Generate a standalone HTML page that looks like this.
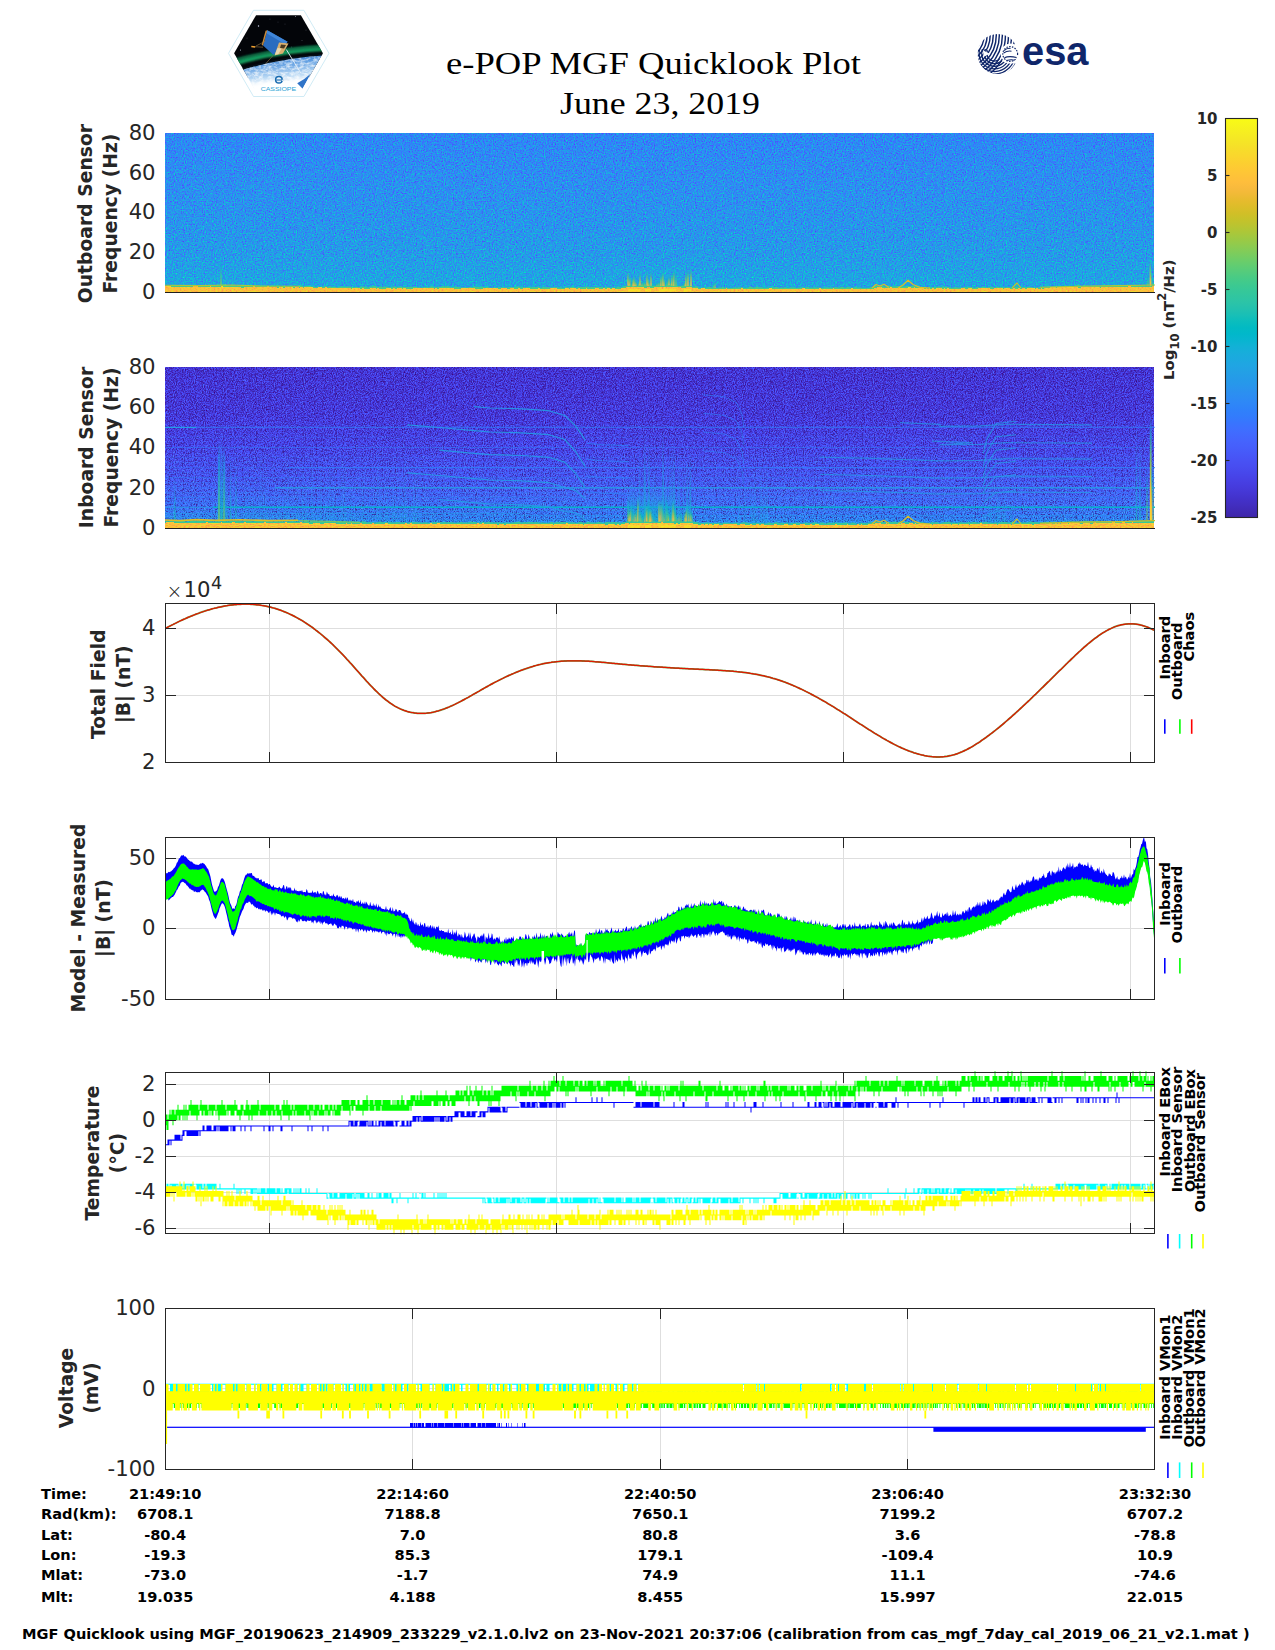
<!DOCTYPE html>
<html lang="en"><head><meta charset="utf-8"><title>e-POP MGF Quicklook Plot</title>
<style>html,body{margin:0;padding:0;background:#fff;overflow:hidden}svg{display:block}</style></head>
<body>
<svg width="1275" height="1650" viewBox="0 0 1275 1650">
<defs>
<linearGradient id="cb" x1="0" y1="1" x2="0" y2="0">
<stop offset="0.0000" stop-color="#3e26a8"/>
<stop offset="0.0159" stop-color="#402ab4"/>
<stop offset="0.0317" stop-color="#422ec0"/>
<stop offset="0.0476" stop-color="#4332cb"/>
<stop offset="0.0635" stop-color="#4537d5"/>
<stop offset="0.0794" stop-color="#463cde"/>
<stop offset="0.0952" stop-color="#4741e5"/>
<stop offset="0.1111" stop-color="#4747eb"/>
<stop offset="0.1270" stop-color="#484df0"/>
<stop offset="0.1429" stop-color="#4852f4"/>
<stop offset="0.1587" stop-color="#4758f8"/>
<stop offset="0.1746" stop-color="#465efb"/>
<stop offset="0.1905" stop-color="#4563fd"/>
<stop offset="0.2063" stop-color="#4269fe"/>
<stop offset="0.2222" stop-color="#3e6fff"/>
<stop offset="0.2381" stop-color="#3875fe"/>
<stop offset="0.2540" stop-color="#327cfc"/>
<stop offset="0.2698" stop-color="#2f81fa"/>
<stop offset="0.2857" stop-color="#2e87f7"/>
<stop offset="0.3016" stop-color="#2d8cf3"/>
<stop offset="0.3175" stop-color="#2b91ef"/>
<stop offset="0.3333" stop-color="#2797eb"/>
<stop offset="0.3492" stop-color="#259be8"/>
<stop offset="0.3651" stop-color="#23a0e5"/>
<stop offset="0.3810" stop-color="#20a5e3"/>
<stop offset="0.3968" stop-color="#1ca9df"/>
<stop offset="0.4127" stop-color="#18addb"/>
<stop offset="0.4286" stop-color="#12b1d6"/>
<stop offset="0.4444" stop-color="#08b5d0"/>
<stop offset="0.4603" stop-color="#01b8ca"/>
<stop offset="0.4762" stop-color="#02bac3"/>
<stop offset="0.4921" stop-color="#0bbdbd"/>
<stop offset="0.5079" stop-color="#19bfb6"/>
<stop offset="0.5238" stop-color="#24c1ae"/>
<stop offset="0.5397" stop-color="#2cc4a7"/>
<stop offset="0.5556" stop-color="#31c69f"/>
<stop offset="0.5714" stop-color="#37c897"/>
<stop offset="0.5873" stop-color="#3fca8e"/>
<stop offset="0.6032" stop-color="#4acb84"/>
<stop offset="0.6190" stop-color="#57cc7a"/>
<stop offset="0.6349" stop-color="#64cd6f"/>
<stop offset="0.6508" stop-color="#72cd64"/>
<stop offset="0.6667" stop-color="#81cc59"/>
<stop offset="0.6825" stop-color="#8fcb4e"/>
<stop offset="0.6984" stop-color="#9dc943"/>
<stop offset="0.7143" stop-color="#abc739"/>
<stop offset="0.7302" stop-color="#b9c431"/>
<stop offset="0.7460" stop-color="#c5c22a"/>
<stop offset="0.7619" stop-color="#d1bf27"/>
<stop offset="0.7778" stop-color="#dcbd29"/>
<stop offset="0.7937" stop-color="#e6bb2d"/>
<stop offset="0.8095" stop-color="#f0ba36"/>
<stop offset="0.8254" stop-color="#f8ba3d"/>
<stop offset="0.8413" stop-color="#febe3c"/>
<stop offset="0.8571" stop-color="#fec338"/>
<stop offset="0.8730" stop-color="#fec934"/>
<stop offset="0.8889" stop-color="#fccf30"/>
<stop offset="0.9048" stop-color="#fad62d"/>
<stop offset="0.9206" stop-color="#f7dc2a"/>
<stop offset="0.9365" stop-color="#f5e327"/>
<stop offset="0.9524" stop-color="#f5e924"/>
<stop offset="0.9683" stop-color="#f6ef20"/>
<stop offset="0.9841" stop-color="#f7f51b"/>
<stop offset="1.0000" stop-color="#f9fb15"/>
</linearGradient>
<filter id="nz1" x="0" y="0" width="100%" height="100%" color-interpolation-filters="sRGB">
<feTurbulence type="fractalNoise" baseFrequency="0.9 0.75" numOctaves="2" seed="3" result="n"/>
<feColorMatrix in="n" type="matrix" values="-0.462 0 0 0 0.731  0.836 0 0 0 0.082  -0.440 0 0 0 0.720  0 0 0 0 1" result="m"/>
<feComposite in="SourceGraphic" in2="m" operator="arithmetic" k1="0" k2="1" k3="1" k4="-0.5" result="a"/>
<feComposite in="a" in2="SourceAlpha" operator="in"/>
</filter>
<filter id="nz3" x="0" y="0" width="100%" height="100%" color-interpolation-filters="sRGB">
<feTurbulence type="fractalNoise" baseFrequency="0.5 0.9" numOctaves="2" seed="5" result="n"/>
<feColorMatrix in="n" type="matrix" values="-0.330 0 0 0 0.665  0.550 0 0 0 0.225  -0.220 0 0 0 0.610  0 0 0 0 1" result="m"/>
<feComposite in="SourceGraphic" in2="m" operator="arithmetic" k1="0" k2="1" k3="1" k4="-0.5" result="a"/>
<feComposite in="a" in2="SourceAlpha" operator="in"/>
</filter>
<filter id="nz2" x="0" y="0" width="100%" height="100%" color-interpolation-filters="sRGB">
<feTurbulence type="fractalNoise" baseFrequency="0.9 0.75" numOctaves="2" seed="9" result="n"/>
<feColorMatrix in="n" type="matrix" values="0.108 0 0 0 0.446  0.612 0 0 0 0.194  0.990 0 0 0 0.005  0 0 0 0 1" result="m"/>
<feComposite in="SourceGraphic" in2="m" operator="arithmetic" k1="0" k2="1" k3="1" k4="-0.5" result="a"/>
<feComposite in="a" in2="SourceAlpha" operator="in"/>
</filter>
<filter id="spkA" x="0" y="0" width="100%" height="100%" color-interpolation-filters="sRGB">
<feTurbulence type="fractalNoise" baseFrequency="0.85 0.7" numOctaves="1" seed="21"/>
<feColorMatrix type="matrix" values="0 0 0 0 0.300  0 0 0 0 0.300  0 0 0 0 0.950  7.00 0 0 0 -4.45"/>
</filter>
<filter id="spkB" x="0" y="0" width="100%" height="100%" color-interpolation-filters="sRGB">
<feTurbulence type="fractalNoise" baseFrequency="0.85 0.7" numOctaves="1" seed="33"/>
<feColorMatrix type="matrix" values="0 0 0 0 0.220  0 0 0 0 0.130  0 0 0 0 0.600  7.00 0 0 0 -4.00"/>
</filter>
<linearGradient id="sp1" x1="0" y1="0" x2="0" y2="1">
<stop offset="0.0000" stop-color="#2d88f6"/>
<stop offset="0.3000" stop-color="#2c8ff1"/>
<stop offset="0.6000" stop-color="#2797eb"/>
<stop offset="0.8500" stop-color="#239fe5"/>
<stop offset="1.0000" stop-color="#1da8e0"/>
</linearGradient>
<linearGradient id="sp2" x1="0" y1="0" x2="0" y2="1">
<stop offset="0.0000" stop-color="#4537d7"/>
<stop offset="0.3000" stop-color="#463cde"/>
<stop offset="0.5000" stop-color="#4747eb"/>
<stop offset="0.6800" stop-color="#4755f6"/>
<stop offset="0.8200" stop-color="#4368fe"/>
<stop offset="0.9000" stop-color="#3a74fe"/>
<stop offset="0.9500" stop-color="#2e83f9"/>
<stop offset="1.0000" stop-color="#2699e9"/>
</linearGradient>
<linearGradient id="fadeUp" x1="0" y1="1" x2="0" y2="0"><stop offset="0" stop-color="#fff" stop-opacity="1"/><stop offset="1" stop-color="#fff" stop-opacity="0"/></linearGradient>
</defs>
<text x="653.5" y="73.6" font-family="'Liberation Serif', serif" font-size="31" text-anchor="middle" fill="#000" textLength="415" lengthAdjust="spacingAndGlyphs">e-POP MGF Quicklook Plot</text>
<text x="660" y="113.5" font-family="'Liberation Serif', serif" font-size="31" text-anchor="middle" fill="#000" textLength="200" lengthAdjust="spacingAndGlyphs">June 23, 2019</text>
<g id="logo">
<defs>
<clipPath id="hexc"><polygon points="234.1,53.3 256.1,15.2 300.9,15.2 322.9,53.3 301.5,90.5 255.3,90.5"/></clipPath>
<filter id="bl1" x="-20%" y="-50%" width="140%" height="200%"><feGaussianBlur stdDeviation="1.3"/></filter>
<filter id="bl2" x="-20%" y="-20%" width="140%" height="140%"><feGaussianBlur stdDeviation="0.7"/></filter>
<filter id="bl3" x="-20%" y="-20%" width="140%" height="140%"><feGaussianBlur stdDeviation="2.2"/></filter>
<linearGradient id="earthg" x1="0" y1="0" x2="0.25" y2="1"><stop offset="0" stop-color="#2a62b8"/><stop offset="0.3" stop-color="#5a9ae0"/><stop offset="0.6" stop-color="#b8d8f4"/><stop offset="0.85" stop-color="#ffffff"/></linearGradient>
<filter id="cloud" x="0" y="0" width="100%" height="100%" color-interpolation-filters="sRGB"><feTurbulence type="fractalNoise" baseFrequency="0.22 0.4" numOctaves="3" seed="4"/><feColorMatrix type="matrix" values="0 0 0 0 1  0 0 0 0 1  0 0 0 0 1  2.6 0 0 0 -0.95"/><feComposite in2="SourceAlpha" operator="in"/></filter>
</defs>
<polygon points="228.5,53.3 253.5,10.3 303.9,10.3 329,53.3 303.9,96.5 253.5,96.5" fill="#fff" stroke="#c4e6f2" stroke-width="0.8"/>
<g clip-path="url(#hexc)">
<rect x="230" y="12" width="96" height="66" fill="#030509"/>
<circle cx="258.5" cy="26" r="0.7" fill="#cfd8f0"/>
<circle cx="240.5" cy="50" r="0.5" fill="#cfd8f0"/>
<circle cx="295.5" cy="16.5" r="0.45" fill="#cfd8f0"/>
<circle cx="270" cy="19" r="0.3" fill="#cfd8f0"/>
<circle cx="302" cy="40.5" r="0.35" fill="#cfd8f0"/>
<circle cx="291.5" cy="47" r="0.35" fill="#cfd8f0"/>
<circle cx="285" cy="24" r="0.25" fill="#cfd8f0"/>
<circle cx="306" cy="30" r="0.3" fill="#cfd8f0"/>
<circle cx="247" cy="38" r="0.25" fill="#cfd8f0"/>
<circle cx="278" cy="22" r="0.25" fill="#cfd8f0"/>
<path d="M232,63.5 Q275,50.5 326,48" fill="none" stroke="#18a060" stroke-width="5.5" filter="url(#bl1)"/>
<path d="M232,61 Q275,48.5 326,46.5" fill="none" stroke="#0e6a44" stroke-width="3" filter="url(#bl1)" opacity="0.8"/>
<path d="M230,73.2 Q276,57.2 326,54.6" fill="none" stroke="#061018" stroke-width="2.2"/>
<path d="M230,74 Q276,58 326,55.3 L326,96 L230,96Z" fill="url(#earthg)"/>
<path d="M230,74 Q276,58 326,55.3 L326,96 L230,96Z" fill="#fff" filter="url(#cloud)" opacity="0.7"/>
<path d="M240,96 L250,84 Q285,78 315,80 L326,96Z" fill="#fff" filter="url(#bl3)"/>
<path d="M310.4,74 L302.7,88.7 L297.2,83.3 Q304,80 310.4,74Z" fill="#2f74c8"/>
<polygon points="267.3,30.2 287.6,41.7 273.5,55 263,45.6" fill="#2a6cc0"/>
<polygon points="267.3,30.2 287.6,41.7 285.5,44.5 266,33" fill="#3f86d8"/>
<polygon points="267.3,30.2 265.6,30.8 261.6,45 263,45.6" fill="#c98a3a"/>
<polygon points="279,42.5 288.5,43.5 283,53.5 274.5,55.5" fill="#d9b070"/>
<polygon points="281,44.5 286,45 284,48.5 280,48" fill="#4a3a20"/>
<polygon points="277.5,48 281.5,48.5 278.5,54 274.8,54.8" fill="#e8d8b0"/>
<path d="M263,47.2 L252.5,46.6 M273,55.5 L265.8,63.6 M265.5,41 L256,46" stroke="#9a7a4a" stroke-width="0.6" fill="none"/>
<path d="M251.3,46.4 L255.2,46.9" stroke="#f0a030" stroke-width="1.5"/>
<path d="M286.3,49.5 L301,73.4" stroke="#e8f0f8" stroke-width="0.9" fill="none"/>
</g>
<circle cx="278.9" cy="79.8" r="3.3" fill="#e8f2fa" stroke="#1b6cb0" stroke-width="1.5"/>
<path d="M276.2,80 H283.5" stroke="#1b6cb0" stroke-width="1.1"/>
<path d="M281.8,80.5 Q286,79 289.5,80.3" stroke="#dfeaf5" stroke-width="1.2" fill="none"/>
<text x="278.4" y="91" font-family="'Liberation Sans', sans-serif" font-size="4.6" text-anchor="middle" fill="#2aa2d4" textLength="35.5" lengthAdjust="spacingAndGlyphs">CASSIOPE</text>
</g>
<g id="esa">
<clipPath id="esac"><circle cx="997.7" cy="54" r="20"/></clipPath>
<clipPath id="esaf1"><path d="M970,30 L1022,30 L1022,46 L1003,60 L996,70 L990,78 L970,78Z"/></clipPath>
<clipPath id="esaf2"><path d="M975,49 L986,49 L994,56 L1004,62 L1020,64 L1020,78 L975,78Z"/></clipPath>
<g clip-path="url(#esac)" fill="none" stroke="#0f266a">
<g clip-path="url(#esaf1)" stroke-width="1.45">
<circle cx="959" cy="35" r="19.00"/>
<circle cx="959" cy="35" r="22.05"/>
<circle cx="959" cy="35" r="25.10"/>
<circle cx="959" cy="35" r="28.15"/>
<circle cx="959" cy="35" r="31.20"/>
<circle cx="959" cy="35" r="34.25"/>
<circle cx="959" cy="35" r="37.30"/>
<circle cx="959" cy="35" r="40.35"/>
<circle cx="959" cy="35" r="43.40"/>
<circle cx="959" cy="35" r="46.45"/>
<circle cx="959" cy="35" r="49.50"/>
<circle cx="959" cy="35" r="52.55"/>
<circle cx="959" cy="35" r="55.60"/>
<circle cx="959" cy="35" r="58.65"/>
<circle cx="959" cy="35" r="61.70"/>
<circle cx="959" cy="35" r="64.75"/>
</g>
<g clip-path="url(#esaf2)" stroke-width="1.25">
<circle cx="994.5" cy="53.5" r="7.60"/>
<circle cx="994.5" cy="53.5" r="10.20"/>
<circle cx="994.5" cy="53.5" r="12.80"/>
<circle cx="994.5" cy="53.5" r="15.40"/>
<circle cx="994.5" cy="53.5" r="18.00"/>
<circle cx="994.5" cy="53.5" r="20.60"/>
<circle cx="994.5" cy="53.5" r="23.20"/>
<circle cx="994.5" cy="53.5" r="25.80"/>
</g>
</g>
<circle cx="1010.6" cy="53.6" r="10.2" fill="#fff"/>
<circle cx="1010.2" cy="54" r="7.4" fill="none" stroke="#0f266a" stroke-width="1.2" stroke-dasharray="1.5 1.3"/>
<rect x="1011.5" y="55.2" width="8" height="3.2" fill="#fff"/>
<path d="M1004.2,50.6 Q1007,47.6 1010.5,48.4 M1003.6,53 Q1007.5,50.4 1011.5,51.2 M1004.4,57.8 Q1009,55.6 1016.6,57.6 M1006.6,60.6 Q1011,59.2 1014.6,60.2" fill="none" stroke="#0f266a" stroke-width="1.05"/>
<path d="M983.4,50.4 L989.8,53.7 L983.4,57Z" fill="#fff"/>
<text x="1022" y="65.3" font-family="'Liberation Sans', sans-serif" font-size="41" font-weight="bold" fill="#0f266a" textLength="66.5" lengthAdjust="spacingAndGlyphs">esa</text>
</g>
<defs>
<linearGradient id="stY" x1="0" y1="1" x2="0" y2="0">
<stop offset="0.000" stop-color="#fdce31" stop-opacity="1.00"/>
<stop offset="0.150" stop-color="#eaba31" stop-opacity="0.95"/>
<stop offset="0.400" stop-color="#5fcd73" stop-opacity="0.80"/>
<stop offset="0.700" stop-color="#07bcbf" stop-opacity="0.50"/>
<stop offset="1.000" stop-color="#1caadf" stop-opacity="0.00"/>
</linearGradient>
<linearGradient id="stG" x1="0" y1="1" x2="0" y2="0">
<stop offset="0.000" stop-color="#c3c22b" stop-opacity="1.00"/>
<stop offset="0.350" stop-color="#48cb86" stop-opacity="0.95"/>
<stop offset="0.700" stop-color="#02b7cb" stop-opacity="0.60"/>
<stop offset="1.000" stop-color="#22a2e4" stop-opacity="0.00"/>
</linearGradient>
<linearGradient id="stC" x1="0" y1="1" x2="0" y2="0">
<stop offset="0.000" stop-color="#1dc0b3" stop-opacity="0.90"/>
<stop offset="0.400" stop-color="#12b1d6" stop-opacity="0.60"/>
<stop offset="1.000" stop-color="#2699e9" stop-opacity="0.00"/>
</linearGradient>
<linearGradient id="stB" x1="0" y1="1" x2="0" y2="0">
<stop offset="0.000" stop-color="#12b1d6" stop-opacity="0.80"/>
<stop offset="0.500" stop-color="#2699e9" stop-opacity="0.50"/>
<stop offset="1.000" stop-color="#2e87f7" stop-opacity="0.00"/>
</linearGradient>
<linearGradient id="hzC" x1="0" y1="1" x2="0" y2="0">
<stop offset="0.000" stop-color="#2dc4a6" stop-opacity="0.85"/>
<stop offset="0.250" stop-color="#02b7cb" stop-opacity="0.70"/>
<stop offset="0.600" stop-color="#22a2e4" stop-opacity="0.40"/>
<stop offset="1.000" stop-color="#2b90ef" stop-opacity="0.00"/>
</linearGradient>
<linearGradient id="hzY" x1="0" y1="1" x2="0" y2="0">
<stop offset="0.000" stop-color="#f8da2b" stop-opacity="1.00"/>
<stop offset="0.300" stop-color="#f9bb3d" stop-opacity="1.00"/>
<stop offset="0.550" stop-color="#92ca4b" stop-opacity="0.90"/>
<stop offset="0.800" stop-color="#1dc0b3" stop-opacity="0.60"/>
<stop offset="1.000" stop-color="#1caadf" stop-opacity="0.00"/>
</linearGradient>
</defs>
<rect x="165" y="133" width="989" height="159" fill="url(#sp1)" filter="url(#nz1)"/>
<rect x="165" y="133" width="989" height="127.2" filter="url(#spkA)" opacity="0.9"/>
<rect x="628" y="275" width="48" height="14" fill="url(#hzC)" opacity="0.7"/>
<rect x="676" y="280" width="16" height="9" fill="url(#hzC)" opacity="0.5"/>
<rect x="627.4" y="268.6" width="1.2" height="20.4" fill="url(#hzY)" opacity="1.00"/>
<rect x="628.4" y="275.5" width="1.2" height="13.5" fill="url(#hzY)" opacity="1.00"/>
<rect x="629.4" y="275" width="1.2" height="14" fill="url(#hzY)" opacity="1.00"/>
<rect x="630.4" y="280.6" width="1.2" height="8.4" fill="url(#stG)" opacity="1.00"/>
<rect x="631.4" y="279.9" width="1.2" height="9.1" fill="url(#stG)" opacity="1.00"/>
<rect x="632.4" y="276.6" width="1.2" height="12.4" fill="url(#hzY)" opacity="1.00"/>
<rect x="633.4" y="274" width="1.2" height="15" fill="url(#hzY)" opacity="1.00"/>
<rect x="634.4" y="278.4" width="1.2" height="10.6" fill="url(#hzY)" opacity="1.00"/>
<rect x="635.4" y="280" width="1.2" height="9" fill="url(#hzY)" opacity="1.00"/>
<rect x="638.4" y="280.9" width="1.2" height="8.1" fill="url(#hzY)" opacity="1.00"/>
<rect x="639.4" y="270.4" width="1.2" height="18.6" fill="url(#hzY)" opacity="1.00"/>
<rect x="641.4" y="280.9" width="1.2" height="8.1" fill="url(#hzY)" opacity="1.00"/>
<rect x="643.4" y="278.6" width="1.2" height="10.4" fill="url(#stG)" opacity="1.00"/>
<rect x="644.4" y="281" width="1.2" height="8" fill="url(#hzY)" opacity="1.00"/>
<rect x="646.4" y="269.8" width="1.2" height="19.2" fill="url(#hzY)" opacity="1.00"/>
<rect x="647.4" y="275.6" width="1.2" height="13.4" fill="url(#hzY)" opacity="1.00"/>
<rect x="648.4" y="280.3" width="1.2" height="8.7" fill="url(#hzY)" opacity="1.00"/>
<rect x="650.4" y="269.7" width="1.2" height="19.3" fill="url(#hzY)" opacity="1.00"/>
<rect x="656.4" y="282.1" width="1.2" height="6.9" fill="url(#hzY)" opacity="1.00"/>
<rect x="658.4" y="280.8" width="1.2" height="8.2" fill="url(#hzY)" opacity="1.00"/>
<rect x="659.4" y="278.9" width="1.2" height="10.1" fill="url(#stG)" opacity="1.00"/>
<rect x="660.4" y="273" width="1.2" height="16" fill="url(#hzY)" opacity="1.00"/>
<rect x="661.4" y="267.3" width="1.2" height="21.7" fill="url(#stG)" opacity="1.00"/>
<rect x="662.4" y="269.2" width="1.2" height="19.8" fill="url(#hzY)" opacity="1.00"/>
<rect x="663.4" y="277.1" width="1.2" height="11.9" fill="url(#hzY)" opacity="1.00"/>
<rect x="665.4" y="281" width="1.2" height="8" fill="url(#stG)" opacity="1.00"/>
<rect x="666.4" y="275.7" width="1.2" height="13.3" fill="url(#stG)" opacity="1.00"/>
<rect x="667.4" y="276.1" width="1.2" height="12.9" fill="url(#stG)" opacity="1.00"/>
<rect x="668.4" y="274.1" width="1.2" height="14.9" fill="url(#hzY)" opacity="1.00"/>
<rect x="670.4" y="280.7" width="1.2" height="8.3" fill="url(#hzY)" opacity="1.00"/>
<rect x="671.4" y="271.8" width="1.2" height="17.2" fill="url(#hzY)" opacity="1.00"/>
<rect x="672.4" y="267.6" width="1.2" height="21.4" fill="url(#stG)" opacity="1.00"/>
<rect x="673.4" y="268.1" width="1.2" height="20.9" fill="url(#hzY)" opacity="1.00"/>
<rect x="674.4" y="274.9" width="1.2" height="14.1" fill="url(#stG)" opacity="1.00"/>
<rect x="675.4" y="266.7" width="1.2" height="22.3" fill="url(#stG)" opacity="1.00"/>
<rect x="681.4" y="284.3" width="1.2" height="4.7" fill="url(#hzY)" opacity="1.00"/>
<rect x="682.4" y="282.1" width="1.2" height="6.9" fill="url(#stG)" opacity="1.00"/>
<rect x="683.4" y="281.4" width="1.2" height="7.6" fill="url(#stG)" opacity="1.00"/>
<rect x="684.4" y="280.7" width="1.2" height="8.3" fill="url(#hzY)" opacity="1.00"/>
<rect x="685.4" y="269.9" width="1.2" height="19.1" fill="url(#hzY)" opacity="1.00"/>
<rect x="686.4" y="269.7" width="1.2" height="19.3" fill="url(#stG)" opacity="1.00"/>
<rect x="687.4" y="267.8" width="1.2" height="21.2" fill="url(#hzY)" opacity="1.00"/>
<rect x="689.4" y="278.2" width="1.2" height="10.8" fill="url(#stG)" opacity="1.00"/>
<rect x="690.4" y="266.3" width="1.2" height="22.7" fill="url(#hzY)" opacity="1.00"/>
<rect x="173.8" y="263" width="1.3" height="26" fill="url(#stC)" opacity="0.85"/>
<rect x="220.3" y="255" width="1.3" height="34" fill="url(#stG)" opacity="0.85"/>
<rect x="222.3" y="267" width="1.3" height="22" fill="url(#stC)" opacity="0.85"/>
<rect x="233.3" y="269" width="1.3" height="20" fill="url(#stC)" opacity="0.85"/>
<rect x="1149.6" y="255" width="1.3" height="34" fill="url(#hzY)" opacity="0.85"/>
<rect x="1150.2" y="267" width="1.3" height="22" fill="url(#hzY)" opacity="0.85"/>
<rect x="1147.3" y="271" width="1.3" height="18" fill="url(#stG)" opacity="0.85"/>
<rect x="1151.8" y="275" width="1.3" height="14" fill="url(#stG)" opacity="0.85"/>
<rect x="1136.3" y="275" width="1.3" height="14" fill="url(#stC)" opacity="0.85"/>
<rect x="1142.3" y="277" width="1.3" height="12" fill="url(#stC)" opacity="0.85"/>
<rect x="714.4" y="279" width="1.3" height="10" fill="url(#stY)" opacity="0.85"/>
<rect x="712.9" y="282" width="1.3" height="7" fill="url(#stG)" opacity="0.85"/>
<path d="M165.0 292.0L165.0 285.8L166.0 285.7L167.0 285.4L168.0 285.3L169.0 285.4L170.0 285.6L171.0 285.6L172.0 285.4L173.0 285.5L174.0 285.5L175.0 285.2L176.0 285.4L177.0 285.6L178.0 285.6L179.0 285.4L180.0 285.0L181.0 284.8L182.0 284.9L183.0 285.2L184.0 285.5L185.0 285.7L186.0 285.8L187.0 285.8L188.0 285.9L189.0 285.9L190.0 285.6L191.0 285.8L192.0 286.0L193.0 285.9L194.0 285.7L195.0 285.6L196.0 285.6L197.0 285.4L198.0 285.3L199.0 285.4L200.0 285.3L201.0 285.1L202.0 285.3L203.0 285.6L204.0 285.1L205.0 284.8L206.0 285.0L207.0 285.1L208.0 285.4L209.0 285.5L210.0 285.5L211.0 285.4L212.0 285.2L213.0 285.0L214.0 285.0L215.0 285.4L216.0 285.9L217.0 285.6L218.0 285.2L219.0 285.6L220.0 286.1L221.0 286.2L222.0 285.8L223.0 285.0L224.0 284.6L225.0 284.9L226.0 285.1L227.0 285.4L228.0 285.8L229.0 285.9L230.0 285.7L231.0 285.9L232.0 285.8L233.0 285.3L234.0 285.4L235.0 285.7L236.0 285.9L237.0 286.0L238.0 285.6L239.0 285.2L240.0 285.2L241.0 285.8L242.0 286.0L243.0 285.7L244.0 285.7L245.0 285.9L246.0 286.0L247.0 285.8L248.0 285.7L249.0 285.7L250.0 285.8L251.0 285.8L252.0 285.4L253.0 285.4L254.0 285.9L255.0 286.3L256.0 286.1L257.0 285.6L258.0 285.5L259.0 285.9L260.0 285.8L261.0 285.5L262.0 285.6L263.0 285.8L264.0 285.4L265.0 285.4L266.0 285.8L267.0 285.4L268.0 285.2L269.0 285.3L270.0 285.7L271.0 285.8L272.0 285.4L273.0 285.5L274.0 286.0L275.0 285.9L276.0 285.5L277.0 285.6L278.0 285.7L279.0 285.5L280.0 285.4L281.0 285.7L282.0 286.0L283.0 285.9L284.0 285.8L285.0 285.7L286.0 285.7L287.0 286.1L288.0 286.5L289.0 286.5L290.0 286.5L291.0 286.4L292.0 286.1L293.0 286.2L294.0 286.5L295.0 286.5L296.0 286.4L297.0 286.4L298.0 286.3L299.0 286.0L300.0 285.7L301.0 285.3L302.0 285.5L303.0 286.3L304.0 286.4L305.0 286.2L306.0 286.1L307.0 286.0L308.0 286.1L309.0 285.9L310.0 285.7L311.0 286.0L312.0 286.7L313.0 286.6L314.0 286.4L315.0 286.8L316.0 287.0L317.0 286.7L318.0 286.6L319.0 287.0L320.0 287.3L321.0 287.2L322.0 286.7L323.0 286.5L324.0 286.5L325.0 286.3L326.0 286.4L327.0 286.6L328.0 286.7L329.0 286.4L330.0 286.2L331.0 286.6L332.0 287.1L333.0 287.0L334.0 286.8L335.0 286.8L336.0 287.0L337.0 287.4L338.0 287.4L339.0 287.0L340.0 286.6L341.0 286.4L342.0 286.5L343.0 286.5L344.0 286.5L345.0 286.9L346.0 286.9L347.0 286.5L348.0 286.5L349.0 286.6L350.0 286.6L351.0 286.7L352.0 287.0L353.0 287.5L354.0 287.4L355.0 286.9L356.0 287.0L357.0 287.1L358.0 287.2L359.0 287.4L360.0 287.0L361.0 286.5L362.0 286.4L363.0 286.4L364.0 286.5L365.0 286.8L366.0 287.1L367.0 287.5L368.0 287.6L369.0 287.2L370.0 286.7L371.0 286.4L372.0 286.4L373.0 286.3L374.0 286.1L375.0 286.1L376.0 286.6L377.0 287.2L378.0 287.4L379.0 287.1L380.0 286.6L381.0 286.6L382.0 286.9L383.0 286.8L384.0 286.5L385.0 286.6L386.0 287.0L387.0 286.7L388.0 286.8L389.0 287.5L390.0 287.6L391.0 287.4L392.0 287.1L393.0 286.6L394.0 286.5L395.0 286.5L396.0 286.7L397.0 287.2L398.0 287.3L399.0 287.0L400.0 286.8L401.0 286.5L402.0 286.7L403.0 286.9L404.0 286.8L405.0 287.1L406.0 287.2L407.0 286.9L408.0 287.0L409.0 287.2L410.0 286.7L411.0 286.6L412.0 286.9L413.0 286.7L414.0 286.8L415.0 287.1L416.0 286.9L417.0 287.1L418.0 287.4L419.0 287.3L420.0 287.4L421.0 287.7L422.0 287.8L423.0 287.6L424.0 287.2L425.0 287.1L426.0 287.3L427.0 287.2L428.0 287.5L429.0 287.4L430.0 286.8L431.0 286.3L432.0 286.3L433.0 286.6L434.0 287.2L435.0 287.4L436.0 287.3L437.0 287.3L438.0 287.1L439.0 286.8L440.0 286.7L441.0 286.8L442.0 286.4L443.0 286.1L444.0 286.4L445.0 286.6L446.0 286.5L447.0 286.3L448.0 286.2L449.0 286.4L450.0 287.0L451.0 287.4L452.0 287.2L453.0 287.3L454.0 287.3L455.0 286.7L456.0 286.5L457.0 286.9L458.0 287.1L459.0 287.2L460.0 287.4L461.0 287.3L462.0 287.4L463.0 287.4L464.0 287.2L465.0 287.4L466.0 287.6L467.0 287.7L468.0 287.4L469.0 286.9L470.0 286.9L471.0 287.1L472.0 287.5L473.0 287.3L474.0 286.6L475.0 286.6L476.0 286.9L477.0 286.7L478.0 286.7L479.0 287.1L480.0 287.3L481.0 287.1L482.0 286.6L483.0 286.7L484.0 287.2L485.0 287.7L486.0 287.4L487.0 286.8L488.0 286.9L489.0 287.5L490.0 287.8L491.0 287.7L492.0 287.7L493.0 287.6L494.0 287.6L495.0 287.7L496.0 287.9L497.0 287.7L498.0 287.5L499.0 287.3L500.0 287.1L501.0 287.2L502.0 287.4L503.0 287.3L504.0 287.5L505.0 287.6L506.0 287.6L507.0 287.7L508.0 287.5L509.0 287.1L510.0 287.0L511.0 287.1L512.0 286.9L513.0 287.0L514.0 287.1L515.0 287.2L516.0 287.1L517.0 286.6L518.0 286.4L519.0 286.4L520.0 286.8L521.0 287.4L522.0 287.2L523.0 286.9L524.0 287.4L525.0 287.6L526.0 287.2L527.0 287.1L528.0 287.3L529.0 287.3L530.0 287.2L531.0 287.4L532.0 287.2L533.0 287.0L534.0 287.0L535.0 287.1L536.0 287.3L537.0 286.8L538.0 286.7L539.0 287.3L540.0 287.8L541.0 287.9L542.0 287.5L543.0 286.9L544.0 286.9L545.0 287.3L546.0 287.6L547.0 287.3L548.0 287.0L549.0 287.5L550.0 287.6L551.0 287.4L552.0 287.6L553.0 287.5L554.0 287.1L555.0 287.2L556.0 287.2L557.0 287.2L558.0 287.5L559.0 287.7L560.0 287.4L561.0 287.2L562.0 287.7L563.0 287.9L564.0 287.7L565.0 287.5L566.0 287.3L567.0 287.2L568.0 287.3L569.0 287.4L570.0 287.2L571.0 286.8L572.0 286.8L573.0 286.9L574.0 287.1L575.0 287.7L576.0 287.7L577.0 287.2L578.0 287.3L579.0 287.4L580.0 287.3L581.0 287.1L582.0 287.0L583.0 287.0L584.0 286.9L585.0 286.8L586.0 286.8L587.0 286.8L588.0 286.8L589.0 287.2L590.0 287.6L591.0 287.1L592.0 287.0L593.0 287.3L594.0 287.0L595.0 286.8L596.0 287.1L597.0 287.2L598.0 286.9L599.0 286.9L600.0 286.9L601.0 286.8L602.0 287.0L603.0 287.4L604.0 287.7L605.0 287.3L606.0 287.1L607.0 287.2L608.0 287.1L609.0 287.3L610.0 287.5L611.0 287.4L612.0 287.4L613.0 287.4L614.0 287.4L615.0 287.7L616.0 287.7L617.0 287.2L618.0 286.8L619.0 286.8L620.0 287.2L621.0 287.4L622.0 287.3L623.0 286.7L624.0 286.2L625.0 286.1L626.0 285.8L627.0 285.6L628.0 285.7L629.0 286.0L630.0 285.5L631.0 285.4L632.0 286.2L633.0 286.6L634.0 286.3L635.0 285.9L636.0 285.9L637.0 285.7L638.0 285.5L639.0 285.4L640.0 285.4L641.0 285.8L642.0 285.9L643.0 285.3L644.0 285.2L645.0 285.6L646.0 285.6L647.0 285.8L648.0 286.1L649.0 285.9L650.0 285.7L651.0 285.7L652.0 285.8L653.0 285.7L654.0 285.5L655.0 285.7L656.0 286.0L657.0 285.7L658.0 285.6L659.0 285.8L660.0 286.1L661.0 286.3L662.0 286.0L663.0 285.9L664.0 286.0L665.0 286.3L666.0 286.4L667.0 286.1L668.0 285.4L669.0 285.1L670.0 285.3L671.0 285.6L672.0 285.8L673.0 286.0L674.0 285.9L675.0 285.7L676.0 285.7L677.0 285.9L678.0 285.9L679.0 286.0L680.0 285.8L681.0 286.0L682.0 286.4L683.0 286.2L684.0 285.8L685.0 286.0L686.0 286.3L687.0 286.2L688.0 285.8L689.0 285.9L690.0 286.1L691.0 286.0L692.0 286.2L693.0 286.8L694.0 286.9L695.0 286.6L696.0 286.1L697.0 286.3L698.0 287.1L699.0 287.7L700.0 287.8L701.0 287.8L702.0 287.9L703.0 287.6L704.0 287.2L705.0 287.6L706.0 288.1L707.0 287.7L708.0 287.1L709.0 287.0L710.0 287.0L711.0 287.3L712.0 287.8L713.0 287.8L714.0 287.8L715.0 287.9L716.0 288.0L717.0 288.1L718.0 287.9L719.0 287.5L720.0 287.7L721.0 287.6L722.0 287.2L723.0 287.1L724.0 287.6L725.0 287.7L726.0 287.4L727.0 287.6L728.0 288.0L729.0 288.0L730.0 287.9L731.0 287.9L732.0 287.9L733.0 287.7L734.0 287.5L735.0 287.4L736.0 287.4L737.0 287.7L738.0 287.5L739.0 287.2L740.0 287.4L741.0 287.3L742.0 287.1L743.0 287.4L744.0 288.1L745.0 288.1L746.0 287.7L747.0 287.9L748.0 287.7L749.0 286.9L750.0 286.6L751.0 286.8L752.0 287.2L753.0 287.5L754.0 287.6L755.0 287.4L756.0 287.0L757.0 286.7L758.0 286.9L759.0 287.4L760.0 287.4L761.0 287.3L762.0 287.5L763.0 287.6L764.0 287.9L765.0 288.0L766.0 287.9L767.0 287.6L768.0 287.6L769.0 287.7L770.0 287.9L771.0 287.8L772.0 287.2L773.0 287.2L774.0 287.4L775.0 287.1L776.0 286.9L777.0 286.9L778.0 287.5L779.0 288.1L780.0 288.0L781.0 287.4L782.0 287.4L783.0 287.7L784.0 287.6L785.0 287.3L786.0 287.4L787.0 288.0L788.0 288.1L789.0 287.9L790.0 287.6L791.0 287.3L792.0 287.5L793.0 287.6L794.0 287.4L795.0 287.5L796.0 287.9L797.0 287.9L798.0 287.8L799.0 287.8L800.0 287.5L801.0 287.2L802.0 287.2L803.0 287.5L804.0 287.8L805.0 287.9L806.0 287.6L807.0 287.0L808.0 287.1L809.0 287.5L810.0 287.8L811.0 287.9L812.0 287.5L813.0 287.4L814.0 287.7L815.0 287.6L816.0 287.4L817.0 287.4L818.0 287.6L819.0 287.6L820.0 287.6L821.0 287.8L822.0 287.8L823.0 287.9L824.0 287.8L825.0 287.5L826.0 287.6L827.0 287.6L828.0 287.5L829.0 287.7L830.0 287.6L831.0 287.5L832.0 287.6L833.0 287.8L834.0 287.6L835.0 287.2L836.0 287.2L837.0 287.3L838.0 287.5L839.0 287.7L840.0 287.5L841.0 287.0L842.0 286.7L843.0 287.0L844.0 287.6L845.0 288.0L846.0 287.7L847.0 287.1L848.0 287.0L849.0 287.3L850.0 287.6L851.0 287.8L852.0 287.8L853.0 287.8L854.0 287.4L855.0 287.0L856.0 287.1L857.0 287.7L858.0 287.8L859.0 287.5L860.0 287.6L861.0 287.8L862.0 287.7L863.0 288.0L864.0 288.3L865.0 288.3L866.0 288.0L867.0 287.8L868.0 288.1L869.0 288.1L870.0 287.5L871.0 287.1L872.0 287.4L873.0 287.1L874.0 286.2L875.0 285.8L876.0 285.7L877.0 285.9L878.0 286.3L879.0 286.3L880.0 286.2L881.0 285.8L882.0 285.8L883.0 286.3L884.0 286.4L885.0 286.5L886.0 286.4L887.0 286.2L888.0 286.1L889.0 285.8L890.0 285.8L891.0 286.3L892.0 286.5L893.0 286.3L894.0 286.4L895.0 286.4L896.0 286.3L897.0 286.0L898.0 286.1L899.0 286.2L900.0 286.2L901.0 286.6L902.0 286.8L903.0 286.7L904.0 286.6L905.0 286.4L906.0 286.1L907.0 285.9L908.0 286.0L909.0 286.3L910.0 286.3L911.0 285.8L912.0 285.7L913.0 286.1L914.0 286.1L915.0 285.9L916.0 286.3L917.0 286.4L918.0 286.2L919.0 286.7L920.0 287.0L921.0 286.6L922.0 286.8L923.0 287.0L924.0 287.1L925.0 287.4L926.0 287.3L927.0 287.7L928.0 287.7L929.0 287.1L930.0 287.3L931.0 287.4L932.0 287.0L933.0 287.0L934.0 286.9L935.0 287.2L936.0 287.4L937.0 287.1L938.0 286.6L939.0 286.5L940.0 286.9L941.0 287.1L942.0 286.8L943.0 286.6L944.0 286.9L945.0 286.8L946.0 286.7L947.0 286.8L948.0 287.1L949.0 287.3L950.0 287.3L951.0 287.7L952.0 287.9L953.0 287.7L954.0 287.5L955.0 287.3L956.0 287.2L957.0 287.3L958.0 287.4L959.0 287.7L960.0 287.6L961.0 287.4L962.0 287.4L963.0 287.4L964.0 287.1L965.0 287.1L966.0 287.3L967.0 287.3L968.0 286.9L969.0 287.0L970.0 287.3L971.0 287.1L972.0 287.1L973.0 287.5L974.0 287.8L975.0 287.9L976.0 287.6L977.0 287.1L978.0 286.9L979.0 287.4L980.0 287.8L981.0 287.5L982.0 286.7L983.0 286.6L984.0 287.3L985.0 287.6L986.0 287.5L987.0 287.5L988.0 287.6L989.0 287.1L990.0 286.9L991.0 286.9L992.0 286.7L993.0 286.9L994.0 287.5L995.0 287.8L996.0 287.3L997.0 286.7L998.0 286.8L999.0 287.2L1000.0 287.0L1001.0 287.1L1002.0 287.2L1003.0 287.2L1004.0 287.3L1005.0 287.6L1006.0 287.5L1007.0 287.3L1008.0 287.1L1009.0 287.3L1010.0 287.6L1011.0 287.7L1012.0 287.8L1013.0 287.8L1014.0 287.6L1015.0 287.1L1016.0 286.5L1017.0 286.6L1018.0 287.0L1019.0 287.5L1020.0 287.6L1021.0 287.3L1022.0 287.3L1023.0 287.3L1024.0 287.2L1025.0 287.3L1026.0 287.2L1027.0 287.2L1028.0 287.1L1029.0 286.7L1030.0 286.9L1031.0 287.1L1032.0 287.1L1033.0 287.5L1034.0 287.8L1035.0 287.7L1036.0 287.6L1037.0 287.6L1038.0 287.5L1039.0 287.3L1040.0 287.3L1041.0 287.5L1042.0 287.5L1043.0 287.1L1044.0 286.7L1045.0 286.9L1046.0 287.4L1047.0 287.3L1048.0 286.9L1049.0 287.2L1050.0 287.3L1051.0 286.9L1052.0 286.6L1053.0 286.6L1054.0 286.9L1055.0 287.0L1056.0 286.7L1057.0 286.8L1058.0 286.8L1059.0 286.6L1060.0 286.7L1061.0 286.3L1062.0 285.9L1063.0 286.1L1064.0 286.1L1065.0 285.8L1066.0 285.7L1067.0 286.1L1068.0 286.1L1069.0 285.6L1070.0 285.8L1071.0 286.3L1072.0 286.3L1073.0 286.0L1074.0 285.9L1075.0 286.1L1076.0 285.8L1077.0 285.3L1078.0 285.1L1079.0 285.3L1080.0 285.7L1081.0 286.3L1082.0 286.6L1083.0 286.3L1084.0 285.6L1085.0 285.7L1086.0 286.0L1087.0 285.7L1088.0 285.8L1089.0 286.3L1090.0 286.1L1091.0 286.2L1092.0 286.2L1093.0 285.9L1094.0 285.9L1095.0 285.9L1096.0 285.7L1097.0 285.8L1098.0 286.2L1099.0 286.3L1100.0 286.2L1101.0 286.0L1102.0 285.6L1103.0 285.4L1104.0 285.5L1105.0 285.8L1106.0 285.9L1107.0 285.6L1108.0 285.6L1109.0 286.0L1110.0 286.3L1111.0 286.0L1112.0 285.4L1113.0 285.3L1114.0 285.6L1115.0 285.6L1116.0 285.6L1117.0 285.4L1118.0 285.1L1119.0 285.3L1120.0 285.9L1121.0 285.7L1122.0 285.3L1123.0 285.7L1124.0 286.2L1125.0 286.1L1126.0 285.9L1127.0 286.0L1128.0 286.0L1129.0 285.8L1130.0 285.4L1131.0 284.9L1132.0 285.0L1133.0 285.7L1134.0 285.9L1135.0 285.4L1136.0 285.4L1137.0 285.5L1138.0 285.1L1139.0 285.2L1140.0 285.7L1141.0 285.9L1142.0 286.0L1143.0 285.7L1144.0 285.6L1145.0 286.1L1146.0 286.3L1147.0 286.1L1148.0 285.9L1149.0 286.2L1150.0 286.2L1151.0 286.0L1152.0 285.7L1153.0 285.6L1154.0 285.9L1154.0 292.0Z" fill="#48cb86"/>
<path d="M165.0 292.0L165.0 286.6L166.0 286.4L167.0 286.6L168.0 286.4L169.0 286.0L170.0 286.2L171.0 286.8L172.0 287.2L173.0 287.1L174.0 287.0L175.0 287.0L176.0 286.8L177.0 286.6L178.0 286.6L179.0 286.5L180.0 286.7L181.0 287.0L182.0 286.9L183.0 286.8L184.0 286.9L185.0 286.8L186.0 286.6L187.0 286.8L188.0 287.0L189.0 286.6L190.0 286.5L191.0 286.8L192.0 287.0L193.0 286.7L194.0 286.1L195.0 286.0L196.0 286.1L197.0 286.1L198.0 286.3L199.0 286.8L200.0 287.1L201.0 286.7L202.0 286.7L203.0 286.9L204.0 287.1L205.0 286.9L206.0 286.9L207.0 287.1L208.0 287.1L209.0 286.7L210.0 286.4L211.0 286.6L212.0 287.0L213.0 287.1L214.0 287.0L215.0 287.2L216.0 287.2L217.0 287.1L218.0 287.2L219.0 287.1L220.0 286.8L221.0 286.6L222.0 286.4L223.0 286.5L224.0 286.6L225.0 286.8L226.0 286.8L227.0 286.9L228.0 286.9L229.0 287.0L230.0 287.2L231.0 287.4L232.0 287.1L233.0 286.7L234.0 286.8L235.0 286.8L236.0 286.6L237.0 286.6L238.0 286.8L239.0 287.0L240.0 287.4L241.0 287.6L242.0 287.5L243.0 287.6L244.0 287.6L245.0 287.4L246.0 287.2L247.0 287.0L248.0 286.6L249.0 286.6L250.0 286.7L251.0 286.9L252.0 286.9L253.0 286.5L254.0 286.4L255.0 286.6L256.0 286.8L257.0 286.6L258.0 286.6L259.0 286.6L260.0 286.5L261.0 286.8L262.0 287.1L263.0 287.2L264.0 287.4L265.0 287.4L266.0 286.9L267.0 286.5L268.0 286.3L269.0 286.5L270.0 287.1L271.0 287.4L272.0 287.1L273.0 286.6L274.0 286.6L275.0 287.0L276.0 287.3L277.0 287.5L278.0 287.7L279.0 287.5L280.0 286.9L281.0 287.0L282.0 287.4L283.0 287.6L284.0 287.7L285.0 287.5L286.0 287.0L287.0 286.9L288.0 287.2L289.0 287.3L290.0 286.9L291.0 286.7L292.0 287.2L293.0 287.8L294.0 288.0L295.0 287.6L296.0 287.0L297.0 286.8L298.0 287.0L299.0 287.5L300.0 287.5L301.0 287.0L302.0 286.9L303.0 287.5L304.0 287.6L305.0 287.3L306.0 287.3L307.0 287.4L308.0 287.5L309.0 287.3L310.0 287.0L311.0 287.2L312.0 287.4L313.0 287.6L314.0 287.9L315.0 288.0L316.0 287.6L317.0 287.5L318.0 287.6L319.0 287.4L320.0 287.1L321.0 287.2L322.0 287.8L323.0 288.2L324.0 288.0L325.0 287.5L326.0 287.2L327.0 287.5L328.0 287.9L329.0 288.0L330.0 287.6L331.0 287.7L332.0 288.3L333.0 288.3L334.0 287.7L335.0 287.7L336.0 288.2L337.0 288.5L338.0 288.3L339.0 288.4L340.0 288.4L341.0 288.1L342.0 287.9L343.0 288.1L344.0 288.1L345.0 287.8L346.0 287.9L347.0 288.1L348.0 287.8L349.0 287.7L350.0 288.0L351.0 288.7L352.0 288.7L353.0 288.3L354.0 288.3L355.0 288.5L356.0 288.3L357.0 288.0L358.0 287.9L359.0 288.1L360.0 288.5L361.0 288.7L362.0 288.5L363.0 288.1L364.0 288.3L365.0 288.9L366.0 288.8L367.0 288.6L368.0 288.8L369.0 288.8L370.0 288.5L371.0 288.3L372.0 288.1L373.0 288.2L374.0 288.3L375.0 288.4L376.0 288.6L377.0 288.5L378.0 288.3L379.0 288.6L380.0 288.8L381.0 288.6L382.0 288.6L383.0 289.0L384.0 288.9L385.0 288.7L386.0 288.5L387.0 288.1L388.0 287.9L389.0 288.0L390.0 288.1L391.0 288.5L392.0 288.8L393.0 288.6L394.0 288.4L395.0 288.4L396.0 288.7L397.0 288.6L398.0 288.2L399.0 288.4L400.0 288.3L401.0 288.1L402.0 288.5L403.0 288.6L404.0 288.3L405.0 288.1L406.0 288.4L407.0 288.7L408.0 288.8L409.0 288.9L410.0 288.7L411.0 288.4L412.0 288.7L413.0 288.5L414.0 287.8L415.0 287.7L416.0 288.0L417.0 288.1L418.0 288.1L419.0 288.1L420.0 288.2L421.0 288.3L422.0 288.4L423.0 288.4L424.0 288.1L425.0 288.0L426.0 288.2L427.0 288.2L428.0 288.2L429.0 288.3L430.0 288.6L431.0 288.3L432.0 287.8L433.0 287.9L434.0 288.5L435.0 288.5L436.0 288.2L437.0 288.5L438.0 288.7L439.0 288.4L440.0 288.2L441.0 288.2L442.0 288.3L443.0 288.4L444.0 288.5L445.0 288.4L446.0 288.0L447.0 287.9L448.0 287.9L449.0 288.0L450.0 288.2L451.0 287.9L452.0 287.9L453.0 288.2L454.0 288.5L455.0 288.6L456.0 288.5L457.0 288.5L458.0 288.7L459.0 288.9L460.0 288.9L461.0 288.5L462.0 288.3L463.0 288.1L464.0 287.8L465.0 288.0L466.0 288.5L467.0 288.4L468.0 288.2L469.0 288.2L470.0 288.3L471.0 288.2L472.0 288.1L473.0 288.3L474.0 288.3L475.0 288.4L476.0 288.7L477.0 288.8L478.0 289.0L479.0 289.1L480.0 289.2L481.0 289.0L482.0 288.8L483.0 288.5L484.0 288.2L485.0 288.1L486.0 288.1L487.0 288.1L488.0 288.2L489.0 288.2L490.0 288.2L491.0 288.4L492.0 288.4L493.0 288.0L494.0 288.2L495.0 288.6L496.0 288.3L497.0 288.2L498.0 288.7L499.0 288.7L500.0 288.5L501.0 288.6L502.0 288.4L503.0 288.2L504.0 288.2L505.0 288.1L506.0 288.1L507.0 288.4L508.0 288.7L509.0 288.8L510.0 288.7L511.0 288.3L512.0 287.9L513.0 288.0L514.0 288.8L515.0 289.2L516.0 289.2L517.0 288.8L518.0 288.4L519.0 288.3L520.0 288.4L521.0 288.7L522.0 289.0L523.0 288.6L524.0 287.9L525.0 287.9L526.0 288.4L527.0 288.5L528.0 288.3L529.0 288.3L530.0 288.6L531.0 288.8L532.0 288.9L533.0 288.8L534.0 288.9L535.0 288.9L536.0 288.7L537.0 288.7L538.0 288.5L539.0 288.3L540.0 288.4L541.0 288.7L542.0 288.7L543.0 288.4L544.0 288.7L545.0 288.7L546.0 288.5L547.0 288.6L548.0 288.5L549.0 288.6L550.0 288.5L551.0 288.2L552.0 288.3L553.0 288.4L554.0 288.3L555.0 288.1L556.0 288.2L557.0 288.6L558.0 289.0L559.0 288.8L560.0 288.7L561.0 288.7L562.0 288.7L563.0 288.8L564.0 288.7L565.0 288.4L566.0 288.3L567.0 288.1L568.0 288.3L569.0 288.5L570.0 288.5L571.0 288.3L572.0 288.4L573.0 288.2L574.0 287.8L575.0 287.9L576.0 288.4L577.0 288.7L578.0 288.5L579.0 288.3L580.0 288.5L581.0 288.7L582.0 288.9L583.0 289.1L584.0 289.1L585.0 288.9L586.0 288.4L587.0 288.2L588.0 288.9L589.0 289.0L590.0 288.6L591.0 288.6L592.0 288.8L593.0 289.1L594.0 289.0L595.0 288.5L596.0 288.2L597.0 288.0L598.0 288.1L599.0 288.5L600.0 288.6L601.0 288.6L602.0 288.7L603.0 288.5L604.0 288.2L605.0 288.4L606.0 288.8L607.0 288.4L608.0 287.9L609.0 288.0L610.0 288.6L611.0 288.9L612.0 288.4L613.0 288.0L614.0 288.2L615.0 288.6L616.0 288.6L617.0 288.6L618.0 288.7L619.0 288.5L620.0 288.7L621.0 288.7L622.0 288.2L623.0 288.2L624.0 288.5L625.0 288.1L626.0 287.5L627.0 287.4L628.0 287.0L629.0 287.0L630.0 287.5L631.0 287.3L632.0 287.0L633.0 286.9L634.0 286.9L635.0 287.1L636.0 287.3L637.0 287.3L638.0 286.9L639.0 286.7L640.0 287.1L641.0 287.4L642.0 287.4L643.0 287.4L644.0 287.5L645.0 287.5L646.0 287.5L647.0 287.5L648.0 287.3L649.0 287.1L650.0 287.5L651.0 287.8L652.0 287.9L653.0 287.8L654.0 287.4L655.0 286.8L656.0 286.7L657.0 287.1L658.0 287.1L659.0 286.9L660.0 287.0L661.0 287.1L662.0 287.3L663.0 287.4L664.0 287.3L665.0 287.4L666.0 287.2L667.0 286.8L668.0 287.1L669.0 287.2L670.0 286.9L671.0 286.7L672.0 287.1L673.0 287.4L674.0 287.3L675.0 287.4L676.0 287.1L677.0 286.9L678.0 287.3L679.0 287.3L680.0 287.2L681.0 287.5L682.0 287.8L683.0 287.9L684.0 287.9L685.0 287.8L686.0 287.5L687.0 287.0L688.0 286.8L689.0 286.8L690.0 286.8L691.0 287.0L692.0 287.4L693.0 287.7L694.0 288.0L695.0 287.9L696.0 287.7L697.0 288.2L698.0 288.7L699.0 289.0L700.0 288.8L701.0 288.3L702.0 288.1L703.0 288.2L704.0 288.2L705.0 288.5L706.0 288.9L707.0 288.9L708.0 288.6L709.0 288.5L710.0 288.6L711.0 288.9L712.0 288.9L713.0 288.7L714.0 288.6L715.0 288.7L716.0 288.7L717.0 288.6L718.0 288.6L719.0 288.8L720.0 289.1L721.0 289.2L722.0 289.0L723.0 288.7L724.0 288.6L725.0 288.7L726.0 288.4L727.0 288.5L728.0 288.9L729.0 288.9L730.0 288.6L731.0 288.7L732.0 288.8L733.0 288.7L734.0 288.7L735.0 288.6L736.0 288.9L737.0 289.0L738.0 288.9L739.0 288.9L740.0 288.7L741.0 288.4L742.0 288.3L743.0 288.4L744.0 288.9L745.0 289.3L746.0 289.4L747.0 289.3L748.0 289.1L749.0 289.3L750.0 289.4L751.0 289.2L752.0 288.9L753.0 288.7L754.0 288.8L755.0 289.0L756.0 289.3L757.0 289.3L758.0 289.0L759.0 289.0L760.0 289.1L761.0 288.8L762.0 288.6L763.0 288.9L764.0 289.3L765.0 289.4L766.0 289.3L767.0 289.3L768.0 288.9L769.0 288.4L770.0 288.2L771.0 288.2L772.0 288.5L773.0 288.7L774.0 288.5L775.0 288.8L776.0 289.0L777.0 288.9L778.0 288.8L779.0 288.5L780.0 288.6L781.0 288.9L782.0 288.9L783.0 288.6L784.0 288.6L785.0 288.8L786.0 289.1L787.0 289.0L788.0 288.7L789.0 288.7L790.0 288.6L791.0 288.6L792.0 289.0L793.0 289.2L794.0 288.9L795.0 288.8L796.0 289.0L797.0 289.3L798.0 289.3L799.0 289.0L800.0 288.9L801.0 289.0L802.0 288.6L803.0 288.3L804.0 288.4L805.0 288.6L806.0 289.1L807.0 289.4L808.0 289.3L809.0 289.3L810.0 288.9L811.0 288.7L812.0 288.7L813.0 288.6L814.0 288.9L815.0 289.1L816.0 288.9L817.0 288.9L818.0 289.0L819.0 288.7L820.0 288.3L821.0 288.5L822.0 288.7L823.0 288.7L824.0 289.0L825.0 289.1L826.0 288.8L827.0 288.7L828.0 289.0L829.0 288.9L830.0 288.9L831.0 289.1L832.0 288.7L833.0 288.4L834.0 288.6L835.0 288.9L836.0 288.8L837.0 288.7L838.0 288.5L839.0 288.8L840.0 289.1L841.0 288.8L842.0 288.7L843.0 288.8L844.0 288.7L845.0 289.0L846.0 289.1L847.0 288.8L848.0 288.9L849.0 289.3L850.0 289.2L851.0 288.6L852.0 288.4L853.0 288.5L854.0 288.6L855.0 288.9L856.0 289.1L857.0 289.2L858.0 289.1L859.0 288.9L860.0 289.1L861.0 289.2L862.0 288.9L863.0 289.0L864.0 289.1L865.0 289.4L866.0 289.3L867.0 288.9L868.0 288.6L869.0 288.7L870.0 288.9L871.0 288.7L872.0 288.8L873.0 288.8L874.0 288.4L875.0 287.9L876.0 287.8L877.0 287.6L878.0 287.2L879.0 287.1L880.0 287.0L881.0 287.2L882.0 287.5L883.0 287.7L884.0 287.9L885.0 287.8L886.0 287.5L887.0 287.7L888.0 288.2L889.0 288.1L890.0 287.5L891.0 287.3L892.0 287.5L893.0 287.7L894.0 287.5L895.0 287.6L896.0 288.1L897.0 288.0L898.0 287.4L899.0 287.1L900.0 287.4L901.0 287.7L902.0 287.7L903.0 287.7L904.0 287.7L905.0 287.8L906.0 288.1L907.0 287.8L908.0 287.4L909.0 287.2L910.0 287.3L911.0 287.6L912.0 287.7L913.0 287.7L914.0 287.5L915.0 287.4L916.0 287.7L917.0 288.0L918.0 287.9L919.0 287.8L920.0 288.1L921.0 288.4L922.0 288.1L923.0 287.9L924.0 288.4L925.0 288.7L926.0 288.4L927.0 288.5L928.0 288.7L929.0 288.4L930.0 288.4L931.0 288.8L932.0 288.7L933.0 288.3L934.0 288.4L935.0 288.8L936.0 288.7L937.0 288.3L938.0 288.2L939.0 288.1L940.0 288.2L941.0 288.4L942.0 288.6L943.0 288.7L944.0 288.4L945.0 288.6L946.0 288.9L947.0 288.4L948.0 288.2L949.0 288.6L950.0 288.8L951.0 288.7L952.0 288.5L953.0 288.5L954.0 288.8L955.0 289.0L956.0 289.2L957.0 289.3L958.0 288.8L959.0 288.5L960.0 288.6L961.0 288.6L962.0 288.2L963.0 287.9L964.0 288.1L965.0 288.7L966.0 288.7L967.0 288.5L968.0 288.6L969.0 288.3L970.0 287.9L971.0 288.1L972.0 288.4L973.0 288.7L974.0 289.0L975.0 289.1L976.0 288.8L977.0 288.7L978.0 288.5L979.0 288.0L980.0 288.0L981.0 288.4L982.0 288.4L983.0 288.1L984.0 288.3L985.0 288.5L986.0 288.3L987.0 288.3L988.0 288.3L989.0 288.3L990.0 288.5L991.0 288.5L992.0 288.6L993.0 288.6L994.0 288.5L995.0 288.4L996.0 288.3L997.0 288.3L998.0 288.5L999.0 288.3L1000.0 287.9L1001.0 288.0L1002.0 288.3L1003.0 288.5L1004.0 288.5L1005.0 288.1L1006.0 288.1L1007.0 288.3L1008.0 288.3L1009.0 288.1L1010.0 288.4L1011.0 289.0L1012.0 288.9L1013.0 288.4L1014.0 288.3L1015.0 288.4L1016.0 288.7L1017.0 288.8L1018.0 288.5L1019.0 288.4L1020.0 288.6L1021.0 288.7L1022.0 288.6L1023.0 288.0L1024.0 288.0L1025.0 288.9L1026.0 289.1L1027.0 288.5L1028.0 288.1L1029.0 288.0L1030.0 288.1L1031.0 288.4L1032.0 288.4L1033.0 288.1L1034.0 288.2L1035.0 288.6L1036.0 288.5L1037.0 288.4L1038.0 288.6L1039.0 288.9L1040.0 288.7L1041.0 288.4L1042.0 288.6L1043.0 288.8L1044.0 288.3L1045.0 287.6L1046.0 287.5L1047.0 288.0L1048.0 288.3L1049.0 288.0L1050.0 287.6L1051.0 287.4L1052.0 287.3L1053.0 287.1L1054.0 287.1L1055.0 287.2L1056.0 287.6L1057.0 287.7L1058.0 287.2L1059.0 286.8L1060.0 287.2L1061.0 287.4L1062.0 286.9L1063.0 286.6L1064.0 286.7L1065.0 286.9L1066.0 287.0L1067.0 287.4L1068.0 287.2L1069.0 286.7L1070.0 286.6L1071.0 286.8L1072.0 287.1L1073.0 287.2L1074.0 287.5L1075.0 287.4L1076.0 287.0L1077.0 287.1L1078.0 287.5L1079.0 287.7L1080.0 287.8L1081.0 287.6L1082.0 287.4L1083.0 287.5L1084.0 287.4L1085.0 287.2L1086.0 287.3L1087.0 287.1L1088.0 287.0L1089.0 286.8L1090.0 286.7L1091.0 287.1L1092.0 287.5L1093.0 287.3L1094.0 287.3L1095.0 287.4L1096.0 287.2L1097.0 287.1L1098.0 287.2L1099.0 287.4L1100.0 287.6L1101.0 287.5L1102.0 287.0L1103.0 286.8L1104.0 287.2L1105.0 287.1L1106.0 286.9L1107.0 286.9L1108.0 287.3L1109.0 287.5L1110.0 287.3L1111.0 286.7L1112.0 286.5L1113.0 286.7L1114.0 287.2L1115.0 287.4L1116.0 287.2L1117.0 287.1L1118.0 287.1L1119.0 286.8L1120.0 286.7L1121.0 287.0L1122.0 287.4L1123.0 287.4L1124.0 287.0L1125.0 286.9L1126.0 287.1L1127.0 286.8L1128.0 286.5L1129.0 286.4L1130.0 286.3L1131.0 286.5L1132.0 287.1L1133.0 287.1L1134.0 286.8L1135.0 287.0L1136.0 287.3L1137.0 287.0L1138.0 287.0L1139.0 287.0L1140.0 286.7L1141.0 286.5L1142.0 286.6L1143.0 287.1L1144.0 287.2L1145.0 286.8L1146.0 286.7L1147.0 286.6L1148.0 286.6L1149.0 286.9L1150.0 287.2L1151.0 287.1L1152.0 286.6L1153.0 286.2L1154.0 286.6L1154.0 292.0Z" fill="#febf3b" shape-rendering="crispEdges" filter="url(#nz3)"/>
<rect x="628" y="289" width="12" height="2.6" fill="#f6f01f" opacity="0.6"/>
<rect x="645" y="289" width="6" height="2.6" fill="#f6f01f" opacity="0.6"/>
<rect x="659" y="289" width="17" height="2.6" fill="#f6f01f" opacity="0.6"/>
<rect x="684" y="289" width="7" height="2.6" fill="#f6f01f" opacity="0.6"/>
<path d="M165.0 285.2 L200.0 285.6 L230.0 285.0 L260.0 286.0 L300.0 286.3" fill="none" stroke="#abc739" stroke-width="1.1" opacity="1.00" stroke-linejoin="round"/>
<path d="M1040.0 287.3 L1080.0 286.2 L1120.0 285.6 L1155.0 285.0" fill="none" stroke="#abc739" stroke-width="1.1" opacity="1.00" stroke-linejoin="round"/>
<path d="M872.0 288.0 L876.0 284.5 L880.0 286.0 L884.0 284.2 L889.0 287.5" fill="none" stroke="#d8be28" stroke-width="1.2" opacity="1.00" stroke-linejoin="round"/>
<path d="M898.0 288.0 L903.0 285.0 L908.0 280.3 L913.0 284.5 L920.0 287.3 L930.0 288.2" fill="none" stroke="#d8be28" stroke-width="1.3" opacity="1.00" stroke-linejoin="round"/>
<path d="M1012.0 288.0 L1017.0 283.0 L1021.0 288.0" fill="none" stroke="#c3c22b" stroke-width="1.2" opacity="1.00" stroke-linejoin="round"/>
<line x1="165" y1="292.5" x2="1155" y2="292.5" stroke="#1f1f1f" stroke-width="1" shape-rendering="crispEdges"/>
<rect x="165" y="367" width="989" height="161" fill="url(#sp2)" filter="url(#nz2)"/>
<rect x="165" y="367" width="989" height="154.6" filter="url(#spkB)" opacity="0.9"/>
<line x1="165" y1="427.4" x2="196" y2="427.4" stroke="#249ee6" stroke-width="1.2" opacity="1.00"/>
<line x1="196" y1="427.4" x2="1155" y2="427.4" stroke="#2f82fa" stroke-width="1.2" opacity="0.61"/>
<line x1="165" y1="447.5" x2="1155" y2="447.5" stroke="#2f82fa" stroke-width="1.2" opacity="0.51"/>
<line x1="288" y1="467.6" x2="1155" y2="467.6" stroke="#2f82fa" stroke-width="1.2" opacity="0.81"/>
<line x1="165" y1="467.6" x2="288" y2="467.6" stroke="#2f82fa" stroke-width="1.2" opacity="0.34"/>
<line x1="165" y1="477.7" x2="1155" y2="477.7" stroke="#2f82fa" stroke-width="1.2" opacity="0.47"/>
<line x1="275" y1="487.8" x2="1155" y2="487.8" stroke="#249ee6" stroke-width="1.5" opacity="0.88"/>
<line x1="165" y1="487.8" x2="275" y2="487.8" stroke="#2f82fa" stroke-width="1.2" opacity="0.41"/>
<line x1="165" y1="497.4" x2="1155" y2="497.4" stroke="#2f82fa" stroke-width="1.2" opacity="0.61"/>
<line x1="213" y1="507.3" x2="1155" y2="507.3" stroke="#02b7cb" stroke-width="1.6" opacity="0.94"/>
<line x1="165" y1="507.3" x2="213" y2="507.3" stroke="#249ee6" stroke-width="1.2" opacity="0.68"/>
<line x1="165" y1="513.3" x2="520" y2="513.3" stroke="#249ee6" stroke-width="1.2" opacity="0.54"/>
<line x1="165" y1="502.6" x2="700" y2="502.6" stroke="#2f82fa" stroke-width="1.2" opacity="0.47"/>
<line x1="165" y1="517.5" x2="420" y2="517.5" stroke="#249ee6" stroke-width="1.2" opacity="0.61"/>
<line x1="165" y1="492.6" x2="1155" y2="492.6" stroke="#2f82fa" stroke-width="1.2" opacity="0.34"/>
<line x1="165" y1="482.7" x2="1155" y2="482.7" stroke="#2f82fa" stroke-width="1.2" opacity="0.27"/>
<line x1="165" y1="522.4" x2="1154" y2="522.4" stroke="#249ee6" stroke-width="1.0" opacity="0.47"/>
<line x1="165" y1="520" x2="1154" y2="520" stroke="#249ee6" stroke-width="1.0" opacity="0.41"/>
<line x1="165" y1="515.5" x2="1154" y2="515.5" stroke="#249ee6" stroke-width="1.0" opacity="0.41"/>
<line x1="165" y1="510.7" x2="1154" y2="510.7" stroke="#249ee6" stroke-width="1.0" opacity="0.41"/>
<line x1="165" y1="500.2" x2="1154" y2="500.2" stroke="#2f82fa" stroke-width="1.0" opacity="0.34"/>
<line x1="165" y1="472.7" x2="1154" y2="472.7" stroke="#2f82fa" stroke-width="1.0" opacity="0.24"/>
<line x1="165" y1="462.6" x2="1154" y2="462.6" stroke="#2f82fa" stroke-width="1.0" opacity="0.20"/>
<line x1="165" y1="457.6" x2="1154" y2="457.6" stroke="#2f82fa" stroke-width="1.0" opacity="0.27"/>
<line x1="165" y1="437.4" x2="1154" y2="437.4" stroke="#2f82fa" stroke-width="1.0" opacity="0.20"/>
<path d="M474.0 406.7 L490.0 408.0 L522.0 408.8 L548.7 410.7 L564.7 415.5 L575.3 425.6 L582.0 435.2 L585.2 440.0" fill="none" stroke="#249ee6" stroke-width="1.2" opacity="0.88" stroke-linejoin="round"/>
<path d="M407.3 424.8 L439.3 427.5 L474.0 430.7 L490.0 432.0 L522.0 432.8 L548.7 434.7 L564.7 439.5 L575.3 451.1 L582.0 461.5 L585.2 466.7" fill="none" stroke="#249ee6" stroke-width="1.2" opacity="0.88" stroke-linejoin="round"/>
<path d="M439.3 450.1 L474.0 453.3 L490.0 454.7 L522.0 455.5 L548.7 457.3 L564.7 462.1 L575.3 473.0 L582.0 483.0 L585.2 488.0" fill="none" stroke="#249ee6" stroke-width="1.2" opacity="0.88" stroke-linejoin="round"/>
<path d="M407.3 472.8 L439.3 475.5 L474.0 478.7 L490.0 480.0 L522.0 480.8 L548.7 482.7 L564.7 487.5 L575.3 490.3 L582.0 495.9 L585.2 498.7" fill="none" stroke="#249ee6" stroke-width="1.2" opacity="0.88" stroke-linejoin="round"/>
<path d="M439.3 499.5 L474.0 502.7 L490.0 504.0 L522.0 504.8 L548.7 506.7 L564.7 511.5 L575.3 512.8 L582.0 517.6 L585.2 520.0" fill="none" stroke="#249ee6" stroke-width="1.2" opacity="0.88" stroke-linejoin="round"/>
<path d="M586.5 443.2 L602.0 444.8 L628.7 445.6" fill="none" stroke="#2f82fa" stroke-width="1.1" opacity="0.75" stroke-linejoin="round"/>
<path d="M586.5 459.2 L602.0 460.8 L628.7 461.6" fill="none" stroke="#2f82fa" stroke-width="1.1" opacity="0.75" stroke-linejoin="round"/>
<path d="M586.5 475.7 L602.0 477.3 L628.7 478.1" fill="none" stroke="#2f82fa" stroke-width="1.1" opacity="0.75" stroke-linejoin="round"/>
<path d="M586.5 491.7 L602.0 493.3 L628.7 494.1" fill="none" stroke="#2f82fa" stroke-width="1.1" opacity="0.75" stroke-linejoin="round"/>
<path d="M703.3 394.7 L724.7 396.8 L736.7 402.7 L742.0 414.7 L743.9 426.7" fill="none" stroke="#2f82fa" stroke-width="1.0" opacity="0.62" stroke-linejoin="round"/>
<path d="M703.3 413.3 L724.7 415.5 L736.7 421.3 L742.0 433.3 L743.9 445.3" fill="none" stroke="#2f82fa" stroke-width="1.0" opacity="0.62" stroke-linejoin="round"/>
<path d="M703.3 432.0 L724.7 434.1 L736.7 440.0 L742.0 452.0 L743.9 464.0" fill="none" stroke="#2f82fa" stroke-width="1.0" opacity="0.62" stroke-linejoin="round"/>
<path d="M703.3 450.7 L724.7 452.8 L736.7 458.7 L742.0 470.7 L743.9 482.7" fill="none" stroke="#2f82fa" stroke-width="1.0" opacity="0.62" stroke-linejoin="round"/>
<path d="M900.0 422.7 L940.0 424.3 L940.0 426.4 L980.0 425.9 L1006.7 424.3 L1092.0 424.8" fill="none" stroke="#249ee6" stroke-width="1.2" opacity="0.69" stroke-linejoin="round"/>
<path d="M932.0 441.1 L972.0 442.7 L940.0 444.8 L980.0 444.3 L1006.7 442.7 L1092.0 443.2" fill="none" stroke="#249ee6" stroke-width="1.2" opacity="0.69" stroke-linejoin="round"/>
<path d="M820.0 457.1 L873.3 458.4 L940.0 460.8 L980.0 460.3 L1006.7 458.7 L1092.0 459.2" fill="none" stroke="#249ee6" stroke-width="1.2" opacity="0.69" stroke-linejoin="round"/>
<path d="M820.0 474.4 L873.3 475.7 L940.0 478.1 L980.0 477.6 L1006.7 476.0 L1092.0 476.5" fill="none" stroke="#249ee6" stroke-width="1.2" opacity="0.69" stroke-linejoin="round"/>
<path d="M820.0 490.4 L873.3 491.7 L940.0 494.1 L980.0 493.6 L1006.7 492.0 L1092.0 492.5" fill="none" stroke="#249ee6" stroke-width="1.2" opacity="0.69" stroke-linejoin="round"/>
<path d="M983.2 517.3 L986.7 515.5 L996.0 511.5 L1016.0 509.3" fill="none" stroke="#249ee6" stroke-width="1.1" opacity="0.75" stroke-linejoin="round"/>
<path d="M983.2 504.0 L986.7 499.5 L996.0 492.8 L1016.0 490.7" fill="none" stroke="#249ee6" stroke-width="1.1" opacity="0.75" stroke-linejoin="round"/>
<path d="M983.2 493.3 L986.7 486.1 L996.0 476.8 L1016.0 474.7" fill="none" stroke="#249ee6" stroke-width="1.1" opacity="0.75" stroke-linejoin="round"/>
<path d="M983.2 485.3 L986.7 475.5 L996.0 463.5 L1016.0 461.3" fill="none" stroke="#249ee6" stroke-width="1.1" opacity="0.75" stroke-linejoin="round"/>
<path d="M983.2 477.3 L986.7 464.8 L996.0 450.1 L1016.0 448.0" fill="none" stroke="#249ee6" stroke-width="1.1" opacity="0.75" stroke-linejoin="round"/>
<path d="M983.2 466.7 L986.7 452.8 L996.0 436.8 L1016.0 434.7" fill="none" stroke="#249ee6" stroke-width="1.1" opacity="0.75" stroke-linejoin="round"/>
<path d="M983.2 453.3 L986.7 439.5 L996.0 423.5 L1016.0 421.3" fill="none" stroke="#249ee6" stroke-width="1.1" opacity="0.75" stroke-linejoin="round"/>
<rect x="173.9" y="475" width="1.6" height="50" fill="url(#stC)" opacity="0.80"/>
<rect x="218" y="440" width="2" height="85" fill="url(#stG)" opacity="0.75"/>
<rect x="220.7" y="430" width="1.6" height="95" fill="url(#stC)" opacity="0.80"/>
<rect x="223.1" y="445" width="1.8" height="80" fill="url(#stG)" opacity="0.70"/>
<rect x="226.4" y="465" width="1.2" height="60" fill="url(#stC)" opacity="0.60"/>
<rect x="230" y="455" width="1.3" height="70" fill="url(#stC)" opacity="0.70"/>
<rect x="235.3" y="460" width="1.3" height="65" fill="url(#stC)" opacity="0.70"/>
<rect x="644" y="435" width="1.4" height="90" fill="url(#stC)" opacity="0.80"/>
<rect x="648.3" y="440" width="1.4" height="85" fill="url(#stC)" opacity="0.80"/>
<rect x="662.3" y="430" width="1.4" height="95" fill="url(#stC)" opacity="0.80"/>
<rect x="673.3" y="440" width="1.4" height="85" fill="url(#stC)" opacity="0.70"/>
<rect x="686.4" y="455" width="1.2" height="70" fill="url(#stC)" opacity="0.70"/>
<rect x="689.9" y="450" width="1.2" height="75" fill="url(#stC)" opacity="0.70"/>
<rect x="1135.8" y="425" width="1.4" height="100" fill="url(#stC)" opacity="0.70"/>
<rect x="1139.3" y="430" width="1.4" height="95" fill="url(#stC)" opacity="0.70"/>
<rect x="1149.8" y="415" width="1.8" height="110" fill="url(#hzY)" opacity="1.00"/>
<rect x="1151" y="465" width="1.2" height="60" fill="url(#hzY)" opacity="0.90"/>
<rect x="1146.4" y="465" width="1.2" height="60" fill="url(#stG)" opacity="0.70"/>
<rect x="1152.4" y="455" width="1.2" height="70" fill="url(#stG)" opacity="0.70"/>
<rect x="628" y="485" width="48" height="40" fill="url(#hzC)" opacity="0.8"/>
<rect x="676" y="501" width="16" height="24" fill="url(#hzC)" opacity="0.55"/>
<rect x="627.4" y="495.7" width="1.2" height="29.3" fill="url(#stG)" opacity="1.00"/>
<rect x="628.4" y="510.3" width="1.2" height="14.7" fill="url(#hzY)" opacity="1.00"/>
<rect x="629.4" y="507.5" width="1.2" height="17.5" fill="url(#hzY)" opacity="1.00"/>
<rect x="630.4" y="504.6" width="1.2" height="20.4" fill="url(#hzY)" opacity="1.00"/>
<rect x="631.4" y="501.4" width="1.2" height="23.6" fill="url(#stG)" opacity="1.00"/>
<rect x="632.4" y="509.4" width="1.2" height="15.6" fill="url(#stG)" opacity="1.00"/>
<rect x="633.4" y="510.5" width="1.2" height="14.5" fill="url(#hzY)" opacity="1.00"/>
<rect x="635.4" y="508.9" width="1.2" height="16.1" fill="url(#hzY)" opacity="1.00"/>
<rect x="636.4" y="507.6" width="1.2" height="17.4" fill="url(#stG)" opacity="1.00"/>
<rect x="637.4" y="495.4" width="1.2" height="29.6" fill="url(#hzY)" opacity="1.00"/>
<rect x="638.4" y="507.9" width="1.2" height="17.1" fill="url(#stG)" opacity="1.00"/>
<rect x="639.4" y="508.9" width="1.2" height="16.1" fill="url(#hzY)" opacity="1.00"/>
<rect x="640.4" y="509.4" width="1.2" height="15.6" fill="url(#stG)" opacity="1.00"/>
<rect x="641.4" y="511.8" width="1.2" height="13.2" fill="url(#stG)" opacity="1.00"/>
<rect x="642.4" y="513.5" width="1.2" height="11.5" fill="url(#stG)" opacity="1.00"/>
<rect x="644.4" y="512.7" width="1.2" height="12.3" fill="url(#hzY)" opacity="1.00"/>
<rect x="645.4" y="503.2" width="1.2" height="21.8" fill="url(#hzY)" opacity="1.00"/>
<rect x="646.4" y="505" width="1.2" height="20" fill="url(#hzY)" opacity="1.00"/>
<rect x="647.4" y="496.4" width="1.2" height="28.6" fill="url(#stG)" opacity="1.00"/>
<rect x="648.4" y="503.8" width="1.2" height="21.2" fill="url(#stG)" opacity="1.00"/>
<rect x="649.4" y="506.2" width="1.2" height="18.8" fill="url(#hzY)" opacity="1.00"/>
<rect x="650.4" y="506.9" width="1.2" height="18.1" fill="url(#hzY)" opacity="1.00"/>
<rect x="651.4" y="512.6" width="1.2" height="12.4" fill="url(#hzY)" opacity="1.00"/>
<rect x="653.4" y="514.1" width="1.2" height="10.9" fill="url(#stG)" opacity="1.00"/>
<rect x="658.4" y="498.1" width="1.2" height="26.9" fill="url(#hzY)" opacity="1.00"/>
<rect x="659.4" y="506.1" width="1.2" height="18.9" fill="url(#hzY)" opacity="1.00"/>
<rect x="660.4" y="499.1" width="1.2" height="25.9" fill="url(#hzY)" opacity="1.00"/>
<rect x="661.4" y="501.2" width="1.2" height="23.8" fill="url(#hzY)" opacity="1.00"/>
<rect x="662.4" y="504.5" width="1.2" height="20.5" fill="url(#stG)" opacity="1.00"/>
<rect x="663.4" y="509.3" width="1.2" height="15.7" fill="url(#hzY)" opacity="1.00"/>
<rect x="664.4" y="513" width="1.2" height="12" fill="url(#stG)" opacity="1.00"/>
<rect x="665.4" y="495.1" width="1.2" height="29.9" fill="url(#stG)" opacity="1.00"/>
<rect x="666.4" y="498.4" width="1.2" height="26.6" fill="url(#stG)" opacity="1.00"/>
<rect x="667.4" y="502.6" width="1.2" height="22.4" fill="url(#stG)" opacity="1.00"/>
<rect x="668.4" y="512.1" width="1.2" height="12.9" fill="url(#hzY)" opacity="1.00"/>
<rect x="669.4" y="513" width="1.2" height="12" fill="url(#stG)" opacity="1.00"/>
<rect x="670.4" y="510.5" width="1.2" height="14.5" fill="url(#stG)" opacity="1.00"/>
<rect x="671.4" y="508.2" width="1.2" height="16.8" fill="url(#hzY)" opacity="1.00"/>
<rect x="672.4" y="498.8" width="1.2" height="26.2" fill="url(#hzY)" opacity="1.00"/>
<rect x="673.4" y="505.6" width="1.2" height="19.4" fill="url(#hzY)" opacity="1.00"/>
<rect x="674.4" y="503" width="1.2" height="22" fill="url(#stG)" opacity="1.00"/>
<rect x="675.4" y="507" width="1.2" height="18" fill="url(#stG)" opacity="1.00"/>
<rect x="677.4" y="516.1" width="1.2" height="8.9" fill="url(#hzY)" opacity="1.00"/>
<rect x="678.4" y="512.3" width="1.2" height="12.7" fill="url(#hzY)" opacity="1.00"/>
<rect x="680.4" y="508.6" width="1.2" height="16.4" fill="url(#stG)" opacity="1.00"/>
<rect x="684.4" y="511.1" width="1.2" height="13.9" fill="url(#hzY)" opacity="1.00"/>
<rect x="685.4" y="507.7" width="1.2" height="17.3" fill="url(#hzY)" opacity="1.00"/>
<rect x="686.4" y="505" width="1.2" height="20" fill="url(#hzY)" opacity="1.00"/>
<rect x="687.4" y="500.8" width="1.2" height="24.2" fill="url(#stG)" opacity="1.00"/>
<rect x="688.4" y="509.7" width="1.2" height="15.3" fill="url(#hzY)" opacity="1.00"/>
<rect x="689.4" y="511" width="1.2" height="14" fill="url(#hzY)" opacity="1.00"/>
<rect x="690.4" y="510.1" width="1.2" height="14.9" fill="url(#hzY)" opacity="1.00"/>
<rect x="691.4" y="509.2" width="1.2" height="15.8" fill="url(#stG)" opacity="1.00"/>
<rect x="630.8" y="472.4" width="1" height="52.6" fill="url(#stB)" opacity="0.75"/>
<rect x="633.2" y="477" width="1" height="48" fill="url(#stB)" opacity="0.75"/>
<rect x="639.2" y="441.1" width="1" height="83.9" fill="url(#stB)" opacity="0.75"/>
<rect x="642.6" y="466" width="1" height="59" fill="url(#stB)" opacity="0.75"/>
<rect x="644.9" y="457.3" width="1" height="67.7" fill="url(#stB)" opacity="0.75"/>
<rect x="651.5" y="471.7" width="1" height="53.3" fill="url(#stB)" opacity="0.75"/>
<rect x="652.7" y="468.3" width="1" height="56.7" fill="url(#stB)" opacity="0.75"/>
<rect x="654.7" y="462.6" width="1" height="62.4" fill="url(#stB)" opacity="0.75"/>
<rect x="656.8" y="479.4" width="1" height="45.6" fill="url(#stB)" opacity="0.75"/>
<rect x="660.7" y="479.8" width="1" height="45.2" fill="url(#stB)" opacity="0.75"/>
<rect x="662.8" y="454.2" width="1" height="70.8" fill="url(#stB)" opacity="0.75"/>
<rect x="665.3" y="445" width="1" height="80" fill="url(#stB)" opacity="0.75"/>
<rect x="669.4" y="443.3" width="1" height="81.7" fill="url(#stB)" opacity="0.75"/>
<rect x="671.2" y="438.8" width="1" height="86.2" fill="url(#stB)" opacity="0.75"/>
<rect x="677.5" y="468.7" width="1" height="56.3" fill="url(#stB)" opacity="0.75"/>
<rect x="678.6" y="450.2" width="1" height="74.8" fill="url(#stB)" opacity="0.75"/>
<rect x="683" y="461.5" width="1" height="63.5" fill="url(#stB)" opacity="0.75"/>
<rect x="686.8" y="477.9" width="1" height="47.1" fill="url(#stB)" opacity="0.75"/>
<rect x="689.3" y="457.3" width="1" height="67.7" fill="url(#stB)" opacity="0.75"/>
<rect x="738.5" y="487.1" width="1.1" height="37.9" fill="url(#stB)" opacity="0.60"/>
<rect x="744.5" y="483.6" width="1.1" height="41.4" fill="url(#stB)" opacity="0.60"/>
<rect x="750.5" y="477.8" width="1.1" height="47.2" fill="url(#stB)" opacity="0.60"/>
<rect x="752.5" y="488" width="1.1" height="37" fill="url(#stB)" opacity="0.60"/>
<rect x="754.5" y="464" width="1.1" height="61" fill="url(#stB)" opacity="0.60"/>
<rect x="756.5" y="503.2" width="1.1" height="21.8" fill="url(#stB)" opacity="0.60"/>
<rect x="760.5" y="458" width="1.1" height="67" fill="url(#stB)" opacity="0.60"/>
<rect x="762.5" y="484.4" width="1.1" height="40.6" fill="url(#stB)" opacity="0.60"/>
<rect x="764.5" y="479.5" width="1.1" height="45.5" fill="url(#stB)" opacity="0.60"/>
<rect x="766.5" y="455.9" width="1.1" height="69.1" fill="url(#stB)" opacity="0.60"/>
<rect x="988.5" y="493.5" width="1.1" height="31.5" fill="url(#stB)" opacity="0.60"/>
<rect x="990.5" y="476.7" width="1.1" height="48.3" fill="url(#stB)" opacity="0.60"/>
<rect x="994.5" y="502.5" width="1.1" height="22.5" fill="url(#stB)" opacity="0.60"/>
<rect x="996.5" y="466.4" width="1.1" height="58.6" fill="url(#stB)" opacity="0.60"/>
<rect x="998.5" y="482.8" width="1.1" height="42.2" fill="url(#stB)" opacity="0.60"/>
<rect x="1002.5" y="491.1" width="1.1" height="33.9" fill="url(#stB)" opacity="0.60"/>
<rect x="1004.5" y="486.3" width="1.1" height="38.7" fill="url(#stB)" opacity="0.60"/>
<rect x="1010.5" y="491.3" width="1.1" height="33.7" fill="url(#stB)" opacity="0.60"/>
<rect x="217.5" y="443" width="8.5" height="82" fill="url(#hzC)" opacity="0.5"/>
<rect x="245.4" y="463.9" width="1.1" height="61.1" fill="url(#stB)" opacity="0.40"/>
<rect x="248.4" y="474.2" width="1.1" height="50.8" fill="url(#stB)" opacity="0.40"/>
<rect x="251.4" y="483.9" width="1.1" height="41.1" fill="url(#stB)" opacity="0.40"/>
<rect x="254.4" y="492.1" width="1.1" height="32.9" fill="url(#stB)" opacity="0.40"/>
<rect x="257.4" y="490" width="1.1" height="35" fill="url(#stB)" opacity="0.40"/>
<rect x="260.4" y="437.1" width="1.1" height="87.9" fill="url(#stB)" opacity="0.40"/>
<rect x="263.4" y="453.7" width="1.1" height="71.3" fill="url(#stB)" opacity="0.40"/>
<rect x="266.4" y="468.6" width="1.1" height="56.4" fill="url(#stB)" opacity="0.40"/>
<rect x="278.4" y="475.5" width="1.1" height="49.5" fill="url(#stB)" opacity="0.40"/>
<rect x="284.4" y="472" width="1.1" height="53" fill="url(#stB)" opacity="0.40"/>
<rect x="287.4" y="456.9" width="1.1" height="68.1" fill="url(#stB)" opacity="0.40"/>
<rect x="296.4" y="476.2" width="1.1" height="48.8" fill="url(#stB)" opacity="0.40"/>
<rect x="302.4" y="451.7" width="1.1" height="73.3" fill="url(#stB)" opacity="0.40"/>
<rect x="305.4" y="478.2" width="1.1" height="46.8" fill="url(#stB)" opacity="0.40"/>
<rect x="311.4" y="437.3" width="1.1" height="87.7" fill="url(#stB)" opacity="0.40"/>
<rect x="317.4" y="492.9" width="1.1" height="32.1" fill="url(#stB)" opacity="0.40"/>
<rect x="320.4" y="453.4" width="1.1" height="71.6" fill="url(#stB)" opacity="0.40"/>
<rect x="326.4" y="472.9" width="1.1" height="52.1" fill="url(#stB)" opacity="0.40"/>
<rect x="329.4" y="449.6" width="1.1" height="75.4" fill="url(#stB)" opacity="0.40"/>
<rect x="332.4" y="466.1" width="1.1" height="58.9" fill="url(#stB)" opacity="0.40"/>
<rect x="335.4" y="491.7" width="1.1" height="33.3" fill="url(#stB)" opacity="0.40"/>
<rect x="341.4" y="445.4" width="1.1" height="79.6" fill="url(#stB)" opacity="0.40"/>
<rect x="344.4" y="445" width="1.1" height="80" fill="url(#stB)" opacity="0.40"/>
<rect x="350.4" y="475.2" width="1.1" height="49.8" fill="url(#stB)" opacity="0.40"/>
<rect x="362.4" y="467.6" width="1.1" height="57.4" fill="url(#stB)" opacity="0.40"/>
<rect x="377.4" y="436.2" width="1.1" height="88.8" fill="url(#stB)" opacity="0.40"/>
<rect x="380.4" y="484.3" width="1.1" height="40.7" fill="url(#stB)" opacity="0.40"/>
<rect x="386.4" y="469.7" width="1.1" height="55.3" fill="url(#stB)" opacity="0.40"/>
<rect x="392.4" y="475.6" width="1.1" height="49.4" fill="url(#stB)" opacity="0.40"/>
<rect x="395.4" y="487.8" width="1.1" height="37.2" fill="url(#stB)" opacity="0.40"/>
<rect x="401.4" y="466.5" width="1.1" height="58.5" fill="url(#stB)" opacity="0.40"/>
<rect x="404.4" y="439" width="1.1" height="86" fill="url(#stB)" opacity="0.40"/>
<rect x="413.4" y="455" width="1.1" height="70" fill="url(#stB)" opacity="0.40"/>
<rect x="416.4" y="463.5" width="1.1" height="61.5" fill="url(#stB)" opacity="0.40"/>
<path d="M165.0 528.0L165.0 521.5L166.0 521.1L167.0 521.1L168.0 521.3L169.0 521.3L170.0 520.6L171.0 520.6L172.0 521.0L173.0 521.0L174.0 521.3L175.0 521.4L176.0 520.8L177.0 520.3L178.0 520.7L179.0 521.3L180.0 521.2L181.0 521.0L182.0 520.9L183.0 520.9L184.0 521.1L185.0 521.2L186.0 521.6L187.0 521.8L188.0 521.7L189.0 521.3L190.0 521.0L191.0 520.8L192.0 520.8L193.0 521.0L194.0 520.8L195.0 520.8L196.0 521.2L197.0 521.1L198.0 520.6L199.0 520.5L200.0 520.4L201.0 520.4L202.0 520.6L203.0 521.0L204.0 521.2L205.0 520.9L206.0 520.8L207.0 520.9L208.0 520.8L209.0 521.0L210.0 521.2L211.0 521.2L212.0 521.2L213.0 521.4L214.0 521.8L215.0 521.6L216.0 521.0L217.0 521.1L218.0 521.6L219.0 521.7L220.0 521.7L221.0 521.7L222.0 521.3L223.0 521.4L224.0 521.5L225.0 521.1L226.0 520.9L227.0 521.4L228.0 521.4L229.0 521.1L230.0 521.0L231.0 521.1L232.0 520.9L233.0 520.7L234.0 520.7L235.0 521.0L236.0 521.1L237.0 521.0L238.0 520.9L239.0 521.0L240.0 521.0L241.0 521.3L242.0 521.5L243.0 521.5L244.0 521.1L245.0 520.7L246.0 520.5L247.0 520.5L248.0 520.9L249.0 520.8L250.0 520.6L251.0 520.9L252.0 521.3L253.0 521.5L254.0 521.2L255.0 520.8L256.0 520.8L257.0 520.6L258.0 520.5L259.0 521.0L260.0 521.3L261.0 520.8L262.0 520.8L263.0 521.4L264.0 521.3L265.0 521.1L266.0 521.1L267.0 520.9L268.0 521.1L269.0 521.5L270.0 521.5L271.0 520.9L272.0 520.7L273.0 521.4L274.0 521.7L275.0 521.5L276.0 521.1L277.0 521.0L278.0 521.3L279.0 521.3L280.0 521.1L281.0 521.2L282.0 521.2L283.0 521.2L284.0 521.6L285.0 521.7L286.0 521.3L287.0 521.1L288.0 521.5L289.0 521.5L290.0 521.1L291.0 521.3L292.0 521.4L293.0 521.3L294.0 521.1L295.0 521.2L296.0 521.6L297.0 521.6L298.0 521.6L299.0 521.8L300.0 522.1L301.0 521.9L302.0 521.6L303.0 521.7L304.0 521.4L305.0 520.7L306.0 520.5L307.0 520.9L308.0 521.6L309.0 521.9L310.0 521.8L311.0 521.5L312.0 521.4L313.0 521.4L314.0 521.2L315.0 521.2L316.0 521.5L317.0 521.7L318.0 521.4L319.0 521.4L320.0 521.8L321.0 521.6L322.0 521.3L323.0 521.6L324.0 521.9L325.0 521.6L326.0 521.8L327.0 522.1L328.0 521.8L329.0 521.2L330.0 521.1L331.0 521.6L332.0 522.2L333.0 522.3L334.0 522.0L335.0 522.0L336.0 522.3L337.0 522.3L338.0 522.0L339.0 521.4L340.0 521.2L341.0 521.5L342.0 522.0L343.0 522.1L344.0 521.5L345.0 521.2L346.0 521.6L347.0 522.1L348.0 522.2L349.0 522.1L350.0 521.8L351.0 521.5L352.0 521.5L353.0 521.8L354.0 521.8L355.0 521.8L356.0 522.1L357.0 521.9L358.0 521.6L359.0 521.9L360.0 522.1L361.0 521.8L362.0 521.3L363.0 521.2L364.0 521.5L365.0 521.4L366.0 521.6L367.0 522.4L368.0 522.6L369.0 522.0L370.0 522.0L371.0 522.4L372.0 522.2L373.0 522.2L374.0 522.4L375.0 522.6L376.0 522.5L377.0 522.3L378.0 522.3L379.0 521.9L380.0 521.5L381.0 521.8L382.0 522.3L383.0 522.3L384.0 522.2L385.0 522.2L386.0 522.0L387.0 522.0L388.0 522.4L389.0 522.3L390.0 521.8L391.0 521.9L392.0 522.4L393.0 522.4L394.0 522.4L395.0 522.4L396.0 522.1L397.0 522.1L398.0 522.2L399.0 522.0L400.0 522.3L401.0 522.6L402.0 522.6L403.0 522.5L404.0 522.2L405.0 522.2L406.0 522.6L407.0 522.8L408.0 522.6L409.0 522.5L410.0 522.5L411.0 522.1L412.0 521.8L413.0 522.2L414.0 522.4L415.0 521.9L416.0 521.8L417.0 522.2L418.0 522.6L419.0 522.5L420.0 522.3L421.0 522.4L422.0 522.7L423.0 522.8L424.0 522.6L425.0 522.3L426.0 522.5L427.0 522.6L428.0 522.6L429.0 522.9L430.0 522.9L431.0 522.6L432.0 522.2L433.0 522.2L434.0 522.2L435.0 522.2L436.0 522.0L437.0 522.1L438.0 522.4L439.0 522.3L440.0 522.0L441.0 522.0L442.0 522.3L443.0 522.4L444.0 521.9L445.0 521.8L446.0 522.4L447.0 522.3L448.0 521.9L449.0 522.1L450.0 522.2L451.0 522.2L452.0 522.3L453.0 522.3L454.0 522.8L455.0 523.0L456.0 522.7L457.0 522.6L458.0 522.5L459.0 522.5L460.0 522.3L461.0 522.0L462.0 522.0L463.0 522.5L464.0 522.7L465.0 522.5L466.0 522.5L467.0 522.6L468.0 522.6L469.0 522.2L470.0 521.7L471.0 521.5L472.0 521.6L473.0 522.0L474.0 522.1L475.0 521.9L476.0 522.1L477.0 522.6L478.0 522.7L479.0 522.6L480.0 522.4L481.0 522.3L482.0 522.1L483.0 521.6L484.0 521.8L485.0 522.4L486.0 522.4L487.0 522.1L488.0 521.8L489.0 521.6L490.0 522.0L491.0 522.4L492.0 522.3L493.0 522.6L494.0 522.7L495.0 522.4L496.0 522.2L497.0 522.6L498.0 522.6L499.0 522.2L500.0 522.6L501.0 522.8L502.0 522.7L503.0 522.8L504.0 522.9L505.0 522.7L506.0 522.4L507.0 522.4L508.0 522.4L509.0 522.7L510.0 523.1L511.0 522.7L512.0 522.2L513.0 522.5L514.0 522.6L515.0 522.0L516.0 521.9L517.0 521.9L518.0 521.7L519.0 521.5L520.0 521.8L521.0 522.4L522.0 522.7L523.0 522.4L524.0 522.1L525.0 522.3L526.0 522.5L527.0 522.3L528.0 522.0L529.0 521.8L530.0 522.1L531.0 522.2L532.0 521.9L533.0 522.0L534.0 522.4L535.0 522.2L536.0 521.7L537.0 522.0L538.0 522.5L539.0 522.4L540.0 522.4L541.0 522.7L542.0 522.6L543.0 522.6L544.0 522.8L545.0 523.0L546.0 522.8L547.0 522.7L548.0 522.9L549.0 522.7L550.0 522.2L551.0 522.1L552.0 521.9L553.0 522.2L554.0 522.8L555.0 522.7L556.0 522.3L557.0 521.8L558.0 522.1L559.0 522.5L560.0 522.2L561.0 522.0L562.0 522.1L563.0 522.1L564.0 522.3L565.0 522.2L566.0 521.9L567.0 522.0L568.0 522.2L569.0 522.2L570.0 522.3L571.0 522.5L572.0 522.3L573.0 522.3L574.0 522.5L575.0 522.5L576.0 522.9L577.0 523.2L578.0 522.5L579.0 521.9L580.0 521.8L581.0 522.0L582.0 522.3L583.0 522.5L584.0 522.7L585.0 522.9L586.0 522.7L587.0 522.0L588.0 521.8L589.0 522.1L590.0 522.3L591.0 522.3L592.0 522.7L593.0 522.6L594.0 522.7L595.0 522.8L596.0 522.6L597.0 522.4L598.0 522.0L599.0 521.8L600.0 521.9L601.0 522.2L602.0 522.8L603.0 523.1L604.0 522.9L605.0 522.5L606.0 522.0L607.0 521.9L608.0 522.0L609.0 522.1L610.0 522.2L611.0 522.3L612.0 522.0L613.0 522.0L614.0 522.2L615.0 522.1L616.0 522.1L617.0 522.3L618.0 522.3L619.0 522.2L620.0 522.7L621.0 523.1L622.0 522.8L623.0 522.0L624.0 521.9L625.0 522.2L626.0 521.9L627.0 521.3L628.0 521.3L629.0 521.6L630.0 521.4L631.0 521.1L632.0 521.2L633.0 521.7L634.0 521.8L635.0 521.4L636.0 521.6L637.0 521.9L638.0 521.5L639.0 521.2L640.0 521.6L641.0 521.6L642.0 521.5L643.0 521.9L644.0 522.3L645.0 521.9L646.0 521.4L647.0 521.5L648.0 522.0L649.0 522.2L650.0 522.1L651.0 521.7L652.0 521.4L653.0 521.5L654.0 521.3L655.0 521.5L656.0 522.0L657.0 522.0L658.0 521.8L659.0 521.7L660.0 521.6L661.0 521.6L662.0 521.9L663.0 522.0L664.0 521.7L665.0 521.5L666.0 521.4L667.0 521.4L668.0 521.1L669.0 521.0L670.0 521.5L671.0 521.6L672.0 521.5L673.0 521.6L674.0 521.3L675.0 521.1L676.0 521.3L677.0 521.3L678.0 521.2L679.0 521.0L680.0 521.2L681.0 521.6L682.0 521.4L683.0 521.3L684.0 521.2L685.0 521.5L686.0 521.7L687.0 521.2L688.0 521.2L689.0 521.4L690.0 521.3L691.0 521.5L692.0 521.7L693.0 521.6L694.0 521.7L695.0 521.8L696.0 521.9L697.0 522.1L698.0 522.6L699.0 522.9L700.0 523.0L701.0 523.1L702.0 523.0L703.0 522.9L704.0 522.9L705.0 522.4L706.0 522.4L707.0 522.6L708.0 522.6L709.0 522.9L710.0 523.0L711.0 523.0L712.0 523.2L713.0 523.1L714.0 523.0L715.0 523.2L716.0 523.4L717.0 523.2L718.0 522.7L719.0 522.8L720.0 523.3L721.0 523.3L722.0 523.4L723.0 523.1L724.0 522.6L725.0 522.7L726.0 523.0L727.0 522.7L728.0 522.6L729.0 522.9L730.0 522.9L731.0 523.0L732.0 523.2L733.0 523.3L734.0 523.0L735.0 522.6L736.0 522.7L737.0 522.8L738.0 523.1L739.0 523.5L740.0 523.4L741.0 523.0L742.0 522.5L743.0 522.3L744.0 522.4L745.0 522.5L746.0 522.3L747.0 522.4L748.0 522.8L749.0 523.0L750.0 523.2L751.0 523.4L752.0 523.4L753.0 523.1L754.0 523.1L755.0 523.2L756.0 523.0L757.0 522.8L758.0 523.0L759.0 523.1L760.0 523.3L761.0 523.2L762.0 522.9L763.0 522.9L764.0 523.2L765.0 523.5L766.0 523.8L767.0 523.5L768.0 522.8L769.0 522.5L770.0 522.6L771.0 523.0L772.0 523.3L773.0 523.2L774.0 523.0L775.0 522.5L776.0 522.1L777.0 522.3L778.0 522.8L779.0 523.1L780.0 523.2L781.0 522.7L782.0 522.7L783.0 523.1L784.0 523.2L785.0 523.2L786.0 522.8L787.0 522.6L788.0 523.2L789.0 523.8L790.0 523.6L791.0 523.0L792.0 522.8L793.0 523.3L794.0 523.3L795.0 523.0L796.0 522.8L797.0 522.7L798.0 522.8L799.0 522.9L800.0 523.2L801.0 523.4L802.0 523.4L803.0 523.3L804.0 523.2L805.0 522.8L806.0 522.6L807.0 522.8L808.0 523.0L809.0 522.7L810.0 522.9L811.0 523.2L812.0 522.8L813.0 522.5L814.0 522.6L815.0 522.4L816.0 522.3L817.0 522.7L818.0 523.3L819.0 523.5L820.0 523.1L821.0 522.6L822.0 522.4L823.0 522.5L824.0 522.9L825.0 523.4L826.0 523.5L827.0 523.2L828.0 522.8L829.0 522.5L830.0 522.6L831.0 523.2L832.0 523.1L833.0 522.6L834.0 522.7L835.0 522.6L836.0 522.6L837.0 522.7L838.0 522.8L839.0 523.0L840.0 523.0L841.0 522.9L842.0 522.9L843.0 522.9L844.0 522.7L845.0 522.4L846.0 522.6L847.0 522.8L848.0 522.9L849.0 523.3L850.0 523.4L851.0 523.0L852.0 522.6L853.0 522.6L854.0 522.8L855.0 523.2L856.0 523.6L857.0 523.8L858.0 523.7L859.0 523.2L860.0 522.9L861.0 522.8L862.0 522.8L863.0 522.9L864.0 523.1L865.0 523.1L866.0 523.2L867.0 523.3L868.0 522.9L869.0 522.5L870.0 522.5L871.0 522.2L872.0 522.2L873.0 522.6L874.0 522.3L875.0 521.8L876.0 521.6L877.0 521.8L878.0 522.3L879.0 522.7L880.0 522.5L881.0 521.8L882.0 521.5L883.0 522.0L884.0 522.5L885.0 522.4L886.0 522.2L887.0 522.2L888.0 522.1L889.0 522.0L890.0 522.0L891.0 521.8L892.0 521.9L893.0 521.9L894.0 521.6L895.0 521.6L896.0 522.1L897.0 522.2L898.0 521.9L899.0 521.8L900.0 521.5L901.0 521.3L902.0 521.7L903.0 522.2L904.0 522.0L905.0 521.8L906.0 521.9L907.0 521.8L908.0 521.9L909.0 522.1L910.0 522.1L911.0 522.4L912.0 522.6L913.0 522.5L914.0 522.5L915.0 522.5L916.0 522.2L917.0 521.8L918.0 522.2L919.0 522.4L920.0 522.2L921.0 522.3L922.0 522.3L923.0 522.3L924.0 522.7L925.0 523.0L926.0 523.2L927.0 523.2L928.0 523.0L929.0 522.9L930.0 522.9L931.0 522.6L932.0 522.1L933.0 522.3L934.0 522.7L935.0 522.4L936.0 522.0L937.0 522.1L938.0 522.6L939.0 523.2L940.0 523.4L941.0 523.1L942.0 522.6L943.0 522.6L944.0 522.3L945.0 521.9L946.0 522.1L947.0 522.0L948.0 521.8L949.0 521.8L950.0 522.1L951.0 522.6L952.0 522.8L953.0 522.7L954.0 522.5L955.0 522.4L956.0 522.9L957.0 523.1L958.0 522.8L959.0 522.5L960.0 522.3L961.0 522.3L962.0 522.4L963.0 522.4L964.0 522.7L965.0 522.7L966.0 522.5L967.0 522.5L968.0 522.2L969.0 522.1L970.0 522.5L971.0 522.6L972.0 522.3L973.0 522.0L974.0 522.0L975.0 522.0L976.0 522.3L977.0 522.6L978.0 522.7L979.0 522.5L980.0 522.2L981.0 521.8L982.0 522.1L983.0 522.6L984.0 522.4L985.0 521.8L986.0 521.6L987.0 522.0L988.0 522.8L989.0 522.8L990.0 522.6L991.0 522.8L992.0 522.7L993.0 523.0L994.0 522.9L995.0 522.2L996.0 522.2L997.0 522.9L998.0 523.1L999.0 522.6L1000.0 522.2L1001.0 521.9L1002.0 521.8L1003.0 522.0L1004.0 522.0L1005.0 521.9L1006.0 521.8L1007.0 522.2L1008.0 522.6L1009.0 522.6L1010.0 522.5L1011.0 522.2L1012.0 521.8L1013.0 521.7L1014.0 521.9L1015.0 522.3L1016.0 522.6L1017.0 523.0L1018.0 523.0L1019.0 522.6L1020.0 522.4L1021.0 522.3L1022.0 522.6L1023.0 522.7L1024.0 522.3L1025.0 522.3L1026.0 522.4L1027.0 522.6L1028.0 522.5L1029.0 521.9L1030.0 521.8L1031.0 521.8L1032.0 521.7L1033.0 521.8L1034.0 522.0L1035.0 522.2L1036.0 522.1L1037.0 522.1L1038.0 522.4L1039.0 522.4L1040.0 522.3L1041.0 522.5L1042.0 522.6L1043.0 522.2L1044.0 521.9L1045.0 521.8L1046.0 521.7L1047.0 521.9L1048.0 522.1L1049.0 521.8L1050.0 521.4L1051.0 521.7L1052.0 522.3L1053.0 522.1L1054.0 521.4L1055.0 521.4L1056.0 522.2L1057.0 522.3L1058.0 522.1L1059.0 522.0L1060.0 521.5L1061.0 521.4L1062.0 521.7L1063.0 521.7L1064.0 521.7L1065.0 521.6L1066.0 521.5L1067.0 521.7L1068.0 521.8L1069.0 521.5L1070.0 521.3L1071.0 521.4L1072.0 521.3L1073.0 521.3L1074.0 521.6L1075.0 521.8L1076.0 521.7L1077.0 521.4L1078.0 521.4L1079.0 521.7L1080.0 521.7L1081.0 521.4L1082.0 521.0L1083.0 520.9L1084.0 520.9L1085.0 520.7L1086.0 520.6L1087.0 521.1L1088.0 521.2L1089.0 521.0L1090.0 521.0L1091.0 521.2L1092.0 521.0L1093.0 520.9L1094.0 521.2L1095.0 521.4L1096.0 521.2L1097.0 521.3L1098.0 521.3L1099.0 521.2L1100.0 521.4L1101.0 521.4L1102.0 521.0L1103.0 520.9L1104.0 521.1L1105.0 521.4L1106.0 521.9L1107.0 522.1L1108.0 521.6L1109.0 521.1L1110.0 521.5L1111.0 521.7L1112.0 521.5L1113.0 521.7L1114.0 521.6L1115.0 521.5L1116.0 521.6L1117.0 521.5L1118.0 521.6L1119.0 521.7L1120.0 521.7L1121.0 521.4L1122.0 521.0L1123.0 521.2L1124.0 521.4L1125.0 521.4L1126.0 521.5L1127.0 521.4L1128.0 521.0L1129.0 521.4L1130.0 521.8L1131.0 521.5L1132.0 521.2L1133.0 521.2L1134.0 521.0L1135.0 521.0L1136.0 521.4L1137.0 521.4L1138.0 521.0L1139.0 520.8L1140.0 520.6L1141.0 520.3L1142.0 520.4L1143.0 520.3L1144.0 520.4L1145.0 520.8L1146.0 521.0L1147.0 521.1L1148.0 521.0L1149.0 521.0L1150.0 521.1L1151.0 521.1L1152.0 520.8L1153.0 520.7L1154.0 521.5L1154.0 528.0Z" fill="#37c897"/>
<path d="M165.0 528.0L165.0 522.7L166.0 522.6L167.0 522.2L168.0 521.8L169.0 522.0L170.0 522.4L171.0 522.4L172.0 522.3L173.0 522.3L174.0 522.6L175.0 523.0L176.0 523.2L177.0 523.0L178.0 522.6L179.0 522.5L180.0 522.6L181.0 522.9L182.0 523.1L183.0 523.2L184.0 522.8L185.0 522.4L186.0 522.8L187.0 522.8L188.0 522.6L189.0 523.1L190.0 523.2L191.0 522.6L192.0 522.5L193.0 522.8L194.0 522.5L195.0 522.5L196.0 522.8L197.0 522.7L198.0 522.6L199.0 522.5L200.0 522.5L201.0 523.0L202.0 523.0L203.0 522.7L204.0 522.8L205.0 522.9L206.0 522.4L207.0 522.3L208.0 522.7L209.0 522.9L210.0 523.0L211.0 522.9L212.0 522.5L213.0 522.6L214.0 522.9L215.0 522.7L216.0 522.7L217.0 523.2L218.0 523.3L219.0 523.3L220.0 522.9L221.0 522.4L222.0 522.5L223.0 522.8L224.0 522.7L225.0 522.8L226.0 522.9L227.0 522.6L228.0 522.8L229.0 523.2L230.0 523.2L231.0 522.8L232.0 522.3L233.0 522.0L234.0 522.2L235.0 522.7L236.0 522.9L237.0 522.6L238.0 522.8L239.0 522.9L240.0 522.7L241.0 523.0L242.0 523.1L243.0 522.7L244.0 522.4L245.0 522.3L246.0 522.7L247.0 523.0L248.0 522.8L249.0 523.0L250.0 523.2L251.0 523.0L252.0 522.7L253.0 522.6L254.0 522.7L255.0 522.5L256.0 522.6L257.0 523.2L258.0 523.1L259.0 522.7L260.0 523.0L261.0 523.4L262.0 523.1L263.0 522.7L264.0 522.6L265.0 522.4L266.0 522.4L267.0 522.9L268.0 523.0L269.0 522.7L270.0 522.8L271.0 522.9L272.0 523.1L273.0 523.4L274.0 523.2L275.0 522.9L276.0 523.1L277.0 523.4L278.0 523.3L279.0 523.3L280.0 523.4L281.0 523.1L282.0 522.6L283.0 522.6L284.0 522.9L285.0 522.6L286.0 522.4L287.0 522.6L288.0 523.1L289.0 523.2L290.0 522.6L291.0 522.6L292.0 523.2L293.0 523.1L294.0 522.6L295.0 522.7L296.0 523.1L297.0 523.4L298.0 523.3L299.0 522.9L300.0 522.4L301.0 522.2L302.0 522.5L303.0 522.8L304.0 522.9L305.0 523.1L306.0 522.9L307.0 522.9L308.0 523.3L309.0 523.5L310.0 523.5L311.0 523.5L312.0 523.5L313.0 523.5L314.0 523.4L315.0 523.3L316.0 523.4L317.0 523.4L318.0 523.4L319.0 523.4L320.0 523.5L321.0 523.5L322.0 523.5L323.0 523.8L324.0 523.6L325.0 523.2L326.0 523.4L327.0 523.6L328.0 523.1L329.0 522.7L330.0 522.8L331.0 523.3L332.0 523.5L333.0 523.3L334.0 523.1L335.0 523.1L336.0 523.5L337.0 523.8L338.0 523.5L339.0 523.6L340.0 523.7L341.0 523.8L342.0 524.1L343.0 524.0L344.0 523.7L345.0 523.7L346.0 523.4L347.0 523.3L348.0 523.9L349.0 524.2L350.0 523.8L351.0 523.3L352.0 523.3L353.0 523.8L354.0 523.9L355.0 524.0L356.0 524.1L357.0 523.8L358.0 523.7L359.0 523.7L360.0 523.4L361.0 523.1L362.0 523.4L363.0 523.9L364.0 523.9L365.0 523.6L366.0 523.9L367.0 524.0L368.0 524.0L369.0 523.8L370.0 523.5L371.0 523.6L372.0 523.5L373.0 523.2L374.0 523.5L375.0 523.8L376.0 523.7L377.0 523.6L378.0 523.6L379.0 523.8L380.0 523.7L381.0 523.6L382.0 523.8L383.0 524.1L384.0 524.0L385.0 523.4L386.0 523.0L387.0 523.0L388.0 523.4L389.0 523.7L390.0 523.7L391.0 523.9L392.0 523.9L393.0 523.5L394.0 523.6L395.0 524.0L396.0 524.3L397.0 524.3L398.0 523.8L399.0 523.5L400.0 523.7L401.0 523.9L402.0 524.1L403.0 524.0L404.0 523.7L405.0 523.5L406.0 523.3L407.0 523.4L408.0 524.0L409.0 524.2L410.0 523.7L411.0 523.2L412.0 523.5L413.0 524.2L414.0 524.5L415.0 524.3L416.0 524.2L417.0 524.2L418.0 524.3L419.0 523.9L420.0 523.7L421.0 523.8L422.0 523.9L423.0 524.3L424.0 524.4L425.0 523.9L426.0 523.5L427.0 523.6L428.0 523.7L429.0 523.8L430.0 523.6L431.0 523.4L432.0 523.5L433.0 523.8L434.0 523.9L435.0 523.7L436.0 523.7L437.0 523.5L438.0 523.1L439.0 523.2L440.0 523.8L441.0 523.9L442.0 523.9L443.0 523.9L444.0 523.7L445.0 523.8L446.0 524.2L447.0 524.1L448.0 524.0L449.0 524.1L450.0 524.1L451.0 524.4L452.0 524.3L453.0 524.1L454.0 524.2L455.0 524.3L456.0 524.2L457.0 524.4L458.0 524.5L459.0 524.3L460.0 523.8L461.0 523.9L462.0 524.0L463.0 523.9L464.0 523.9L465.0 523.7L466.0 523.7L467.0 523.9L468.0 524.2L469.0 524.3L470.0 524.3L471.0 524.1L472.0 524.1L473.0 524.3L474.0 524.3L475.0 524.0L476.0 523.7L477.0 523.4L478.0 523.3L479.0 523.4L480.0 523.9L481.0 524.0L482.0 523.5L483.0 523.3L484.0 523.5L485.0 524.0L486.0 524.2L487.0 524.1L488.0 524.0L489.0 523.7L490.0 523.6L491.0 523.8L492.0 524.2L493.0 524.3L494.0 524.0L495.0 523.9L496.0 524.3L497.0 524.7L498.0 524.7L499.0 524.5L500.0 524.2L501.0 523.9L502.0 523.8L503.0 524.1L504.0 524.4L505.0 524.7L506.0 524.4L507.0 523.8L508.0 523.8L509.0 524.1L510.0 524.0L511.0 524.1L512.0 524.1L513.0 523.9L514.0 524.3L515.0 524.3L516.0 523.7L517.0 523.8L518.0 524.2L519.0 524.1L520.0 523.8L521.0 523.6L522.0 523.7L523.0 523.8L524.0 524.2L525.0 524.5L526.0 524.4L527.0 524.2L528.0 524.1L529.0 523.8L530.0 523.8L531.0 524.4L532.0 524.6L533.0 524.4L534.0 524.3L535.0 524.1L536.0 524.3L537.0 524.4L538.0 523.9L539.0 523.7L540.0 523.7L541.0 524.0L542.0 523.9L543.0 523.6L544.0 523.5L545.0 523.8L546.0 524.1L547.0 523.8L548.0 523.9L549.0 524.1L550.0 523.6L551.0 523.6L552.0 524.2L553.0 524.7L554.0 524.6L555.0 524.2L556.0 523.7L557.0 524.0L558.0 524.1L559.0 523.9L560.0 524.0L561.0 524.2L562.0 524.2L563.0 524.1L564.0 524.0L565.0 523.8L566.0 523.5L567.0 523.4L568.0 523.5L569.0 523.7L570.0 524.2L571.0 524.2L572.0 523.7L573.0 523.6L574.0 524.2L575.0 524.5L576.0 524.4L577.0 524.0L578.0 523.8L579.0 523.8L580.0 524.0L581.0 523.8L582.0 523.9L583.0 524.5L584.0 524.6L585.0 524.2L586.0 524.0L587.0 523.7L588.0 523.7L589.0 524.3L590.0 524.5L591.0 524.2L592.0 524.1L593.0 523.9L594.0 523.6L595.0 523.9L596.0 524.2L597.0 524.3L598.0 523.9L599.0 523.6L600.0 523.7L601.0 523.7L602.0 523.5L603.0 523.7L604.0 524.3L605.0 524.7L606.0 524.7L607.0 524.8L608.0 524.6L609.0 524.2L610.0 523.9L611.0 523.8L612.0 523.7L613.0 523.7L614.0 524.0L615.0 524.7L616.0 524.9L617.0 524.5L618.0 524.1L619.0 524.4L620.0 524.8L621.0 524.6L622.0 524.3L623.0 524.0L624.0 523.8L625.0 523.6L626.0 523.2L627.0 522.8L628.0 523.0L629.0 523.6L630.0 523.6L631.0 523.2L632.0 522.9L633.0 522.9L634.0 522.7L635.0 522.6L636.0 522.8L637.0 522.7L638.0 522.6L639.0 522.8L640.0 523.0L641.0 522.7L642.0 522.6L643.0 522.9L644.0 523.3L645.0 523.5L646.0 523.3L647.0 523.2L648.0 523.2L649.0 523.0L650.0 522.9L651.0 522.7L652.0 522.5L653.0 522.5L654.0 523.1L655.0 523.3L656.0 523.0L657.0 523.2L658.0 523.3L659.0 523.2L660.0 523.0L661.0 522.5L662.0 522.4L663.0 522.6L664.0 522.8L665.0 523.0L666.0 523.3L667.0 523.3L668.0 523.2L669.0 523.3L670.0 523.0L671.0 522.5L672.0 522.8L673.0 523.4L674.0 523.6L675.0 523.5L676.0 523.5L677.0 523.4L678.0 523.6L679.0 523.9L680.0 523.6L681.0 523.2L682.0 523.1L683.0 523.1L684.0 523.2L685.0 523.5L686.0 523.4L687.0 522.9L688.0 523.1L689.0 523.5L690.0 523.2L691.0 522.8L692.0 522.8L693.0 523.3L694.0 523.8L695.0 524.0L696.0 523.7L697.0 523.7L698.0 524.3L699.0 524.9L700.0 524.9L701.0 524.6L702.0 524.3L703.0 524.2L704.0 524.6L705.0 524.7L706.0 524.3L707.0 524.2L708.0 524.5L709.0 524.5L710.0 524.2L711.0 524.3L712.0 524.7L713.0 524.8L714.0 524.6L715.0 524.4L716.0 524.2L717.0 524.0L718.0 524.2L719.0 524.7L720.0 524.8L721.0 524.8L722.0 524.6L723.0 524.5L724.0 524.3L725.0 524.2L726.0 524.5L727.0 524.3L728.0 524.1L729.0 524.4L730.0 524.5L731.0 524.3L732.0 524.1L733.0 524.2L734.0 524.4L735.0 524.3L736.0 524.1L737.0 524.5L738.0 525.0L739.0 525.1L740.0 524.5L741.0 524.1L742.0 524.2L743.0 524.2L744.0 524.2L745.0 524.8L746.0 525.3L747.0 525.1L748.0 524.7L749.0 524.7L750.0 524.6L751.0 524.1L752.0 524.2L753.0 524.9L754.0 525.0L755.0 524.7L756.0 524.7L757.0 524.2L758.0 524.1L759.0 524.6L760.0 524.9L761.0 524.5L762.0 524.1L763.0 524.4L764.0 524.6L765.0 524.5L766.0 524.9L767.0 525.1L768.0 524.6L769.0 524.6L770.0 525.1L771.0 525.3L772.0 525.1L773.0 524.8L774.0 524.6L775.0 524.2L776.0 524.3L777.0 524.7L778.0 524.7L779.0 524.9L780.0 525.2L781.0 525.2L782.0 525.1L783.0 524.8L784.0 524.6L785.0 524.3L786.0 524.2L787.0 524.3L788.0 524.4L789.0 524.8L790.0 525.2L791.0 524.9L792.0 524.6L793.0 524.5L794.0 524.4L795.0 524.4L796.0 524.6L797.0 524.9L798.0 525.2L799.0 525.0L800.0 524.5L801.0 524.2L802.0 524.0L803.0 524.0L804.0 524.3L805.0 524.5L806.0 524.7L807.0 524.8L808.0 524.7L809.0 524.7L810.0 524.4L811.0 524.1L812.0 524.4L813.0 525.0L814.0 524.8L815.0 524.3L816.0 524.0L817.0 524.0L818.0 524.3L819.0 524.7L820.0 524.9L821.0 524.9L822.0 524.8L823.0 524.6L824.0 524.8L825.0 525.1L826.0 525.0L827.0 525.0L828.0 525.1L829.0 525.2L830.0 524.9L831.0 524.6L832.0 524.9L833.0 525.0L834.0 524.7L835.0 524.5L836.0 524.4L837.0 524.6L838.0 525.1L839.0 525.2L840.0 525.1L841.0 525.0L842.0 524.8L843.0 524.8L844.0 524.5L845.0 524.5L846.0 524.7L847.0 524.5L848.0 524.4L849.0 525.0L850.0 525.3L851.0 525.0L852.0 525.0L853.0 525.1L854.0 524.9L855.0 524.8L856.0 524.9L857.0 524.6L858.0 524.2L859.0 524.6L860.0 524.8L861.0 524.4L862.0 524.5L863.0 525.0L864.0 525.1L865.0 525.0L866.0 525.0L867.0 525.0L868.0 524.6L869.0 524.2L870.0 524.1L871.0 524.3L872.0 524.5L873.0 524.4L874.0 524.0L875.0 523.5L876.0 523.3L877.0 523.4L878.0 523.6L879.0 523.3L880.0 523.2L881.0 523.7L882.0 523.8L883.0 523.8L884.0 524.0L885.0 523.8L886.0 523.4L887.0 523.4L888.0 524.0L889.0 524.2L890.0 523.8L891.0 523.8L892.0 523.6L893.0 523.6L894.0 523.8L895.0 523.9L896.0 524.1L897.0 524.0L898.0 523.6L899.0 523.5L900.0 523.7L901.0 523.6L902.0 523.1L903.0 523.0L904.0 523.2L905.0 523.5L906.0 523.6L907.0 523.6L908.0 523.6L909.0 523.7L910.0 523.3L911.0 523.2L912.0 523.4L913.0 523.5L914.0 523.7L915.0 523.4L916.0 523.5L917.0 523.8L918.0 523.8L919.0 524.0L920.0 524.3L921.0 524.2L922.0 523.8L923.0 523.9L924.0 524.3L925.0 524.3L926.0 524.2L927.0 524.4L928.0 524.4L929.0 524.2L930.0 524.0L931.0 524.2L932.0 524.6L933.0 524.5L934.0 524.2L935.0 523.9L936.0 523.6L937.0 523.8L938.0 524.4L939.0 524.6L940.0 524.4L941.0 524.2L942.0 524.0L943.0 524.1L944.0 524.2L945.0 524.1L946.0 523.8L947.0 523.6L948.0 523.8L949.0 524.1L950.0 524.2L951.0 524.5L952.0 524.6L953.0 524.1L954.0 523.6L955.0 523.5L956.0 523.6L957.0 524.0L958.0 524.5L959.0 524.5L960.0 524.2L961.0 523.8L962.0 523.7L963.0 524.0L964.0 524.1L965.0 524.1L966.0 523.9L967.0 523.8L968.0 524.2L969.0 524.6L970.0 524.6L971.0 524.4L972.0 524.5L973.0 524.4L974.0 523.9L975.0 524.0L976.0 523.9L977.0 523.7L978.0 524.0L979.0 524.1L980.0 523.6L981.0 523.4L982.0 523.5L983.0 523.7L984.0 523.8L985.0 523.6L986.0 523.6L987.0 524.1L988.0 524.5L989.0 524.4L990.0 524.0L991.0 523.8L992.0 524.0L993.0 524.0L994.0 524.1L995.0 524.0L996.0 524.2L997.0 524.5L998.0 524.6L999.0 524.3L1000.0 524.0L1001.0 524.0L1002.0 523.9L1003.0 523.9L1004.0 523.9L1005.0 523.9L1006.0 523.9L1007.0 523.9L1008.0 524.1L1009.0 524.0L1010.0 524.1L1011.0 524.6L1012.0 524.6L1013.0 524.2L1014.0 524.3L1015.0 524.1L1016.0 523.8L1017.0 523.7L1018.0 523.8L1019.0 524.1L1020.0 524.3L1021.0 524.3L1022.0 524.2L1023.0 524.1L1024.0 524.1L1025.0 524.2L1026.0 524.3L1027.0 524.1L1028.0 524.0L1029.0 524.3L1030.0 524.5L1031.0 524.4L1032.0 524.6L1033.0 524.7L1034.0 524.6L1035.0 524.1L1036.0 524.0L1037.0 524.3L1038.0 524.0L1039.0 523.5L1040.0 523.6L1041.0 523.9L1042.0 524.0L1043.0 524.0L1044.0 523.8L1045.0 523.4L1046.0 523.5L1047.0 523.9L1048.0 523.8L1049.0 523.3L1050.0 523.1L1051.0 523.3L1052.0 523.7L1053.0 524.0L1054.0 523.8L1055.0 523.5L1056.0 523.4L1057.0 523.6L1058.0 523.6L1059.0 523.4L1060.0 523.5L1061.0 523.5L1062.0 523.2L1063.0 523.5L1064.0 523.3L1065.0 522.7L1066.0 522.5L1067.0 523.0L1068.0 523.7L1069.0 523.5L1070.0 523.1L1071.0 523.0L1072.0 522.7L1073.0 522.4L1074.0 522.8L1075.0 523.2L1076.0 523.0L1077.0 522.7L1078.0 522.8L1079.0 523.0L1080.0 523.4L1081.0 523.7L1082.0 523.7L1083.0 523.5L1084.0 523.0L1085.0 522.8L1086.0 523.2L1087.0 523.3L1088.0 523.2L1089.0 523.4L1090.0 523.5L1091.0 523.6L1092.0 523.7L1093.0 523.4L1094.0 522.7L1095.0 522.3L1096.0 522.6L1097.0 523.3L1098.0 523.4L1099.0 522.9L1100.0 523.1L1101.0 523.3L1102.0 523.2L1103.0 523.1L1104.0 523.3L1105.0 523.6L1106.0 523.3L1107.0 522.8L1108.0 522.6L1109.0 523.0L1110.0 523.1L1111.0 522.8L1112.0 522.4L1113.0 522.3L1114.0 522.2L1115.0 522.4L1116.0 523.0L1117.0 522.9L1118.0 522.5L1119.0 522.7L1120.0 523.0L1121.0 522.9L1122.0 522.5L1123.0 522.3L1124.0 522.2L1125.0 522.5L1126.0 522.8L1127.0 523.1L1128.0 522.9L1129.0 522.7L1130.0 522.8L1131.0 522.8L1132.0 522.5L1133.0 522.4L1134.0 522.8L1135.0 523.3L1136.0 523.2L1137.0 522.5L1138.0 522.5L1139.0 523.0L1140.0 523.1L1141.0 523.1L1142.0 523.0L1143.0 522.8L1144.0 522.9L1145.0 522.7L1146.0 522.6L1147.0 522.8L1148.0 522.5L1149.0 522.6L1150.0 522.9L1151.0 522.7L1152.0 522.5L1153.0 522.5L1154.0 522.8L1154.0 528.0Z" fill="#fec13a" shape-rendering="crispEdges" filter="url(#nz3)"/>
<rect x="628" y="525" width="12" height="2.6" fill="#f6f01f" opacity="0.6"/>
<rect x="645" y="525" width="6" height="2.6" fill="#f6f01f" opacity="0.6"/>
<rect x="659" y="525" width="17" height="2.6" fill="#f6f01f" opacity="0.6"/>
<rect x="684" y="525" width="7" height="2.6" fill="#f6f01f" opacity="0.6"/>
<path d="M165.0 520.0 L180.0 520.6 L197.0 519.6 L215.0 520.4 L240.0 519.8 L270.0 520.6 L298.0 520.2" fill="none" stroke="#d8be28" stroke-width="1.6" opacity="1.00" stroke-linejoin="round"/>
<path d="M298.0 520.6 L330.0 521.4 L360.0 522.4" fill="none" stroke="#78cc5f" stroke-width="1.2" opacity="0.88" stroke-linejoin="round"/>
<path d="M872.0 524.0 L876.0 520.5 L880.0 522.0 L884.0 520.2 L889.0 523.5" fill="none" stroke="#d8be28" stroke-width="1.2" opacity="1.00" stroke-linejoin="round"/>
<path d="M898.0 524.0 L903.0 521.0 L908.0 516.3 L913.0 520.5 L920.0 523.3 L930.0 524.2" fill="none" stroke="#d8be28" stroke-width="1.3" opacity="1.00" stroke-linejoin="round"/>
<path d="M1012.0 524.0 L1017.0 519.0 L1021.0 524.0" fill="none" stroke="#c3c22b" stroke-width="1.2" opacity="1.00" stroke-linejoin="round"/>
<path d="M1040.0 523.3 L1080.0 522.2 L1120.0 521.6 L1155.0 520.6" fill="none" stroke="#c3c22b" stroke-width="1.2" opacity="1.00" stroke-linejoin="round"/>
<line x1="165" y1="528.5" x2="1155" y2="528.5" stroke="#1f1f1f" stroke-width="1" shape-rendering="crispEdges"/>
<text x="155.6" y="298.9" font-family="'DejaVu Sans', 'Liberation Sans', sans-serif" font-size="21.2" font-weight="normal" text-anchor="end" fill="#262626">0</text>
<text x="155.6" y="259.1" font-family="'DejaVu Sans', 'Liberation Sans', sans-serif" font-size="21.2" font-weight="normal" text-anchor="end" fill="#262626">20</text>
<text x="155.6" y="219.4" font-family="'DejaVu Sans', 'Liberation Sans', sans-serif" font-size="21.2" font-weight="normal" text-anchor="end" fill="#262626">40</text>
<text x="155.6" y="179.7" font-family="'DejaVu Sans', 'Liberation Sans', sans-serif" font-size="21.2" font-weight="normal" text-anchor="end" fill="#262626">60</text>
<text x="155.6" y="139.9" font-family="'DejaVu Sans', 'Liberation Sans', sans-serif" font-size="21.2" font-weight="normal" text-anchor="end" fill="#262626">80</text>
<text x="155.6" y="534.9" font-family="'DejaVu Sans', 'Liberation Sans', sans-serif" font-size="21.2" font-weight="normal" text-anchor="end" fill="#262626">0</text>
<text x="155.6" y="494.6" font-family="'DejaVu Sans', 'Liberation Sans', sans-serif" font-size="21.2" font-weight="normal" text-anchor="end" fill="#262626">20</text>
<text x="155.6" y="454.4" font-family="'DejaVu Sans', 'Liberation Sans', sans-serif" font-size="21.2" font-weight="normal" text-anchor="end" fill="#262626">40</text>
<text x="155.6" y="414.1" font-family="'DejaVu Sans', 'Liberation Sans', sans-serif" font-size="21.2" font-weight="normal" text-anchor="end" fill="#262626">60</text>
<text x="155.6" y="373.9" font-family="'DejaVu Sans', 'Liberation Sans', sans-serif" font-size="21.2" font-weight="normal" text-anchor="end" fill="#262626">80</text>
<text x="91.8" y="213.6" font-family="'DejaVu Sans', 'Liberation Sans', sans-serif" font-size="18.75" font-weight="bold" text-anchor="middle" fill="#262626" transform="rotate(-90 91.8 213.6)">Outboard Sensor</text>
<text x="117.5" y="213.6" font-family="'DejaVu Sans', 'Liberation Sans', sans-serif" font-size="18.75" font-weight="bold" text-anchor="middle" fill="#262626" transform="rotate(-90 117.5 213.6)">Frequency (Hz)</text>
<text x="92.5" y="447.5" font-family="'DejaVu Sans', 'Liberation Sans', sans-serif" font-size="18.75" font-weight="bold" text-anchor="middle" fill="#262626" transform="rotate(-90 92.5 447.5)">Inboard Sensor</text>
<text x="117.5" y="447.5" font-family="'DejaVu Sans', 'Liberation Sans', sans-serif" font-size="18.75" font-weight="bold" text-anchor="middle" fill="#262626" transform="rotate(-90 117.5 447.5)">Frequency (Hz)</text>
<rect x="1225.5" y="118.5" width="32" height="399" fill="url(#cb)" stroke="#262626" stroke-width="1.1"/>
<text x="1217.5" y="124" font-family="'DejaVu Sans', 'Liberation Sans', sans-serif" font-size="15" font-weight="bold" text-anchor="end" fill="#262626">10</text>
<line x1="1225.5" y1="175.5" x2="1229.5" y2="175.5" stroke="#262626" stroke-width="1.1"/>
<text x="1217.5" y="181" font-family="'DejaVu Sans', 'Liberation Sans', sans-serif" font-size="15" font-weight="bold" text-anchor="end" fill="#262626">5</text>
<line x1="1225.5" y1="232.5" x2="1229.5" y2="232.5" stroke="#262626" stroke-width="1.1"/>
<text x="1217.5" y="238" font-family="'DejaVu Sans', 'Liberation Sans', sans-serif" font-size="15" font-weight="bold" text-anchor="end" fill="#262626">0</text>
<line x1="1225.5" y1="289.5" x2="1229.5" y2="289.5" stroke="#262626" stroke-width="1.1"/>
<text x="1217.5" y="295" font-family="'DejaVu Sans', 'Liberation Sans', sans-serif" font-size="15" font-weight="bold" text-anchor="end" fill="#262626">-5</text>
<line x1="1225.5" y1="346.5" x2="1229.5" y2="346.5" stroke="#262626" stroke-width="1.1"/>
<text x="1217.5" y="352" font-family="'DejaVu Sans', 'Liberation Sans', sans-serif" font-size="15" font-weight="bold" text-anchor="end" fill="#262626">-10</text>
<line x1="1225.5" y1="403.5" x2="1229.5" y2="403.5" stroke="#262626" stroke-width="1.1"/>
<text x="1217.5" y="409" font-family="'DejaVu Sans', 'Liberation Sans', sans-serif" font-size="15" font-weight="bold" text-anchor="end" fill="#262626">-15</text>
<line x1="1225.5" y1="460.5" x2="1229.5" y2="460.5" stroke="#262626" stroke-width="1.1"/>
<text x="1217.5" y="466" font-family="'DejaVu Sans', 'Liberation Sans', sans-serif" font-size="15" font-weight="bold" text-anchor="end" fill="#262626">-20</text>
<text x="1217.5" y="523" font-family="'DejaVu Sans', 'Liberation Sans', sans-serif" font-size="15" font-weight="bold" text-anchor="end" fill="#262626">-25</text>
<text transform="translate(1173.8,380) rotate(-90)" font-family="'DejaVu Sans', sans-serif" font-size="14.9" font-weight="bold" fill="#262626">Log<tspan font-size="11.5" dy="5">10</tspan><tspan dy="-5"> (nT</tspan><tspan font-size="11.5" dy="-7.5">2</tspan><tspan dy="7.5">/Hz)</tspan></text>
<line x1="269.5" y1="603.5" x2="269.5" y2="762.5" stroke="#dedede" stroke-width="1" shape-rendering="crispEdges"/>
<line x1="556.5" y1="603.5" x2="556.5" y2="762.5" stroke="#dedede" stroke-width="1" shape-rendering="crispEdges"/>
<line x1="843.5" y1="603.5" x2="843.5" y2="762.5" stroke="#dedede" stroke-width="1" shape-rendering="crispEdges"/>
<line x1="1130.5" y1="603.5" x2="1130.5" y2="762.5" stroke="#dedede" stroke-width="1" shape-rendering="crispEdges"/>
<line x1="165.5" y1="628.5" x2="1154.5" y2="628.5" stroke="#dedede" stroke-width="1" shape-rendering="crispEdges"/>
<line x1="165.5" y1="695.5" x2="1154.5" y2="695.5" stroke="#dedede" stroke-width="1" shape-rendering="crispEdges"/>
<polyline points="165.5,628.4 167.0,627.6 168.5,626.8 170.0,626.0 171.5,625.2 173.0,624.5 174.5,623.7 176.0,623.0 177.5,622.2 179.0,621.5 180.5,620.8 182.0,620.1 183.5,619.4 185.0,618.8 186.5,618.1 188.0,617.4 189.5,616.8 191.0,616.2 192.5,615.6 194.0,615.0 195.5,614.4 197.0,613.8 198.5,613.3 200.0,612.7 201.5,612.2 203.0,611.7 204.5,611.2 206.0,610.7 207.5,610.2 209.0,609.8 210.5,609.4 212.0,608.9 213.5,608.5 215.0,608.1 216.5,607.8 218.0,607.4 219.5,607.1 221.0,606.8 222.5,606.5 224.0,606.2 225.5,605.9 227.0,605.7 228.5,605.4 230.0,605.2 231.5,605.0 233.0,604.8 234.5,604.7 236.0,604.6 237.5,604.4 239.0,604.3 240.5,604.3 242.0,604.2 243.5,604.2 245.0,604.1 246.5,604.1 248.0,604.2 249.5,604.2 251.0,604.3 252.5,604.4 254.0,604.5 255.5,604.6 257.0,604.8 258.5,604.9 260.0,605.1 261.5,605.4 263.0,605.6 264.5,605.9 266.0,606.2 267.5,606.5 269.0,606.8 270.5,607.2 272.0,607.6 273.5,608.0 275.0,608.4 276.5,608.9 278.0,609.4 279.5,609.9 281.0,610.4 282.5,611.0 284.0,611.6 285.5,612.2 287.0,612.8 288.5,613.5 290.0,614.2 291.5,614.9 293.0,615.6 294.5,616.4 296.0,617.2 297.5,618.0 299.0,618.9 300.5,619.7 302.0,620.6 303.5,621.6 305.0,622.5 306.5,623.5 308.0,624.5 309.5,625.5 311.0,626.6 312.5,627.6 314.0,628.7 315.5,629.9 317.0,631.0 318.5,632.2 320.0,633.4 321.5,634.6 323.0,635.9 324.5,637.2 326.0,638.5 327.5,639.8 329.0,641.1 330.5,642.5 332.0,643.9 333.5,645.3 335.0,646.8 336.5,648.3 338.0,649.8 339.5,651.3 341.0,652.8 342.5,654.4 344.0,656.0 345.5,657.6 347.0,659.3 348.5,660.9 350.0,662.6 351.5,664.2 353.0,665.9 354.5,667.6 356.0,669.3 357.5,671.0 359.0,672.7 360.5,674.4 362.0,676.1 363.5,677.7 365.0,679.4 366.5,681.1 368.0,682.7 369.5,684.3 371.0,685.9 372.5,687.4 374.0,689.0 375.5,690.5 377.0,691.9 378.5,693.4 380.0,694.8 381.5,696.1 383.0,697.5 384.5,698.7 386.0,700.0 387.5,701.1 389.0,702.2 390.5,703.3 392.0,704.3 393.5,705.3 395.0,706.2 396.5,707.0 398.0,707.8 399.5,708.5 401.0,709.2 402.5,709.8 404.0,710.4 405.5,710.9 407.0,711.4 408.5,711.8 410.0,712.2 411.5,712.5 413.0,712.7 414.5,713.0 416.0,713.1 417.5,713.3 419.0,713.4 420.5,713.4 422.0,713.4 423.5,713.4 425.0,713.3 426.5,713.2 428.0,713.0 429.5,712.8 431.0,712.6 432.5,712.3 434.0,712.0 435.5,711.6 437.0,711.2 438.5,710.8 440.0,710.3 441.5,709.8 443.0,709.3 444.5,708.8 446.0,708.2 447.5,707.6 449.0,707.0 450.5,706.3 452.0,705.7 453.5,705.0 455.0,704.3 456.5,703.5 458.0,702.8 459.5,702.0 461.0,701.2 462.5,700.4 464.0,699.6 465.5,698.8 467.0,698.0 468.5,697.2 470.0,696.3 471.5,695.5 473.0,694.6 474.5,693.7 476.0,692.9 477.5,692.0 479.0,691.2 480.5,690.3 482.0,689.4 483.5,688.6 485.0,687.7 486.5,686.9 488.0,686.1 489.5,685.2 491.0,684.4 492.5,683.6 494.0,682.8 495.5,682.0 497.0,681.3 498.5,680.5 500.0,679.7 501.5,679.0 503.0,678.3 504.5,677.5 506.0,676.8 507.5,676.1 509.0,675.4 510.5,674.8 512.0,674.1 513.5,673.5 515.0,672.8 516.5,672.2 518.0,671.6 519.5,671.0 521.0,670.4 522.5,669.9 524.0,669.3 525.5,668.8 527.0,668.3 528.5,667.8 530.0,667.3 531.5,666.8 533.0,666.4 534.5,665.9 536.0,665.5 537.5,665.1 539.0,664.7 540.5,664.4 542.0,664.0 543.5,663.7 545.0,663.4 546.5,663.1 548.0,662.8 549.5,662.6 551.0,662.4 552.5,662.1 554.0,662.0 555.5,661.8 557.0,661.6 558.5,661.5 560.0,661.3 561.5,661.2 563.0,661.1 564.5,661.0 566.0,661.0 567.5,660.9 569.0,660.9 570.5,660.8 572.0,660.8 573.5,660.8 575.0,660.8 576.5,660.8 578.0,660.8 579.5,660.9 581.0,660.9 582.5,661.0 584.0,661.0 585.5,661.1 587.0,661.2 588.5,661.2 590.0,661.3 591.5,661.4 593.0,661.5 594.5,661.7 596.0,661.8 597.5,661.9 599.0,662.0 600.5,662.1 602.0,662.3 603.5,662.4 605.0,662.5 606.5,662.7 608.0,662.8 609.5,663.0 611.0,663.1 612.5,663.3 614.0,663.4 615.5,663.6 617.0,663.7 618.5,663.8 620.0,664.0 621.5,664.1 623.0,664.3 624.5,664.4 626.0,664.5 627.5,664.7 629.0,664.8 630.5,664.9 632.0,665.1 633.5,665.2 635.0,665.3 636.5,665.4 638.0,665.5 639.5,665.7 641.0,665.8 642.5,665.9 644.0,666.0 645.5,666.1 647.0,666.2 648.5,666.3 650.0,666.4 651.5,666.5 653.0,666.6 654.5,666.8 656.0,666.9 657.5,667.0 659.0,667.0 660.5,667.1 662.0,667.2 663.5,667.3 665.0,667.4 666.5,667.5 668.0,667.6 669.5,667.7 671.0,667.8 672.5,667.9 674.0,668.0 675.5,668.1 677.0,668.1 678.5,668.2 680.0,668.3 681.5,668.4 683.0,668.5 684.5,668.5 686.0,668.6 687.5,668.7 689.0,668.8 690.5,668.9 692.0,668.9 693.5,669.0 695.0,669.1 696.5,669.2 698.0,669.2 699.5,669.3 701.0,669.4 702.5,669.4 704.0,669.5 705.5,669.6 707.0,669.7 708.5,669.7 710.0,669.8 711.5,669.9 713.0,670.0 714.5,670.0 716.0,670.1 717.5,670.2 719.0,670.3 720.5,670.4 722.0,670.5 723.5,670.6 725.0,670.7 726.5,670.8 728.0,670.9 729.5,671.0 731.0,671.1 732.5,671.2 734.0,671.4 735.5,671.5 737.0,671.7 738.5,671.8 740.0,672.0 741.5,672.1 743.0,672.3 744.5,672.5 746.0,672.7 747.5,672.9 749.0,673.1 750.5,673.4 752.0,673.6 753.5,673.9 755.0,674.1 756.5,674.4 758.0,674.7 759.5,675.0 761.0,675.3 762.5,675.6 764.0,675.9 765.5,676.3 767.0,676.7 768.5,677.0 770.0,677.4 771.5,677.8 773.0,678.3 774.5,678.7 776.0,679.2 777.5,679.6 779.0,680.1 780.5,680.6 782.0,681.1 783.5,681.7 785.0,682.2 786.5,682.8 788.0,683.4 789.5,684.0 791.0,684.6 792.5,685.2 794.0,685.9 795.5,686.5 797.0,687.2 798.5,687.9 800.0,688.6 801.5,689.3 803.0,690.0 804.5,690.7 806.0,691.5 807.5,692.2 809.0,693.0 810.5,693.8 812.0,694.6 813.5,695.4 815.0,696.2 816.5,697.0 818.0,697.8 819.5,698.7 821.0,699.5 822.5,700.4 824.0,701.2 825.5,702.1 827.0,703.0 828.5,703.9 830.0,704.8 831.5,705.7 833.0,706.6 834.5,707.5 836.0,708.4 837.5,709.4 839.0,710.3 840.5,711.3 842.0,712.2 843.5,713.2 845.0,714.1 846.5,715.1 848.0,716.1 849.5,717.0 851.0,718.0 852.5,719.0 854.0,720.0 855.5,720.9 857.0,721.9 858.5,722.9 860.0,723.9 861.5,724.8 863.0,725.8 864.5,726.8 866.0,727.7 867.5,728.7 869.0,729.7 870.5,730.6 872.0,731.5 873.5,732.5 875.0,733.4 876.5,734.3 878.0,735.2 879.5,736.1 881.0,737.0 882.5,737.9 884.0,738.8 885.5,739.6 887.0,740.5 888.5,741.3 890.0,742.1 891.5,742.9 893.0,743.7 894.5,744.5 896.0,745.2 897.5,746.0 899.0,746.7 900.5,747.4 902.0,748.1 903.5,748.7 905.0,749.4 906.5,750.0 908.0,750.6 909.5,751.2 911.0,751.7 912.5,752.2 914.0,752.8 915.5,753.2 917.0,753.7 918.5,754.1 920.0,754.5 921.5,754.9 923.0,755.2 924.5,755.6 926.0,755.8 927.5,756.1 929.0,756.3 930.5,756.5 932.0,756.7 933.5,756.8 935.0,756.9 936.5,757.0 938.0,757.0 939.5,757.0 941.0,756.9 942.5,756.8 944.0,756.7 945.5,756.5 947.0,756.3 948.5,756.0 950.0,755.7 951.5,755.4 953.0,755.0 954.5,754.6 956.0,754.1 957.5,753.6 959.0,753.0 960.5,752.4 962.0,751.8 963.5,751.1 965.0,750.4 966.5,749.7 968.0,748.9 969.5,748.1 971.0,747.3 972.5,746.4 974.0,745.5 975.5,744.6 977.0,743.6 978.5,742.7 980.0,741.7 981.5,740.6 983.0,739.6 984.5,738.5 986.0,737.4 987.5,736.3 989.0,735.2 990.5,734.1 992.0,732.9 993.5,731.8 995.0,730.6 996.5,729.4 998.0,728.2 999.5,727.0 1001.0,725.7 1002.5,724.5 1004.0,723.2 1005.5,721.9 1007.0,720.6 1008.5,719.3 1010.0,718.0 1011.5,716.7 1013.0,715.3 1014.5,714.0 1016.0,712.6 1017.5,711.3 1019.0,709.9 1020.5,708.5 1022.0,707.1 1023.5,705.7 1025.0,704.3 1026.5,702.9 1028.0,701.5 1029.5,700.1 1031.0,698.6 1032.5,697.2 1034.0,695.7 1035.5,694.3 1037.0,692.8 1038.5,691.4 1040.0,689.9 1041.5,688.4 1043.0,687.0 1044.5,685.5 1046.0,684.0 1047.5,682.5 1049.0,681.1 1050.5,679.6 1052.0,678.1 1053.5,676.6 1055.0,675.2 1056.5,673.7 1058.0,672.2 1059.5,670.7 1061.0,669.3 1062.5,667.8 1064.0,666.3 1065.5,664.8 1067.0,663.4 1068.5,661.9 1070.0,660.5 1071.5,659.0 1073.0,657.6 1074.5,656.2 1076.0,654.7 1077.5,653.3 1079.0,651.9 1080.5,650.6 1082.0,649.2 1083.5,647.8 1085.0,646.5 1086.5,645.2 1088.0,643.9 1089.5,642.7 1091.0,641.5 1092.5,640.3 1094.0,639.1 1095.5,638.0 1097.0,636.9 1098.5,635.8 1100.0,634.8 1101.5,633.8 1103.0,632.8 1104.5,631.9 1106.0,631.0 1107.5,630.2 1109.0,629.4 1110.5,628.7 1112.0,628.0 1113.5,627.3 1115.0,626.7 1116.5,626.2 1118.0,625.7 1119.5,625.3 1121.0,624.9 1122.5,624.6 1124.0,624.3 1125.5,624.1 1127.0,624.0 1128.5,623.9 1130.0,623.8 1131.5,623.8 1133.0,623.9 1134.5,624.0 1136.0,624.2 1137.5,624.4 1139.0,624.7 1140.5,625.0 1142.0,625.4 1143.5,625.8 1145.0,626.3 1146.5,626.8 1148.0,627.4 1149.5,628.1 1151.0,628.7 1152.5,629.5 1154.0,630.3" fill="none" stroke="#4f7a10" stroke-width="1.8" stroke-linejoin="round" opacity="0.8"/>
<polyline points="165.5,628.4 167.0,627.6 168.5,626.8 170.0,626.0 171.5,625.2 173.0,624.5 174.5,623.7 176.0,623.0 177.5,622.2 179.0,621.5 180.5,620.8 182.0,620.1 183.5,619.4 185.0,618.8 186.5,618.1 188.0,617.4 189.5,616.8 191.0,616.2 192.5,615.6 194.0,615.0 195.5,614.4 197.0,613.8 198.5,613.3 200.0,612.7 201.5,612.2 203.0,611.7 204.5,611.2 206.0,610.7 207.5,610.2 209.0,609.8 210.5,609.4 212.0,608.9 213.5,608.5 215.0,608.1 216.5,607.8 218.0,607.4 219.5,607.1 221.0,606.8 222.5,606.5 224.0,606.2 225.5,605.9 227.0,605.7 228.5,605.4 230.0,605.2 231.5,605.0 233.0,604.8 234.5,604.7 236.0,604.6 237.5,604.4 239.0,604.3 240.5,604.3 242.0,604.2 243.5,604.2 245.0,604.1 246.5,604.1 248.0,604.2 249.5,604.2 251.0,604.3 252.5,604.4 254.0,604.5 255.5,604.6 257.0,604.8 258.5,604.9 260.0,605.1 261.5,605.4 263.0,605.6 264.5,605.9 266.0,606.2 267.5,606.5 269.0,606.8 270.5,607.2 272.0,607.6 273.5,608.0 275.0,608.4 276.5,608.9 278.0,609.4 279.5,609.9 281.0,610.4 282.5,611.0 284.0,611.6 285.5,612.2 287.0,612.8 288.5,613.5 290.0,614.2 291.5,614.9 293.0,615.6 294.5,616.4 296.0,617.2 297.5,618.0 299.0,618.9 300.5,619.7 302.0,620.6 303.5,621.6 305.0,622.5 306.5,623.5 308.0,624.5 309.5,625.5 311.0,626.6 312.5,627.6 314.0,628.7 315.5,629.9 317.0,631.0 318.5,632.2 320.0,633.4 321.5,634.6 323.0,635.9 324.5,637.2 326.0,638.5 327.5,639.8 329.0,641.1 330.5,642.5 332.0,643.9 333.5,645.3 335.0,646.8 336.5,648.3 338.0,649.8 339.5,651.3 341.0,652.8 342.5,654.4 344.0,656.0 345.5,657.6 347.0,659.3 348.5,660.9 350.0,662.6 351.5,664.2 353.0,665.9 354.5,667.6 356.0,669.3 357.5,671.0 359.0,672.7 360.5,674.4 362.0,676.1 363.5,677.7 365.0,679.4 366.5,681.1 368.0,682.7 369.5,684.3 371.0,685.9 372.5,687.4 374.0,689.0 375.5,690.5 377.0,691.9 378.5,693.4 380.0,694.8 381.5,696.1 383.0,697.5 384.5,698.7 386.0,700.0 387.5,701.1 389.0,702.2 390.5,703.3 392.0,704.3 393.5,705.3 395.0,706.2 396.5,707.0 398.0,707.8 399.5,708.5 401.0,709.2 402.5,709.8 404.0,710.4 405.5,710.9 407.0,711.4 408.5,711.8 410.0,712.2 411.5,712.5 413.0,712.7 414.5,713.0 416.0,713.1 417.5,713.3 419.0,713.4 420.5,713.4 422.0,713.4 423.5,713.4 425.0,713.3 426.5,713.2 428.0,713.0 429.5,712.8 431.0,712.6 432.5,712.3 434.0,712.0 435.5,711.6 437.0,711.2 438.5,710.8 440.0,710.3 441.5,709.8 443.0,709.3 444.5,708.8 446.0,708.2 447.5,707.6 449.0,707.0 450.5,706.3 452.0,705.7 453.5,705.0 455.0,704.3 456.5,703.5 458.0,702.8 459.5,702.0 461.0,701.2 462.5,700.4 464.0,699.6 465.5,698.8 467.0,698.0 468.5,697.2 470.0,696.3 471.5,695.5 473.0,694.6 474.5,693.7 476.0,692.9 477.5,692.0 479.0,691.2 480.5,690.3 482.0,689.4 483.5,688.6 485.0,687.7 486.5,686.9 488.0,686.1 489.5,685.2 491.0,684.4 492.5,683.6 494.0,682.8 495.5,682.0 497.0,681.3 498.5,680.5 500.0,679.7 501.5,679.0 503.0,678.3 504.5,677.5 506.0,676.8 507.5,676.1 509.0,675.4 510.5,674.8 512.0,674.1 513.5,673.5 515.0,672.8 516.5,672.2 518.0,671.6 519.5,671.0 521.0,670.4 522.5,669.9 524.0,669.3 525.5,668.8 527.0,668.3 528.5,667.8 530.0,667.3 531.5,666.8 533.0,666.4 534.5,665.9 536.0,665.5 537.5,665.1 539.0,664.7 540.5,664.4 542.0,664.0 543.5,663.7 545.0,663.4 546.5,663.1 548.0,662.8 549.5,662.6 551.0,662.4 552.5,662.1 554.0,662.0 555.5,661.8 557.0,661.6 558.5,661.5 560.0,661.3 561.5,661.2 563.0,661.1 564.5,661.0 566.0,661.0 567.5,660.9 569.0,660.9 570.5,660.8 572.0,660.8 573.5,660.8 575.0,660.8 576.5,660.8 578.0,660.8 579.5,660.9 581.0,660.9 582.5,661.0 584.0,661.0 585.5,661.1 587.0,661.2 588.5,661.2 590.0,661.3 591.5,661.4 593.0,661.5 594.5,661.7 596.0,661.8 597.5,661.9 599.0,662.0 600.5,662.1 602.0,662.3 603.5,662.4 605.0,662.5 606.5,662.7 608.0,662.8 609.5,663.0 611.0,663.1 612.5,663.3 614.0,663.4 615.5,663.6 617.0,663.7 618.5,663.8 620.0,664.0 621.5,664.1 623.0,664.3 624.5,664.4 626.0,664.5 627.5,664.7 629.0,664.8 630.5,664.9 632.0,665.1 633.5,665.2 635.0,665.3 636.5,665.4 638.0,665.5 639.5,665.7 641.0,665.8 642.5,665.9 644.0,666.0 645.5,666.1 647.0,666.2 648.5,666.3 650.0,666.4 651.5,666.5 653.0,666.6 654.5,666.8 656.0,666.9 657.5,667.0 659.0,667.0 660.5,667.1 662.0,667.2 663.5,667.3 665.0,667.4 666.5,667.5 668.0,667.6 669.5,667.7 671.0,667.8 672.5,667.9 674.0,668.0 675.5,668.1 677.0,668.1 678.5,668.2 680.0,668.3 681.5,668.4 683.0,668.5 684.5,668.5 686.0,668.6 687.5,668.7 689.0,668.8 690.5,668.9 692.0,668.9 693.5,669.0 695.0,669.1 696.5,669.2 698.0,669.2 699.5,669.3 701.0,669.4 702.5,669.4 704.0,669.5 705.5,669.6 707.0,669.7 708.5,669.7 710.0,669.8 711.5,669.9 713.0,670.0 714.5,670.0 716.0,670.1 717.5,670.2 719.0,670.3 720.5,670.4 722.0,670.5 723.5,670.6 725.0,670.7 726.5,670.8 728.0,670.9 729.5,671.0 731.0,671.1 732.5,671.2 734.0,671.4 735.5,671.5 737.0,671.7 738.5,671.8 740.0,672.0 741.5,672.1 743.0,672.3 744.5,672.5 746.0,672.7 747.5,672.9 749.0,673.1 750.5,673.4 752.0,673.6 753.5,673.9 755.0,674.1 756.5,674.4 758.0,674.7 759.5,675.0 761.0,675.3 762.5,675.6 764.0,675.9 765.5,676.3 767.0,676.7 768.5,677.0 770.0,677.4 771.5,677.8 773.0,678.3 774.5,678.7 776.0,679.2 777.5,679.6 779.0,680.1 780.5,680.6 782.0,681.1 783.5,681.7 785.0,682.2 786.5,682.8 788.0,683.4 789.5,684.0 791.0,684.6 792.5,685.2 794.0,685.9 795.5,686.5 797.0,687.2 798.5,687.9 800.0,688.6 801.5,689.3 803.0,690.0 804.5,690.7 806.0,691.5 807.5,692.2 809.0,693.0 810.5,693.8 812.0,694.6 813.5,695.4 815.0,696.2 816.5,697.0 818.0,697.8 819.5,698.7 821.0,699.5 822.5,700.4 824.0,701.2 825.5,702.1 827.0,703.0 828.5,703.9 830.0,704.8 831.5,705.7 833.0,706.6 834.5,707.5 836.0,708.4 837.5,709.4 839.0,710.3 840.5,711.3 842.0,712.2 843.5,713.2 845.0,714.1 846.5,715.1 848.0,716.1 849.5,717.0 851.0,718.0 852.5,719.0 854.0,720.0 855.5,720.9 857.0,721.9 858.5,722.9 860.0,723.9 861.5,724.8 863.0,725.8 864.5,726.8 866.0,727.7 867.5,728.7 869.0,729.7 870.5,730.6 872.0,731.5 873.5,732.5 875.0,733.4 876.5,734.3 878.0,735.2 879.5,736.1 881.0,737.0 882.5,737.9 884.0,738.8 885.5,739.6 887.0,740.5 888.5,741.3 890.0,742.1 891.5,742.9 893.0,743.7 894.5,744.5 896.0,745.2 897.5,746.0 899.0,746.7 900.5,747.4 902.0,748.1 903.5,748.7 905.0,749.4 906.5,750.0 908.0,750.6 909.5,751.2 911.0,751.7 912.5,752.2 914.0,752.8 915.5,753.2 917.0,753.7 918.5,754.1 920.0,754.5 921.5,754.9 923.0,755.2 924.5,755.6 926.0,755.8 927.5,756.1 929.0,756.3 930.5,756.5 932.0,756.7 933.5,756.8 935.0,756.9 936.5,757.0 938.0,757.0 939.5,757.0 941.0,756.9 942.5,756.8 944.0,756.7 945.5,756.5 947.0,756.3 948.5,756.0 950.0,755.7 951.5,755.4 953.0,755.0 954.5,754.6 956.0,754.1 957.5,753.6 959.0,753.0 960.5,752.4 962.0,751.8 963.5,751.1 965.0,750.4 966.5,749.7 968.0,748.9 969.5,748.1 971.0,747.3 972.5,746.4 974.0,745.5 975.5,744.6 977.0,743.6 978.5,742.7 980.0,741.7 981.5,740.6 983.0,739.6 984.5,738.5 986.0,737.4 987.5,736.3 989.0,735.2 990.5,734.1 992.0,732.9 993.5,731.8 995.0,730.6 996.5,729.4 998.0,728.2 999.5,727.0 1001.0,725.7 1002.5,724.5 1004.0,723.2 1005.5,721.9 1007.0,720.6 1008.5,719.3 1010.0,718.0 1011.5,716.7 1013.0,715.3 1014.5,714.0 1016.0,712.6 1017.5,711.3 1019.0,709.9 1020.5,708.5 1022.0,707.1 1023.5,705.7 1025.0,704.3 1026.5,702.9 1028.0,701.5 1029.5,700.1 1031.0,698.6 1032.5,697.2 1034.0,695.7 1035.5,694.3 1037.0,692.8 1038.5,691.4 1040.0,689.9 1041.5,688.4 1043.0,687.0 1044.5,685.5 1046.0,684.0 1047.5,682.5 1049.0,681.1 1050.5,679.6 1052.0,678.1 1053.5,676.6 1055.0,675.2 1056.5,673.7 1058.0,672.2 1059.5,670.7 1061.0,669.3 1062.5,667.8 1064.0,666.3 1065.5,664.8 1067.0,663.4 1068.5,661.9 1070.0,660.5 1071.5,659.0 1073.0,657.6 1074.5,656.2 1076.0,654.7 1077.5,653.3 1079.0,651.9 1080.5,650.6 1082.0,649.2 1083.5,647.8 1085.0,646.5 1086.5,645.2 1088.0,643.9 1089.5,642.7 1091.0,641.5 1092.5,640.3 1094.0,639.1 1095.5,638.0 1097.0,636.9 1098.5,635.8 1100.0,634.8 1101.5,633.8 1103.0,632.8 1104.5,631.9 1106.0,631.0 1107.5,630.2 1109.0,629.4 1110.5,628.7 1112.0,628.0 1113.5,627.3 1115.0,626.7 1116.5,626.2 1118.0,625.7 1119.5,625.3 1121.0,624.9 1122.5,624.6 1124.0,624.3 1125.5,624.1 1127.0,624.0 1128.5,623.9 1130.0,623.8 1131.5,623.8 1133.0,623.9 1134.5,624.0 1136.0,624.2 1137.5,624.4 1139.0,624.7 1140.5,625.0 1142.0,625.4 1143.5,625.8 1145.0,626.3 1146.5,626.8 1148.0,627.4 1149.5,628.1 1151.0,628.7 1152.5,629.5 1154.0,630.3" fill="none" stroke="#e21600" stroke-width="1.2" stroke-linejoin="round"/>
<rect x="165.5" y="603.5" width="989" height="159" fill="none" stroke="#262626" stroke-width="1" shape-rendering="crispEdges"/>
<line x1="269.5" y1="762.5" x2="269.5" y2="752" stroke="#262626" stroke-width="1" shape-rendering="crispEdges"/>
<line x1="269.5" y1="603.5" x2="269.5" y2="614" stroke="#262626" stroke-width="1" shape-rendering="crispEdges"/>
<line x1="556.5" y1="762.5" x2="556.5" y2="752" stroke="#262626" stroke-width="1" shape-rendering="crispEdges"/>
<line x1="556.5" y1="603.5" x2="556.5" y2="614" stroke="#262626" stroke-width="1" shape-rendering="crispEdges"/>
<line x1="843.5" y1="762.5" x2="843.5" y2="752" stroke="#262626" stroke-width="1" shape-rendering="crispEdges"/>
<line x1="843.5" y1="603.5" x2="843.5" y2="614" stroke="#262626" stroke-width="1" shape-rendering="crispEdges"/>
<line x1="1130.5" y1="762.5" x2="1130.5" y2="752" stroke="#262626" stroke-width="1" shape-rendering="crispEdges"/>
<line x1="1130.5" y1="603.5" x2="1130.5" y2="614" stroke="#262626" stroke-width="1" shape-rendering="crispEdges"/>
<line x1="165.5" y1="628.5" x2="176" y2="628.5" stroke="#262626" stroke-width="1" shape-rendering="crispEdges"/>
<line x1="1154.5" y1="628.5" x2="1144" y2="628.5" stroke="#262626" stroke-width="1" shape-rendering="crispEdges"/>
<line x1="165.5" y1="695.5" x2="176" y2="695.5" stroke="#262626" stroke-width="1" shape-rendering="crispEdges"/>
<line x1="1154.5" y1="695.5" x2="1144" y2="695.5" stroke="#262626" stroke-width="1" shape-rendering="crispEdges"/>
<text x="155.6" y="635.4" font-family="'DejaVu Sans', 'Liberation Sans', sans-serif" font-size="21.2" font-weight="normal" text-anchor="end" fill="#262626">4</text>
<text x="155.6" y="702.4" font-family="'DejaVu Sans', 'Liberation Sans', sans-serif" font-size="21.2" font-weight="normal" text-anchor="end" fill="#262626">3</text>
<text x="155.6" y="769.4" font-family="'DejaVu Sans', 'Liberation Sans', sans-serif" font-size="21.2" font-weight="normal" text-anchor="end" fill="#262626">2</text>
<text x="166.6" y="597.6" font-family="'DejaVu Sans Light', 'DejaVu Sans', sans-serif" font-weight="200" font-size="19" fill="#262626">×</text>
<text x="183.6" y="597.1" font-family="'DejaVu Sans', sans-serif" font-size="21.2" fill="#262626">10</text>
<text x="210.9" y="589.1" font-family="'DejaVu Sans', sans-serif" font-size="17.6" fill="#262626">4</text>
<text x="105" y="684.2" font-family="'DejaVu Sans', 'Liberation Sans', sans-serif" font-size="18.75" font-weight="bold" text-anchor="middle" fill="#262626" transform="rotate(-90 105 684.2)">Total Field</text>
<text x="130" y="684.2" font-family="'DejaVu Sans', 'Liberation Sans', sans-serif" font-size="18.75" font-weight="bold" text-anchor="middle" fill="#262626" transform="rotate(-90 130 684.2)">|B| (nT)</text>
<text x="1170" y="679.6" font-family="'DejaVu Sans', 'Liberation Sans', sans-serif" font-size="14.58" font-weight="bold" text-anchor="start" fill="#000" transform="rotate(-90 1170 679.6)">Inboard</text>
<text x="1182.3" y="700.2" font-family="'DejaVu Sans', 'Liberation Sans', sans-serif" font-size="14.58" font-weight="bold" text-anchor="start" fill="#000" transform="rotate(-90 1182.3 700.2)">Outboard</text>
<text x="1194.2" y="661.5" font-family="'DejaVu Sans', 'Liberation Sans', sans-serif" font-size="14.58" font-weight="bold" text-anchor="start" fill="#000" transform="rotate(-90 1194.2 661.5)">Chaos</text>
<line x1="1164.8" y1="719.3" x2="1164.8" y2="733.8" stroke="#0000ff" stroke-width="1.6"/>
<line x1="1179.9" y1="719.3" x2="1179.9" y2="733.8" stroke="#00ff00" stroke-width="1.6"/>
<line x1="1191.7" y1="719.3" x2="1191.7" y2="733.8" stroke="#ff0000" stroke-width="1.6"/>
<line x1="269.5" y1="837.5" x2="269.5" y2="999.5" stroke="#dedede" stroke-width="1" shape-rendering="crispEdges"/>
<line x1="556.5" y1="837.5" x2="556.5" y2="999.5" stroke="#dedede" stroke-width="1" shape-rendering="crispEdges"/>
<line x1="843.5" y1="837.5" x2="843.5" y2="999.5" stroke="#dedede" stroke-width="1" shape-rendering="crispEdges"/>
<line x1="1130.5" y1="837.5" x2="1130.5" y2="999.5" stroke="#dedede" stroke-width="1" shape-rendering="crispEdges"/>
<line x1="165.5" y1="858.5" x2="1154.5" y2="858.5" stroke="#dedede" stroke-width="1" shape-rendering="crispEdges"/>
<line x1="165.5" y1="928.5" x2="1154.5" y2="928.5" stroke="#dedede" stroke-width="1" shape-rendering="crispEdges"/>
<polygon points="165.5,874.0 166.2,873.1 167.0,873.4 167.8,872.7 168.5,871.7 169.2,872.2 170.0,871.8 170.8,871.6 171.5,871.0 172.2,870.2 173.0,869.4 173.8,868.3 174.5,867.8 175.2,866.7 176.0,865.2 176.8,862.8 177.5,862.3 178.2,860.6 179.0,858.3 179.8,858.2 180.5,856.7 181.2,855.2 182.0,855.8 182.8,855.3 183.5,854.8 184.2,856.2 185.0,856.4 185.8,856.6 186.5,857.5 187.2,858.6 188.0,859.6 188.8,860.0 189.5,860.8 190.2,861.2 191.0,861.8 191.8,861.6 192.5,862.2 193.2,863.4 194.0,863.5 194.8,864.3 195.5,864.5 196.2,864.8 197.0,864.6 197.8,865.1 198.5,864.9 199.2,864.2 200.0,864.3 200.8,863.0 201.5,863.7 202.2,862.8 203.0,863.3 203.8,863.6 204.5,863.9 205.2,864.9 206.0,866.0 206.8,867.4 207.5,868.5 208.2,869.3 209.0,871.7 209.8,874.2 210.5,876.7 211.2,880.6 212.0,884.4 212.8,887.3 213.5,889.5 214.2,891.7 215.0,891.5 215.8,891.5 216.5,890.8 217.2,889.8 218.0,887.1 218.8,885.7 219.5,883.4 220.2,881.1 221.0,879.0 221.8,878.3 222.5,878.3 223.2,878.8 224.0,880.1 224.8,882.1 225.5,884.6 226.2,887.2 227.0,890.2 227.8,892.9 228.5,896.1 229.2,899.6 230.0,902.8 230.8,904.5 231.5,906.1 232.2,908.4 233.0,908.8 233.8,908.2 234.5,909.3 235.2,906.1 236.0,905.5 236.8,902.7 237.5,899.1 238.2,896.6 239.0,894.9 239.8,891.6 240.5,890.4 241.2,888.2 242.0,884.8 242.8,883.6 243.5,881.0 244.2,878.5 245.0,876.2 245.8,874.8 246.5,874.7 247.2,873.5 248.0,873.2 248.8,873.7 249.5,873.3 250.2,873.4 251.0,873.1 251.8,873.1 252.5,875.5 253.2,876.0 254.0,875.7 254.8,877.2 255.5,877.7 256.2,877.7 257.0,878.8 257.8,878.0 258.5,878.1 259.2,880.1 260.0,880.0 260.8,879.6 261.5,879.3 262.2,881.7 263.0,882.2 263.8,881.0 264.5,881.2 265.2,883.3 266.0,883.4 266.8,883.0 267.5,882.9 268.2,884.7 269.0,884.1 269.8,883.9 270.5,885.2 271.2,886.5 272.0,886.8 272.8,886.7 273.5,884.4 274.2,887.3 275.0,887.5 275.8,887.2 276.5,887.8 277.2,887.9 278.0,888.1 278.8,887.2 279.5,886.4 280.2,887.9 281.0,888.6 281.8,888.4 282.5,887.6 283.2,885.2 284.0,884.9 284.8,889.2 285.5,889.5 286.2,886.7 287.0,886.0 287.8,889.1 288.5,887.5 289.2,886.9 290.0,888.7 290.8,887.1 291.5,890.5 292.2,890.4 293.0,890.5 293.8,890.8 294.5,887.4 295.2,891.1 296.0,889.4 296.8,891.3 297.5,891.0 298.2,890.9 299.0,891.5 299.8,890.7 300.5,890.8 301.2,891.6 302.0,889.8 302.8,892.1 303.5,892.2 304.2,891.9 305.0,892.0 305.8,892.5 306.5,889.1 307.2,889.9 308.0,892.9 308.8,892.5 309.5,893.0 310.2,892.5 311.0,893.1 311.8,892.5 312.5,889.9 313.2,893.2 314.0,892.1 314.8,892.5 315.5,891.7 316.2,894.2 317.0,892.0 317.8,890.5 318.5,893.1 319.2,894.4 320.0,893.0 320.8,892.9 321.5,893.3 322.2,895.1 323.0,891.1 323.8,891.4 324.5,894.8 325.2,894.2 326.0,895.7 326.8,891.5 327.5,893.1 328.2,894.4 329.0,893.7 329.8,896.1 330.5,896.0 331.2,896.2 332.0,895.1 332.8,896.6 333.5,893.3 334.2,896.1 335.0,896.3 335.8,897.2 336.5,895.4 337.2,894.7 338.0,896.1 338.8,897.7 339.5,895.6 340.2,898.3 341.0,895.7 341.8,897.5 342.5,898.8 343.2,898.3 344.0,898.0 344.8,899.6 345.5,897.1 346.2,899.7 347.0,897.2 347.8,897.9 348.5,901.1 349.2,899.6 350.0,901.2 350.8,899.4 351.5,900.8 352.2,901.3 353.0,898.8 353.8,902.4 354.5,901.4 355.2,902.4 356.0,902.9 356.8,900.7 357.5,901.9 358.2,899.9 359.0,902.0 359.8,903.2 360.5,899.5 361.2,903.8 362.0,904.0 362.8,901.9 363.5,903.8 364.2,904.0 365.0,901.3 365.8,904.4 366.5,901.5 367.2,903.4 368.0,904.9 368.8,905.4 369.5,905.4 370.2,901.7 371.0,905.3 371.8,906.1 372.5,906.0 373.2,903.0 374.0,906.6 374.8,904.4 375.5,907.0 376.2,903.2 377.0,906.4 377.8,907.7 378.5,904.1 379.2,907.6 380.0,906.0 380.8,907.4 381.5,908.6 382.2,908.8 383.0,908.9 383.8,909.1 384.5,909.4 385.2,909.6 386.0,905.8 386.8,909.9 387.5,909.1 388.2,910.3 389.0,910.3 389.8,908.2 390.5,907.0 391.2,910.2 392.0,911.2 392.8,907.0 393.5,911.6 394.2,911.2 395.0,910.8 395.8,908.7 396.5,909.5 397.2,911.1 398.0,912.2 398.8,910.0 399.5,909.9 400.2,910.1 401.0,911.4 401.8,913.6 402.5,913.5 403.2,913.1 404.0,913.3 404.8,911.6 405.5,914.7 406.2,913.4 407.0,915.3 407.8,914.3 408.5,917.8 409.2,918.3 410.0,920.8 410.8,921.6 411.5,917.5 412.2,922.6 413.0,919.2 413.8,922.8 414.5,924.7 415.2,921.7 416.0,925.5 416.8,922.0 417.5,926.0 418.2,923.8 419.0,926.3 419.8,926.1 420.5,921.6 421.2,925.7 422.0,924.8 422.8,924.2 423.5,927.2 424.2,923.5 425.0,922.8 425.8,927.5 426.5,926.2 427.2,927.5 428.0,925.0 428.8,928.1 429.5,926.9 430.2,925.0 431.0,925.7 431.8,928.7 432.5,925.1 433.2,928.9 434.0,925.7 434.8,928.3 435.5,929.6 436.2,927.0 437.0,926.5 437.8,927.7 438.5,925.2 439.2,930.4 440.0,930.6 440.8,931.0 441.5,929.8 442.2,931.0 443.0,931.1 443.8,931.0 444.5,932.2 445.2,932.4 446.0,931.7 446.8,932.6 447.5,932.8 448.2,928.5 449.0,933.2 449.8,933.0 450.5,931.4 451.2,934.4 452.0,933.9 452.8,929.1 453.5,935.2 454.2,933.3 455.0,931.5 455.8,934.5 456.5,929.2 457.2,935.3 458.0,936.8 458.8,932.9 459.5,935.1 460.2,934.6 461.0,937.7 461.8,933.7 462.5,936.9 463.2,937.9 464.0,937.1 464.8,931.4 465.5,934.1 466.2,937.8 467.0,936.5 467.8,936.3 468.5,932.3 469.2,938.6 470.0,932.0 470.8,936.1 471.5,939.8 472.2,936.8 473.0,935.9 473.8,933.8 474.5,933.6 475.2,937.1 476.0,938.4 476.8,942.6 477.5,936.5 478.2,936.5 479.0,937.7 479.8,937.7 480.5,935.4 481.2,936.6 482.0,934.3 482.8,936.7 483.5,933.6 484.2,933.6 485.0,943.6 485.8,936.2 486.5,937.6 487.2,939.3 488.0,936.8 488.8,932.6 489.5,939.1 490.2,937.5 491.0,938.0 491.8,933.3 492.5,934.4 493.2,940.2 494.0,938.2 494.8,938.8 495.5,940.1 496.2,937.1 497.0,938.3 497.8,936.9 498.5,939.4 499.2,935.9 500.0,940.6 500.8,942.7 501.5,942.3 502.2,940.3 503.0,943.3 503.8,941.0 504.5,938.5 505.2,941.7 506.0,936.7 506.8,941.0 507.5,938.7 508.2,939.8 509.0,937.2 509.8,938.9 510.5,939.4 511.2,937.6 512.0,937.3 512.8,939.3 513.5,935.5 514.2,941.4 515.0,941.0 515.8,939.8 516.5,939.4 517.2,939.7 518.0,939.3 518.8,939.5 519.5,936.5 520.2,936.3 521.0,937.3 521.8,939.4 522.5,939.5 523.2,938.7 524.0,940.0 524.8,938.3 525.5,933.9 526.2,934.8 527.0,937.8 527.8,939.8 528.5,934.0 529.2,936.3 530.0,939.5 530.8,938.5 531.5,940.0 532.2,937.7 533.0,936.0 533.8,938.4 534.5,934.6 535.2,938.4 536.0,936.2 536.8,932.4 537.5,940.0 538.2,937.2 539.0,936.3 539.8,937.3 540.5,932.3 541.2,936.1 542.0,938.7 542.8,934.3 543.5,937.9 544.2,934.1 545.0,939.1 545.8,936.6 546.5,935.8 547.2,936.5 548.0,937.5 548.8,938.4 549.5,938.5 550.2,933.7 551.0,933.4 551.8,935.7 552.5,931.4 553.2,934.7 554.0,937.8 554.8,937.2 555.5,936.1 556.2,938.0 557.0,936.4 557.8,931.7 558.5,933.2 559.2,934.6 560.0,933.9 560.8,936.0 561.5,933.2 562.2,934.5 563.0,935.2 563.8,936.9 564.5,937.1 565.2,935.6 566.0,936.5 566.8,936.8 567.5,936.2 568.2,932.3 569.0,935.2 569.8,931.6 570.5,935.0 571.2,933.9 572.0,932.0 572.8,937.6 573.5,934.9 574.2,930.5 575.0,930.7 575.8,948.1 576.5,944.1 577.2,945.7 578.0,945.5 578.8,945.6 579.5,947.3 580.2,945.4 581.0,942.7 581.8,946.3 582.5,947.5 583.2,945.8 584.0,945.3 584.8,945.9 585.5,935.1 586.2,934.7 587.0,934.1 587.8,933.8 588.5,935.3 589.2,931.8 590.0,932.9 590.8,933.6 591.5,932.9 592.2,933.3 593.0,934.4 593.8,934.4 594.5,931.9 595.2,934.2 596.0,928.5 596.8,932.2 597.5,933.0 598.2,932.1 599.0,931.1 599.8,928.3 600.5,933.4 601.2,930.8 602.0,930.1 602.8,933.8 603.5,933.4 604.2,931.2 605.0,933.3 605.8,928.0 606.5,930.8 607.2,928.9 608.0,931.3 608.8,931.0 609.5,933.2 610.2,931.7 611.0,929.5 611.8,927.2 612.5,933.2 613.2,932.0 614.0,931.8 614.8,931.0 615.5,929.5 616.2,931.4 617.0,931.3 617.8,931.0 618.5,928.1 619.2,931.8 620.0,932.2 620.8,930.1 621.5,931.1 622.2,931.3 623.0,928.0 623.8,929.3 624.5,931.3 625.2,929.3 626.0,927.3 626.8,926.3 627.5,931.4 628.2,928.0 629.0,930.8 629.8,927.7 630.5,928.9 631.2,926.1 632.0,927.6 632.8,929.9 633.5,927.0 634.2,929.7 635.0,925.3 635.8,930.2 636.5,928.6 637.2,926.8 638.0,928.4 638.8,926.1 639.5,925.1 640.2,925.8 641.0,923.2 641.8,926.4 642.5,927.0 643.2,926.3 644.0,925.8 644.8,926.2 645.5,924.4 646.2,926.6 647.0,925.5 647.8,921.2 648.5,921.2 649.2,924.9 650.0,924.8 650.8,920.4 651.5,921.9 652.2,924.2 653.0,923.0 653.8,920.2 654.5,922.8 655.2,916.9 656.0,920.5 656.8,922.0 657.5,918.1 658.2,921.9 659.0,920.2 659.8,919.3 660.5,920.5 661.2,915.6 662.0,917.7 662.8,920.2 663.5,919.0 664.2,918.8 665.0,916.6 665.8,918.5 666.5,916.6 667.2,914.2 668.0,912.4 668.8,916.2 669.5,915.1 670.2,914.4 671.0,915.1 671.8,914.1 672.5,913.3 673.2,910.5 674.0,913.6 674.8,912.1 675.5,912.1 676.2,912.2 677.0,910.0 677.8,910.9 678.5,906.5 679.2,907.1 680.0,910.2 680.8,910.2 681.5,906.3 682.2,907.9 683.0,909.8 683.8,907.6 684.5,908.5 685.2,905.2 686.0,906.0 686.8,904.1 687.5,905.7 688.2,903.4 689.0,907.5 689.8,907.4 690.5,907.4 691.2,903.1 692.0,907.7 692.8,905.7 693.5,905.8 694.2,903.1 695.0,905.8 695.8,906.3 696.5,905.5 697.2,906.5 698.0,906.0 698.8,904.4 699.5,906.4 700.2,900.1 701.0,904.1 701.8,905.4 702.5,901.6 703.2,905.7 704.0,904.9 704.8,900.3 705.5,905.0 706.2,902.2 707.0,905.1 707.8,903.4 708.5,903.0 709.2,904.9 710.0,904.6 710.8,903.6 711.5,903.0 712.2,904.8 713.0,904.0 713.8,898.8 714.5,903.8 715.2,901.1 716.0,904.3 716.8,903.6 717.5,903.3 718.2,902.7 719.0,901.5 719.8,900.9 720.5,902.4 721.2,901.6 722.0,900.7 722.8,904.7 723.5,901.6 724.2,904.3 725.0,906.1 725.8,906.2 726.5,903.5 727.2,905.0 728.0,907.0 728.8,905.6 729.5,907.6 730.2,907.0 731.0,906.1 731.8,905.9 732.5,908.0 733.2,908.3 734.0,906.8 734.8,904.9 735.5,905.7 736.2,908.5 737.0,907.7 737.8,906.7 738.5,905.1 739.2,908.2 740.0,905.7 740.8,909.4 741.5,909.9 742.2,910.0 743.0,907.4 743.8,906.2 744.5,909.5 745.2,908.2 746.0,910.8 746.8,909.8 747.5,910.4 748.2,910.9 749.0,911.7 749.8,910.1 750.5,909.7 751.2,910.2 752.0,909.7 752.8,911.7 753.5,909.1 754.2,911.4 755.0,908.9 755.8,912.8 756.5,910.9 757.2,913.8 758.0,913.9 758.8,909.1 759.5,913.7 760.2,914.5 761.0,912.4 761.8,909.8 762.5,911.6 763.2,909.5 764.0,910.1 764.8,914.3 765.5,915.5 766.2,915.4 767.0,915.5 767.8,913.7 768.5,911.4 769.2,916.1 770.0,912.7 770.8,913.4 771.5,914.5 772.2,917.1 773.0,917.4 773.8,914.6 774.5,915.4 775.2,917.2 776.0,917.5 776.8,918.0 777.5,912.8 778.2,914.7 779.0,913.2 779.8,915.2 780.5,918.0 781.2,915.3 782.0,919.0 782.8,917.3 783.5,919.4 784.2,919.2 785.0,915.6 785.8,919.3 786.5,915.7 787.2,918.6 788.0,920.2 788.8,920.4 789.5,920.9 790.2,919.3 791.0,917.1 791.8,920.9 792.5,920.2 793.2,916.0 794.0,921.1 794.8,916.8 795.5,918.3 796.2,920.9 797.0,920.1 797.8,922.3 798.5,920.9 799.2,919.5 800.0,922.3 800.8,922.9 801.5,922.6 802.2,922.7 803.0,922.6 803.8,919.7 804.5,922.1 805.2,921.9 806.0,923.1 806.8,923.3 807.5,922.2 808.2,921.1 809.0,923.9 809.8,923.2 810.5,922.3 811.2,919.2 812.0,924.5 812.8,924.0 813.5,923.5 814.2,925.0 815.0,923.3 815.8,920.0 816.5,925.3 817.2,924.6 818.0,925.8 818.8,924.6 819.5,920.8 820.2,924.7 821.0,926.2 821.8,926.1 822.5,924.6 823.2,922.8 824.0,926.1 824.8,926.0 825.5,923.8 826.2,927.3 827.0,922.4 827.8,926.4 828.5,927.2 829.2,924.5 830.0,927.5 830.8,927.9 831.5,927.5 832.2,925.4 833.0,927.7 833.8,927.1 834.5,927.7 835.2,926.4 836.0,927.8 836.8,924.9 837.5,922.9 838.2,927.7 839.0,927.1 839.8,925.9 840.5,924.7 841.2,928.0 842.0,926.1 842.8,924.1 843.5,924.2 844.2,927.0 845.0,923.8 845.8,926.2 846.5,927.7 847.2,927.1 848.0,926.4 848.8,926.1 849.5,924.3 850.2,924.6 851.0,927.9 851.8,926.5 852.5,924.2 853.2,926.1 854.0,926.9 854.8,922.1 855.5,926.2 856.2,926.5 857.0,925.9 857.8,926.8 858.5,926.5 859.2,925.1 860.0,923.2 860.8,926.3 861.5,927.2 862.2,925.9 863.0,925.7 863.8,925.5 864.5,926.2 865.2,923.2 866.0,926.7 866.8,927.4 867.5,924.0 868.2,924.1 869.0,926.2 869.8,927.2 870.5,924.8 871.2,921.6 872.0,926.0 872.8,924.8 873.5,925.9 874.2,924.2 875.0,925.8 875.8,925.5 876.5,924.4 877.2,925.1 878.0,925.9 878.8,926.4 879.5,921.0 880.2,923.1 881.0,925.0 881.8,924.2 882.5,927.0 883.2,926.0 884.0,921.6 884.8,926.5 885.5,920.8 886.2,922.1 887.0,923.9 887.8,925.4 888.5,926.7 889.2,925.6 890.0,922.9 890.8,925.9 891.5,922.3 892.2,926.3 893.0,922.9 893.8,922.3 894.5,924.0 895.2,925.6 896.0,925.7 896.8,926.2 897.5,925.5 898.2,923.7 899.0,924.9 899.8,922.9 900.5,925.6 901.2,925.2 902.0,920.9 902.8,919.5 903.5,925.3 904.2,921.7 905.0,924.1 905.8,925.1 906.5,924.0 907.2,924.5 908.0,924.5 908.8,920.4 909.5,922.3 910.2,924.9 911.0,922.9 911.8,924.7 912.5,919.9 913.2,923.7 914.0,923.1 914.8,924.8 915.5,923.8 916.2,922.6 917.0,922.4 917.8,919.2 918.5,924.2 919.2,922.3 920.0,922.3 920.8,922.3 921.5,917.3 922.2,922.2 923.0,917.4 923.8,921.0 924.5,916.2 925.2,918.6 926.0,919.2 926.8,917.3 927.5,915.6 928.2,919.2 929.0,918.3 929.8,918.7 930.5,916.9 931.2,912.2 932.0,914.3 932.8,917.8 933.5,919.0 934.2,916.6 935.0,914.8 935.8,916.6 936.5,914.3 937.2,910.7 938.0,916.7 938.8,915.7 939.5,911.9 940.2,916.9 941.0,917.6 941.8,917.2 942.5,912.4 943.2,915.9 944.0,915.5 944.8,914.1 945.5,914.3 946.2,912.6 947.0,915.9 947.8,911.5 948.5,916.2 949.2,916.1 950.0,915.1 950.8,914.2 951.5,916.5 952.2,915.2 953.0,909.7 953.8,915.3 954.5,914.3 955.2,910.5 956.0,914.6 956.8,915.7 957.5,913.4 958.2,914.6 959.0,915.6 959.8,913.5 960.5,914.3 961.2,915.5 962.0,912.9 962.8,911.1 963.5,911.3 964.2,913.4 965.0,912.2 965.8,909.6 966.5,911.7 967.2,908.9 968.0,912.5 968.8,907.4 969.5,907.0 970.2,908.9 971.0,910.9 971.8,908.5 972.5,907.5 973.2,906.9 974.0,906.0 974.8,907.7 975.5,906.2 976.2,903.9 977.0,906.6 977.8,901.7 978.5,905.4 979.2,905.6 980.0,901.6 980.8,906.4 981.5,905.7 982.2,904.8 983.0,900.5 983.8,905.4 984.5,901.6 985.2,902.5 986.0,903.8 986.8,905.0 987.5,899.3 988.2,899.6 989.0,901.0 989.8,901.7 990.5,898.4 991.2,903.1 992.0,901.7 992.8,900.0 993.5,899.6 994.2,902.2 995.0,901.0 995.8,901.6 996.5,899.8 997.2,900.9 998.0,899.3 998.8,901.0 999.5,898.3 1000.2,898.2 1001.0,896.3 1001.8,897.1 1002.5,897.5 1003.2,894.2 1004.0,892.6 1004.8,895.2 1005.5,894.9 1006.2,892.7 1007.0,890.5 1007.8,889.0 1008.5,889.2 1009.2,890.6 1010.0,891.7 1010.8,892.5 1011.5,891.6 1012.2,885.5 1013.0,887.9 1013.8,890.1 1014.5,889.9 1015.2,887.2 1016.0,884.1 1016.8,887.8 1017.5,887.5 1018.2,885.6 1019.0,885.8 1019.8,883.6 1020.5,885.8 1021.2,884.2 1022.0,881.4 1022.8,882.7 1023.5,884.3 1024.2,885.8 1025.0,882.6 1025.8,883.9 1026.5,879.8 1027.2,880.0 1028.0,882.4 1028.8,879.4 1029.5,882.5 1030.2,881.9 1031.0,879.9 1031.8,881.4 1032.5,878.2 1033.2,876.2 1034.0,877.0 1034.8,880.9 1035.5,879.0 1036.2,880.1 1037.0,878.5 1037.8,880.9 1038.5,880.6 1039.2,877.1 1040.0,879.1 1040.8,877.8 1041.5,878.0 1042.2,875.8 1043.0,876.6 1043.8,873.2 1044.5,877.2 1045.2,878.0 1046.0,877.5 1046.8,877.1 1047.5,873.1 1048.2,872.9 1049.0,871.5 1049.8,870.7 1050.5,874.8 1051.2,875.9 1052.0,870.2 1052.8,872.1 1053.5,872.8 1054.2,871.8 1055.0,874.6 1055.8,872.3 1056.5,872.5 1057.2,869.9 1058.0,872.6 1058.8,866.3 1059.5,872.5 1060.2,869.2 1061.0,870.9 1061.8,871.2 1062.5,869.1 1063.2,867.2 1064.0,867.8 1064.8,869.2 1065.5,869.2 1066.2,865.1 1067.0,867.9 1067.8,863.1 1068.5,867.1 1069.2,867.7 1070.0,862.0 1070.8,867.8 1071.5,866.2 1072.2,866.3 1073.0,862.8 1073.8,869.3 1074.5,866.5 1075.2,867.5 1076.0,866.4 1076.8,866.3 1077.5,866.9 1078.2,863.0 1079.0,864.5 1079.8,862.1 1080.5,863.9 1081.2,865.0 1082.0,864.4 1082.8,864.4 1083.5,866.8 1084.2,865.0 1085.0,864.5 1085.8,865.7 1086.5,866.0 1087.2,866.0 1088.0,861.5 1088.8,866.7 1089.5,867.9 1090.2,868.3 1091.0,864.2 1091.8,866.9 1092.5,867.1 1093.2,870.5 1094.0,868.6 1094.8,871.9 1095.5,870.3 1096.2,871.5 1097.0,869.1 1097.8,868.1 1098.5,870.8 1099.2,866.6 1100.0,873.5 1100.8,872.5 1101.5,870.5 1102.2,871.7 1103.0,873.4 1103.8,868.5 1104.5,871.9 1105.2,873.3 1106.0,874.4 1106.8,874.9 1107.5,876.2 1108.2,876.3 1109.0,872.9 1109.8,874.4 1110.5,874.3 1111.2,876.0 1112.0,876.0 1112.8,871.9 1113.5,872.2 1114.2,873.7 1115.0,877.5 1115.8,879.6 1116.5,877.9 1117.2,876.0 1118.0,879.9 1118.8,878.8 1119.5,879.9 1120.2,877.5 1121.0,878.4 1121.8,875.5 1122.5,878.3 1123.2,878.3 1124.0,874.2 1124.8,878.4 1125.5,876.5 1126.2,877.2 1127.0,879.7 1127.8,878.5 1128.5,876.5 1129.2,878.6 1130.0,872.7 1130.8,878.4 1131.5,876.5 1132.2,874.0 1133.0,874.7 1133.8,868.4 1134.5,870.4 1135.2,868.6 1136.0,866.6 1136.8,862.3 1137.5,857.0 1138.2,857.1 1139.0,854.3 1139.8,849.4 1140.5,847.4 1141.2,844.2 1142.0,843.7 1142.8,840.3 1143.5,838.0 1144.2,838.0 1145.0,842.6 1145.8,840.5 1146.5,848.3 1147.2,849.0 1148.0,854.0 1148.8,862.4 1149.5,867.8 1150.2,877.3 1151.0,881.2 1151.8,891.2 1152.5,900.6 1153.2,910.8 1154.0,922.9 1154.0,935.1 1153.2,925.6 1152.5,915.4 1151.8,904.9 1151.0,896.4 1150.2,889.5 1149.5,883.7 1148.8,878.6 1148.0,874.1 1147.2,870.1 1146.5,866.8 1145.8,864.2 1145.0,861.7 1144.2,859.9 1143.5,859.4 1142.8,860.5 1142.0,862.8 1141.2,865.5 1140.5,868.2 1139.8,871.2 1139.0,874.5 1138.2,878.1 1137.5,881.5 1136.8,884.5 1136.0,887.2 1135.2,889.8 1134.5,892.2 1133.8,894.3 1133.0,895.8 1132.2,896.9 1131.5,897.9 1130.8,898.8 1130.0,899.5 1129.2,900.2 1128.5,900.6 1127.8,900.8 1127.0,901.0 1126.2,901.2 1125.5,901.4 1124.8,901.5 1124.0,901.6 1123.2,901.7 1122.5,901.8 1121.8,901.9 1121.0,902.0 1120.2,902.0 1119.5,902.0 1118.8,902.0 1118.0,902.0 1117.2,901.9 1116.5,901.8 1115.8,901.7 1115.0,901.6 1114.2,901.4 1113.5,901.3 1112.8,901.1 1112.0,900.9 1111.2,900.7 1110.5,900.5 1109.8,900.3 1109.0,900.1 1108.2,899.9 1107.5,899.7 1106.8,899.5 1106.0,899.4 1105.2,899.2 1104.5,899.0 1103.8,898.8 1103.0,898.7 1102.2,898.5 1101.5,898.3 1100.8,898.1 1100.0,897.9 1099.2,897.7 1098.5,897.5 1097.8,897.3 1097.0,897.2 1096.2,897.0 1095.5,896.8 1094.8,896.6 1094.0,896.4 1093.2,896.1 1092.5,895.9 1091.8,895.6 1091.0,895.3 1090.2,895.0 1089.5,894.8 1088.8,894.5 1088.0,894.3 1087.2,894.1 1086.5,894.0 1085.8,893.9 1085.0,893.9 1084.2,893.9 1083.5,893.9 1082.8,893.9 1082.0,893.9 1081.2,893.9 1080.5,893.9 1079.8,893.9 1079.0,893.9 1078.2,893.9 1077.5,893.9 1076.8,893.9 1076.0,893.9 1075.2,893.9 1074.5,893.9 1073.8,893.9 1073.0,894.0 1072.2,894.1 1071.5,894.2 1070.8,894.4 1070.0,894.5 1069.2,894.7 1068.5,894.9 1067.8,895.0 1067.0,895.2 1066.2,895.4 1065.5,895.6 1064.8,895.8 1064.0,896.0 1063.2,896.2 1062.5,896.4 1061.8,896.6 1061.0,896.9 1060.2,897.1 1059.5,897.4 1058.8,897.6 1058.0,897.9 1057.2,898.2 1056.5,898.5 1055.8,898.7 1055.0,899.0 1054.2,899.3 1053.5,899.6 1052.8,899.9 1052.0,900.2 1051.2,900.4 1050.5,900.7 1049.8,900.9 1049.0,901.2 1048.2,901.4 1047.5,901.6 1046.8,901.8 1046.0,902.1 1045.2,902.3 1044.5,902.5 1043.8,902.7 1043.0,903.0 1042.2,903.2 1041.5,903.4 1040.8,903.6 1040.0,903.8 1039.2,904.1 1038.5,904.3 1037.8,904.5 1037.0,904.7 1036.2,904.9 1035.5,905.2 1034.8,905.4 1034.0,905.6 1033.2,905.8 1032.5,906.0 1031.8,906.2 1031.0,906.5 1030.2,906.7 1029.5,906.9 1028.8,907.1 1028.0,907.4 1027.2,907.6 1026.5,907.8 1025.8,908.1 1025.0,908.3 1024.2,908.6 1023.5,908.9 1022.8,909.1 1022.0,909.4 1021.2,909.7 1020.5,909.9 1019.8,910.2 1019.0,910.5 1018.2,910.8 1017.5,911.1 1016.8,911.4 1016.0,911.8 1015.2,912.1 1014.5,912.4 1013.8,912.8 1013.0,913.1 1012.2,913.5 1011.5,913.9 1010.8,914.3 1010.0,914.7 1009.2,915.2 1008.5,915.7 1007.8,916.2 1007.0,916.7 1006.2,917.2 1005.5,917.7 1004.8,918.2 1004.0,918.7 1003.2,919.2 1002.5,919.6 1001.8,920.0 1001.0,920.4 1000.2,920.7 999.5,921.0 998.8,921.3 998.0,921.6 997.2,921.8 996.5,922.0 995.8,922.3 995.0,922.5 994.2,922.7 993.5,922.9 992.8,923.1 992.0,923.3 991.2,923.6 990.5,923.8 989.8,924.1 989.0,924.4 988.2,924.7 987.5,924.9 986.8,925.2 986.0,925.6 985.2,925.9 984.5,926.2 983.8,926.5 983.0,926.8 982.2,927.1 981.5,927.4 980.8,927.7 980.0,928.0 979.2,928.3 978.5,928.6 977.8,928.9 977.0,929.2 976.2,929.5 975.5,929.8 974.8,930.1 974.0,930.3 973.2,930.6 972.5,930.9 971.8,931.2 971.0,931.5 970.2,931.7 969.5,932.0 968.8,932.2 968.0,932.5 967.2,932.7 966.5,932.9 965.8,933.1 965.0,933.3 964.2,933.5 963.5,933.7 962.8,933.9 962.0,934.1 961.2,934.3 960.5,934.4 959.8,934.6 959.0,934.8 958.2,934.9 957.5,935.1 956.8,935.2 956.0,935.3 955.2,935.5 954.5,935.6 953.8,935.6 953.0,935.7 952.2,935.8 951.5,935.8 950.8,935.9 950.0,935.9 949.2,935.9 948.5,936.0 947.8,936.0 947.0,936.0 946.2,936.1 945.5,936.1 944.8,936.1 944.0,936.1 943.2,936.2 942.5,936.2 941.8,936.3 941.0,936.3 940.2,936.4 939.5,936.4 938.8,936.5 938.0,936.6 937.2,936.6 936.5,936.7 935.8,936.8 935.0,936.9 934.2,937.0 933.5,937.2 932.8,942.4 932.0,944.0 931.2,944.1 930.5,939.6 929.8,944.9 929.0,942.3 928.2,940.3 927.5,942.8 926.8,945.0 926.0,941.3 925.2,943.9 924.5,943.3 923.8,945.0 923.0,942.8 922.2,943.7 921.5,947.0 920.8,944.7 920.0,945.8 919.2,950.7 918.5,949.2 917.8,945.5 917.0,947.8 916.2,947.1 915.5,947.9 914.8,946.8 914.0,949.3 913.2,947.9 912.5,951.8 911.8,948.4 911.0,947.8 910.2,948.9 909.5,949.5 908.8,952.7 908.0,947.9 907.2,948.5 906.5,954.1 905.8,952.5 905.0,948.5 904.2,949.6 903.5,953.0 902.8,952.7 902.0,950.4 901.2,952.7 900.5,949.9 899.8,949.3 899.0,950.6 898.2,950.3 897.5,955.7 896.8,949.4 896.0,952.2 895.2,950.4 894.5,949.6 893.8,951.2 893.0,951.1 892.2,955.5 891.5,953.5 890.8,950.8 890.0,953.4 889.2,952.2 888.5,950.9 887.8,954.6 887.0,951.4 886.2,955.8 885.5,952.5 884.8,955.2 884.0,952.9 883.2,952.0 882.5,956.9 881.8,952.2 881.0,951.9 880.2,952.5 879.5,956.4 878.8,956.2 878.0,952.4 877.2,952.1 876.5,955.6 875.8,952.5 875.0,955.3 874.2,956.0 873.5,952.5 872.8,956.5 872.0,955.4 871.2,954.9 870.5,957.1 869.8,953.1 869.0,952.9 868.2,956.1 867.5,958.0 866.8,958.3 866.0,953.9 865.2,956.1 864.5,953.1 863.8,954.0 863.0,953.0 862.2,958.8 861.5,953.7 860.8,952.8 860.0,954.4 859.2,958.0 858.5,954.9 857.8,954.0 857.0,956.3 856.2,953.9 855.5,954.7 854.8,953.0 854.0,954.0 853.2,954.0 852.5,955.9 851.8,952.9 851.0,954.2 850.2,959.7 849.5,953.4 848.8,956.5 848.0,958.2 847.2,954.2 846.5,954.5 845.8,955.6 845.0,955.2 844.2,953.4 843.5,956.6 842.8,954.8 842.0,955.8 841.2,959.3 840.5,953.5 839.8,957.4 839.0,958.2 838.2,957.5 837.5,955.3 836.8,957.2 836.0,954.2 835.2,952.8 834.5,956.8 833.8,955.0 833.0,957.1 832.2,955.6 831.5,958.8 830.8,953.2 830.0,954.7 829.2,955.9 828.5,957.6 827.8,955.5 827.0,954.5 826.2,956.2 825.5,954.4 824.8,957.0 824.0,953.9 823.2,956.0 822.5,954.4 821.8,954.6 821.0,955.5 820.2,953.3 819.5,955.2 818.8,953.7 818.0,952.5 817.2,952.6 816.5,953.4 815.8,953.9 815.0,956.0 814.2,952.6 813.5,953.9 812.8,956.3 812.0,954.4 811.2,952.8 810.5,955.4 809.8,952.9 809.0,952.8 808.2,955.5 807.5,953.7 806.8,954.1 806.0,955.4 805.2,952.5 804.5,952.1 803.8,954.2 803.0,954.7 802.2,952.0 801.5,952.4 800.8,949.9 800.0,953.2 799.2,949.2 798.5,950.4 797.8,949.9 797.0,951.9 796.2,954.0 795.5,955.6 794.8,949.3 794.0,948.2 793.2,950.1 792.5,949.5 791.8,951.6 791.0,949.6 790.2,952.3 789.5,949.5 788.8,951.1 788.0,948.1 787.2,949.6 786.5,949.4 785.8,951.4 785.0,950.9 784.2,952.6 783.5,946.2 782.8,948.4 782.0,947.6 781.2,952.7 780.5,947.2 779.8,948.5 779.0,948.3 778.2,948.4 777.5,946.1 776.8,951.8 776.0,948.3 775.2,948.3 774.5,945.4 773.8,948.7 773.0,944.4 772.2,950.5 771.5,946.6 770.8,944.4 770.0,945.1 769.2,945.5 768.5,946.3 767.8,944.4 767.0,943.7 766.2,945.1 765.5,942.8 764.8,946.2 764.0,945.9 763.2,944.5 762.5,948.3 761.8,946.8 761.0,942.0 760.2,944.8 759.5,942.9 758.8,945.0 758.0,940.8 757.2,942.1 756.5,944.3 755.8,941.8 755.0,943.3 754.2,940.4 753.5,941.3 752.8,941.3 752.0,941.4 751.2,941.7 750.5,941.3 749.8,940.7 749.0,938.5 748.2,943.1 747.5,943.7 746.8,939.5 746.0,939.5 745.2,939.5 744.5,937.0 743.8,938.8 743.0,940.1 742.2,938.1 741.5,939.6 740.8,937.9 740.0,937.5 739.2,942.1 738.5,936.2 737.8,937.2 737.0,940.4 736.2,937.7 735.5,936.7 734.8,935.0 734.0,937.7 733.2,935.1 732.5,936.8 731.8,938.8 731.0,939.7 730.2,935.3 729.5,936.6 728.8,937.4 728.0,933.6 727.2,937.2 726.5,934.5 725.8,935.4 725.0,935.1 724.2,932.4 723.5,933.0 722.8,931.1 722.0,932.0 721.2,931.7 720.5,931.9 719.8,933.4 719.0,932.5 718.2,934.3 717.5,935.8 716.8,932.8 716.0,933.2 715.2,936.3 714.5,933.5 713.8,932.0 713.0,931.1 712.2,932.8 711.5,935.5 710.8,931.2 710.0,937.6 709.2,931.8 708.5,934.1 707.8,934.4 707.0,936.1 706.2,933.8 705.5,935.0 704.8,933.4 704.0,938.2 703.2,934.4 702.5,934.1 701.8,933.7 701.0,938.3 700.2,935.1 699.5,936.2 698.8,934.2 698.0,933.7 697.2,937.6 696.5,938.0 695.8,934.6 695.0,935.2 694.2,935.7 693.5,937.2 692.8,935.3 692.0,936.1 691.2,933.6 690.5,936.3 689.8,936.5 689.0,938.6 688.2,935.7 687.5,937.0 686.8,936.9 686.0,936.0 685.2,936.2 684.5,939.1 683.8,935.4 683.0,936.3 682.2,936.4 681.5,935.9 680.8,941.6 680.0,941.0 679.2,937.0 678.5,937.9 677.8,939.1 677.0,941.8 676.2,943.9 675.5,937.1 674.8,940.9 674.0,942.9 673.2,940.3 672.5,942.0 671.8,940.2 671.0,941.5 670.2,944.5 669.5,940.0 668.8,944.0 668.0,946.0 667.2,944.2 666.5,944.8 665.8,944.6 665.0,944.3 664.2,948.7 663.5,945.9 662.8,945.4 662.0,947.6 661.2,950.3 660.5,945.5 659.8,946.5 659.0,946.9 658.2,947.6 657.5,948.0 656.8,944.8 656.0,948.8 655.2,951.4 654.5,948.8 653.8,949.0 653.0,950.6 652.2,950.9 651.5,951.0 650.8,953.1 650.0,954.6 649.2,948.2 648.5,954.0 647.8,955.5 647.0,954.4 646.2,953.3 645.5,952.3 644.8,953.1 644.0,953.1 643.2,950.8 642.5,953.9 641.8,957.3 641.0,953.1 640.2,950.5 639.5,952.0 638.8,952.6 638.0,953.4 637.2,955.0 636.5,960.0 635.8,957.0 635.0,951.2 634.2,951.9 633.5,956.6 632.8,954.9 632.0,952.9 631.2,959.2 630.5,957.9 629.8,958.9 629.0,956.2 628.2,953.7 627.5,961.7 626.8,958.6 626.0,958.0 625.2,955.9 624.5,964.0 623.8,959.1 623.0,960.2 622.2,956.3 621.5,952.7 620.8,960.3 620.0,960.4 619.2,958.7 618.5,957.9 617.8,962.1 617.0,960.6 616.2,959.3 615.5,963.6 614.8,954.1 614.0,964.2 613.2,963.1 612.5,962.2 611.8,959.9 611.0,957.4 610.2,962.3 609.5,959.9 608.8,959.6 608.0,960.1 607.2,958.7 606.5,959.1 605.8,958.6 605.0,963.9 604.2,957.1 603.5,963.7 602.8,958.0 602.0,956.7 601.2,955.9 600.5,960.4 599.8,961.2 599.0,958.5 598.2,957.0 597.5,958.2 596.8,959.1 596.0,958.4 595.2,960.1 594.5,957.7 593.8,963.4 593.0,960.5 592.2,957.4 591.5,956.9 590.8,954.2 590.0,955.7 589.2,962.1 588.5,962.2 587.8,958.2 587.0,953.9 586.2,960.8 585.5,959.4 584.8,958.2 584.0,962.3 583.2,965.0 582.5,962.5 581.8,959.5 581.0,961.8 580.2,959.0 579.5,963.1 578.8,959.2 578.0,960.5 577.2,955.5 576.5,960.0 575.8,957.8 575.0,966.8 574.2,960.0 573.5,963.4 572.8,963.2 572.0,954.8 571.2,958.4 570.5,960.0 569.8,963.3 569.0,963.5 568.2,957.7 567.5,958.9 566.8,966.5 566.0,956.7 565.2,962.8 564.5,956.8 563.8,960.1 563.0,966.5 562.2,955.1 561.5,967.0 560.8,966.2 560.0,962.6 559.2,955.4 558.5,954.8 557.8,954.7 557.0,962.5 556.2,960.0 555.5,958.6 554.8,961.5 554.0,958.9 553.2,955.9 552.5,958.4 551.8,959.8 551.0,962.8 550.2,963.4 549.5,964.3 548.8,960.4 548.0,959.2 547.2,957.6 546.5,956.8 545.8,962.0 545.0,965.0 544.2,960.2 543.5,957.5 542.8,961.7 542.0,959.5 541.2,961.8 540.5,962.2 539.8,960.0 539.0,962.3 538.2,967.9 537.5,963.1 536.8,958.4 536.0,962.9 535.2,965.1 534.5,964.6 533.8,963.5 533.0,961.2 532.2,964.0 531.5,959.9 530.8,964.4 530.0,960.1 529.2,962.8 528.5,963.5 527.8,962.5 527.0,966.5 526.2,962.8 525.5,963.2 524.8,963.4 524.0,968.0 523.2,961.2 522.5,965.4 521.8,967.6 521.0,961.3 520.2,958.5 519.5,966.4 518.8,963.6 518.0,966.2 517.2,960.3 516.5,960.0 515.8,963.6 515.0,959.0 514.2,967.0 513.5,966.5 512.8,965.0 512.0,964.9 511.2,962.6 510.5,966.8 509.8,963.8 509.0,962.7 508.2,961.8 507.5,964.6 506.8,963.5 506.0,960.3 505.2,962.6 504.5,964.3 503.8,962.5 503.0,962.6 502.2,961.5 501.5,966.4 500.8,965.2 500.0,963.3 499.2,963.9 498.5,965.8 497.8,964.4 497.0,963.6 496.2,960.9 495.5,962.5 494.8,964.4 494.0,960.1 493.2,961.7 492.5,960.0 491.8,959.3 491.0,965.3 490.2,964.4 489.5,959.6 488.8,960.1 488.0,959.2 487.2,963.5 486.5,959.6 485.8,963.4 485.0,959.8 484.2,959.0 483.5,960.0 482.8,959.1 482.0,961.3 481.2,962.7 480.5,961.8 479.8,960.5 479.0,960.8 478.2,963.3 477.5,960.1 476.8,958.1 476.0,960.9 475.2,962.6 474.5,957.3 473.8,958.6 473.0,958.5 472.2,957.8 471.5,958.4 470.8,961.4 470.0,956.0 469.2,955.9 468.5,955.9 467.8,955.8 467.0,955.7 466.2,955.6 465.5,955.6 464.8,955.5 464.0,955.4 463.2,955.3 462.5,955.2 461.8,955.1 461.0,955.0 460.2,954.9 459.5,954.8 458.8,954.7 458.0,954.6 457.2,954.4 456.5,954.3 455.8,954.2 455.0,954.0 454.2,953.9 453.5,953.7 452.8,953.5 452.0,953.4 451.2,953.2 450.5,953.0 449.8,952.9 449.0,952.7 448.2,952.5 447.5,952.4 446.8,952.2 446.0,952.0 445.2,951.9 444.5,951.7 443.8,951.5 443.0,951.3 442.2,951.2 441.5,951.0 440.8,950.8 440.0,950.6 439.2,950.4 438.5,950.2 437.8,950.0 437.0,949.8 436.2,949.7 435.5,949.5 434.8,949.3 434.0,949.1 433.2,948.9 432.5,948.7 431.8,948.5 431.0,948.3 430.2,948.1 429.5,947.9 428.8,947.7 428.0,947.6 427.2,947.4 426.5,947.3 425.8,947.1 425.0,947.0 424.2,946.8 423.5,946.7 422.8,946.5 422.0,946.3 421.2,946.1 420.5,945.9 419.8,945.7 419.0,945.5 418.2,945.2 417.5,945.0 416.8,944.6 416.0,944.2 415.2,943.8 414.5,943.3 413.8,942.7 413.0,942.0 412.2,941.4 411.5,940.7 410.8,939.9 410.0,939.0 409.2,937.8 408.5,936.6 407.8,935.5 407.0,934.5 406.2,933.9 405.5,936.1 404.8,935.5 404.0,937.6 403.2,934.9 402.5,937.8 401.8,934.9 401.0,938.4 400.2,935.9 399.5,937.2 398.8,934.1 398.0,937.4 397.2,933.9 396.5,933.9 395.8,937.9 395.0,934.0 394.2,933.7 393.5,933.9 392.8,936.5 392.0,934.2 391.2,933.2 390.5,933.0 389.8,933.8 389.0,934.5 388.2,933.8 387.5,932.3 386.8,936.6 386.0,932.3 385.2,935.0 384.5,932.6 383.8,931.8 383.0,931.8 382.2,932.2 381.5,934.0 380.8,931.4 380.0,931.3 379.2,932.5 378.5,932.4 377.8,931.3 377.0,931.9 376.2,931.0 375.5,930.6 374.8,932.7 374.0,930.7 373.2,930.7 372.5,933.0 371.8,930.4 371.0,930.0 370.2,929.8 369.5,931.4 368.8,930.5 368.0,931.1 367.2,929.4 366.5,933.0 365.8,931.0 365.0,929.3 364.2,930.8 363.5,931.8 362.8,930.1 362.0,929.0 361.2,929.5 360.5,930.9 359.8,928.9 359.0,928.9 358.2,932.8 357.5,929.6 356.8,928.4 356.0,932.4 355.2,928.2 354.5,929.3 353.8,928.2 353.0,929.8 352.2,929.1 351.5,928.0 350.8,927.8 350.0,928.0 349.2,927.5 348.5,927.7 347.8,929.6 347.0,927.0 346.2,926.7 345.5,926.5 344.8,929.9 344.0,927.6 343.2,925.8 342.5,926.0 341.8,925.5 341.0,928.3 340.2,927.1 339.5,926.2 338.8,928.0 338.0,928.6 337.2,927.8 336.5,925.3 335.8,925.3 335.0,923.9 334.2,923.5 333.5,925.5 332.8,926.0 332.0,925.0 331.2,923.5 330.5,923.6 329.8,924.0 329.0,924.1 328.2,925.3 327.5,923.7 326.8,923.1 326.0,923.8 325.2,922.9 324.5,921.3 323.8,922.5 323.0,922.6 322.2,924.9 321.5,921.8 320.8,924.3 320.0,920.7 319.2,923.0 318.5,920.6 317.8,922.9 317.0,921.6 316.2,923.8 315.5,920.6 314.8,920.5 314.0,920.5 313.2,923.7 312.5,921.4 311.8,923.0 311.0,920.3 310.2,920.8 309.5,921.0 308.8,920.5 308.0,920.9 307.2,920.0 306.5,921.9 305.8,921.5 305.0,921.0 304.2,920.4 303.5,921.2 302.8,921.2 302.0,920.7 301.2,919.1 300.5,919.0 299.8,920.4 299.0,921.9 298.2,919.6 297.5,922.5 296.8,922.1 296.0,921.0 295.2,918.9 294.5,918.8 293.8,918.0 293.0,918.7 292.2,918.5 291.5,917.6 290.8,917.3 290.0,917.3 289.2,917.2 288.5,917.6 287.8,919.6 287.0,920.6 286.2,917.2 285.5,916.1 284.8,917.9 284.0,917.0 283.2,915.4 282.5,916.1 281.8,916.8 281.0,915.7 280.2,914.4 279.5,914.4 278.8,913.9 278.0,913.9 277.2,913.7 276.5,913.2 275.8,912.8 275.0,915.7 274.2,912.4 273.5,912.4 272.8,914.8 272.0,912.6 271.2,915.5 270.5,911.0 269.8,911.5 269.0,913.3 268.2,912.3 267.5,911.2 266.8,910.7 266.0,910.4 265.2,911.9 264.5,909.9 263.8,909.8 263.0,911.2 262.2,909.7 261.5,909.2 260.8,909.3 260.0,909.8 259.2,908.4 258.5,909.4 257.8,907.8 257.0,907.7 256.2,908.4 255.5,906.7 254.8,907.5 254.0,905.4 253.2,905.7 252.5,903.8 251.8,904.8 251.0,904.1 250.2,902.2 249.5,901.8 248.8,901.6 248.0,902.9 247.2,902.8 246.5,902.8 245.8,903.6 245.0,904.7 244.2,906.4 243.5,909.0 242.8,909.9 242.0,911.4 241.2,913.7 240.5,915.6 239.8,916.9 239.0,920.5 238.2,923.5 237.5,925.9 236.8,928.8 236.0,931.3 235.2,933.2 234.5,934.3 233.8,936.7 233.0,935.2 232.2,934.9 231.5,934.4 230.8,930.7 230.0,928.6 229.2,926.2 228.5,922.2 227.8,919.9 227.0,915.7 226.2,912.7 225.5,909.6 224.8,907.1 224.0,905.0 223.2,903.7 222.5,903.3 221.8,903.4 221.0,905.0 220.2,906.9 219.5,908.4 218.8,911.7 218.0,913.4 217.2,915.8 216.5,917.6 215.8,919.1 215.0,918.3 214.2,917.1 213.5,915.7 212.8,913.2 212.0,910.4 211.2,907.2 210.5,904.1 209.8,901.4 209.0,899.8 208.2,896.7 207.5,895.4 206.8,894.4 206.0,892.9 205.2,891.9 204.5,891.4 203.8,890.2 203.0,890.0 202.2,889.3 201.5,890.3 200.8,890.6 200.0,891.7 199.2,892.4 198.5,892.1 197.8,892.6 197.0,891.9 196.2,892.3 195.5,891.3 194.8,891.5 194.0,891.9 193.2,890.3 192.5,890.4 191.8,889.8 191.0,889.8 190.2,888.5 189.5,888.8 188.8,887.4 188.0,886.4 187.2,885.5 186.5,885.2 185.8,883.7 185.0,883.3 184.2,882.7 183.5,882.1 182.8,881.8 182.0,882.1 181.2,882.5 180.5,883.3 179.8,885.4 179.0,886.2 178.2,887.7 177.5,889.4 176.8,890.0 176.0,891.9 175.2,893.4 174.5,894.9 173.8,895.8 173.0,897.0 172.2,897.1 171.5,897.6 170.8,898.2 170.0,898.7 169.2,900.1 168.5,900.4 167.8,897.2 167.0,897.6 166.2,898.0 165.5,898.3" fill="#0000ff"/>
<polygon points="165.5,881.9 166.2,881.3 167.0,881.2 167.8,880.0 168.5,880.2 169.2,879.6 170.0,879.0 170.8,878.5 171.5,877.4 172.2,876.5 173.0,876.6 173.8,875.7 174.5,874.6 175.2,873.4 176.0,872.2 176.8,870.7 177.5,869.2 178.2,868.1 179.0,866.9 179.8,865.7 180.5,864.8 181.2,864.0 182.0,863.8 182.8,863.5 183.5,863.5 184.2,863.5 185.0,864.8 185.8,865.0 186.5,866.4 187.2,866.7 188.0,867.7 188.8,868.7 189.5,869.2 190.2,869.4 191.0,869.5 191.8,869.5 192.5,869.3 193.2,869.6 194.0,869.6 194.8,869.4 195.5,869.4 196.2,869.5 197.0,869.5 197.8,869.9 198.5,869.8 199.2,869.5 200.0,869.4 200.8,869.1 201.5,868.9 202.2,868.4 203.0,868.1 203.8,868.7 204.5,869.3 205.2,870.6 206.0,871.6 206.8,872.5 207.5,873.9 208.2,875.3 209.0,876.7 209.8,879.8 210.5,882.3 211.2,885.4 212.0,887.7 212.8,891.0 213.5,892.9 214.2,894.3 215.0,895.3 215.8,895.6 216.5,894.7 217.2,893.0 218.0,891.1 218.8,889.1 219.5,886.9 220.2,884.7 221.0,882.6 221.8,882.1 222.5,882.0 223.2,882.6 224.0,883.2 224.8,885.1 225.5,888.0 226.2,890.2 227.0,893.2 227.8,896.6 228.5,899.5 229.2,902.6 230.0,905.3 230.8,907.5 231.5,909.0 232.2,911.1 233.0,912.0 233.8,911.0 234.5,911.1 235.2,909.6 236.0,906.8 236.8,905.0 237.5,901.8 238.2,898.7 239.0,897.4 239.8,894.4 240.5,892.9 241.2,890.9 242.0,888.9 242.8,886.5 243.5,884.0 244.2,882.6 245.0,880.6 245.8,879.2 246.5,878.0 247.2,877.2 248.0,875.9 248.8,876.9 249.5,877.0 250.2,877.5 251.0,877.7 251.8,878.5 252.5,878.7 253.2,879.5 254.0,880.1 254.8,880.8 255.5,880.8 256.2,882.1 257.0,882.6 257.8,882.1 258.5,883.0 259.2,883.8 260.0,883.9 260.8,884.7 261.5,885.3 262.2,885.9 263.0,886.2 263.8,886.0 264.5,887.2 265.2,887.6 266.0,887.1 266.8,888.0 267.5,888.7 268.2,889.0 269.0,888.4 269.8,889.5 270.5,888.1 271.2,889.2 272.0,890.2 272.8,890.3 273.5,890.3 274.2,890.7 275.0,888.9 275.8,889.3 276.5,889.7 277.2,889.1 278.0,891.3 278.8,891.7 279.5,889.9 280.2,890.3 281.0,892.0 281.8,892.2 282.5,890.5 283.2,892.3 284.0,892.6 284.8,892.7 285.5,891.6 286.2,892.0 287.0,893.1 287.8,893.3 288.5,893.0 289.2,893.2 290.0,893.7 290.8,893.8 291.5,892.2 292.2,893.6 293.0,894.2 293.8,892.9 294.5,893.7 295.2,893.5 296.0,893.4 296.8,894.9 297.5,894.6 298.2,895.2 299.0,894.9 299.8,895.5 300.5,893.7 301.2,894.1 302.0,895.2 302.8,895.4 303.5,893.9 304.2,895.3 305.0,896.2 305.8,896.5 306.5,895.8 307.2,895.8 308.0,895.3 308.8,894.7 309.5,896.1 310.2,895.3 311.0,897.0 311.8,896.1 312.5,897.6 313.2,896.0 314.0,897.7 314.8,897.7 315.5,897.0 316.2,897.3 317.0,896.9 317.8,897.8 318.5,896.4 319.2,897.6 320.0,896.4 320.8,895.6 321.5,898.0 322.2,898.1 323.0,896.3 323.8,898.2 324.5,898.2 325.2,898.3 326.0,898.7 326.8,898.7 327.5,899.0 328.2,897.5 329.0,898.5 329.8,899.6 330.5,897.8 331.2,899.0 332.0,900.0 332.8,899.8 333.5,898.3 334.2,900.7 335.0,900.8 335.8,901.1 336.5,899.0 337.2,901.3 338.0,899.9 338.8,901.6 339.5,900.5 340.2,902.0 341.0,902.2 341.8,902.4 342.5,902.4 343.2,902.8 344.0,903.5 344.8,903.8 345.5,904.1 346.2,903.3 347.0,902.5 347.8,902.8 348.5,904.2 349.2,902.7 350.0,904.7 350.8,904.7 351.5,903.6 352.2,905.0 353.0,906.1 353.8,905.4 354.5,906.3 355.2,905.1 356.0,906.1 356.8,904.7 357.5,905.8 358.2,906.3 359.0,907.4 359.8,905.0 360.5,907.6 361.2,906.2 362.0,906.1 362.8,908.0 363.5,908.2 364.2,908.4 365.0,908.5 365.8,908.6 366.5,908.8 367.2,906.7 368.0,909.1 368.8,909.1 369.5,909.4 370.2,908.0 371.0,909.7 371.8,909.2 372.5,909.2 373.2,909.9 374.0,910.1 374.8,908.7 375.5,909.6 376.2,908.5 377.0,910.8 377.8,911.0 378.5,911.1 379.2,909.3 380.0,910.4 380.8,911.4 381.5,911.2 382.2,911.7 383.0,912.0 383.8,911.3 384.5,912.2 385.2,911.4 386.0,912.5 386.8,911.4 387.5,911.0 388.2,911.7 389.0,913.4 389.8,911.7 390.5,913.7 391.2,913.6 392.0,914.7 392.8,912.9 393.5,914.0 394.2,913.9 395.0,915.7 395.8,915.9 396.5,916.2 397.2,915.1 398.0,914.8 398.8,915.9 399.5,915.9 400.2,915.5 401.0,915.1 401.8,917.2 402.5,917.2 403.2,917.9 404.0,917.7 404.8,918.1 405.5,918.7 406.2,919.1 407.0,920.2 407.8,922.1 408.5,924.3 409.2,928.4 410.0,929.0 410.8,931.7 411.5,932.3 412.2,932.3 413.0,934.4 413.8,931.9 414.5,935.5 415.2,935.8 416.0,934.7 416.8,933.6 417.5,936.1 418.2,935.4 419.0,934.2 419.8,936.3 420.5,936.1 421.2,934.2 422.0,934.5 422.8,936.8 423.5,937.2 424.2,936.8 425.0,937.0 425.8,935.2 426.5,937.4 427.2,936.8 428.0,935.8 428.8,934.4 429.5,937.1 430.2,937.5 431.0,937.5 431.8,937.3 432.5,936.1 433.2,938.3 434.0,935.3 434.8,936.3 435.5,938.7 436.2,938.9 437.0,939.1 437.8,936.5 438.5,939.3 439.2,939.3 440.0,938.1 440.8,936.5 441.5,939.7 442.2,939.1 443.0,938.5 443.8,938.4 444.5,939.8 445.2,939.5 446.0,937.8 446.8,937.0 447.5,939.8 448.2,938.8 449.0,939.3 449.8,939.9 450.5,940.2 451.2,938.7 452.0,939.6 452.8,939.0 453.5,939.9 454.2,941.2 455.0,940.8 455.8,940.9 456.5,941.4 457.2,940.0 458.0,939.5 458.8,940.7 459.5,940.1 460.2,941.5 461.0,940.2 461.8,941.1 462.5,942.0 463.2,940.4 464.0,941.2 464.8,941.5 465.5,942.1 466.2,939.5 467.0,942.3 467.8,941.7 468.5,942.6 469.2,942.7 470.0,942.7 470.8,940.4 471.5,942.8 472.2,940.3 473.0,942.4 473.8,942.5 474.5,943.1 475.2,943.0 476.0,943.2 476.8,941.9 477.5,943.1 478.2,940.5 479.0,943.6 479.8,943.6 480.5,942.9 481.2,941.8 482.0,943.8 482.8,942.8 483.5,941.3 484.2,942.3 485.0,941.0 485.8,943.5 486.5,943.5 487.2,944.1 488.0,944.0 488.8,941.6 489.5,942.9 490.2,942.3 491.0,944.1 491.8,944.0 492.5,944.2 493.2,943.5 494.0,944.2 494.8,943.8 495.5,943.1 496.2,941.4 497.0,941.6 497.8,942.9 498.5,944.2 499.2,942.3 500.0,943.5 500.8,943.8 501.5,941.4 502.2,943.9 503.0,942.0 503.8,942.1 504.5,943.8 505.2,943.2 506.0,942.7 506.8,943.9 507.5,943.8 508.2,942.6 509.0,942.7 509.8,942.3 510.5,943.4 511.2,943.5 512.0,942.8 512.8,939.7 513.5,941.6 514.2,940.7 515.0,941.6 515.8,939.4 516.5,938.3 517.2,938.2 518.0,940.1 518.8,940.2 519.5,939.0 520.2,939.0 521.0,939.9 521.8,939.9 522.5,937.1 523.2,937.6 524.0,939.3 524.8,939.7 525.5,938.9 526.2,939.1 527.0,938.3 527.8,939.4 528.5,939.3 529.2,938.3 530.0,937.8 530.8,939.4 531.5,939.0 532.2,937.5 533.0,938.2 533.8,939.3 534.5,939.0 535.2,937.8 536.0,939.3 536.8,936.3 537.5,937.4 538.2,938.9 539.0,939.1 539.8,936.8 540.5,939.0 541.2,937.9 542.0,936.9 542.8,938.9 543.5,936.5 544.2,938.9 545.0,935.6 545.8,938.0 546.5,937.6 547.2,936.2 548.0,935.2 548.8,938.4 549.5,938.4 550.2,935.7 551.0,938.1 551.8,937.4 552.5,935.9 553.2,935.8 554.0,937.0 554.8,934.4 555.5,934.7 556.2,937.5 557.0,934.9 557.8,936.6 558.5,937.4 559.2,937.0 560.0,937.1 560.8,934.9 561.5,934.7 562.2,937.2 563.0,936.9 563.8,937.2 564.5,937.2 565.2,936.9 566.0,937.1 566.8,934.6 567.5,933.7 568.2,936.8 569.0,937.0 569.8,936.8 570.5,935.4 571.2,936.5 572.0,935.5 572.8,936.4 573.5,936.3 574.2,936.5 575.0,934.1 575.8,946.2 576.5,946.4 577.2,944.9 578.0,944.9 578.8,945.9 579.5,943.5 580.2,946.0 581.0,942.7 581.8,945.0 582.5,945.8 583.2,945.4 584.0,944.2 584.8,942.8 585.5,934.5 586.2,933.0 587.0,934.1 587.8,935.1 588.5,935.2 589.2,934.0 590.0,934.3 590.8,934.4 591.5,934.9 592.2,933.7 593.0,932.0 593.8,933.3 594.5,934.7 595.2,934.0 596.0,932.5 596.8,932.1 597.5,934.3 598.2,933.8 599.0,933.1 599.8,934.2 600.5,934.3 601.2,931.9 602.0,934.0 602.8,933.5 603.5,933.1 604.2,934.1 605.0,930.7 605.8,933.9 606.5,932.1 607.2,931.4 608.0,933.7 608.8,932.3 609.5,933.1 610.2,933.3 611.0,933.1 611.8,932.3 612.5,931.6 613.2,930.3 614.0,933.0 614.8,932.0 615.5,932.3 616.2,932.9 617.0,932.5 617.8,932.8 618.5,931.9 619.2,932.6 620.0,932.4 620.8,931.3 621.5,932.4 622.2,932.3 623.0,930.4 623.8,929.5 624.5,931.6 625.2,931.0 626.0,931.6 626.8,930.3 627.5,931.6 628.2,931.3 629.0,931.1 629.8,931.0 630.5,928.3 631.2,928.2 632.0,929.8 632.8,930.7 633.5,930.3 634.2,927.7 635.0,929.2 635.8,927.1 636.5,929.5 637.2,928.3 638.0,929.3 638.8,926.5 639.5,925.7 640.2,927.3 641.0,927.4 641.8,925.2 642.5,927.7 643.2,925.0 644.0,927.4 644.8,926.7 645.5,925.3 646.2,924.7 647.0,926.0 647.8,924.1 648.5,924.7 649.2,924.9 650.0,925.1 650.8,923.9 651.5,921.5 652.2,922.8 653.0,924.4 653.8,924.1 654.5,920.7 655.2,923.4 656.0,920.1 656.8,922.9 657.5,922.6 658.2,919.2 659.0,920.6 659.8,919.0 660.5,918.4 661.2,921.0 662.0,920.6 662.8,920.3 663.5,919.7 664.2,919.5 665.0,919.0 665.8,918.4 666.5,918.3 667.2,917.6 668.0,915.5 668.8,915.6 669.5,916.8 670.2,916.2 671.0,915.6 671.8,912.6 672.5,914.5 673.2,913.9 674.0,914.2 674.8,913.8 675.5,912.8 676.2,912.5 677.0,910.1 677.8,910.6 678.5,911.2 679.2,911.5 680.0,908.7 680.8,910.9 681.5,910.1 682.2,909.7 683.0,909.4 683.8,908.9 684.5,907.4 685.2,909.6 686.0,906.3 686.8,908.8 687.5,906.7 688.2,907.3 689.0,907.4 689.8,908.6 690.5,906.0 691.2,908.3 692.0,907.9 692.8,908.0 693.5,907.7 694.2,905.4 695.0,905.2 695.8,905.3 696.5,907.3 697.2,906.5 698.0,905.8 698.8,904.0 699.5,906.3 700.2,905.7 701.0,906.3 701.8,904.3 702.5,903.9 703.2,903.4 704.0,903.4 704.8,906.2 705.5,904.4 706.2,905.5 707.0,903.2 707.8,905.5 708.5,905.9 709.2,904.9 710.0,905.7 710.8,905.5 711.5,902.3 712.2,902.2 713.0,903.9 713.8,904.8 714.5,905.4 715.2,905.1 716.0,905.1 716.8,904.4 717.5,904.5 718.2,903.8 719.0,903.9 719.8,904.3 720.5,904.3 721.2,905.8 722.0,906.0 722.8,905.9 723.5,905.1 724.2,906.6 725.0,905.4 725.8,905.3 726.5,905.1 727.2,906.5 728.0,907.1 728.8,907.6 729.5,906.0 730.2,905.9 731.0,907.6 731.8,906.6 732.5,908.2 733.2,906.8 734.0,906.9 734.8,906.5 735.5,908.3 736.2,906.5 737.0,906.7 737.8,909.4 738.5,909.7 739.2,908.3 740.0,909.6 740.8,907.6 741.5,910.4 742.2,910.4 743.0,910.6 743.8,910.8 744.5,911.0 745.2,911.2 746.0,911.4 746.8,911.6 747.5,911.3 748.2,911.2 749.0,911.9 749.8,911.6 750.5,912.5 751.2,909.5 752.0,912.8 752.8,911.2 753.5,913.1 754.2,910.2 755.0,913.6 755.8,913.9 756.5,913.7 757.2,914.2 758.0,910.9 758.8,911.2 759.5,914.5 760.2,914.8 761.0,912.7 761.8,912.1 762.5,912.2 763.2,912.8 764.0,914.7 764.8,915.6 765.5,915.2 766.2,915.9 767.0,914.4 767.8,914.9 768.5,915.8 769.2,914.5 770.0,915.2 770.8,916.8 771.5,916.6 772.2,915.6 773.0,916.6 773.8,915.3 774.5,914.4 775.2,914.5 776.0,917.1 776.8,917.6 777.5,917.2 778.2,916.9 779.0,915.2 779.8,917.3 780.5,916.7 781.2,915.7 782.0,917.9 782.8,916.9 783.5,918.8 784.2,918.9 785.0,919.3 785.8,919.8 786.5,919.8 787.2,917.0 788.0,920.1 788.8,920.3 789.5,918.9 790.2,919.6 791.0,920.4 791.8,920.7 792.5,921.1 793.2,921.3 794.0,921.5 794.8,921.4 795.5,921.0 796.2,921.2 797.0,920.6 797.8,919.7 798.5,921.6 799.2,922.3 800.0,919.6 800.8,922.8 801.5,921.8 802.2,923.1 803.0,922.3 803.8,920.2 804.5,923.6 805.2,921.2 806.0,923.8 806.8,922.1 807.5,923.7 808.2,923.5 809.0,923.9 809.8,921.6 810.5,923.8 811.2,923.6 812.0,923.9 812.8,924.3 813.5,924.9 814.2,924.8 815.0,923.0 815.8,924.6 816.5,924.8 817.2,924.1 818.0,922.7 818.8,925.6 819.5,923.5 820.2,923.7 821.0,925.9 821.8,926.1 822.5,923.2 823.2,926.2 824.0,926.5 824.8,926.6 825.5,926.4 826.2,926.8 827.0,926.5 827.8,926.1 828.5,925.2 829.2,924.9 830.0,924.9 830.8,924.6 831.5,927.3 832.2,926.0 833.0,927.0 833.8,928.5 834.5,928.7 835.2,928.9 836.0,929.2 836.8,929.4 837.5,929.4 838.2,929.8 839.0,929.8 839.8,929.9 840.5,928.8 841.2,929.8 842.0,930.0 842.8,927.3 843.5,929.6 844.2,926.7 845.0,928.6 845.8,929.9 846.5,929.9 847.2,927.5 848.0,929.7 848.8,929.9 849.5,928.5 850.2,929.8 851.0,929.8 851.8,927.9 852.5,929.5 853.2,927.9 854.0,928.6 854.8,929.7 855.5,926.7 856.2,929.3 857.0,928.0 857.8,928.3 858.5,929.1 859.2,927.0 860.0,929.5 860.8,929.2 861.5,926.6 862.2,929.4 863.0,928.9 863.8,927.1 864.5,929.3 865.2,929.2 866.0,929.3 866.8,927.7 867.5,928.6 868.2,928.9 869.0,926.8 869.8,928.0 870.5,929.4 871.2,926.2 872.0,928.0 872.8,927.2 873.5,928.5 874.2,926.2 875.0,929.1 875.8,928.8 876.5,928.6 877.2,929.2 878.0,928.6 878.8,926.5 879.5,927.6 880.2,929.3 881.0,927.5 881.8,929.4 882.5,929.4 883.2,929.0 884.0,928.2 884.8,929.4 885.5,928.4 886.2,928.4 887.0,926.4 887.8,929.1 888.5,926.4 889.2,929.2 890.0,927.0 890.8,928.0 891.5,928.1 892.2,928.9 893.0,929.4 893.8,928.8 894.5,928.7 895.2,928.2 896.0,929.3 896.8,928.6 897.5,926.6 898.2,926.7 899.0,928.6 899.8,928.3 900.5,926.5 901.2,925.7 902.0,928.9 902.8,928.1 903.5,928.0 904.2,928.0 905.0,928.7 905.8,927.0 906.5,927.8 907.2,927.9 908.0,928.8 908.8,926.8 909.5,928.4 910.2,927.5 911.0,928.3 911.8,928.9 912.5,926.5 913.2,928.2 914.0,929.2 914.8,928.7 915.5,929.4 916.2,926.9 917.0,929.1 917.8,929.8 918.5,927.7 919.2,928.6 920.0,929.9 920.8,928.8 921.5,929.8 922.2,927.7 923.0,928.8 923.8,926.8 924.5,928.5 925.2,927.9 926.0,927.1 926.8,924.7 927.5,927.0 928.2,923.4 929.0,926.6 929.8,926.2 930.5,925.3 931.2,925.0 932.0,924.9 932.8,925.4 933.5,923.7 934.2,923.2 935.0,923.4 935.8,921.9 936.5,924.1 937.2,923.9 938.0,924.0 938.8,921.9 939.5,923.9 940.2,920.9 941.0,920.7 941.8,922.8 942.5,923.0 943.2,922.9 944.0,921.1 944.8,920.1 945.5,923.1 946.2,921.1 947.0,920.8 947.8,922.6 948.5,922.5 949.2,922.9 950.0,922.6 950.8,921.9 951.5,921.8 952.2,921.0 953.0,920.4 953.8,922.1 954.5,922.1 955.2,922.1 956.0,921.6 956.8,922.0 957.5,920.6 958.2,921.8 959.0,920.3 959.8,921.6 960.5,919.4 961.2,919.1 962.0,920.1 962.8,918.0 963.5,920.7 964.2,920.3 965.0,920.6 965.8,919.6 966.5,919.9 967.2,917.0 968.0,919.0 968.8,919.8 969.5,919.5 970.2,917.9 971.0,916.8 971.8,917.8 972.5,915.5 973.2,916.0 974.0,916.3 974.8,916.4 975.5,917.3 976.2,917.4 977.0,916.3 977.8,915.5 978.5,914.2 979.2,915.4 980.0,915.8 980.8,916.1 981.5,915.4 982.2,912.5 983.0,914.5 983.8,913.5 984.5,912.1 985.2,914.8 986.0,914.5 986.8,912.6 987.5,914.2 988.2,913.7 989.0,911.6 989.8,911.2 990.5,913.1 991.2,912.8 992.0,909.3 992.8,911.2 993.5,910.7 994.2,909.6 995.0,908.5 995.8,909.6 996.5,908.5 997.2,906.8 998.0,907.9 998.8,906.8 999.5,907.0 1000.2,903.9 1001.0,906.5 1001.8,904.3 1002.5,904.9 1003.2,904.0 1004.0,904.8 1004.8,901.4 1005.5,903.5 1006.2,902.2 1007.0,903.4 1007.8,902.9 1008.5,900.0 1009.2,902.4 1010.0,901.7 1010.8,901.5 1011.5,901.0 1012.2,899.7 1013.0,898.1 1013.8,899.3 1014.5,897.0 1015.2,897.8 1016.0,896.0 1016.8,898.5 1017.5,895.6 1018.2,895.9 1019.0,894.3 1019.8,896.9 1020.5,896.5 1021.2,896.2 1022.0,895.8 1022.8,895.3 1023.5,894.1 1024.2,894.3 1025.0,894.5 1025.8,892.4 1026.5,893.9 1027.2,890.4 1028.0,893.2 1028.8,893.3 1029.5,893.0 1030.2,892.8 1031.0,892.5 1031.8,891.0 1032.5,891.8 1033.2,892.0 1034.0,891.5 1034.8,891.3 1035.5,891.2 1036.2,889.4 1037.0,890.9 1037.8,889.8 1038.5,890.4 1039.2,889.6 1040.0,888.0 1040.8,889.4 1041.5,889.4 1042.2,888.2 1043.0,885.6 1043.8,886.9 1044.5,887.7 1045.2,887.0 1046.0,887.4 1046.8,887.1 1047.5,885.0 1048.2,884.4 1049.0,885.9 1049.8,884.7 1050.5,883.9 1051.2,884.8 1052.0,882.9 1052.8,884.4 1053.5,884.4 1054.2,883.3 1055.0,883.5 1055.8,881.8 1056.5,882.2 1057.2,883.1 1058.0,882.2 1058.8,880.9 1059.5,882.8 1060.2,882.8 1061.0,880.6 1061.8,882.8 1062.5,881.8 1063.2,882.5 1064.0,880.7 1064.8,879.3 1065.5,878.9 1066.2,881.5 1067.0,879.4 1067.8,880.3 1068.5,881.4 1069.2,881.4 1070.0,880.2 1070.8,880.9 1071.5,878.5 1072.2,878.1 1073.0,879.9 1073.8,879.7 1074.5,880.7 1075.2,880.4 1076.0,878.5 1076.8,879.8 1077.5,880.2 1078.2,879.6 1079.0,879.6 1079.8,879.7 1080.5,879.6 1081.2,879.3 1082.0,877.1 1082.8,877.6 1083.5,879.2 1084.2,880.1 1085.0,877.5 1085.8,878.8 1086.5,880.1 1087.2,877.6 1088.0,879.5 1088.8,880.4 1089.5,878.6 1090.2,880.7 1091.0,878.8 1091.8,880.1 1092.5,881.2 1093.2,881.5 1094.0,881.7 1094.8,882.0 1095.5,882.1 1096.2,882.1 1097.0,882.4 1097.8,882.3 1098.5,882.7 1099.2,881.0 1100.0,882.5 1100.8,883.5 1101.5,882.9 1102.2,883.8 1103.0,882.5 1103.8,883.8 1104.5,881.6 1105.2,884.7 1106.0,884.9 1106.8,883.5 1107.5,885.1 1108.2,885.5 1109.0,884.7 1109.8,883.1 1110.5,885.4 1111.2,885.5 1112.0,886.5 1112.8,884.6 1113.5,883.4 1114.2,887.0 1115.0,887.1 1115.8,887.2 1116.5,885.1 1117.2,884.2 1118.0,884.5 1118.8,887.5 1119.5,887.3 1120.2,886.1 1121.0,887.4 1121.8,884.7 1122.5,887.1 1123.2,887.3 1124.0,887.3 1124.8,884.2 1125.5,887.2 1126.2,883.9 1127.0,887.1 1127.8,884.8 1128.5,886.5 1129.2,883.4 1130.0,882.6 1130.8,881.6 1131.5,883.2 1132.2,882.1 1133.0,877.4 1133.8,877.8 1134.5,876.5 1135.2,873.2 1136.0,868.2 1136.8,868.2 1137.5,864.1 1138.2,861.9 1139.0,858.2 1139.8,854.2 1140.5,852.7 1141.2,849.3 1142.0,848.6 1142.8,846.7 1143.5,846.4 1144.2,846.6 1145.0,848.6 1145.8,851.5 1146.5,854.2 1147.2,856.0 1148.0,861.4 1148.8,866.1 1149.5,868.6 1150.2,878.6 1151.0,886.2 1151.8,893.3 1152.5,903.0 1153.2,911.4 1154.0,922.6 1154.0,938.1 1153.2,929.7 1152.5,917.0 1151.8,906.5 1151.0,899.5 1150.2,893.8 1149.5,885.4 1148.8,883.3 1148.0,875.7 1147.2,871.7 1146.5,871.6 1145.8,867.3 1145.0,863.3 1144.2,861.4 1143.5,861.3 1142.8,865.0 1142.0,867.5 1141.2,867.3 1140.5,870.3 1139.8,872.7 1139.0,876.1 1138.2,882.0 1137.5,883.1 1136.8,886.5 1136.0,889.2 1135.2,891.3 1134.5,895.1 1133.8,898.4 1133.0,897.3 1132.2,898.6 1131.5,901.9 1130.8,901.1 1130.0,901.5 1129.2,901.7 1128.5,904.3 1127.8,904.0 1127.0,902.9 1126.2,904.3 1125.5,904.6 1124.8,906.3 1124.0,905.8 1123.2,903.6 1122.5,903.4 1121.8,904.1 1121.0,903.7 1120.2,903.5 1119.5,904.0 1118.8,906.1 1118.0,904.5 1117.2,904.0 1116.5,905.4 1115.8,903.6 1115.0,903.1 1114.2,903.1 1113.5,905.3 1112.8,905.5 1112.0,903.1 1111.2,903.3 1110.5,902.2 1109.8,901.8 1109.0,901.7 1108.2,902.6 1107.5,902.5 1106.8,901.2 1106.0,902.0 1105.2,901.2 1104.5,903.5 1103.8,900.6 1103.0,902.9 1102.2,900.0 1101.5,900.8 1100.8,902.9 1100.0,900.1 1099.2,899.3 1098.5,901.8 1097.8,899.8 1097.0,901.1 1096.2,898.5 1095.5,901.7 1094.8,899.6 1094.0,897.9 1093.2,898.0 1092.5,898.3 1091.8,897.3 1091.0,900.0 1090.2,897.5 1089.5,898.1 1088.8,898.2 1088.0,896.3 1087.2,896.1 1086.5,895.5 1085.8,898.7 1085.0,895.4 1084.2,896.7 1083.5,897.7 1082.8,896.0 1082.0,895.4 1081.2,896.0 1080.5,896.4 1079.8,895.6 1079.0,895.7 1078.2,896.0 1077.5,895.4 1076.8,898.7 1076.0,895.6 1075.2,896.2 1074.5,896.4 1073.8,895.4 1073.0,895.7 1072.2,895.8 1071.5,896.1 1070.8,896.1 1070.0,898.5 1069.2,896.2 1068.5,898.1 1067.8,896.6 1067.0,898.4 1066.2,898.3 1065.5,897.8 1064.8,898.9 1064.0,898.7 1063.2,898.9 1062.5,898.0 1061.8,901.2 1061.0,899.9 1060.2,899.8 1059.5,899.1 1058.8,899.4 1058.0,900.6 1057.2,901.2 1056.5,902.2 1055.8,900.6 1055.0,900.6 1054.2,900.9 1053.5,904.0 1052.8,904.0 1052.0,903.2 1051.2,904.6 1050.5,903.9 1049.8,904.3 1049.0,902.9 1048.2,906.1 1047.5,906.0 1046.8,906.3 1046.0,904.0 1045.2,904.0 1044.5,905.4 1043.8,904.3 1043.0,906.4 1042.2,905.8 1041.5,904.9 1040.8,906.0 1040.0,907.6 1039.2,905.6 1038.5,905.8 1037.8,906.1 1037.0,906.3 1036.2,909.5 1035.5,906.7 1034.8,907.2 1034.0,907.2 1033.2,908.2 1032.5,907.8 1031.8,910.4 1031.0,908.4 1030.2,908.5 1029.5,909.1 1028.8,911.2 1028.0,909.8 1027.2,909.3 1026.5,912.2 1025.8,909.6 1025.0,911.8 1024.2,912.0 1023.5,911.5 1022.8,910.6 1022.0,913.7 1021.2,911.2 1020.5,914.3 1019.8,912.0 1019.0,913.6 1018.2,912.5 1017.5,912.7 1016.8,913.3 1016.0,913.3 1015.2,915.2 1014.5,916.5 1013.8,914.5 1013.0,914.8 1012.2,916.5 1011.5,917.6 1010.8,915.8 1010.0,916.6 1009.2,917.1 1008.5,917.2 1007.8,919.3 1007.0,918.6 1006.2,920.2 1005.5,920.5 1004.8,919.7 1004.0,920.5 1003.2,920.8 1002.5,921.2 1001.8,921.8 1001.0,925.3 1000.2,924.5 999.5,924.0 998.8,922.9 998.0,926.2 997.2,923.4 996.5,923.9 995.8,925.3 995.0,927.2 994.2,925.4 993.5,926.6 992.8,924.7 992.0,927.7 991.2,925.1 990.5,925.4 989.8,925.7 989.0,926.9 988.2,929.2 987.5,926.7 986.8,926.8 986.0,929.3 985.2,929.0 984.5,928.1 983.8,931.0 983.0,929.0 982.2,928.9 981.5,931.4 980.8,929.7 980.0,930.1 979.2,930.0 978.5,930.2 977.8,930.8 977.0,931.5 976.2,931.5 975.5,931.3 974.8,934.1 974.0,932.0 973.2,932.3 972.5,932.6 971.8,935.0 971.0,933.4 970.2,934.4 969.5,935.5 968.8,934.6 968.0,934.1 967.2,935.1 966.5,935.9 965.8,934.8 965.0,936.6 964.2,936.0 963.5,937.6 962.8,935.6 962.0,937.7 961.2,936.2 960.5,937.3 959.8,936.5 959.0,938.2 958.2,936.4 957.5,939.4 956.8,937.3 956.0,940.2 955.2,937.6 954.5,937.4 953.8,938.7 953.0,937.2 952.2,940.3 951.5,938.9 950.8,939.8 950.0,937.6 949.2,937.5 948.5,937.6 947.8,937.7 947.0,937.8 946.2,937.8 945.5,938.1 944.8,938.7 944.0,938.2 943.2,939.3 942.5,940.3 941.8,940.6 941.0,938.0 940.2,940.4 939.5,938.3 938.8,938.0 938.0,938.2 937.2,938.5 936.5,939.0 935.8,938.7 935.0,938.9 934.2,938.6 933.5,938.7 932.8,939.3 932.0,940.6 931.2,941.6 930.5,939.3 929.8,941.8 929.0,939.6 928.2,939.6 927.5,940.9 926.8,940.0 926.0,943.1 925.2,940.6 924.5,941.0 923.8,944.1 923.0,941.8 922.2,941.6 921.5,941.9 920.8,943.3 920.0,943.2 919.2,944.5 918.5,944.4 917.8,944.5 917.0,945.0 916.2,943.7 915.5,946.5 914.8,944.0 914.0,944.3 913.2,947.5 912.5,944.6 911.8,947.5 911.0,947.1 910.2,944.8 909.5,945.4 908.8,945.2 908.0,945.1 907.2,945.4 906.5,945.2 905.8,946.8 905.0,947.3 904.2,946.4 903.5,945.7 902.8,945.8 902.0,947.4 901.2,945.8 900.5,947.5 899.8,946.0 899.0,946.0 898.2,946.1 897.5,946.6 896.8,948.9 896.0,946.2 895.2,946.3 894.5,947.5 893.8,948.3 893.0,946.5 892.2,949.8 891.5,946.6 890.8,946.8 890.0,947.0 889.2,947.1 888.5,947.1 887.8,947.3 887.0,949.4 886.2,947.1 885.5,947.0 884.8,947.0 884.0,948.5 883.2,948.0 882.5,947.6 881.8,948.3 881.0,950.3 880.2,948.2 879.5,948.0 878.8,948.8 878.0,948.4 877.2,949.0 876.5,947.6 875.8,947.6 875.0,948.0 874.2,947.9 873.5,948.9 872.8,949.8 872.0,947.7 871.2,948.3 870.5,949.4 869.8,949.7 869.0,948.7 868.2,949.1 867.5,948.7 866.8,949.1 866.0,948.7 865.2,948.0 864.5,947.9 863.8,949.7 863.0,950.2 862.2,949.2 861.5,948.5 860.8,950.4 860.0,948.6 859.2,949.0 858.5,947.9 857.8,949.8 857.0,948.4 856.2,949.3 855.5,948.2 854.8,948.1 854.0,947.9 853.2,949.0 852.5,948.8 851.8,948.0 851.0,950.3 850.2,950.7 849.5,949.7 848.8,947.9 848.0,950.5 847.2,949.8 846.5,948.2 845.8,948.2 845.0,947.9 844.2,949.4 843.5,947.9 842.8,949.1 842.0,948.2 841.2,948.2 840.5,948.1 839.8,950.7 839.0,949.6 838.2,949.2 837.5,948.2 836.8,948.0 836.0,948.2 835.2,947.2 834.5,947.3 833.8,946.4 833.0,946.3 832.2,948.9 831.5,946.1 830.8,945.5 830.0,946.9 829.2,945.6 828.5,947.2 827.8,945.9 827.0,946.6 826.2,946.6 825.5,945.5 824.8,944.5 824.0,944.7 823.2,947.1 822.5,945.7 821.8,944.1 821.0,944.6 820.2,943.9 819.5,943.9 818.8,945.7 818.0,943.8 817.2,946.7 816.5,945.1 815.8,944.5 815.0,943.7 814.2,943.5 813.5,942.6 812.8,945.1 812.0,942.6 811.2,942.2 810.5,944.0 809.8,942.8 809.0,943.3 808.2,942.4 807.5,942.8 806.8,941.6 806.0,943.2 805.2,942.7 804.5,941.2 803.8,940.9 803.0,941.6 802.2,941.4 801.5,940.4 800.8,940.3 800.0,941.2 799.2,940.3 798.5,939.9 797.8,939.8 797.0,941.6 796.2,941.8 795.5,941.6 794.8,940.6 794.0,939.5 793.2,939.3 792.5,939.0 791.8,938.9 791.0,939.4 790.2,941.6 789.5,938.9 788.8,939.4 788.0,939.2 787.2,940.1 786.5,938.2 785.8,939.2 785.0,937.9 784.2,939.7 783.5,939.4 782.8,937.3 782.0,937.0 781.2,939.3 780.5,938.7 779.8,936.5 779.0,937.3 778.2,937.4 777.5,936.4 776.8,936.1 776.0,938.3 775.2,936.4 774.5,935.8 773.8,935.2 773.0,934.8 772.2,935.9 771.5,935.1 770.8,936.5 770.0,934.0 769.2,934.3 768.5,935.6 767.8,933.5 767.0,934.2 766.2,935.4 765.5,933.0 764.8,932.8 764.0,934.5 763.2,933.2 762.5,932.6 761.8,933.4 761.0,934.1 760.2,932.4 759.5,932.0 758.8,932.4 758.0,932.6 757.2,934.4 756.5,931.9 755.8,931.1 755.0,931.7 754.2,931.5 753.5,932.5 752.8,932.9 752.0,930.3 751.2,930.0 750.5,931.9 749.8,930.2 749.0,931.1 748.2,929.7 747.5,929.9 746.8,929.2 746.0,930.4 745.2,928.3 744.5,931.2 743.8,928.3 743.0,927.9 742.2,929.6 741.5,929.0 740.8,928.4 740.0,928.1 739.2,928.2 738.5,927.9 737.8,927.1 737.0,927.6 736.2,927.5 735.5,928.1 734.8,928.6 734.0,928.4 733.2,927.1 732.5,926.7 731.8,927.0 731.0,926.4 730.2,926.8 729.5,926.0 728.8,926.7 728.0,925.7 727.2,927.5 726.5,926.6 725.8,926.6 725.0,927.9 724.2,925.9 723.5,924.8 722.8,924.8 722.0,926.7 721.2,924.1 720.5,926.1 719.8,924.8 719.0,923.5 718.2,923.4 717.5,923.9 716.8,923.5 716.0,925.1 715.2,923.7 714.5,926.6 713.8,924.4 713.0,925.4 712.2,925.8 711.5,924.0 710.8,924.3 710.0,925.7 709.2,925.4 708.5,924.3 707.8,924.3 707.0,924.5 706.2,927.8 705.5,927.3 704.8,927.7 704.0,926.6 703.2,925.8 702.5,928.3 701.8,926.3 701.0,928.4 700.2,925.5 699.5,926.1 698.8,925.6 698.0,925.9 697.2,928.7 696.5,927.1 695.8,928.0 695.0,926.2 694.2,927.2 693.5,929.5 692.8,926.7 692.0,926.7 691.2,927.6 690.5,928.4 689.8,928.4 689.0,927.5 688.2,928.9 687.5,927.2 686.8,927.7 686.0,927.4 685.2,927.9 684.5,927.6 683.8,930.3 683.0,927.8 682.2,930.3 681.5,928.5 680.8,930.4 680.0,929.9 679.2,930.6 678.5,929.8 677.8,929.8 677.0,929.8 676.2,930.4 675.5,931.1 674.8,931.6 674.0,934.2 673.2,933.1 672.5,933.9 671.8,933.3 671.0,936.3 670.2,936.5 669.5,934.6 668.8,937.1 668.0,935.7 667.2,938.2 666.5,936.8 665.8,936.7 665.0,937.2 664.2,938.8 663.5,939.1 662.8,941.1 662.0,938.6 661.2,940.1 660.5,941.2 659.8,939.8 659.0,941.6 658.2,942.7 657.5,942.2 656.8,940.9 656.0,943.1 655.2,941.7 654.5,943.7 653.8,942.2 653.0,942.8 652.2,943.1 651.5,944.4 650.8,946.0 650.0,944.0 649.2,944.8 648.5,943.9 647.8,947.1 647.0,944.4 646.2,946.2 645.5,944.9 644.8,945.7 644.0,945.2 643.2,947.1 642.5,947.2 641.8,948.3 641.0,946.0 640.2,946.9 639.5,949.6 638.8,947.0 638.0,946.9 637.2,948.8 636.5,949.2 635.8,947.5 635.0,950.1 634.2,947.6 633.5,948.8 632.8,947.9 632.0,950.1 631.2,948.5 630.5,950.7 629.8,948.9 629.0,950.1 628.2,948.7 627.5,950.3 626.8,951.5 626.0,949.1 625.2,951.1 624.5,949.6 623.8,950.2 623.0,950.6 622.2,950.2 621.5,952.3 620.8,949.7 620.0,950.1 619.2,950.9 618.5,950.3 617.8,950.1 617.0,951.6 616.2,953.5 615.5,950.8 614.8,952.8 614.0,950.4 613.2,951.9 612.5,950.7 611.8,950.6 611.0,953.3 610.2,952.1 609.5,953.9 608.8,951.3 608.0,951.9 607.2,953.9 606.5,951.5 605.8,952.5 605.0,951.8 604.2,951.6 603.5,953.7 602.8,952.2 602.0,952.7 601.2,952.0 600.5,953.6 599.8,954.4 599.0,951.9 598.2,952.6 597.5,952.7 596.8,952.2 596.0,952.8 595.2,953.6 594.5,952.3 593.8,952.6 593.0,953.1 592.2,955.3 591.5,952.2 590.8,954.9 590.0,952.3 589.2,952.9 588.5,952.4 587.8,954.7 587.0,952.7 586.2,952.5 585.5,953.5 584.8,957.4 584.0,954.6 583.2,954.9 582.5,957.5 581.8,958.1 581.0,955.8 580.2,955.0 579.5,955.3 578.8,956.1 578.0,956.8 577.2,955.7 576.5,955.8 575.8,958.5 575.0,956.0 574.2,953.2 573.5,955.3 572.8,956.7 572.0,953.4 571.2,953.9 570.5,954.2 569.8,955.1 569.0,953.7 568.2,954.6 567.5,954.7 566.8,954.0 566.0,954.2 565.2,955.7 564.5,954.2 563.8,956.0 563.0,954.3 562.2,956.8 561.5,955.0 560.8,956.4 560.0,954.5 559.2,957.2 558.5,954.9 557.8,956.4 557.0,954.8 556.2,955.9 555.5,958.1 554.8,956.1 554.0,956.2 553.2,956.4 552.5,957.0 551.8,956.5 551.0,955.9 550.2,955.5 549.5,957.0 548.8,956.9 548.0,956.3 547.2,956.5 546.5,956.7 545.8,956.0 545.0,958.8 544.2,958.2 543.5,956.2 542.8,957.6 542.0,959.1 541.2,956.5 540.5,956.6 539.8,957.8 539.0,956.8 538.2,956.9 537.5,958.7 536.8,957.1 536.0,957.3 535.2,958.1 534.5,960.1 533.8,957.8 533.0,957.3 532.2,958.3 531.5,957.3 530.8,957.3 530.0,958.1 529.2,959.6 528.5,960.0 527.8,958.6 527.0,957.3 526.2,958.5 525.5,960.6 524.8,959.5 524.0,957.4 523.2,958.9 522.5,958.5 521.8,959.6 521.0,957.3 520.2,960.2 519.5,960.2 518.8,958.1 518.0,958.7 517.2,959.0 516.5,958.0 515.8,958.8 515.0,961.0 514.2,959.3 513.5,959.1 512.8,959.6 512.0,961.5 511.2,960.9 510.5,960.9 509.8,960.3 509.0,960.4 508.2,962.6 507.5,962.3 506.8,963.8 506.0,962.4 505.2,960.4 504.5,962.6 503.8,960.6 503.0,960.4 502.2,961.9 501.5,960.6 500.8,963.2 500.0,962.7 499.2,960.3 498.5,962.5 497.8,961.2 497.0,960.2 496.2,960.0 495.5,960.3 494.8,959.9 494.0,959.8 493.2,962.9 492.5,959.7 491.8,962.7 491.0,961.7 490.2,959.7 489.5,960.5 488.8,961.7 488.0,959.3 487.2,962.4 486.5,959.6 485.8,959.8 485.0,959.1 484.2,959.0 483.5,958.9 482.8,958.9 482.0,958.7 481.2,961.8 480.5,960.1 479.8,958.7 479.0,958.4 478.2,958.6 477.5,959.6 476.8,960.4 476.0,959.9 475.2,959.6 474.5,959.1 473.8,958.1 473.0,959.3 472.2,957.8 471.5,958.1 470.8,957.6 470.0,957.5 469.2,959.0 468.5,958.5 467.8,957.8 467.0,958.9 466.2,957.4 465.5,957.1 464.8,957.0 464.0,959.0 463.2,957.3 462.5,956.7 461.8,959.1 461.0,956.9 460.2,959.3 459.5,956.4 458.8,956.8 458.0,957.4 457.2,959.3 456.5,958.1 455.8,955.8 455.0,957.1 454.2,956.0 453.5,958.4 452.8,956.5 452.0,954.9 451.2,954.9 450.5,955.6 449.8,955.0 449.0,954.2 448.2,955.4 447.5,956.9 446.8,953.7 446.0,955.4 445.2,954.4 444.5,955.1 443.8,956.3 443.0,954.9 442.2,953.2 441.5,955.1 440.8,953.5 440.0,952.8 439.2,955.2 438.5,951.9 437.8,952.4 437.0,951.7 436.2,951.2 435.5,954.1 434.8,950.8 434.0,950.6 433.2,953.2 432.5,953.0 431.8,951.0 431.0,951.6 430.2,952.7 429.5,949.8 428.8,949.7 428.0,950.3 427.2,949.2 426.5,950.7 425.8,951.3 425.0,948.9 424.2,950.7 423.5,949.6 422.8,950.4 422.0,950.9 421.2,948.6 420.5,947.9 419.8,947.2 419.0,947.0 418.2,948.4 417.5,947.6 416.8,946.4 416.0,946.9 415.2,947.9 414.5,947.2 413.8,944.2 413.0,945.8 412.2,942.9 411.5,942.2 410.8,943.5 410.0,940.7 409.2,939.3 408.5,938.2 407.8,938.7 407.0,936.1 406.2,937.5 405.5,936.2 404.8,934.5 404.0,934.2 403.2,933.8 402.5,933.9 401.8,933.7 401.0,933.6 400.2,933.9 399.5,932.6 398.8,933.7 398.0,934.2 397.2,934.0 396.5,931.7 395.8,932.1 395.0,931.5 394.2,933.8 393.5,932.5 392.8,931.9 392.0,932.6 391.2,931.0 390.5,930.6 389.8,932.2 389.0,930.3 388.2,930.2 387.5,931.9 386.8,930.3 386.0,930.3 385.2,932.2 384.5,929.5 383.8,931.3 383.0,929.2 382.2,931.0 381.5,929.6 380.8,928.8 380.0,928.7 379.2,928.8 378.5,929.2 377.8,928.2 377.0,929.1 376.2,928.1 375.5,928.3 374.8,928.3 374.0,927.1 373.2,928.9 372.5,927.5 371.8,927.5 371.0,926.7 370.2,926.0 369.5,927.2 368.8,927.1 368.0,925.6 367.2,927.0 366.5,926.3 365.8,926.2 365.0,925.2 364.2,926.2 363.5,924.4 362.8,924.4 362.0,923.9 361.2,925.3 360.5,924.1 359.8,923.4 359.0,924.0 358.2,924.0 357.5,923.0 356.8,922.9 356.0,922.4 355.2,922.2 354.5,922.3 353.8,923.1 353.0,923.9 352.2,921.7 351.5,921.4 350.8,921.5 350.0,921.2 349.2,922.4 348.5,920.5 347.8,920.4 347.0,920.1 346.2,922.3 345.5,919.8 344.8,921.1 344.0,919.4 343.2,921.2 342.5,919.1 341.8,920.0 341.0,918.8 340.2,918.5 339.5,918.7 338.8,919.1 338.0,917.8 337.2,918.1 336.5,920.0 335.8,917.5 335.0,917.3 334.2,919.1 333.5,918.8 332.8,918.1 332.0,917.7 331.2,918.1 330.5,918.8 329.8,916.2 329.0,916.1 328.2,916.8 327.5,916.0 326.8,915.7 326.0,915.5 325.2,916.2 324.5,916.8 323.8,917.3 323.0,915.9 322.2,915.3 321.5,917.2 320.8,916.2 320.0,915.0 319.2,915.7 318.5,915.8 317.8,915.6 317.0,916.1 316.2,918.2 315.5,916.6 314.8,916.7 314.0,916.2 313.2,916.1 312.5,916.2 311.8,916.1 311.0,918.6 310.2,916.2 309.5,918.1 308.8,916.6 308.0,915.7 307.2,917.9 306.5,916.1 305.8,915.6 305.0,916.2 304.2,916.6 303.5,915.2 302.8,915.1 302.0,916.2 301.2,916.6 300.5,916.7 299.8,915.8 299.0,914.4 298.2,914.4 297.5,914.9 296.8,915.0 296.0,914.0 295.2,913.8 294.5,913.6 293.8,914.0 293.0,914.6 292.2,914.9 291.5,913.7 290.8,914.3 290.0,912.8 289.2,913.5 288.5,912.6 287.8,912.3 287.0,912.6 286.2,912.0 285.5,911.7 284.8,912.4 284.0,912.9 283.2,911.3 282.5,910.8 281.8,911.6 281.0,912.0 280.2,910.1 279.5,912.1 278.8,909.6 278.0,909.6 277.2,910.3 276.5,908.7 275.8,908.6 275.0,909.0 274.2,910.0 273.5,907.8 272.8,907.3 272.0,907.4 271.2,907.0 270.5,906.5 269.8,906.9 269.0,905.9 268.2,906.0 267.5,906.4 266.8,905.1 266.0,905.1 265.2,905.2 264.5,904.4 263.8,903.9 263.0,903.7 262.2,904.3 261.5,902.8 260.8,903.3 260.0,902.1 259.2,901.8 258.5,901.5 257.8,901.1 257.0,901.7 256.2,901.2 255.5,899.4 254.8,898.9 254.0,898.2 253.2,897.6 252.5,897.0 251.8,896.4 251.0,896.0 250.2,896.1 249.5,896.2 248.8,895.0 248.0,894.8 247.2,895.3 246.5,896.2 245.8,897.7 245.0,899.0 244.2,901.1 243.5,902.9 242.8,903.8 242.0,905.8 241.2,908.9 240.5,909.6 239.8,911.8 239.0,915.2 238.2,917.2 237.5,921.0 236.8,922.5 236.0,925.8 235.2,928.5 234.5,929.3 233.8,930.6 233.0,929.8 232.2,930.1 231.5,928.0 230.8,925.7 230.0,923.3 229.2,920.7 228.5,917.9 227.8,914.5 227.0,911.7 226.2,908.6 225.5,905.9 224.8,903.6 224.0,902.5 223.2,900.9 222.5,900.5 221.8,900.8 221.0,901.2 220.2,903.2 219.5,904.8 218.8,907.1 218.0,909.2 217.2,911.1 216.5,912.6 215.8,913.5 215.0,914.0 214.2,912.8 213.5,911.5 212.8,909.8 212.0,906.7 211.2,903.8 210.5,901.6 209.8,898.3 209.0,895.5 208.2,893.4 207.5,891.8 206.8,890.8 206.0,888.7 205.2,887.3 204.5,886.6 203.8,885.3 203.0,884.8 202.2,884.9 201.5,885.1 200.8,885.7 200.0,886.2 199.2,886.4 198.5,886.9 197.8,886.8 197.0,887.0 196.2,887.0 195.5,886.5 194.8,886.7 194.0,885.7 193.2,885.4 192.5,884.9 191.8,885.2 191.0,883.9 190.2,883.5 189.5,883.7 188.8,882.5 188.0,882.5 187.2,881.3 186.5,880.8 185.8,880.0 185.0,879.7 184.2,878.9 183.5,879.1 182.8,878.5 182.0,878.7 181.2,879.8 180.5,880.1 179.8,881.3 179.0,882.7 178.2,884.2 177.5,886.1 176.8,888.1 176.0,889.9 175.2,890.9 174.5,892.1 173.8,893.6 173.0,894.4 172.2,895.3 171.5,895.9 170.8,896.5 170.0,897.3 169.2,898.1 168.5,898.4 167.8,899.2 167.0,899.2 166.2,899.8 165.5,900.0" fill="#00ff00"/>
<rect x="541.6" y="951" width="2.4" height="17" fill="#fff"/>
<rect x="586.5" y="940" width="1.2" height="22" fill="#fff" opacity="0.9"/>
<rect x="165.5" y="837.5" width="989" height="162" fill="none" stroke="#262626" stroke-width="1" shape-rendering="crispEdges"/>
<line x1="269.5" y1="999.5" x2="269.5" y2="989" stroke="#262626" stroke-width="1" shape-rendering="crispEdges"/>
<line x1="269.5" y1="837.5" x2="269.5" y2="848" stroke="#262626" stroke-width="1" shape-rendering="crispEdges"/>
<line x1="556.5" y1="999.5" x2="556.5" y2="989" stroke="#262626" stroke-width="1" shape-rendering="crispEdges"/>
<line x1="556.5" y1="837.5" x2="556.5" y2="848" stroke="#262626" stroke-width="1" shape-rendering="crispEdges"/>
<line x1="843.5" y1="999.5" x2="843.5" y2="989" stroke="#262626" stroke-width="1" shape-rendering="crispEdges"/>
<line x1="843.5" y1="837.5" x2="843.5" y2="848" stroke="#262626" stroke-width="1" shape-rendering="crispEdges"/>
<line x1="1130.5" y1="999.5" x2="1130.5" y2="989" stroke="#262626" stroke-width="1" shape-rendering="crispEdges"/>
<line x1="1130.5" y1="837.5" x2="1130.5" y2="848" stroke="#262626" stroke-width="1" shape-rendering="crispEdges"/>
<line x1="165.5" y1="858.5" x2="176" y2="858.5" stroke="#262626" stroke-width="1" shape-rendering="crispEdges"/>
<line x1="1154.5" y1="858.5" x2="1144" y2="858.5" stroke="#262626" stroke-width="1" shape-rendering="crispEdges"/>
<line x1="165.5" y1="928.5" x2="176" y2="928.5" stroke="#262626" stroke-width="1" shape-rendering="crispEdges"/>
<line x1="1154.5" y1="928.5" x2="1144" y2="928.5" stroke="#262626" stroke-width="1" shape-rendering="crispEdges"/>
<text x="155.6" y="865.4" font-family="'DejaVu Sans', 'Liberation Sans', sans-serif" font-size="21.2" font-weight="normal" text-anchor="end" fill="#262626">50</text>
<text x="155.6" y="935.4" font-family="'DejaVu Sans', 'Liberation Sans', sans-serif" font-size="21.2" font-weight="normal" text-anchor="end" fill="#262626">0</text>
<text x="155.6" y="1005.8" font-family="'DejaVu Sans', 'Liberation Sans', sans-serif" font-size="21.2" font-weight="normal" text-anchor="end" fill="#262626">-50</text>
<text x="85" y="918" font-family="'DejaVu Sans', 'Liberation Sans', sans-serif" font-size="18.75" font-weight="bold" text-anchor="middle" fill="#262626" transform="rotate(-90 85 918)">Model - Measured</text>
<text x="110" y="918" font-family="'DejaVu Sans', 'Liberation Sans', sans-serif" font-size="18.75" font-weight="bold" text-anchor="middle" fill="#262626" transform="rotate(-90 110 918)">|B| (nT)</text>
<text x="1170" y="925.8" font-family="'DejaVu Sans', 'Liberation Sans', sans-serif" font-size="14.58" font-weight="bold" text-anchor="start" fill="#000" transform="rotate(-90 1170 925.8)">Inboard</text>
<text x="1182.3" y="943.4" font-family="'DejaVu Sans', 'Liberation Sans', sans-serif" font-size="14.58" font-weight="bold" text-anchor="start" fill="#000" transform="rotate(-90 1182.3 943.4)">Outboard</text>
<line x1="1164.8" y1="958" x2="1164.8" y2="973.6" stroke="#0000ff" stroke-width="1.6"/>
<line x1="1179.9" y1="958" x2="1179.9" y2="973.6" stroke="#00ff00" stroke-width="1.6"/>
<line x1="269.5" y1="1072.5" x2="269.5" y2="1233.5" stroke="#dedede" stroke-width="1" shape-rendering="crispEdges"/>
<line x1="556.5" y1="1072.5" x2="556.5" y2="1233.5" stroke="#dedede" stroke-width="1" shape-rendering="crispEdges"/>
<line x1="843.5" y1="1072.5" x2="843.5" y2="1233.5" stroke="#dedede" stroke-width="1" shape-rendering="crispEdges"/>
<line x1="1130.5" y1="1072.5" x2="1130.5" y2="1233.5" stroke="#dedede" stroke-width="1" shape-rendering="crispEdges"/>
<line x1="165.5" y1="1084.5" x2="1154.5" y2="1084.5" stroke="#dedede" stroke-width="1" shape-rendering="crispEdges"/>
<line x1="165.5" y1="1120.5" x2="1154.5" y2="1120.5" stroke="#dedede" stroke-width="1" shape-rendering="crispEdges"/>
<line x1="165.5" y1="1156.5" x2="1154.5" y2="1156.5" stroke="#dedede" stroke-width="1" shape-rendering="crispEdges"/>
<line x1="165.5" y1="1192.5" x2="1154.5" y2="1192.5" stroke="#dedede" stroke-width="1" shape-rendering="crispEdges"/>
<line x1="165.5" y1="1228.5" x2="1154.5" y2="1228.5" stroke="#dedede" stroke-width="1" shape-rendering="crispEdges"/>
<path d="M165.5 1144.25h2v1.10h-2zM167.5 1139.55h2v5.80h-2zM169.5 1139.55h1v1.10h-1zM170.5 1139.55h1v5.80h-1zM171.5 1139.55h3v1.10h-3zM174.5 1134.85h6v5.80h-6zM180.5 1139.55h1v1.10h-1zM181.5 1134.85h1v5.80h-1zM182.5 1130.15h2v5.80h-2zM184.5 1130.15h2v1.10h-2zM186.5 1130.15h12v5.80h-12zM198.5 1130.15h1v1.10h-1zM199.5 1130.15h1v5.80h-1zM200.5 1130.15h2v1.10h-2zM202.5 1125.45h2v5.80h-2zM204.5 1130.15h2v1.10h-2zM206.5 1125.45h5v5.80h-5zM211.5 1130.15h2v1.10h-2zM213.5 1125.45h3v5.80h-3zM216.5 1125.45h1v1.10h-1zM217.5 1125.45h1v5.80h-1zM218.5 1125.45h1v1.10h-1zM219.5 1125.45h9v5.80h-9zM228.5 1125.45h2v1.10h-2zM230.5 1125.45h1v5.80h-1zM231.5 1125.45h1v1.10h-1zM232.5 1125.45h3v5.80h-3zM235.5 1125.45h5v1.10h-5zM240.5 1125.45h1v5.80h-1zM241.5 1125.45h3v1.10h-3zM244.5 1125.45h1v5.80h-1zM245.5 1125.45h5v1.10h-5zM250.5 1125.45h1v5.80h-1zM251.5 1125.45h12v1.10h-12zM263.5 1125.45h1v5.80h-1zM264.5 1125.45h4v1.10h-4zM268.5 1125.45h2v5.80h-2zM270.5 1125.45h2v1.10h-2zM272.5 1125.45h1v5.80h-1zM273.5 1125.45h7v1.10h-7zM280.5 1125.45h2v5.80h-2zM282.5 1125.45h9v1.10h-9zM291.5 1125.45h1v5.80h-1zM292.5 1125.45h15v1.10h-15zM307.5 1125.45h1v5.80h-1zM308.5 1125.45h3v1.10h-3zM311.5 1125.45h1v5.80h-1zM312.5 1125.45h10v1.10h-10zM322.5 1125.45h1v5.80h-1zM323.5 1125.45h4v1.10h-4zM327.5 1125.45h1v5.80h-1zM328.5 1125.45h20v1.10h-20zM348.5 1120.75h1v5.80h-1zM349.5 1120.75h1v1.10h-1zM350.5 1120.75h3v5.80h-3zM353.5 1125.45h1v1.10h-1zM354.5 1120.75h3v5.80h-3zM357.5 1120.75h1v1.10h-1zM358.5 1125.45h1v1.10h-1zM359.5 1120.75h7v5.80h-7zM366.5 1120.75h1v1.10h-1zM367.5 1120.75h1v5.80h-1zM368.5 1125.45h1v1.10h-1zM369.5 1120.75h1v5.80h-1zM370.5 1125.45h1v1.10h-1zM371.5 1120.75h2v5.80h-2zM373.5 1125.45h2v1.10h-2zM375.5 1120.75h1v5.80h-1zM376.5 1125.45h2v1.10h-2zM378.5 1120.75h2v5.80h-2zM380.5 1120.75h1v1.10h-1zM381.5 1120.75h3v5.80h-3zM384.5 1125.45h1v1.10h-1zM385.5 1120.75h8v5.80h-8zM393.5 1125.45h1v1.10h-1zM394.5 1120.75h1v1.10h-1zM395.5 1120.75h2v5.80h-2zM397.5 1120.75h2v1.10h-2zM399.5 1125.45h2v1.10h-2zM401.5 1120.75h3v5.80h-3zM404.5 1125.45h2v1.10h-2zM406.5 1120.75h2v5.80h-2zM408.5 1125.45h1v1.10h-1zM409.5 1120.75h2v5.80h-2zM411.5 1120.75h1v1.10h-1zM412.5 1116.05h4v5.80h-4zM416.5 1116.05h1v1.10h-1zM417.5 1116.05h2v5.80h-2zM419.5 1116.05h1v1.10h-1zM420.5 1116.05h1v5.80h-1zM421.5 1120.75h1v1.10h-1zM422.5 1116.05h12v5.80h-12zM434.5 1116.05h1v1.10h-1zM435.5 1116.05h1v5.80h-1zM436.5 1116.05h1v1.10h-1zM437.5 1116.05h1v5.80h-1zM438.5 1116.05h1v1.10h-1zM439.5 1116.05h5v5.80h-5zM444.5 1116.05h1v1.10h-1zM445.5 1116.05h1v5.80h-1zM446.5 1120.75h1v1.10h-1zM447.5 1116.05h2v5.80h-2zM449.5 1116.05h1v1.10h-1zM450.5 1116.05h2v5.80h-2zM452.5 1116.05h2v1.10h-2zM454.5 1111.35h4v5.80h-4zM458.5 1111.35h2v1.10h-2zM460.5 1111.35h4v5.80h-4zM464.5 1116.05h2v1.10h-2zM466.5 1111.35h4v5.80h-4zM470.5 1116.05h1v1.10h-1zM471.5 1111.35h4v5.80h-4zM475.5 1111.35h2v1.10h-2zM477.5 1116.05h2v1.10h-2zM479.5 1111.35h2v5.80h-2zM481.5 1111.35h1v1.10h-1zM482.5 1111.35h3v5.80h-3zM485.5 1111.35h2v1.10h-2zM487.5 1106.65h1v5.80h-1zM488.5 1106.65h1v1.10h-1zM489.5 1106.65h11v5.80h-11zM500.5 1111.35h1v1.10h-1zM501.5 1106.65h1v1.10h-1zM502.5 1106.65h3v5.80h-3zM505.5 1111.35h1v1.10h-1zM506.5 1106.65h1v5.80h-1zM507.5 1106.65h12v1.10h-12zM519.5 1101.95h1v1.10h-1zM520.5 1101.95h5v5.80h-5zM525.5 1106.65h1v1.10h-1zM526.5 1101.95h4v5.80h-4zM530.5 1106.65h1v1.10h-1zM531.5 1101.95h4v5.80h-4zM535.5 1101.95h1v1.10h-1zM536.5 1101.95h1v5.80h-1zM537.5 1106.65h1v1.10h-1zM538.5 1101.95h1v1.10h-1zM539.5 1101.95h8v5.80h-8zM547.5 1101.95h1v1.10h-1zM548.5 1101.95h4v5.80h-4zM552.5 1101.95h1v1.10h-1zM553.5 1101.95h1v5.80h-1zM554.5 1101.95h1v1.10h-1zM555.5 1101.95h5v5.80h-5zM560.5 1101.95h1v1.10h-1zM561.5 1101.95h2v5.80h-2zM563.5 1101.95h1v1.10h-1zM564.5 1101.95h1v5.80h-1zM565.5 1101.95h10v1.10h-10zM575.5 1097.25h1v5.80h-1zM576.5 1101.95h15v1.10h-15zM591.5 1097.25h1v5.80h-1zM592.5 1101.95h4v1.10h-4zM596.5 1097.25h1v5.80h-1zM597.5 1101.95h4v1.10h-4zM601.5 1097.25h1v5.80h-1zM602.5 1101.95h11v1.10h-11zM613.5 1101.95h1v5.80h-1zM614.5 1101.95h19v1.10h-19zM633.5 1106.65h2v1.10h-2zM635.5 1101.95h5v5.80h-5zM640.5 1106.65h1v1.10h-1zM641.5 1101.95h12v5.80h-12zM653.5 1106.65h1v1.10h-1zM654.5 1101.95h5v5.80h-5zM659.5 1106.65h14v1.10h-14zM673.5 1101.95h1v5.80h-1zM674.5 1106.65h8v1.10h-8zM682.5 1101.95h2v5.80h-2zM684.5 1106.65h21v1.10h-21zM705.5 1101.95h1v5.80h-1zM706.5 1106.65h1v1.10h-1zM707.5 1101.95h1v5.80h-1zM708.5 1106.65h17v1.10h-17zM725.5 1101.95h1v5.80h-1zM726.5 1106.65h1v1.10h-1zM727.5 1101.95h1v5.80h-1zM728.5 1106.65h5v1.10h-5zM733.5 1101.95h1v5.80h-1zM734.5 1106.65h10v1.10h-10zM744.5 1101.95h1v5.80h-1zM745.5 1106.65h5v1.10h-5zM750.5 1106.65h1v5.80h-1zM751.5 1106.65h2v1.10h-2zM753.5 1101.95h3v5.80h-3zM756.5 1106.65h6v1.10h-6zM762.5 1101.95h1v5.80h-1zM763.5 1106.65h17v1.10h-17zM780.5 1101.95h1v5.80h-1zM781.5 1106.65h11v1.10h-11zM792.5 1101.95h1v5.80h-1zM793.5 1106.65h14v1.10h-14zM807.5 1101.95h2v5.80h-2zM809.5 1106.65h5v1.10h-5zM814.5 1101.95h2v5.80h-2zM816.5 1106.65h2v1.10h-2zM818.5 1101.95h3v5.80h-3zM821.5 1106.65h1v1.10h-1zM822.5 1101.95h1v1.10h-1zM823.5 1101.95h1v5.80h-1zM824.5 1106.65h1v1.10h-1zM825.5 1101.95h1v5.80h-1zM826.5 1106.65h1v1.10h-1zM827.5 1101.95h2v5.80h-2zM829.5 1101.95h1v1.10h-1zM830.5 1101.95h2v5.80h-2zM832.5 1106.65h2v1.10h-2zM834.5 1101.95h6v5.80h-6zM840.5 1106.65h2v1.10h-2zM842.5 1101.95h9v5.80h-9zM851.5 1101.95h1v1.10h-1zM852.5 1101.95h1v5.80h-1zM853.5 1106.65h1v1.10h-1zM854.5 1101.95h2v5.80h-2zM856.5 1101.95h1v1.10h-1zM857.5 1101.95h7v5.80h-7zM864.5 1101.95h1v1.10h-1zM865.5 1101.95h5v5.80h-5zM870.5 1101.95h1v1.10h-1zM871.5 1101.95h2v5.80h-2zM873.5 1101.95h2v1.10h-2zM875.5 1106.65h1v1.10h-1zM876.5 1101.95h2v1.10h-2zM878.5 1101.95h5v5.80h-5zM883.5 1106.65h1v1.10h-1zM884.5 1101.95h3v5.80h-3zM887.5 1101.95h4v1.10h-4zM891.5 1101.95h4v5.80h-4zM895.5 1097.25h1v5.80h-1zM896.5 1101.95h1v1.10h-1zM897.5 1101.95h1v5.80h-1zM898.5 1101.95h9v1.10h-9zM907.5 1101.95h1v5.80h-1zM908.5 1101.95h21v1.10h-21zM929.5 1101.95h1v5.80h-1zM930.5 1101.95h9v1.10h-9zM939.5 1101.95h1v5.80h-1zM940.5 1101.95h2v1.10h-2zM942.5 1097.25h1v5.80h-1zM943.5 1101.95h20v1.10h-20zM963.5 1101.95h1v5.80h-1zM964.5 1101.95h8v1.10h-8zM972.5 1097.25h2v5.80h-2zM974.5 1101.95h1v1.10h-1zM975.5 1097.25h2v5.80h-2zM977.5 1101.95h1v1.10h-1zM978.5 1097.25h2v5.80h-2zM980.5 1101.95h3v1.10h-3zM983.5 1097.25h2v5.80h-2zM985.5 1101.95h1v1.10h-1zM986.5 1097.25h1v5.80h-1zM987.5 1097.25h1v1.10h-1zM988.5 1097.25h1v5.80h-1zM989.5 1101.95h4v1.10h-4zM993.5 1097.25h2v5.80h-2zM995.5 1097.25h1v1.10h-1zM996.5 1097.25h2v5.80h-2zM998.5 1101.95h2v1.10h-2zM1000.5 1097.25h9v5.80h-9zM1009.5 1097.25h1v1.10h-1zM1010.5 1097.25h3v5.80h-3zM1013.5 1097.25h1v1.10h-1zM1014.5 1097.25h1v5.80h-1zM1015.5 1101.95h1v1.10h-1zM1016.5 1097.25h2v5.80h-2zM1018.5 1097.25h1v1.10h-1zM1019.5 1097.25h6v5.80h-6zM1025.5 1101.95h1v1.10h-1zM1026.5 1097.25h2v5.80h-2zM1028.5 1097.25h1v1.10h-1zM1029.5 1097.25h1v5.80h-1zM1030.5 1101.95h1v1.10h-1zM1031.5 1097.25h4v5.80h-4zM1035.5 1101.95h2v1.10h-2zM1037.5 1097.25h1v1.10h-1zM1038.5 1097.25h1v5.80h-1zM1039.5 1097.25h2v1.10h-2zM1041.5 1097.25h1v5.80h-1zM1042.5 1097.25h5v1.10h-5zM1047.5 1097.25h4v5.80h-4zM1051.5 1101.95h1v1.10h-1zM1052.5 1097.25h2v1.10h-2zM1054.5 1097.25h2v5.80h-2zM1056.5 1097.25h2v1.10h-2zM1058.5 1097.25h1v5.80h-1zM1059.5 1097.25h2v1.10h-2zM1061.5 1097.25h1v5.80h-1zM1062.5 1097.25h14v1.10h-14zM1076.5 1097.25h2v5.80h-2zM1078.5 1097.25h2v1.10h-2zM1080.5 1097.25h1v5.80h-1zM1081.5 1097.25h1v1.10h-1zM1082.5 1097.25h1v5.80h-1zM1083.5 1097.25h2v1.10h-2zM1085.5 1097.25h1v5.80h-1zM1086.5 1097.25h1v1.10h-1zM1087.5 1097.25h2v5.80h-2zM1089.5 1097.25h3v1.10h-3zM1092.5 1097.25h1v5.80h-1zM1093.5 1097.25h2v1.10h-2zM1095.5 1097.25h1v5.80h-1zM1096.5 1097.25h3v1.10h-3zM1099.5 1097.25h1v5.80h-1zM1100.5 1097.25h3v1.10h-3zM1103.5 1097.25h2v5.80h-2zM1105.5 1097.25h2v1.10h-2zM1107.5 1097.25h1v5.80h-1zM1108.5 1097.25h7v1.10h-7zM1115.5 1097.25h1v5.80h-1zM1116.5 1092.55h1v5.80h-1zM1117.5 1097.25h1v1.10h-1zM1118.5 1097.25h1v5.80h-1zM1119.5 1097.25h35v1.10h-35z" fill="#0000ff"/>
<path d="M165.5 1188.35h1v1.10h-1zM166.5 1183.75h2v5.70h-2zM168.5 1188.35h1v1.10h-1zM169.5 1183.75h1v5.70h-1zM170.5 1183.75h1v1.10h-1zM171.5 1183.75h5v5.70h-5zM176.5 1183.75h1v1.10h-1zM177.5 1183.75h1v5.70h-1zM178.5 1188.35h1v1.10h-1zM179.5 1183.75h3v5.70h-3zM182.5 1188.35h1v1.10h-1zM183.5 1183.75h3v5.70h-3zM186.5 1183.75h1v1.10h-1zM187.5 1183.75h1v5.70h-1zM188.5 1183.75h1v1.10h-1zM189.5 1183.75h4v5.70h-4zM193.5 1183.75h1v1.10h-1zM194.5 1188.35h1v1.10h-1zM195.5 1183.75h1v1.10h-1zM196.5 1183.75h6v5.70h-6zM202.5 1188.35h1v1.10h-1zM203.5 1183.75h2v5.70h-2zM205.5 1188.35h1v1.10h-1zM206.5 1183.75h10v5.70h-10zM216.5 1188.35h3v1.10h-3zM219.5 1183.75h1v5.70h-1zM220.5 1188.35h13v1.10h-13zM233.5 1183.75h1v5.70h-1zM234.5 1188.35h2v1.10h-2zM236.5 1188.35h1v5.70h-1zM237.5 1188.35h1v1.10h-1zM238.5 1188.35h1v5.70h-1zM239.5 1188.35h1v1.10h-1zM240.5 1188.35h1v5.70h-1zM241.5 1188.35h3v1.10h-3zM244.5 1188.35h1v5.70h-1zM245.5 1188.35h5v1.10h-5zM250.5 1188.35h3v5.70h-3zM253.5 1188.35h1v1.10h-1zM254.5 1188.35h1v5.70h-1zM255.5 1188.35h1v1.10h-1zM256.5 1188.35h1v5.70h-1zM257.5 1192.95h1v1.10h-1zM258.5 1188.35h1v5.70h-1zM259.5 1192.95h1v1.10h-1zM260.5 1188.35h5v5.70h-5zM265.5 1192.95h1v1.10h-1zM266.5 1188.35h9v5.70h-9zM275.5 1192.95h1v1.10h-1zM276.5 1188.35h4v5.70h-4zM280.5 1192.95h1v1.10h-1zM281.5 1188.35h1v5.70h-1zM282.5 1192.95h2v1.10h-2zM284.5 1188.35h3v5.70h-3zM287.5 1188.35h1v1.10h-1zM288.5 1188.35h3v5.70h-3zM291.5 1192.95h2v1.10h-2zM293.5 1188.35h1v5.70h-1zM294.5 1192.95h1v1.10h-1zM295.5 1188.35h1v5.70h-1zM296.5 1192.95h1v1.10h-1zM297.5 1188.35h1v5.70h-1zM298.5 1192.95h1v1.10h-1zM299.5 1188.35h2v5.70h-2zM301.5 1192.95h4v1.10h-4zM305.5 1188.35h1v5.70h-1zM306.5 1192.95h2v1.10h-2zM308.5 1188.35h1v5.70h-1zM309.5 1192.95h7v1.10h-7zM316.5 1188.35h1v5.70h-1zM317.5 1192.95h9v1.10h-9zM326.5 1192.95h1v5.70h-1zM327.5 1197.55h1v1.10h-1zM328.5 1192.95h1v1.10h-1zM329.5 1192.95h3v5.70h-3zM332.5 1197.55h1v1.10h-1zM333.5 1192.95h4v5.70h-4zM337.5 1197.55h2v1.10h-2zM339.5 1192.95h6v5.70h-6zM345.5 1192.95h1v1.10h-1zM346.5 1192.95h6v5.70h-6zM352.5 1192.95h1v1.10h-1zM353.5 1192.95h1v5.70h-1zM354.5 1197.55h1v1.10h-1zM355.5 1192.95h1v5.70h-1zM356.5 1192.95h1v1.10h-1zM357.5 1192.95h1v5.70h-1zM358.5 1192.95h1v1.10h-1zM359.5 1192.95h5v5.70h-5zM364.5 1197.55h3v1.10h-3zM367.5 1192.95h2v5.70h-2zM369.5 1197.55h2v1.10h-2zM371.5 1192.95h1v5.70h-1zM372.5 1197.55h4v1.10h-4zM376.5 1192.95h1v5.70h-1zM377.5 1197.55h1v1.10h-1zM378.5 1192.95h3v5.70h-3zM381.5 1197.55h2v1.10h-2zM383.5 1192.95h5v5.70h-5zM388.5 1197.55h1v1.10h-1zM389.5 1192.95h2v5.70h-2zM391.5 1197.55h2v5.70h-2zM393.5 1197.55h3v1.10h-3zM396.5 1197.55h1v5.70h-1zM397.5 1197.55h2v1.10h-2zM399.5 1192.95h1v5.70h-1zM400.5 1197.55h7v1.10h-7zM407.5 1197.55h1v5.70h-1zM408.5 1197.55h4v1.10h-4zM412.5 1192.95h1v5.70h-1zM413.5 1197.55h2v1.10h-2zM415.5 1192.95h1v5.70h-1zM416.5 1197.55h3v1.10h-3zM419.5 1192.95h1v1.10h-1zM420.5 1197.55h1v1.10h-1zM421.5 1192.95h2v5.70h-2zM423.5 1197.55h1v1.10h-1zM424.5 1192.95h1v5.70h-1zM425.5 1197.55h8v1.10h-8zM433.5 1192.95h1v5.70h-1zM434.5 1197.55h3v1.10h-3zM437.5 1192.95h1v5.70h-1zM438.5 1197.55h1v1.10h-1zM439.5 1192.95h1v5.70h-1zM440.5 1197.55h1v1.10h-1zM441.5 1192.95h1v5.70h-1zM442.5 1197.55h1v1.10h-1zM443.5 1192.95h1v5.70h-1zM444.5 1197.55h1v1.10h-1zM445.5 1192.95h1v5.70h-1zM446.5 1197.55h36v1.10h-36zM482.5 1197.55h1v5.70h-1zM483.5 1197.55h1v1.10h-1zM484.5 1197.55h1v5.70h-1zM485.5 1202.15h1v1.10h-1zM486.5 1197.55h1v1.10h-1zM487.5 1197.55h4v5.70h-4zM491.5 1202.15h1v1.10h-1zM492.5 1197.55h1v1.10h-1zM493.5 1197.55h1v5.70h-1zM494.5 1202.15h1v1.10h-1zM495.5 1197.55h3v5.70h-3zM498.5 1202.15h1v1.10h-1zM499.5 1197.55h7v5.70h-7zM506.5 1197.55h1v1.10h-1zM507.5 1197.55h1v5.70h-1zM508.5 1197.55h1v1.10h-1zM509.5 1197.55h1v5.70h-1zM510.5 1202.15h1v1.10h-1zM511.5 1197.55h4v5.70h-4zM515.5 1197.55h1v1.10h-1zM516.5 1197.55h4v5.70h-4zM520.5 1202.15h1v1.10h-1zM521.5 1197.55h1v5.70h-1zM522.5 1197.55h1v1.10h-1zM523.5 1197.55h1v5.70h-1zM524.5 1202.15h1v1.10h-1zM525.5 1197.55h1v5.70h-1zM526.5 1197.55h1v1.10h-1zM527.5 1197.55h2v5.70h-2zM529.5 1197.55h1v1.10h-1zM530.5 1197.55h15v5.70h-15zM545.5 1197.55h1v1.10h-1zM546.5 1202.15h1v1.10h-1zM547.5 1197.55h1v5.70h-1zM548.5 1202.15h1v1.10h-1zM549.5 1197.55h8v5.70h-8zM557.5 1202.15h2v1.10h-2zM559.5 1197.55h1v1.10h-1zM560.5 1197.55h3v5.70h-3zM563.5 1202.15h1v1.10h-1zM564.5 1197.55h4v5.70h-4zM568.5 1202.15h1v1.10h-1zM569.5 1197.55h2v5.70h-2zM571.5 1202.15h1v1.10h-1zM572.5 1197.55h16v5.70h-16zM588.5 1197.55h1v1.10h-1zM589.5 1197.55h3v5.70h-3zM592.5 1197.55h1v1.10h-1zM593.5 1197.55h3v5.70h-3zM596.5 1197.55h1v1.10h-1zM597.5 1197.55h1v5.70h-1zM598.5 1202.15h1v1.10h-1zM599.5 1197.55h1v5.70h-1zM600.5 1202.15h2v1.10h-2zM602.5 1197.55h1v1.10h-1zM603.5 1197.55h11v5.70h-11zM614.5 1202.15h1v1.10h-1zM615.5 1197.55h6v5.70h-6zM621.5 1202.15h1v1.10h-1zM622.5 1197.55h1v5.70h-1zM623.5 1202.15h2v1.10h-2zM625.5 1197.55h7v5.70h-7zM632.5 1202.15h1v1.10h-1zM633.5 1197.55h1v5.70h-1zM634.5 1202.15h1v1.10h-1zM635.5 1197.55h4v5.70h-4zM639.5 1202.15h1v1.10h-1zM640.5 1197.55h10v5.70h-10zM650.5 1197.55h1v1.10h-1zM651.5 1202.15h1v1.10h-1zM652.5 1197.55h1v1.10h-1zM653.5 1197.55h2v5.70h-2zM655.5 1202.15h1v1.10h-1zM656.5 1197.55h9v5.70h-9zM665.5 1202.15h1v1.10h-1zM666.5 1197.55h1v5.70h-1zM667.5 1197.55h1v1.10h-1zM668.5 1197.55h2v5.70h-2zM670.5 1197.55h1v1.10h-1zM671.5 1197.55h1v5.70h-1zM672.5 1202.15h1v1.10h-1zM673.5 1197.55h1v1.10h-1zM674.5 1197.55h3v5.70h-3zM677.5 1197.55h1v1.10h-1zM678.5 1197.55h2v5.70h-2zM680.5 1197.55h1v1.10h-1zM681.5 1202.15h1v1.10h-1zM682.5 1197.55h2v5.70h-2zM684.5 1202.15h1v1.10h-1zM685.5 1197.55h1v5.70h-1zM686.5 1197.55h1v1.10h-1zM687.5 1197.55h1v5.70h-1zM688.5 1202.15h1v1.10h-1zM689.5 1197.55h2v5.70h-2zM691.5 1197.55h1v1.10h-1zM692.5 1202.15h1v1.10h-1zM693.5 1197.55h2v5.70h-2zM695.5 1202.15h1v1.10h-1zM696.5 1197.55h2v5.70h-2zM698.5 1197.55h1v1.10h-1zM699.5 1197.55h1v5.70h-1zM700.5 1197.55h2v1.10h-2zM702.5 1197.55h8v5.70h-8zM710.5 1197.55h1v1.10h-1zM711.5 1202.15h1v1.10h-1zM712.5 1197.55h3v5.70h-3zM715.5 1202.15h1v1.10h-1zM716.5 1197.55h2v5.70h-2zM718.5 1197.55h2v1.10h-2zM720.5 1197.55h8v5.70h-8zM728.5 1197.55h1v1.10h-1zM729.5 1197.55h2v5.70h-2zM731.5 1202.15h1v1.10h-1zM732.5 1197.55h6v5.70h-6zM738.5 1202.15h1v1.10h-1zM739.5 1197.55h1v5.70h-1zM740.5 1197.55h2v1.10h-2zM742.5 1197.55h1v5.70h-1zM743.5 1197.55h6v1.10h-6zM749.5 1197.55h1v5.70h-1zM750.5 1197.55h3v1.10h-3zM753.5 1197.55h1v5.70h-1zM754.5 1197.55h1v1.10h-1zM755.5 1197.55h1v5.70h-1zM756.5 1197.55h1v1.10h-1zM757.5 1197.55h1v5.70h-1zM758.5 1197.55h5v1.10h-5zM763.5 1197.55h1v5.70h-1zM764.5 1197.55h9v1.10h-9zM773.5 1197.55h3v5.70h-3zM776.5 1197.55h3v1.10h-3zM779.5 1192.95h1v5.70h-1zM780.5 1192.95h2v1.10h-2zM782.5 1192.95h6v5.70h-6zM788.5 1197.55h2v1.10h-2zM790.5 1192.95h6v5.70h-6zM796.5 1192.95h1v1.10h-1zM797.5 1197.55h1v1.10h-1zM798.5 1192.95h2v1.10h-2zM800.5 1192.95h2v5.70h-2zM802.5 1197.55h2v1.10h-2zM804.5 1192.95h3v5.70h-3zM807.5 1192.95h1v1.10h-1zM808.5 1192.95h9v5.70h-9zM817.5 1192.95h1v1.10h-1zM818.5 1197.55h1v1.10h-1zM819.5 1192.95h3v5.70h-3zM822.5 1192.95h1v1.10h-1zM823.5 1192.95h4v5.70h-4zM827.5 1192.95h1v1.10h-1zM828.5 1192.95h3v5.70h-3zM831.5 1197.55h1v1.10h-1zM832.5 1192.95h2v5.70h-2zM834.5 1197.55h1v1.10h-1zM835.5 1192.95h2v5.70h-2zM837.5 1192.95h1v1.10h-1zM838.5 1192.95h3v5.70h-3zM841.5 1192.95h2v1.10h-2zM843.5 1192.95h1v5.70h-1zM844.5 1192.95h1v1.10h-1zM845.5 1192.95h2v5.70h-2zM847.5 1192.95h3v1.10h-3zM850.5 1192.95h1v5.70h-1zM851.5 1192.95h1v1.10h-1zM852.5 1192.95h1v5.70h-1zM853.5 1192.95h1v1.10h-1zM854.5 1192.95h2v5.70h-2zM856.5 1192.95h1v1.10h-1zM857.5 1192.95h2v5.70h-2zM859.5 1192.95h3v1.10h-3zM862.5 1192.95h1v5.70h-1zM863.5 1192.95h1v1.10h-1zM864.5 1192.95h1v5.70h-1zM865.5 1192.95h3v1.10h-3zM868.5 1192.95h1v5.70h-1zM869.5 1192.95h1v1.10h-1zM870.5 1192.95h1v5.70h-1zM871.5 1192.95h16v1.10h-16zM887.5 1188.35h1v5.70h-1zM888.5 1192.95h16v1.10h-16zM904.5 1192.95h1v5.70h-1zM905.5 1188.35h1v5.70h-1zM906.5 1192.95h7v1.10h-7zM913.5 1188.35h1v5.70h-1zM914.5 1192.95h3v1.10h-3zM917.5 1188.35h2v5.70h-2zM919.5 1188.35h1v1.10h-1zM920.5 1192.95h1v1.10h-1zM921.5 1188.35h1v5.70h-1zM922.5 1188.35h1v1.10h-1zM923.5 1188.35h4v5.70h-4zM927.5 1188.35h1v1.10h-1zM928.5 1188.35h3v5.70h-3zM931.5 1192.95h1v1.10h-1zM932.5 1188.35h1v5.70h-1zM933.5 1192.95h1v1.10h-1zM934.5 1188.35h3v5.70h-3zM937.5 1188.35h1v1.10h-1zM938.5 1188.35h2v5.70h-2zM940.5 1192.95h1v1.10h-1zM941.5 1188.35h3v5.70h-3zM944.5 1192.95h1v1.10h-1zM945.5 1188.35h3v5.70h-3zM948.5 1188.35h1v1.10h-1zM949.5 1192.95h1v1.10h-1zM950.5 1188.35h1v5.70h-1zM951.5 1192.95h2v1.10h-2zM953.5 1188.35h2v5.70h-2zM955.5 1188.35h1v1.10h-1zM956.5 1188.35h9v5.70h-9zM965.5 1188.35h1v1.10h-1zM966.5 1188.35h1v5.70h-1zM967.5 1188.35h1v1.10h-1zM968.5 1188.35h1v5.70h-1zM969.5 1188.35h1v1.10h-1zM970.5 1188.35h3v5.70h-3zM973.5 1188.35h1v1.10h-1zM974.5 1188.35h5v5.70h-5zM979.5 1188.35h1v1.10h-1zM980.5 1188.35h2v5.70h-2zM982.5 1188.35h1v1.10h-1zM983.5 1188.35h12v5.70h-12zM995.5 1192.95h1v1.10h-1zM996.5 1188.35h8v5.70h-8zM1004.5 1188.35h3v1.10h-3zM1007.5 1188.35h1v5.70h-1zM1008.5 1188.35h7v1.10h-7zM1015.5 1188.35h2v5.70h-2zM1017.5 1188.35h6v1.10h-6zM1023.5 1183.75h1v5.70h-1zM1024.5 1188.35h7v1.10h-7zM1031.5 1183.75h1v5.70h-1zM1032.5 1188.35h7v1.10h-7zM1039.5 1188.35h1v5.70h-1zM1040.5 1188.35h15v1.10h-15zM1055.5 1183.75h5v5.70h-5zM1060.5 1188.35h1v1.10h-1zM1061.5 1183.75h2v5.70h-2zM1063.5 1183.75h1v1.10h-1zM1064.5 1183.75h2v5.70h-2zM1066.5 1188.35h1v1.10h-1zM1067.5 1183.75h1v1.10h-1zM1068.5 1183.75h5v5.70h-5zM1073.5 1183.75h1v1.10h-1zM1074.5 1183.75h10v5.70h-10zM1084.5 1183.75h2v1.10h-2zM1086.5 1183.75h10v5.70h-10zM1096.5 1183.75h1v1.10h-1zM1097.5 1183.75h1v5.70h-1zM1098.5 1188.35h1v1.10h-1zM1099.5 1183.75h6v5.70h-6zM1105.5 1183.75h1v1.10h-1zM1106.5 1183.75h1v5.70h-1zM1107.5 1188.35h2v1.10h-2zM1109.5 1183.75h1v5.70h-1zM1110.5 1188.35h1v1.10h-1zM1111.5 1183.75h10v5.70h-10zM1121.5 1183.75h1v1.10h-1zM1122.5 1183.75h2v5.70h-2zM1124.5 1183.75h1v1.10h-1zM1125.5 1183.75h4v5.70h-4zM1129.5 1188.35h1v1.10h-1zM1130.5 1183.75h10v5.70h-10zM1140.5 1188.35h1v1.10h-1zM1141.5 1183.75h2v5.70h-2zM1143.5 1183.75h1v1.10h-1zM1144.5 1183.75h1v5.70h-1zM1145.5 1188.35h1v1.10h-1zM1146.5 1183.75h1v1.10h-1zM1147.5 1183.75h1v5.70h-1zM1148.5 1188.35h1v1.10h-1zM1149.5 1183.75h4v5.70h-4zM1153.5 1183.75h1v1.10h-1z" fill="#00ffff"/>
<path d="M165.5 1114.45h1v10.70h-1zM166.5 1114.45h1v15.50h-1zM167.5 1119.25h1v10.70h-1zM168.5 1114.45h1v5.90h-1zM169.5 1109.65h1v10.70h-1zM170.5 1114.45h1v5.90h-1zM171.5 1109.65h1v10.70h-1zM172.5 1109.65h1v15.50h-1zM173.5 1109.65h1v10.70h-1zM174.5 1114.45h1v5.90h-1zM175.5 1109.65h2v10.70h-2zM177.5 1104.85h1v10.70h-1zM178.5 1109.65h2v10.70h-2zM180.5 1109.65h2v5.90h-2zM182.5 1109.65h1v10.70h-1zM183.5 1104.85h1v10.70h-1zM184.5 1109.65h1v10.70h-1zM185.5 1104.85h1v10.70h-1zM186.5 1109.65h1v10.70h-1zM187.5 1109.65h1v5.90h-1zM188.5 1104.85h1v10.70h-1zM189.5 1104.85h1v5.90h-1zM190.5 1100.05h1v15.50h-1zM191.5 1104.85h5v10.70h-5zM196.5 1104.85h1v15.50h-1zM197.5 1104.85h1v10.70h-1zM198.5 1109.65h1v5.90h-1zM199.5 1104.85h1v5.90h-1zM200.5 1100.05h1v10.70h-1zM201.5 1104.85h2v10.70h-2zM203.5 1104.85h1v5.90h-1zM204.5 1104.85h3v10.70h-3zM207.5 1109.65h1v5.90h-1zM208.5 1104.85h1v5.90h-1zM209.5 1104.85h1v10.70h-1zM210.5 1104.85h1v5.90h-1zM211.5 1104.85h2v10.70h-2zM213.5 1104.85h2v5.90h-2zM215.5 1109.65h1v5.90h-1zM216.5 1104.85h1v5.90h-1zM217.5 1104.85h1v10.70h-1zM218.5 1104.85h1v15.50h-1zM219.5 1104.85h2v10.70h-2zM221.5 1100.05h1v15.50h-1zM222.5 1104.85h3v10.70h-3zM225.5 1109.65h1v5.90h-1zM226.5 1104.85h1v5.90h-1zM227.5 1104.85h1v10.70h-1zM228.5 1104.85h2v5.90h-2zM230.5 1104.85h4v10.70h-4zM234.5 1100.05h1v10.70h-1zM235.5 1104.85h1v5.90h-1zM236.5 1104.85h1v10.70h-1zM237.5 1109.65h2v5.90h-2zM239.5 1109.65h1v10.70h-1zM240.5 1104.85h2v10.70h-2zM242.5 1104.85h1v5.90h-1zM243.5 1109.65h2v5.90h-2zM245.5 1104.85h1v10.70h-1zM246.5 1100.05h1v15.50h-1zM247.5 1104.85h1v10.70h-1zM248.5 1104.85h1v15.50h-1zM249.5 1109.65h1v5.90h-1zM250.5 1104.85h1v10.70h-1zM251.5 1104.85h1v15.50h-1zM252.5 1104.85h5v10.70h-5zM257.5 1100.05h1v15.50h-1zM258.5 1104.85h1v5.90h-1zM259.5 1109.65h1v5.90h-1zM260.5 1104.85h6v10.70h-6zM266.5 1104.85h1v5.90h-1zM267.5 1104.85h4v10.70h-4zM271.5 1104.85h1v5.90h-1zM272.5 1104.85h2v10.70h-2zM274.5 1109.65h1v5.90h-1zM275.5 1104.85h1v5.90h-1zM276.5 1104.85h3v10.70h-3zM279.5 1109.65h1v5.90h-1zM280.5 1109.65h1v10.70h-1zM281.5 1104.85h1v5.90h-1zM282.5 1104.85h1v10.70h-1zM283.5 1100.05h1v15.50h-1zM284.5 1104.85h2v10.70h-2zM286.5 1100.05h1v15.50h-1zM287.5 1104.85h1v10.70h-1zM288.5 1104.85h1v15.50h-1zM289.5 1104.85h1v10.70h-1zM290.5 1109.65h1v5.90h-1zM291.5 1104.85h1v10.70h-1zM292.5 1104.85h1v5.90h-1zM293.5 1109.65h1v5.90h-1zM294.5 1104.85h1v10.70h-1zM295.5 1104.85h1v5.90h-1zM296.5 1104.85h8v10.70h-8zM304.5 1104.85h1v5.90h-1zM305.5 1104.85h2v10.70h-2zM307.5 1109.65h1v5.90h-1zM308.5 1104.85h1v10.70h-1zM309.5 1104.85h1v15.50h-1zM310.5 1104.85h1v5.90h-1zM311.5 1104.85h1v10.70h-1zM312.5 1104.85h1v5.90h-1zM313.5 1109.65h1v5.90h-1zM314.5 1104.85h3v10.70h-3zM317.5 1104.85h1v5.90h-1zM318.5 1104.85h1v10.70h-1zM319.5 1109.65h1v5.90h-1zM320.5 1104.85h2v10.70h-2zM322.5 1109.65h2v5.90h-2zM324.5 1104.85h1v5.90h-1zM325.5 1104.85h1v10.70h-1zM326.5 1104.85h1v5.90h-1zM327.5 1104.85h1v10.70h-1zM328.5 1109.65h1v5.90h-1zM329.5 1104.85h1v10.70h-1zM330.5 1104.85h2v5.90h-2zM332.5 1109.65h1v5.90h-1zM333.5 1104.85h1v5.90h-1zM334.5 1104.85h1v10.70h-1zM335.5 1109.65h1v5.90h-1zM336.5 1104.85h4v10.70h-4zM340.5 1104.85h1v5.90h-1zM341.5 1100.05h1v5.90h-1zM342.5 1100.05h7v10.70h-7zM349.5 1104.85h1v10.70h-1zM350.5 1100.05h1v5.90h-1zM351.5 1100.05h2v10.70h-2zM353.5 1100.05h2v5.90h-2zM355.5 1104.85h2v5.90h-2zM357.5 1100.05h2v10.70h-2zM359.5 1104.85h3v5.90h-3zM362.5 1100.05h1v15.50h-1zM363.5 1100.05h3v10.70h-3zM366.5 1095.25h1v15.50h-1zM367.5 1100.05h1v10.70h-1zM368.5 1104.85h1v1.10h-1zM369.5 1100.05h4v10.70h-4zM373.5 1104.85h1v5.90h-1zM374.5 1100.05h1v5.90h-1zM375.5 1100.05h5v10.70h-5zM380.5 1100.05h1v5.90h-1zM381.5 1104.85h1v5.90h-1zM382.5 1100.05h8v10.70h-8zM390.5 1104.85h2v5.90h-2zM392.5 1100.05h1v10.70h-1zM393.5 1104.85h1v5.90h-1zM394.5 1100.05h1v10.70h-1zM395.5 1104.85h1v5.90h-1zM396.5 1100.05h3v10.70h-3zM399.5 1104.85h1v5.90h-1zM400.5 1100.05h1v10.70h-1zM401.5 1095.25h1v15.50h-1zM402.5 1100.05h2v10.70h-2zM404.5 1104.85h2v5.90h-2zM406.5 1100.05h3v10.70h-3zM409.5 1100.05h1v5.90h-1zM410.5 1095.25h1v15.50h-1zM411.5 1095.25h2v10.70h-2zM413.5 1095.25h1v5.90h-1zM414.5 1095.25h1v10.70h-1zM415.5 1100.05h1v5.90h-1zM416.5 1095.25h2v10.70h-2zM418.5 1100.05h1v5.90h-1zM419.5 1095.25h1v10.70h-1zM420.5 1090.45h1v15.50h-1zM421.5 1095.25h1v10.70h-1zM422.5 1100.05h1v5.90h-1zM423.5 1095.25h8v10.70h-8zM431.5 1095.25h2v5.90h-2zM433.5 1095.25h3v10.70h-3zM436.5 1090.45h1v15.50h-1zM437.5 1095.25h1v10.70h-1zM438.5 1095.25h1v5.90h-1zM439.5 1095.25h1v10.70h-1zM440.5 1095.25h2v5.90h-2zM442.5 1095.25h3v10.70h-3zM445.5 1090.45h1v10.70h-1zM446.5 1095.25h1v5.90h-1zM447.5 1095.25h1v10.70h-1zM448.5 1100.05h1v5.90h-1zM449.5 1095.25h2v5.90h-2zM451.5 1095.25h4v10.70h-4zM455.5 1090.45h4v10.70h-4zM459.5 1095.25h1v5.90h-1zM460.5 1090.45h2v10.70h-2zM462.5 1095.25h1v5.90h-1zM463.5 1090.45h1v10.70h-1zM464.5 1090.45h1v5.90h-1zM465.5 1090.45h1v10.70h-1zM466.5 1085.65h1v15.50h-1zM467.5 1095.25h1v5.90h-1zM468.5 1095.25h1v10.70h-1zM469.5 1085.65h1v15.50h-1zM470.5 1090.45h1v5.90h-1zM471.5 1090.45h1v10.70h-1zM472.5 1095.25h1v5.90h-1zM473.5 1090.45h1v10.70h-1zM474.5 1090.45h1v5.90h-1zM475.5 1085.65h1v15.50h-1zM476.5 1090.45h1v10.70h-1zM477.5 1090.45h2v15.50h-2zM479.5 1090.45h2v10.70h-2zM481.5 1085.65h1v15.50h-1zM482.5 1095.25h1v5.90h-1zM483.5 1090.45h3v10.70h-3zM486.5 1095.25h1v5.90h-1zM487.5 1090.45h1v10.70h-1zM488.5 1090.45h1v15.50h-1zM489.5 1090.45h1v10.70h-1zM490.5 1095.25h1v10.70h-1zM491.5 1085.65h1v15.50h-1zM492.5 1095.25h1v5.90h-1zM493.5 1090.45h5v10.70h-5zM498.5 1090.45h1v15.50h-1zM499.5 1090.45h1v10.70h-1zM500.5 1090.45h1v5.90h-1zM501.5 1085.65h9v10.70h-9zM510.5 1085.65h1v5.90h-1zM511.5 1085.65h4v10.70h-4zM515.5 1085.65h1v15.50h-1zM516.5 1085.65h1v5.90h-1zM517.5 1090.45h1v5.90h-1zM518.5 1085.65h1v5.90h-1zM519.5 1085.65h8v10.70h-8zM527.5 1085.65h1v5.90h-1zM528.5 1085.65h1v10.70h-1zM529.5 1080.85h1v15.50h-1zM530.5 1085.65h1v10.70h-1zM531.5 1090.45h1v5.90h-1zM532.5 1085.65h2v10.70h-2zM534.5 1085.65h1v5.90h-1zM535.5 1085.65h1v10.70h-1zM536.5 1090.45h1v5.90h-1zM537.5 1085.65h4v10.70h-4zM541.5 1090.45h1v5.90h-1zM542.5 1085.65h1v10.70h-1zM543.5 1080.85h1v15.50h-1zM544.5 1085.65h1v15.50h-1zM545.5 1085.65h1v10.70h-1zM546.5 1090.45h1v5.90h-1zM547.5 1085.65h1v10.70h-1zM548.5 1080.85h1v15.50h-1zM549.5 1085.65h1v10.70h-1zM550.5 1080.85h3v10.70h-3zM553.5 1076.05h1v15.50h-1zM554.5 1080.85h2v5.90h-2zM556.5 1080.85h2v10.70h-2zM558.5 1080.85h1v5.90h-1zM559.5 1085.65h1v5.90h-1zM560.5 1080.85h2v10.70h-2zM562.5 1076.05h1v15.50h-1zM563.5 1080.85h2v10.70h-2zM565.5 1085.65h1v10.70h-1zM566.5 1080.85h1v10.70h-1zM567.5 1080.85h1v15.50h-1zM568.5 1080.85h5v10.70h-5zM573.5 1085.65h1v5.90h-1zM574.5 1080.85h1v10.70h-1zM575.5 1080.85h1v5.90h-1zM576.5 1080.85h1v10.70h-1zM577.5 1080.85h1v5.90h-1zM578.5 1085.65h1v5.90h-1zM579.5 1080.85h3v10.70h-3zM582.5 1085.65h2v5.90h-2zM584.5 1080.85h2v10.70h-2zM586.5 1085.65h1v5.90h-1zM587.5 1080.85h3v10.70h-3zM590.5 1080.85h1v15.50h-1zM591.5 1080.85h2v10.70h-2zM593.5 1085.65h1v5.90h-1zM594.5 1080.85h1v10.70h-1zM595.5 1085.65h1v5.90h-1zM596.5 1080.85h1v5.90h-1zM597.5 1080.85h3v10.70h-3zM600.5 1085.65h3v5.90h-3zM603.5 1080.85h1v10.70h-1zM604.5 1085.65h1v5.90h-1zM605.5 1080.85h3v10.70h-3zM608.5 1080.85h1v15.50h-1zM609.5 1080.85h1v10.70h-1zM610.5 1080.85h1v5.90h-1zM611.5 1080.85h5v10.70h-5zM616.5 1080.85h1v5.90h-1zM617.5 1080.85h4v10.70h-4zM621.5 1085.65h1v5.90h-1zM622.5 1080.85h1v10.70h-1zM623.5 1080.85h1v15.50h-1zM624.5 1080.85h1v10.70h-1zM625.5 1080.85h1v5.90h-1zM626.5 1080.85h2v10.70h-2zM628.5 1076.05h1v15.50h-1zM629.5 1080.85h3v10.70h-3zM632.5 1085.65h2v5.90h-2zM634.5 1080.85h1v10.70h-1zM635.5 1085.65h1v10.70h-1zM636.5 1090.45h2v5.90h-2zM638.5 1085.65h2v10.70h-2zM640.5 1090.45h1v5.90h-1zM641.5 1080.85h1v15.50h-1zM642.5 1085.65h3v10.70h-3zM645.5 1080.85h1v15.50h-1zM646.5 1085.65h1v5.90h-1zM647.5 1085.65h1v10.70h-1zM648.5 1090.45h1v1.10h-1zM649.5 1085.65h4v10.70h-4zM653.5 1090.45h1v5.90h-1zM654.5 1085.65h4v10.70h-4zM658.5 1085.65h1v15.50h-1zM659.5 1085.65h1v10.70h-1zM660.5 1090.45h1v5.90h-1zM661.5 1085.65h1v5.90h-1zM662.5 1090.45h1v5.90h-1zM663.5 1090.45h1v10.70h-1zM664.5 1085.65h1v5.90h-1zM665.5 1085.65h1v10.70h-1zM666.5 1090.45h1v5.90h-1zM667.5 1085.65h1v10.70h-1zM668.5 1090.45h1v5.90h-1zM669.5 1085.65h5v10.70h-5zM674.5 1085.65h1v5.90h-1zM675.5 1085.65h3v10.70h-3zM678.5 1090.45h1v5.90h-1zM679.5 1085.65h1v15.50h-1zM680.5 1080.85h1v15.50h-1zM681.5 1085.65h1v10.70h-1zM682.5 1080.85h1v15.50h-1zM683.5 1085.65h2v10.70h-2zM685.5 1085.65h1v15.50h-1zM686.5 1085.65h7v10.70h-7zM693.5 1085.65h1v5.90h-1zM694.5 1085.65h4v10.70h-4zM698.5 1080.85h2v15.50h-2zM700.5 1085.65h2v10.70h-2zM702.5 1090.45h1v5.90h-1zM703.5 1085.65h1v10.70h-1zM704.5 1085.65h1v5.90h-1zM705.5 1085.65h2v15.50h-2zM707.5 1085.65h5v10.70h-5zM712.5 1085.65h1v5.90h-1zM713.5 1085.65h3v10.70h-3zM716.5 1090.45h1v5.90h-1zM717.5 1085.65h2v10.70h-2zM719.5 1080.85h1v15.50h-1zM720.5 1085.65h2v10.70h-2zM722.5 1090.45h2v5.90h-2zM724.5 1085.65h3v10.70h-3zM727.5 1085.65h1v15.50h-1zM728.5 1090.45h2v5.90h-2zM730.5 1085.65h1v10.70h-1zM731.5 1090.45h1v5.90h-1zM732.5 1085.65h1v10.70h-1zM733.5 1085.65h1v5.90h-1zM734.5 1085.65h2v10.70h-2zM736.5 1085.65h1v15.50h-1zM737.5 1085.65h1v10.70h-1zM738.5 1090.45h1v5.90h-1zM739.5 1085.65h2v10.70h-2zM741.5 1090.45h1v5.90h-1zM742.5 1085.65h1v10.70h-1zM743.5 1090.45h1v10.70h-1zM744.5 1085.65h1v10.70h-1zM745.5 1090.45h2v5.90h-2zM747.5 1085.65h1v5.90h-1zM748.5 1085.65h1v10.70h-1zM749.5 1090.45h1v5.90h-1zM750.5 1085.65h5v10.70h-5zM755.5 1085.65h1v5.90h-1zM756.5 1090.45h1v5.90h-1zM757.5 1085.65h1v10.70h-1zM758.5 1090.45h1v5.90h-1zM759.5 1085.65h4v10.70h-4zM763.5 1080.85h1v15.50h-1zM764.5 1080.85h1v20.30h-1zM765.5 1085.65h2v10.70h-2zM767.5 1090.45h1v5.90h-1zM768.5 1085.65h1v5.90h-1zM769.5 1085.65h1v10.70h-1zM770.5 1090.45h1v5.90h-1zM771.5 1085.65h1v5.90h-1zM772.5 1085.65h3v10.70h-3zM775.5 1085.65h1v15.50h-1zM776.5 1085.65h2v10.70h-2zM778.5 1090.45h1v5.90h-1zM779.5 1085.65h1v15.50h-1zM780.5 1085.65h2v10.70h-2zM782.5 1085.65h1v5.90h-1zM783.5 1085.65h4v10.70h-4zM787.5 1090.45h1v5.90h-1zM788.5 1085.65h1v10.70h-1zM789.5 1090.45h1v5.90h-1zM790.5 1085.65h4v10.70h-4zM794.5 1090.45h2v5.90h-2zM796.5 1085.65h2v10.70h-2zM798.5 1090.45h1v1.10h-1zM799.5 1085.65h4v10.70h-4zM803.5 1090.45h1v5.90h-1zM804.5 1090.45h1v10.70h-1zM805.5 1090.45h1v1.10h-1zM806.5 1085.65h5v10.70h-5zM811.5 1090.45h1v5.90h-1zM812.5 1085.65h3v10.70h-3zM815.5 1085.65h1v15.50h-1zM816.5 1085.65h4v10.70h-4zM820.5 1080.85h1v15.50h-1zM821.5 1085.65h1v5.90h-1zM822.5 1090.45h1v5.90h-1zM823.5 1085.65h1v10.70h-1zM824.5 1090.45h1v5.90h-1zM825.5 1085.65h2v5.90h-2zM827.5 1085.65h1v10.70h-1zM828.5 1090.45h1v5.90h-1zM829.5 1085.65h1v10.70h-1zM830.5 1085.65h1v15.50h-1zM831.5 1085.65h1v10.70h-1zM832.5 1085.65h1v5.90h-1zM833.5 1085.65h2v10.70h-2zM835.5 1080.85h1v20.30h-1zM836.5 1090.45h1v5.90h-1zM837.5 1085.65h1v5.90h-1zM838.5 1085.65h1v10.70h-1zM839.5 1085.65h1v15.50h-1zM840.5 1085.65h6v10.70h-6zM846.5 1085.65h1v5.90h-1zM847.5 1085.65h1v10.70h-1zM848.5 1090.45h1v5.90h-1zM849.5 1085.65h2v10.70h-2zM851.5 1090.45h1v5.90h-1zM852.5 1085.65h2v10.70h-2zM854.5 1080.85h1v20.30h-1zM855.5 1085.65h1v5.90h-1zM856.5 1080.85h1v5.90h-1zM857.5 1080.85h1v10.70h-1zM858.5 1080.85h1v15.50h-1zM859.5 1080.85h1v10.70h-1zM860.5 1080.85h1v5.90h-1zM861.5 1080.85h1v10.70h-1zM862.5 1080.85h1v5.90h-1zM863.5 1080.85h2v10.70h-2zM865.5 1076.05h1v10.70h-1zM866.5 1080.85h3v10.70h-3zM869.5 1085.65h1v5.90h-1zM870.5 1080.85h3v10.70h-3zM873.5 1080.85h1v15.50h-1zM874.5 1080.85h4v10.70h-4zM878.5 1080.85h1v15.50h-1zM879.5 1085.65h1v5.90h-1zM880.5 1080.85h1v10.70h-1zM881.5 1080.85h1v5.90h-1zM882.5 1080.85h1v10.70h-1zM883.5 1085.65h1v5.90h-1zM884.5 1080.85h3v10.70h-3zM887.5 1085.65h1v5.90h-1zM888.5 1080.85h8v10.70h-8zM896.5 1076.05h1v15.50h-1zM897.5 1080.85h2v5.90h-2zM899.5 1080.85h1v10.70h-1zM900.5 1080.85h1v5.90h-1zM901.5 1085.65h1v5.90h-1zM902.5 1080.85h1v10.70h-1zM903.5 1085.65h1v5.90h-1zM904.5 1080.85h1v15.50h-1zM905.5 1080.85h2v10.70h-2zM907.5 1080.85h1v15.50h-1zM908.5 1080.85h6v10.70h-6zM914.5 1085.65h1v5.90h-1zM915.5 1080.85h1v10.70h-1zM916.5 1080.85h1v5.90h-1zM917.5 1080.85h3v10.70h-3zM920.5 1080.85h1v15.50h-1zM921.5 1080.85h1v5.90h-1zM922.5 1085.65h1v5.90h-1zM923.5 1085.65h1v10.70h-1zM924.5 1080.85h3v10.70h-3zM927.5 1080.85h1v5.90h-1zM928.5 1080.85h4v10.70h-4zM932.5 1085.65h1v10.70h-1zM933.5 1080.85h3v10.70h-3zM936.5 1076.05h1v15.50h-1zM937.5 1080.85h1v15.50h-1zM938.5 1080.85h1v10.70h-1zM939.5 1085.65h1v10.70h-1zM940.5 1085.65h1v5.90h-1zM941.5 1085.65h1v10.70h-1zM942.5 1080.85h1v10.70h-1zM943.5 1085.65h1v5.90h-1zM944.5 1080.85h2v10.70h-2zM946.5 1085.65h1v5.90h-1zM947.5 1080.85h1v5.90h-1zM948.5 1080.85h7v10.70h-7zM955.5 1085.65h1v10.70h-1zM956.5 1080.85h2v10.70h-2zM958.5 1085.65h1v5.90h-1zM959.5 1080.85h2v10.70h-2zM961.5 1076.05h4v10.70h-4zM965.5 1080.85h2v5.90h-2zM967.5 1076.05h1v10.70h-1zM968.5 1076.05h1v15.50h-1zM969.5 1080.85h1v5.90h-1zM970.5 1076.05h1v5.90h-1zM971.5 1076.05h2v10.70h-2zM973.5 1076.05h1v15.50h-1zM974.5 1071.25h1v15.50h-1zM975.5 1076.05h2v10.70h-2zM977.5 1080.85h1v5.90h-1zM978.5 1076.05h2v10.70h-2zM980.5 1080.85h1v5.90h-1zM981.5 1076.05h1v10.70h-1zM982.5 1080.85h2v5.90h-2zM984.5 1076.05h2v10.70h-2zM986.5 1076.05h1v5.90h-1zM987.5 1076.05h2v10.70h-2zM989.5 1080.85h1v5.90h-1zM990.5 1080.85h1v10.70h-1zM991.5 1080.85h1v5.90h-1zM992.5 1076.05h2v10.70h-2zM994.5 1071.25h1v15.50h-1zM995.5 1076.05h2v10.70h-2zM997.5 1080.85h1v10.70h-1zM998.5 1076.05h4v10.70h-4zM1002.5 1080.85h2v5.90h-2zM1004.5 1076.05h3v10.70h-3zM1007.5 1071.25h1v15.50h-1zM1008.5 1076.05h1v5.90h-1zM1009.5 1076.05h2v10.70h-2zM1011.5 1071.25h1v15.50h-1zM1012.5 1080.85h1v5.90h-1zM1013.5 1076.05h1v10.70h-1zM1014.5 1076.05h1v15.50h-1zM1015.5 1080.85h2v5.90h-2zM1017.5 1076.05h1v10.70h-1zM1018.5 1076.05h1v15.50h-1zM1019.5 1080.85h1v5.90h-1zM1020.5 1071.25h1v15.50h-1zM1021.5 1076.05h1v5.90h-1zM1022.5 1080.85h1v5.90h-1zM1023.5 1076.05h1v5.90h-1zM1024.5 1080.85h1v5.90h-1zM1025.5 1076.05h1v10.70h-1zM1026.5 1080.85h1v1.10h-1zM1027.5 1076.05h2v10.70h-2zM1029.5 1076.05h1v15.50h-1zM1030.5 1076.05h4v10.70h-4zM1034.5 1076.05h1v5.90h-1zM1035.5 1076.05h3v10.70h-3zM1038.5 1076.05h1v5.90h-1zM1039.5 1076.05h1v10.70h-1zM1040.5 1076.05h1v15.50h-1zM1041.5 1076.05h2v10.70h-2zM1043.5 1076.05h1v5.90h-1zM1044.5 1076.05h1v15.50h-1zM1045.5 1076.05h1v10.70h-1zM1046.5 1076.05h1v5.90h-1zM1047.5 1080.85h1v5.90h-1zM1048.5 1076.05h3v10.70h-3zM1051.5 1071.25h1v15.50h-1zM1052.5 1076.05h5v10.70h-5zM1057.5 1080.85h1v5.90h-1zM1058.5 1080.85h1v1.10h-1zM1059.5 1076.05h2v10.70h-2zM1061.5 1071.25h1v15.50h-1zM1062.5 1076.05h1v5.90h-1zM1063.5 1080.85h1v5.90h-1zM1064.5 1076.05h1v10.70h-1zM1065.5 1076.05h1v15.50h-1zM1066.5 1076.05h5v10.70h-5zM1071.5 1076.05h1v15.50h-1zM1072.5 1076.05h8v10.70h-8zM1080.5 1076.05h1v15.50h-1zM1081.5 1080.85h1v5.90h-1zM1082.5 1076.05h1v10.70h-1zM1083.5 1080.85h1v5.90h-1zM1084.5 1071.25h1v20.30h-1zM1085.5 1080.85h1v10.70h-1zM1086.5 1080.85h2v5.90h-2zM1088.5 1076.05h2v10.70h-2zM1090.5 1080.85h1v5.90h-1zM1091.5 1080.85h1v10.70h-1zM1092.5 1080.85h1v5.90h-1zM1093.5 1076.05h1v5.90h-1zM1094.5 1076.05h3v10.70h-3zM1097.5 1076.05h2v15.50h-2zM1099.5 1076.05h1v10.70h-1zM1100.5 1071.25h1v15.50h-1zM1101.5 1076.05h5v10.70h-5zM1106.5 1080.85h2v5.90h-2zM1108.5 1076.05h1v15.50h-1zM1109.5 1076.05h1v5.90h-1zM1110.5 1076.05h1v15.50h-1zM1111.5 1076.05h1v10.70h-1zM1112.5 1080.85h2v5.90h-2zM1114.5 1076.05h1v15.50h-1zM1115.5 1080.85h2v5.90h-2zM1117.5 1076.05h2v10.70h-2zM1119.5 1076.05h1v5.90h-1zM1120.5 1076.05h2v10.70h-2zM1122.5 1076.05h1v15.50h-1zM1123.5 1076.05h4v10.70h-4zM1127.5 1080.85h1v5.90h-1zM1128.5 1080.85h1v1.10h-1zM1129.5 1076.05h1v5.90h-1zM1130.5 1076.05h2v10.70h-2zM1132.5 1071.25h1v10.70h-1zM1133.5 1076.05h1v5.90h-1zM1134.5 1076.05h4v10.70h-4zM1138.5 1080.85h1v5.90h-1zM1139.5 1071.25h1v15.50h-1zM1140.5 1076.05h2v10.70h-2zM1142.5 1080.85h1v10.70h-1zM1143.5 1076.05h1v10.70h-1zM1144.5 1076.05h1v5.90h-1zM1145.5 1071.25h1v15.50h-1zM1146.5 1080.85h1v5.90h-1zM1147.5 1076.05h1v10.70h-1zM1148.5 1080.85h2v5.90h-2zM1150.5 1076.05h1v15.50h-1zM1151.5 1080.85h1v5.90h-1zM1152.5 1076.05h2v10.70h-2z" fill="#00ff00"/>
<path d="M165.5 1186.25h5v10.50h-5zM170.5 1186.25h1v5.80h-1zM171.5 1186.25h1v10.50h-1zM172.5 1186.25h1v5.80h-1zM173.5 1186.25h1v15.20h-1zM174.5 1186.25h2v5.80h-2zM176.5 1186.25h3v10.50h-3zM179.5 1181.55h1v15.20h-1zM180.5 1186.25h2v10.50h-2zM182.5 1190.95h1v5.80h-1zM183.5 1181.55h1v15.20h-1zM184.5 1190.95h1v5.80h-1zM185.5 1190.95h1v1.10h-1zM186.5 1186.25h2v10.50h-2zM188.5 1190.95h1v5.80h-1zM189.5 1186.25h2v10.50h-2zM191.5 1186.25h1v5.80h-1zM192.5 1181.55h1v15.20h-1zM193.5 1186.25h1v5.80h-1zM194.5 1186.25h1v10.50h-1zM195.5 1190.95h2v10.50h-2zM197.5 1190.95h1v5.80h-1zM198.5 1190.95h1v10.50h-1zM199.5 1186.25h1v10.50h-1zM200.5 1190.95h1v15.20h-1zM201.5 1190.95h1v5.80h-1zM202.5 1190.95h2v10.50h-2zM204.5 1186.25h1v10.50h-1zM205.5 1190.95h1v10.50h-1zM206.5 1186.25h1v10.50h-1zM207.5 1190.95h1v10.50h-1zM208.5 1190.95h2v5.80h-2zM210.5 1190.95h2v10.50h-2zM212.5 1186.25h1v15.20h-1zM213.5 1190.95h2v5.80h-2zM215.5 1186.25h1v10.50h-1zM216.5 1190.95h2v5.80h-2zM218.5 1190.95h2v10.50h-2zM220.5 1190.95h2v5.80h-2zM222.5 1190.95h1v15.20h-1zM223.5 1195.65h1v5.80h-1zM224.5 1195.65h2v10.50h-2zM226.5 1190.95h1v15.20h-1zM227.5 1195.65h1v5.80h-1zM228.5 1190.95h1v15.20h-1zM229.5 1195.65h2v10.50h-2zM231.5 1190.95h1v15.20h-1zM232.5 1195.65h1v10.50h-1zM233.5 1195.65h1v5.80h-1zM234.5 1200.35h1v5.80h-1zM235.5 1195.65h3v10.50h-3zM238.5 1195.65h1v5.80h-1zM239.5 1190.95h1v15.20h-1zM240.5 1195.65h3v10.50h-3zM243.5 1195.65h1v5.80h-1zM244.5 1195.65h2v10.50h-2zM246.5 1190.95h1v10.50h-1zM247.5 1195.65h1v10.50h-1zM248.5 1195.65h2v5.80h-2zM250.5 1195.65h1v10.50h-1zM251.5 1195.65h1v5.80h-1zM252.5 1200.35h2v5.80h-2zM254.5 1200.35h1v10.50h-1zM255.5 1200.35h2v5.80h-2zM257.5 1195.65h2v15.20h-2zM259.5 1200.35h1v10.50h-1zM260.5 1205.05h1v5.80h-1zM261.5 1200.35h1v10.50h-1zM262.5 1195.65h1v15.20h-1zM263.5 1200.35h2v10.50h-2zM265.5 1200.35h1v5.80h-1zM266.5 1200.35h2v10.50h-2zM268.5 1200.35h2v5.80h-2zM270.5 1200.35h1v15.20h-1zM271.5 1200.35h6v10.50h-6zM277.5 1195.65h1v15.20h-1zM278.5 1200.35h3v10.50h-3zM281.5 1205.05h1v10.50h-1zM282.5 1200.35h1v10.50h-1zM283.5 1195.65h2v15.20h-2zM285.5 1200.35h1v10.50h-1zM286.5 1200.35h1v5.80h-1zM287.5 1200.35h1v10.50h-1zM288.5 1200.35h1v5.80h-1zM289.5 1200.35h1v10.50h-1zM290.5 1200.35h1v15.20h-1zM291.5 1205.05h1v10.50h-1zM292.5 1200.35h1v15.20h-1zM293.5 1205.05h1v5.80h-1zM294.5 1205.05h2v10.50h-2zM296.5 1205.05h1v5.80h-1zM297.5 1205.05h4v10.50h-4zM301.5 1200.35h1v15.20h-1zM302.5 1205.05h1v15.20h-1zM303.5 1205.05h2v10.50h-2zM305.5 1209.75h1v5.80h-1zM306.5 1205.05h2v10.50h-2zM308.5 1205.05h2v5.80h-2zM310.5 1205.05h1v10.50h-1zM311.5 1209.75h1v5.80h-1zM312.5 1205.05h4v10.50h-4zM316.5 1209.75h1v10.50h-1zM317.5 1205.05h3v15.20h-3zM320.5 1209.75h3v10.50h-3zM323.5 1205.05h1v15.20h-1zM324.5 1209.75h2v10.50h-2zM326.5 1214.45h1v5.80h-1zM327.5 1209.75h1v15.20h-1zM328.5 1209.75h1v5.80h-1zM329.5 1205.05h1v15.20h-1zM330.5 1209.75h1v5.80h-1zM331.5 1205.05h1v10.50h-1zM332.5 1209.75h2v10.50h-2zM334.5 1205.05h1v19.90h-1zM335.5 1209.75h2v10.50h-2zM337.5 1205.05h1v15.20h-1zM338.5 1209.75h1v5.80h-1zM339.5 1205.05h1v15.20h-1zM340.5 1209.75h1v10.50h-1zM341.5 1205.05h1v10.50h-1zM342.5 1209.75h1v10.50h-1zM343.5 1209.75h1v5.80h-1zM344.5 1209.75h1v10.50h-1zM345.5 1214.45h2v5.80h-2zM347.5 1214.45h1v15.20h-1zM348.5 1214.45h1v10.50h-1zM349.5 1209.75h1v10.50h-1zM350.5 1214.45h5v10.50h-5zM355.5 1214.45h1v5.80h-1zM356.5 1214.45h2v10.50h-2zM358.5 1214.45h2v5.80h-2zM360.5 1209.75h2v10.50h-2zM362.5 1214.45h1v10.50h-1zM363.5 1209.75h2v10.50h-2zM365.5 1214.45h2v10.50h-2zM367.5 1209.75h1v10.50h-1zM368.5 1214.45h1v15.20h-1zM369.5 1214.45h1v5.80h-1zM370.5 1214.45h1v10.50h-1zM371.5 1209.75h1v10.50h-1zM372.5 1209.75h1v15.20h-1zM373.5 1214.45h1v10.50h-1zM374.5 1214.45h1v5.80h-1zM375.5 1214.45h1v10.50h-1zM376.5 1219.15h2v10.50h-2zM378.5 1223.85h1v5.80h-1zM379.5 1219.15h6v10.50h-6zM385.5 1219.15h1v5.80h-1zM386.5 1219.15h2v10.50h-2zM388.5 1219.15h1v5.80h-1zM389.5 1219.15h2v10.50h-2zM391.5 1219.15h1v5.80h-1zM392.5 1219.15h1v10.50h-1zM393.5 1219.15h1v15.20h-1zM394.5 1219.15h3v10.50h-3zM397.5 1214.45h1v15.20h-1zM398.5 1219.15h2v10.50h-2zM400.5 1219.15h1v15.20h-1zM401.5 1219.15h2v10.50h-2zM403.5 1219.15h1v15.20h-1zM404.5 1219.15h7v10.50h-7zM411.5 1219.15h1v15.20h-1zM412.5 1219.15h1v5.80h-1zM413.5 1219.15h3v10.50h-3zM416.5 1214.45h1v15.20h-1zM417.5 1219.15h1v15.20h-1zM418.5 1223.85h1v5.80h-1zM419.5 1219.15h1v5.80h-1zM420.5 1219.15h3v10.50h-3zM423.5 1223.85h1v5.80h-1zM424.5 1219.15h1v10.50h-1zM425.5 1223.85h1v5.80h-1zM426.5 1219.15h1v10.50h-1zM427.5 1214.45h1v15.20h-1zM428.5 1219.15h3v10.50h-3zM431.5 1219.15h2v5.80h-2zM433.5 1219.15h1v10.50h-1zM434.5 1219.15h1v15.20h-1zM435.5 1219.15h1v10.50h-1zM436.5 1219.15h1v5.80h-1zM437.5 1219.15h2v10.50h-2zM439.5 1219.15h2v5.80h-2zM441.5 1219.15h2v10.50h-2zM443.5 1219.15h1v5.80h-1zM444.5 1219.15h6v10.50h-6zM450.5 1223.85h1v5.80h-1zM451.5 1219.15h1v10.50h-1zM452.5 1223.85h1v5.80h-1zM453.5 1219.15h2v5.80h-2zM455.5 1219.15h1v10.50h-1zM456.5 1223.85h1v5.80h-1zM457.5 1219.15h3v10.50h-3zM460.5 1219.15h1v5.80h-1zM461.5 1219.15h1v10.50h-1zM462.5 1223.85h2v5.80h-2zM464.5 1219.15h2v5.80h-2zM466.5 1223.85h1v5.80h-1zM467.5 1219.15h1v10.50h-1zM468.5 1214.45h1v15.20h-1zM469.5 1219.15h1v10.50h-1zM470.5 1219.15h1v15.20h-1zM471.5 1219.15h3v10.50h-3zM474.5 1219.15h1v15.20h-1zM475.5 1223.85h1v5.80h-1zM476.5 1219.15h2v10.50h-2zM478.5 1214.45h1v10.50h-1zM479.5 1219.15h2v10.50h-2zM481.5 1214.45h1v15.20h-1zM482.5 1219.15h2v10.50h-2zM484.5 1219.15h1v5.80h-1zM485.5 1219.15h1v15.20h-1zM486.5 1219.15h2v10.50h-2zM488.5 1223.85h2v5.80h-2zM490.5 1219.15h1v5.80h-1zM491.5 1219.15h1v10.50h-1zM492.5 1219.15h1v15.20h-1zM493.5 1219.15h3v10.50h-3zM496.5 1219.15h1v15.20h-1zM497.5 1219.15h3v10.50h-3zM500.5 1223.85h1v10.50h-1zM501.5 1219.15h1v5.80h-1zM502.5 1214.45h1v15.20h-1zM503.5 1219.15h1v5.80h-1zM504.5 1219.15h4v10.50h-4zM508.5 1214.45h1v10.50h-1zM509.5 1214.45h1v15.20h-1zM510.5 1219.15h1v5.80h-1zM511.5 1219.15h1v10.50h-1zM512.5 1219.15h1v15.20h-1zM513.5 1214.45h1v10.50h-1zM514.5 1219.15h2v5.80h-2zM516.5 1219.15h1v10.50h-1zM517.5 1214.45h1v10.50h-1zM518.5 1214.45h1v15.20h-1zM519.5 1214.45h1v10.50h-1zM520.5 1219.15h1v5.80h-1zM521.5 1219.15h1v10.50h-1zM522.5 1214.45h1v10.50h-1zM523.5 1219.15h1v5.80h-1zM524.5 1219.15h1v10.50h-1zM525.5 1219.15h1v5.80h-1zM526.5 1214.45h1v19.90h-1zM527.5 1219.15h1v5.80h-1zM528.5 1214.45h1v10.50h-1zM529.5 1219.15h1v10.50h-1zM530.5 1219.15h1v5.80h-1zM531.5 1214.45h1v15.20h-1zM532.5 1219.15h1v5.80h-1zM533.5 1219.15h3v10.50h-3zM536.5 1219.15h1v5.80h-1zM537.5 1214.45h2v15.20h-2zM539.5 1219.15h2v5.80h-2zM541.5 1214.45h1v10.50h-1zM542.5 1219.15h1v10.50h-1zM543.5 1214.45h1v10.50h-1zM544.5 1219.15h2v5.80h-2zM546.5 1219.15h1v10.50h-1zM547.5 1219.15h1v5.80h-1zM548.5 1214.45h2v15.20h-2zM550.5 1214.45h1v10.50h-1zM551.5 1214.45h1v5.80h-1zM552.5 1214.45h5v10.50h-5zM557.5 1214.45h1v5.80h-1zM558.5 1214.45h3v10.50h-3zM561.5 1219.15h1v5.80h-1zM562.5 1214.45h1v10.50h-1zM563.5 1219.15h1v1.10h-1zM564.5 1214.45h4v5.80h-4zM568.5 1214.45h3v10.50h-3zM571.5 1209.75h1v15.20h-1zM572.5 1214.45h3v10.50h-3zM575.5 1219.15h1v5.80h-1zM576.5 1214.45h1v10.50h-1zM577.5 1205.05h1v19.90h-1zM578.5 1209.75h1v10.50h-1zM579.5 1214.45h8v10.50h-8zM587.5 1219.15h1v5.80h-1zM588.5 1214.45h2v10.50h-2zM590.5 1214.45h1v5.80h-1zM591.5 1214.45h3v10.50h-3zM594.5 1219.15h1v1.10h-1zM595.5 1214.45h2v10.50h-2zM597.5 1214.45h1v5.80h-1zM598.5 1214.45h1v10.50h-1zM599.5 1209.75h1v19.90h-1zM600.5 1219.15h1v5.80h-1zM601.5 1214.45h6v10.50h-6zM607.5 1209.75h1v15.20h-1zM608.5 1214.45h1v5.80h-1zM609.5 1209.75h2v15.20h-2zM611.5 1209.75h2v10.50h-2zM613.5 1214.45h1v5.80h-1zM614.5 1214.45h1v10.50h-1zM615.5 1214.45h1v5.80h-1zM616.5 1209.75h1v10.50h-1zM617.5 1214.45h1v5.80h-1zM618.5 1209.75h1v15.20h-1zM619.5 1214.45h1v10.50h-1zM620.5 1209.75h1v15.20h-1zM621.5 1214.45h1v10.50h-1zM622.5 1214.45h1v5.80h-1zM623.5 1214.45h2v10.50h-2zM625.5 1214.45h1v5.80h-1zM626.5 1209.75h1v10.50h-1zM627.5 1214.45h1v5.80h-1zM628.5 1209.75h1v15.20h-1zM629.5 1214.45h1v5.80h-1zM630.5 1209.75h1v10.50h-1zM631.5 1214.45h4v5.80h-4zM635.5 1209.75h1v15.20h-1zM636.5 1209.75h2v10.50h-2zM638.5 1214.45h1v10.50h-1zM639.5 1214.45h1v5.80h-1zM640.5 1209.75h2v10.50h-2zM642.5 1214.45h2v10.50h-2zM644.5 1214.45h1v5.80h-1zM645.5 1214.45h1v10.50h-1zM646.5 1214.45h1v5.80h-1zM647.5 1209.75h1v10.50h-1zM648.5 1214.45h1v5.80h-1zM649.5 1209.75h2v10.50h-2zM651.5 1214.45h1v5.80h-1zM652.5 1209.75h1v15.20h-1zM653.5 1214.45h1v10.50h-1zM654.5 1214.45h1v5.80h-1zM655.5 1209.75h1v15.20h-1zM656.5 1214.45h3v10.50h-3zM659.5 1214.45h1v15.20h-1zM660.5 1214.45h6v5.80h-6zM666.5 1214.45h4v10.50h-4zM670.5 1219.15h1v1.10h-1zM671.5 1209.75h2v15.20h-2zM673.5 1214.45h2v5.80h-2zM675.5 1209.75h1v15.20h-1zM676.5 1209.75h2v10.50h-2zM678.5 1209.75h1v15.20h-1zM679.5 1209.75h3v10.50h-3zM682.5 1214.45h1v5.80h-1zM683.5 1214.45h2v10.50h-2zM685.5 1209.75h1v10.50h-1zM686.5 1205.05h1v10.50h-1zM687.5 1209.75h2v10.50h-2zM689.5 1214.45h1v10.50h-1zM690.5 1209.75h8v10.50h-8zM698.5 1214.45h1v5.80h-1zM699.5 1209.75h1v5.80h-1zM700.5 1209.75h1v10.50h-1zM701.5 1214.45h1v1.10h-1zM702.5 1209.75h2v5.80h-2zM704.5 1209.75h1v10.50h-1zM705.5 1209.75h1v15.20h-1zM706.5 1209.75h2v10.50h-2zM708.5 1205.05h1v15.20h-1zM709.5 1209.75h1v15.20h-1zM710.5 1209.75h1v5.80h-1zM711.5 1214.45h1v5.80h-1zM712.5 1209.75h1v10.50h-1zM713.5 1209.75h1v5.80h-1zM714.5 1214.45h1v5.80h-1zM715.5 1209.75h2v10.50h-2zM717.5 1214.45h2v1.10h-2zM719.5 1209.75h2v10.50h-2zM721.5 1209.75h1v5.80h-1zM722.5 1209.75h1v10.50h-1zM723.5 1209.75h1v5.80h-1zM724.5 1209.75h5v10.50h-5zM729.5 1214.45h1v5.80h-1zM730.5 1209.75h1v10.50h-1zM731.5 1214.45h1v1.10h-1zM732.5 1209.75h7v10.50h-7zM739.5 1205.05h1v15.20h-1zM740.5 1209.75h1v10.50h-1zM741.5 1205.05h1v10.50h-1zM742.5 1209.75h2v15.20h-2zM744.5 1209.75h1v10.50h-1zM745.5 1214.45h1v10.50h-1zM746.5 1209.75h1v5.80h-1zM747.5 1214.45h1v5.80h-1zM748.5 1209.75h1v5.80h-1zM749.5 1209.75h2v10.50h-2zM751.5 1209.75h1v5.80h-1zM752.5 1209.75h1v10.50h-1zM753.5 1214.45h1v5.80h-1zM754.5 1209.75h1v10.50h-1zM755.5 1214.45h1v5.80h-1zM756.5 1209.75h2v10.50h-2zM758.5 1209.75h1v5.80h-1zM759.5 1209.75h3v10.50h-3zM762.5 1205.05h1v10.50h-1zM763.5 1209.75h1v10.50h-1zM764.5 1209.75h1v5.80h-1zM765.5 1205.05h1v10.50h-1zM766.5 1209.75h2v5.80h-2zM768.5 1205.05h2v10.50h-2zM770.5 1205.05h1v5.80h-1zM771.5 1205.05h1v10.50h-1zM772.5 1209.75h1v5.80h-1zM773.5 1205.05h4v10.50h-4zM777.5 1209.75h1v5.80h-1zM778.5 1205.05h2v10.50h-2zM780.5 1209.75h1v5.80h-1zM781.5 1205.05h1v10.50h-1zM782.5 1209.75h2v5.80h-2zM784.5 1205.05h1v15.20h-1zM785.5 1205.05h1v10.50h-1zM786.5 1209.75h1v5.80h-1zM787.5 1205.05h1v10.50h-1zM788.5 1209.75h1v5.80h-1zM789.5 1205.05h1v15.20h-1zM790.5 1205.05h3v10.50h-3zM793.5 1205.05h1v19.90h-1zM794.5 1205.05h1v10.50h-1zM795.5 1209.75h1v10.50h-1zM796.5 1205.05h2v15.20h-2zM798.5 1209.75h2v5.80h-2zM800.5 1205.05h1v15.20h-1zM801.5 1209.75h1v5.80h-1zM802.5 1205.05h1v10.50h-1zM803.5 1200.35h1v15.20h-1zM804.5 1205.05h1v15.20h-1zM805.5 1205.05h4v10.50h-4zM809.5 1200.35h1v15.20h-1zM810.5 1205.05h1v10.50h-1zM811.5 1205.05h1v5.80h-1zM812.5 1205.05h1v15.20h-1zM813.5 1205.05h2v10.50h-2zM815.5 1209.75h2v5.80h-2zM817.5 1205.05h2v10.50h-2zM819.5 1205.05h1v5.80h-1zM820.5 1200.35h3v10.50h-3zM823.5 1205.05h1v5.80h-1zM824.5 1200.35h1v10.50h-1zM825.5 1200.35h1v5.80h-1zM826.5 1200.35h1v15.20h-1zM827.5 1200.35h2v10.50h-2zM829.5 1205.05h1v5.80h-1zM830.5 1200.35h2v10.50h-2zM832.5 1200.35h1v15.20h-1zM833.5 1200.35h4v10.50h-4zM837.5 1200.35h1v15.20h-1zM838.5 1200.35h2v10.50h-2zM840.5 1195.65h1v15.20h-1zM841.5 1205.05h1v5.80h-1zM842.5 1200.35h2v10.50h-2zM844.5 1190.95h1v19.90h-1zM845.5 1205.05h1v5.80h-1zM846.5 1200.35h1v15.20h-1zM847.5 1200.35h3v10.50h-3zM850.5 1205.05h1v5.80h-1zM851.5 1195.65h1v10.50h-1zM852.5 1200.35h2v10.50h-2zM854.5 1205.05h1v5.80h-1zM855.5 1200.35h4v10.50h-4zM859.5 1200.35h1v5.80h-1zM860.5 1200.35h9v10.50h-9zM869.5 1205.05h1v5.80h-1zM870.5 1205.05h1v10.50h-1zM871.5 1200.35h2v10.50h-2zM873.5 1205.05h1v10.50h-1zM874.5 1200.35h2v10.50h-2zM876.5 1205.05h1v10.50h-1zM877.5 1200.35h1v10.50h-1zM878.5 1205.05h1v5.80h-1zM879.5 1200.35h1v5.80h-1zM880.5 1205.05h2v5.80h-2zM882.5 1200.35h1v15.20h-1zM883.5 1200.35h1v5.80h-1zM884.5 1200.35h1v10.50h-1zM885.5 1205.05h5v5.80h-5zM890.5 1200.35h1v5.80h-1zM891.5 1205.05h1v5.80h-1zM892.5 1200.35h7v10.50h-7zM899.5 1195.65h1v19.90h-1zM900.5 1200.35h3v10.50h-3zM903.5 1205.05h1v10.50h-1zM904.5 1200.35h3v10.50h-3zM907.5 1195.65h1v15.20h-1zM908.5 1205.05h1v5.80h-1zM909.5 1200.35h1v10.50h-1zM910.5 1205.05h2v5.80h-2zM912.5 1200.35h1v10.50h-1zM913.5 1200.35h1v5.80h-1zM914.5 1205.05h2v5.80h-2zM916.5 1200.35h3v10.50h-3zM919.5 1195.65h1v10.50h-1zM920.5 1205.05h1v5.80h-1zM921.5 1200.35h2v10.50h-2zM923.5 1200.35h1v15.20h-1zM924.5 1200.35h1v10.50h-1zM925.5 1195.65h2v10.50h-2zM927.5 1200.35h1v5.80h-1zM928.5 1195.65h3v10.50h-3zM931.5 1200.35h1v5.80h-1zM932.5 1195.65h2v15.20h-2zM934.5 1195.65h3v10.50h-3zM937.5 1195.65h1v5.80h-1zM938.5 1195.65h5v10.50h-5zM943.5 1200.35h2v5.80h-2zM945.5 1195.65h1v10.50h-1zM946.5 1195.65h1v5.80h-1zM947.5 1200.35h1v5.80h-1zM948.5 1200.35h1v1.10h-1zM949.5 1200.35h1v5.80h-1zM950.5 1195.65h2v10.50h-2zM952.5 1200.35h1v5.80h-1zM953.5 1195.65h1v10.50h-1zM954.5 1195.65h1v15.20h-1zM955.5 1200.35h1v5.80h-1zM956.5 1195.65h1v10.50h-1zM957.5 1200.35h2v5.80h-2zM959.5 1200.35h1v1.10h-1zM960.5 1195.65h1v10.50h-1zM961.5 1190.95h9v10.50h-9zM970.5 1195.65h1v5.80h-1zM971.5 1190.95h1v10.50h-1zM972.5 1195.65h1v5.80h-1zM973.5 1190.95h1v10.50h-1zM974.5 1190.95h1v15.20h-1zM975.5 1190.95h4v10.50h-4zM979.5 1190.95h1v5.80h-1zM980.5 1190.95h1v10.50h-1zM981.5 1195.65h2v5.80h-2zM983.5 1190.95h1v15.20h-1zM984.5 1190.95h2v10.50h-2zM986.5 1195.65h1v5.80h-1zM987.5 1190.95h1v5.80h-1zM988.5 1190.95h1v10.50h-1zM989.5 1195.65h2v5.80h-2zM991.5 1195.65h1v10.50h-1zM992.5 1190.95h2v10.50h-2zM994.5 1195.65h2v5.80h-2zM996.5 1190.95h8v10.50h-8zM1004.5 1190.95h1v5.80h-1zM1005.5 1195.65h1v5.80h-1zM1006.5 1190.95h1v10.50h-1zM1007.5 1195.65h1v5.80h-1zM1008.5 1190.95h2v5.80h-2zM1010.5 1190.95h1v15.20h-1zM1011.5 1190.95h2v10.50h-2zM1013.5 1195.65h1v5.80h-1zM1014.5 1190.95h2v5.80h-2zM1016.5 1186.25h1v15.20h-1zM1017.5 1190.95h1v5.80h-1zM1018.5 1186.25h1v10.50h-1zM1019.5 1190.95h1v10.50h-1zM1020.5 1186.25h1v10.50h-1zM1021.5 1190.95h1v5.80h-1zM1022.5 1190.95h1v10.50h-1zM1023.5 1186.25h2v10.50h-2zM1025.5 1190.95h1v10.50h-1zM1026.5 1186.25h2v10.50h-2zM1028.5 1190.95h2v5.80h-2zM1030.5 1186.25h1v10.50h-1zM1031.5 1190.95h1v10.50h-1zM1032.5 1186.25h2v10.50h-2zM1034.5 1190.95h1v5.80h-1zM1035.5 1186.25h2v10.50h-2zM1037.5 1190.95h1v5.80h-1zM1038.5 1186.25h1v10.50h-1zM1039.5 1186.25h1v15.20h-1zM1040.5 1190.95h2v5.80h-2zM1042.5 1186.25h1v5.80h-1zM1043.5 1190.95h1v10.50h-1zM1044.5 1186.25h2v10.50h-2zM1046.5 1190.95h2v5.80h-2zM1048.5 1186.25h4v10.50h-4zM1052.5 1186.25h1v15.20h-1zM1053.5 1190.95h1v10.50h-1zM1054.5 1186.25h1v10.50h-1zM1055.5 1190.95h1v5.80h-1zM1056.5 1186.25h1v10.50h-1zM1057.5 1190.95h3v5.80h-3zM1060.5 1186.25h2v10.50h-2zM1062.5 1190.95h2v5.80h-2zM1064.5 1181.55h1v19.90h-1zM1065.5 1186.25h3v10.50h-3zM1068.5 1190.95h1v5.80h-1zM1069.5 1186.25h2v10.50h-2zM1071.5 1186.25h1v15.20h-1zM1072.5 1190.95h2v5.80h-2zM1074.5 1186.25h4v10.50h-4zM1078.5 1190.95h1v10.50h-1zM1079.5 1190.95h1v5.80h-1zM1080.5 1190.95h1v15.20h-1zM1081.5 1186.25h1v10.50h-1zM1082.5 1190.95h1v5.80h-1zM1083.5 1186.25h1v15.20h-1zM1084.5 1190.95h2v5.80h-2zM1086.5 1186.25h1v10.50h-1zM1087.5 1190.95h1v10.50h-1zM1088.5 1186.25h1v15.20h-1zM1089.5 1190.95h1v10.50h-1zM1090.5 1190.95h2v5.80h-2zM1092.5 1190.95h1v10.50h-1zM1093.5 1190.95h4v5.80h-4zM1097.5 1186.25h1v10.50h-1zM1098.5 1186.25h2v15.20h-2zM1100.5 1190.95h2v10.50h-2zM1102.5 1186.25h1v10.50h-1zM1103.5 1186.25h1v15.20h-1zM1104.5 1186.25h1v10.50h-1zM1105.5 1186.25h1v15.20h-1zM1106.5 1190.95h1v5.80h-1zM1107.5 1186.25h1v10.50h-1zM1108.5 1190.95h1v5.80h-1zM1109.5 1186.25h1v10.50h-1zM1110.5 1190.95h4v5.80h-4zM1114.5 1186.25h1v10.50h-1zM1115.5 1190.95h1v5.80h-1zM1116.5 1190.95h1v10.50h-1zM1117.5 1186.25h1v10.50h-1zM1118.5 1181.55h1v19.90h-1zM1119.5 1190.95h1v5.80h-1zM1120.5 1186.25h1v15.20h-1zM1121.5 1190.95h1v5.80h-1zM1122.5 1186.25h1v10.50h-1zM1123.5 1190.95h1v5.80h-1zM1124.5 1186.25h2v10.50h-2zM1126.5 1190.95h3v5.80h-3zM1129.5 1186.25h1v15.20h-1zM1130.5 1190.95h1v5.80h-1zM1131.5 1186.25h1v5.80h-1zM1132.5 1186.25h1v15.20h-1zM1133.5 1186.25h1v10.50h-1zM1134.5 1190.95h1v5.80h-1zM1135.5 1186.25h1v15.20h-1zM1136.5 1190.95h1v5.80h-1zM1137.5 1186.25h1v15.20h-1zM1138.5 1190.95h1v5.80h-1zM1139.5 1186.25h1v15.20h-1zM1140.5 1190.95h1v5.80h-1zM1141.5 1190.95h2v10.50h-2zM1143.5 1186.25h1v10.50h-1zM1144.5 1190.95h3v5.80h-3zM1147.5 1186.25h2v10.50h-2zM1149.5 1190.95h1v5.80h-1zM1150.5 1181.55h1v19.90h-1zM1151.5 1186.25h1v10.50h-1zM1152.5 1190.95h1v10.50h-1zM1153.5 1190.95h1v5.80h-1z" fill="#ffff00"/>
<rect x="165.5" y="1072.5" width="989" height="161" fill="none" stroke="#262626" stroke-width="1" shape-rendering="crispEdges"/>
<line x1="269.5" y1="1233.5" x2="269.5" y2="1223" stroke="#262626" stroke-width="1" shape-rendering="crispEdges"/>
<line x1="269.5" y1="1072.5" x2="269.5" y2="1083" stroke="#262626" stroke-width="1" shape-rendering="crispEdges"/>
<line x1="556.5" y1="1233.5" x2="556.5" y2="1223" stroke="#262626" stroke-width="1" shape-rendering="crispEdges"/>
<line x1="556.5" y1="1072.5" x2="556.5" y2="1083" stroke="#262626" stroke-width="1" shape-rendering="crispEdges"/>
<line x1="843.5" y1="1233.5" x2="843.5" y2="1223" stroke="#262626" stroke-width="1" shape-rendering="crispEdges"/>
<line x1="843.5" y1="1072.5" x2="843.5" y2="1083" stroke="#262626" stroke-width="1" shape-rendering="crispEdges"/>
<line x1="1130.5" y1="1233.5" x2="1130.5" y2="1223" stroke="#262626" stroke-width="1" shape-rendering="crispEdges"/>
<line x1="1130.5" y1="1072.5" x2="1130.5" y2="1083" stroke="#262626" stroke-width="1" shape-rendering="crispEdges"/>
<line x1="165.5" y1="1084.5" x2="176" y2="1084.5" stroke="#262626" stroke-width="1" shape-rendering="crispEdges"/>
<line x1="1154.5" y1="1084.5" x2="1144" y2="1084.5" stroke="#262626" stroke-width="1" shape-rendering="crispEdges"/>
<line x1="165.5" y1="1120.5" x2="176" y2="1120.5" stroke="#262626" stroke-width="1" shape-rendering="crispEdges"/>
<line x1="1154.5" y1="1120.5" x2="1144" y2="1120.5" stroke="#262626" stroke-width="1" shape-rendering="crispEdges"/>
<line x1="165.5" y1="1156.5" x2="176" y2="1156.5" stroke="#262626" stroke-width="1" shape-rendering="crispEdges"/>
<line x1="1154.5" y1="1156.5" x2="1144" y2="1156.5" stroke="#262626" stroke-width="1" shape-rendering="crispEdges"/>
<line x1="165.5" y1="1192.5" x2="176" y2="1192.5" stroke="#262626" stroke-width="1" shape-rendering="crispEdges"/>
<line x1="1154.5" y1="1192.5" x2="1144" y2="1192.5" stroke="#262626" stroke-width="1" shape-rendering="crispEdges"/>
<line x1="165.5" y1="1228.5" x2="176" y2="1228.5" stroke="#262626" stroke-width="1" shape-rendering="crispEdges"/>
<line x1="1154.5" y1="1228.5" x2="1144" y2="1228.5" stroke="#262626" stroke-width="1" shape-rendering="crispEdges"/>
<text x="155.6" y="1091.4" font-family="'DejaVu Sans', 'Liberation Sans', sans-serif" font-size="21.2" font-weight="normal" text-anchor="end" fill="#262626">2</text>
<text x="155.6" y="1127.4" font-family="'DejaVu Sans', 'Liberation Sans', sans-serif" font-size="21.2" font-weight="normal" text-anchor="end" fill="#262626">0</text>
<text x="155.6" y="1163.4" font-family="'DejaVu Sans', 'Liberation Sans', sans-serif" font-size="21.2" font-weight="normal" text-anchor="end" fill="#262626">-2</text>
<text x="155.6" y="1199.4" font-family="'DejaVu Sans', 'Liberation Sans', sans-serif" font-size="21.2" font-weight="normal" text-anchor="end" fill="#262626">-4</text>
<text x="155.6" y="1235.4" font-family="'DejaVu Sans', 'Liberation Sans', sans-serif" font-size="21.2" font-weight="normal" text-anchor="end" fill="#262626">-6</text>
<text x="99" y="1153" font-family="'DejaVu Sans', 'Liberation Sans', sans-serif" font-size="18.75" font-weight="bold" text-anchor="middle" fill="#262626" transform="rotate(-90 99 1153)">Temperature</text>
<text x="124" y="1153" font-family="'DejaVu Sans', 'Liberation Sans', sans-serif" font-size="18.75" font-weight="bold" text-anchor="middle" fill="#262626" transform="rotate(-90 124 1153)">(°C)</text>
<text x="1170" y="1176.5" font-family="'DejaVu Sans', 'Liberation Sans', sans-serif" font-size="14.58" font-weight="bold" text-anchor="start" fill="#000" transform="rotate(-90 1170 1176.5)">Inboard EBox</text>
<text x="1182.3" y="1192.3" font-family="'DejaVu Sans', 'Liberation Sans', sans-serif" font-size="14.58" font-weight="bold" text-anchor="start" fill="#000" transform="rotate(-90 1182.3 1192.3)">Inboard Sensor</text>
<text x="1194.6" y="1192.3" font-family="'DejaVu Sans', 'Liberation Sans', sans-serif" font-size="14.58" font-weight="bold" text-anchor="start" fill="#000" transform="rotate(-90 1194.6 1192.3)">Outboard EBox</text>
<text x="1205.3" y="1212.4" font-family="'DejaVu Sans', 'Liberation Sans', sans-serif" font-size="14.58" font-weight="bold" text-anchor="start" fill="#000" transform="rotate(-90 1205.3 1212.4)">Outboard Sensor</text>
<line x1="1167.9" y1="1234" x2="1167.9" y2="1248.5" stroke="#0000ff" stroke-width="1.6"/>
<line x1="1179.6" y1="1234" x2="1179.6" y2="1248.5" stroke="#00ffff" stroke-width="1.6"/>
<line x1="1191.7" y1="1234" x2="1191.7" y2="1248.5" stroke="#00ff00" stroke-width="1.6"/>
<line x1="1203" y1="1234" x2="1203" y2="1248.5" stroke="#ffff00" stroke-width="1.6"/>
<line x1="412.5" y1="1308.5" x2="412.5" y2="1469.5" stroke="#dedede" stroke-width="1" shape-rendering="crispEdges"/>
<line x1="660.5" y1="1308.5" x2="660.5" y2="1469.5" stroke="#dedede" stroke-width="1" shape-rendering="crispEdges"/>
<line x1="907.5" y1="1308.5" x2="907.5" y2="1469.5" stroke="#dedede" stroke-width="1" shape-rendering="crispEdges"/>
<line x1="165.5" y1="1388.5" x2="1154.5" y2="1388.5" stroke="#dedede" stroke-width="1" shape-rendering="crispEdges"/>
<rect x="165.5" y="1426.7" width="989" height="1.2" fill="#0000ff"/>
<path d="M410.0 1423.0h3.0v4.5h-3.0zM413.5 1423.0h2.0v4.5h-2.0zM416.0 1423.0h1.5v4.5h-1.5zM418.0 1423.0h3.5v4.5h-3.5zM422.0 1423.0h2.0v4.5h-2.0zM425.5 1423.0h5.5v4.5h-5.5zM431.5 1423.0h1.5v4.5h-1.5zM433.5 1423.0h4.0v4.5h-4.0zM438.0 1423.0h6.0v4.5h-6.0zM444.5 1423.0h8.5v4.5h-8.5zM453.5 1423.0h8.0v4.5h-8.0zM462.0 1423.0h1.5v4.5h-1.5zM464.0 1423.0h5.5v4.5h-5.5zM470.0 1423.0h0.5v4.5h-0.5zM471.0 1423.0h5.0v4.5h-5.0zM477.5 1423.0h4.0v4.5h-4.0zM482.0 1423.0h3.0v4.5h-3.0zM485.5 1423.0h10.5v4.5h-10.5zM497.5 1423.0h1.0v4.5h-1.0zM499.0 1423.0h1.0v4.5h-1.0z" fill="#0000ff"/>
<path d="M501.0 1423.0h0.5v4.5h-0.5zM506.0 1423.0h1.0v4.5h-1.0zM508.5 1423.0h0.5v4.5h-0.5zM511.5 1423.0h0.5v4.5h-0.5zM517.0 1423.0h0.5v4.5h-0.5zM522.5 1423.0h0.5v4.5h-0.5zM524.0 1423.0h1.0v4.5h-1.0zM525.5 1423.0h0.5v4.5h-0.5z" fill="#0000ff"/>
<rect x="933.4" y="1427.3" width="212.4" height="4.5" fill="#0000ff"/>
<rect x="165.5" y="1383.7" width="989" height="1.1" fill="#00ffff"/>
<path d="M165.5 1384.0h1.5v8.2h-1.5zM170.0 1384.0h3.0v8.2h-3.0zM174.5 1384.0h9.0v8.2h-9.0zM185.0 1384.0h6.0v8.2h-6.0zM195.5 1384.0h3.0v8.2h-3.0zM200.0 1384.0h9.0v8.2h-9.0zM212.0 1384.0h1.5v8.2h-1.5zM215.0 1384.0h6.0v8.2h-6.0zM225.5 1384.0h6.0v8.2h-6.0zM233.0 1384.0h6.0v8.2h-6.0zM240.5 1384.0h3.0v8.2h-3.0zM246.5 1384.0h1.5v8.2h-1.5zM254.0 1384.0h1.5v8.2h-1.5zM258.5 1384.0h3.0v8.2h-3.0zM264.5 1384.0h1.5v8.2h-1.5zM267.5 1384.0h1.5v8.2h-1.5zM270.5 1384.0h3.0v8.2h-3.0zM276.5 1384.0h1.5v8.2h-1.5zM279.5 1384.0h3.0v8.2h-3.0zM287.0 1384.0h1.5v8.2h-1.5zM296.0 1384.0h1.5v8.2h-1.5zM299.0 1384.0h4.5v8.2h-4.5zM306.5 1384.0h1.5v8.2h-1.5zM311.0 1384.0h1.5v8.2h-1.5zM314.0 1384.0h1.5v8.2h-1.5zM320.0 1384.0h7.5v8.2h-7.5zM329.0 1384.0h1.5v8.2h-1.5zM332.0 1384.0h1.5v8.2h-1.5zM336.5 1384.0h4.5v8.2h-4.5zM342.5 1384.0h1.5v8.2h-1.5zM345.5 1384.0h4.5v8.2h-4.5zM353.0 1384.0h7.5v8.2h-7.5zM362.0 1384.0h1.5v8.2h-1.5zM365.0 1384.0h3.0v8.2h-3.0zM369.5 1384.0h6.0v8.2h-6.0zM377.0 1384.0h3.0v8.2h-3.0zM381.5 1384.0h9.0v8.2h-9.0zM393.5 1384.0h4.5v8.2h-4.5zM399.5 1384.0h3.0v8.2h-3.0zM404.0 1384.0h1.5v8.2h-1.5zM407.0 1384.0h1.5v8.2h-1.5zM411.5 1384.0h4.5v8.2h-4.5zM417.5 1384.0h1.5v8.2h-1.5zM420.5 1384.0h1.5v8.2h-1.5zM425.0 1384.0h1.5v8.2h-1.5zM428.0 1384.0h1.5v8.2h-1.5zM432.5 1384.0h1.5v8.2h-1.5zM435.5 1384.0h1.5v8.2h-1.5zM438.5 1384.0h1.5v8.2h-1.5zM441.5 1384.0h7.5v8.2h-7.5zM450.5 1384.0h7.5v8.2h-7.5zM461.0 1384.0h1.5v8.2h-1.5zM470.0 1384.0h4.5v8.2h-4.5zM476.0 1384.0h3.0v8.2h-3.0zM482.0 1384.0h4.5v8.2h-4.5zM489.5 1384.0h1.5v8.2h-1.5zM492.5 1384.0h1.5v8.2h-1.5zM497.0 1384.0h1.5v8.2h-1.5zM500.0 1384.0h1.5v8.2h-1.5zM503.0 1384.0h1.5v8.2h-1.5zM509.0 1384.0h3.0v8.2h-3.0zM516.5 1384.0h1.5v8.2h-1.5zM519.5 1384.0h3.0v8.2h-3.0zM527.0 1384.0h4.5v8.2h-4.5zM533.0 1384.0h12.0v8.2h-12.0zM546.5 1384.0h3.0v8.2h-3.0zM558.5 1384.0h3.0v8.2h-3.0zM563.0 1384.0h3.0v8.2h-3.0zM567.5 1384.0h6.0v8.2h-6.0zM576.5 1384.0h12.0v8.2h-12.0zM590.0 1384.0h12.0v8.2h-12.0zM609.5 1384.0h1.5v8.2h-1.5zM615.5 1384.0h1.5v8.2h-1.5zM620.0 1384.0h1.5v8.2h-1.5zM623.0 1384.0h1.5v8.2h-1.5zM627.5 1384.0h6.0v8.2h-6.0zM635.0 1384.0h1.5v8.2h-1.5zM639.5 1384.0h4.5v8.2h-4.5zM647.0 1384.0h4.5v8.2h-4.5zM653.0 1384.0h1.5v8.2h-1.5zM656.0 1384.0h6.0v8.2h-6.0zM668.0 1384.0h1.5v8.2h-1.5zM672.5 1384.0h1.5v8.2h-1.5zM677.0 1384.0h6.0v8.2h-6.0zM684.5 1384.0h1.5v8.2h-1.5zM687.5 1384.0h3.0v8.2h-3.0zM692.0 1384.0h3.0v8.2h-3.0zM696.5 1384.0h1.5v8.2h-1.5zM699.5 1384.0h1.5v8.2h-1.5zM705.5 1384.0h3.0v8.2h-3.0zM711.5 1384.0h1.5v8.2h-1.5zM716.0 1384.0h6.0v8.2h-6.0zM723.5 1384.0h3.0v8.2h-3.0zM728.0 1384.0h1.5v8.2h-1.5zM731.0 1384.0h3.0v8.2h-3.0zM735.5 1384.0h4.5v8.2h-4.5zM741.5 1384.0h1.5v8.2h-1.5zM747.5 1384.0h7.5v8.2h-7.5zM756.5 1384.0h3.0v8.2h-3.0zM761.0 1384.0h4.5v8.2h-4.5zM767.0 1384.0h1.5v8.2h-1.5zM770.0 1384.0h12.0v8.2h-12.0zM785.0 1384.0h1.5v8.2h-1.5zM788.0 1384.0h1.5v8.2h-1.5zM791.0 1384.0h3.0v8.2h-3.0zM797.0 1384.0h4.5v8.2h-4.5zM803.0 1384.0h1.5v8.2h-1.5zM809.0 1384.0h4.5v8.2h-4.5zM815.0 1384.0h1.5v8.2h-1.5zM818.0 1384.0h6.0v8.2h-6.0zM825.5 1384.0h3.0v8.2h-3.0zM830.0 1384.0h1.5v8.2h-1.5zM833.0 1384.0h1.5v8.2h-1.5zM836.0 1384.0h3.0v8.2h-3.0zM840.5 1384.0h3.0v8.2h-3.0zM846.5 1384.0h3.0v8.2h-3.0zM851.0 1384.0h1.5v8.2h-1.5zM854.0 1384.0h1.5v8.2h-1.5zM857.0 1384.0h3.0v8.2h-3.0zM861.5 1384.0h6.0v8.2h-6.0zM869.0 1384.0h1.5v8.2h-1.5zM873.5 1384.0h1.5v8.2h-1.5zM878.0 1384.0h4.5v8.2h-4.5zM884.0 1384.0h9.0v8.2h-9.0zM894.5 1384.0h1.5v8.2h-1.5zM897.5 1384.0h3.0v8.2h-3.0zM902.0 1384.0h1.5v8.2h-1.5zM906.5 1384.0h1.5v8.2h-1.5zM909.5 1384.0h6.0v8.2h-6.0zM917.0 1384.0h1.5v8.2h-1.5zM923.0 1384.0h7.5v8.2h-7.5zM932.0 1384.0h3.0v8.2h-3.0zM936.5 1384.0h1.5v8.2h-1.5zM939.5 1384.0h4.5v8.2h-4.5zM947.0 1384.0h1.5v8.2h-1.5zM954.5 1384.0h3.0v8.2h-3.0zM960.5 1384.0h1.5v8.2h-1.5zM963.5 1384.0h4.5v8.2h-4.5zM971.0 1384.0h4.5v8.2h-4.5zM978.5 1384.0h3.0v8.2h-3.0zM983.0 1384.0h4.5v8.2h-4.5zM989.0 1384.0h3.0v8.2h-3.0zM998.0 1384.0h3.0v8.2h-3.0zM1002.5 1384.0h1.5v8.2h-1.5zM1007.0 1384.0h3.0v8.2h-3.0zM1011.5 1384.0h1.5v8.2h-1.5zM1016.0 1384.0h1.5v8.2h-1.5zM1020.5 1384.0h3.0v8.2h-3.0zM1025.0 1384.0h1.5v8.2h-1.5zM1032.5 1384.0h1.5v8.2h-1.5zM1035.5 1384.0h1.5v8.2h-1.5zM1038.5 1384.0h1.5v8.2h-1.5zM1043.0 1384.0h7.5v8.2h-7.5zM1052.0 1384.0h4.5v8.2h-4.5zM1068.5 1384.0h3.0v8.2h-3.0zM1073.0 1384.0h4.5v8.2h-4.5zM1080.5 1384.0h1.5v8.2h-1.5zM1083.5 1384.0h1.5v8.2h-1.5zM1088.0 1384.0h4.5v8.2h-4.5zM1097.0 1384.0h1.5v8.2h-1.5zM1100.0 1384.0h3.0v8.2h-3.0zM1104.5 1384.0h1.5v8.2h-1.5zM1107.5 1384.0h3.0v8.2h-3.0zM1112.0 1384.0h1.5v8.2h-1.5zM1115.0 1384.0h3.0v8.2h-3.0zM1119.5 1384.0h1.5v8.2h-1.5zM1125.5 1384.0h1.5v8.2h-1.5zM1128.5 1384.0h9.0v8.2h-9.0zM1140.5 1384.0h1.5v8.2h-1.5zM1143.5 1384.0h1.5v8.2h-1.5zM1149.5 1384.0h4.5v8.2h-4.5z" fill="#00ffff"/>
<rect x="165.5" y="1391.7" width="989" height="12.3" fill="#00ff00"/>
<path d="M167.8 1403.0h0.8v5.0h-0.8zM169.2 1403.0h1.5v5.0h-1.5zM171.5 1403.0h0.8v5.0h-0.8zM173.8 1403.0h1.5v5.0h-1.5zM176.8 1403.0h0.8v5.0h-0.8zM179.0 1403.0h0.8v5.0h-0.8zM180.5 1403.0h1.5v5.0h-1.5zM182.8 1403.0h3.0v5.0h-3.0zM186.5 1403.0h1.5v5.0h-1.5zM188.8 1403.0h2.2v5.0h-2.2zM191.8 1403.0h2.2v5.0h-2.2zM194.8 1403.0h2.2v5.0h-2.2zM198.5 1403.0h1.5v5.0h-1.5zM201.5 1403.0h1.5v5.0h-1.5zM203.8 1403.0h0.8v5.0h-0.8zM206.8 1403.0h5.2v5.0h-5.2zM212.8 1403.0h0.8v5.0h-0.8zM214.2 1403.0h0.8v5.0h-0.8zM215.8 1403.0h2.2v5.0h-2.2zM218.8 1403.0h4.5v5.0h-4.5zM224.0 1403.0h6.0v5.0h-6.0zM231.5 1403.0h0.8v5.0h-0.8zM233.0 1403.0h0.8v5.0h-0.8zM234.5 1403.0h12.0v5.0h-12.0zM247.2 1403.0h2.2v5.0h-2.2zM250.2 1403.0h0.8v5.0h-0.8zM253.2 1403.0h1.5v5.0h-1.5zM256.2 1403.0h0.8v5.0h-0.8zM257.8 1403.0h2.2v5.0h-2.2zM260.8 1403.0h2.2v5.0h-2.2zM264.5 1403.0h0.8v5.0h-0.8zM266.0 1403.0h1.5v5.0h-1.5zM268.2 1403.0h1.5v5.0h-1.5zM270.5 1403.0h1.5v5.0h-1.5zM274.2 1403.0h2.2v5.0h-2.2zM277.2 1403.0h0.8v5.0h-0.8zM279.5 1403.0h3.8v5.0h-3.8zM284.0 1403.0h0.8v5.0h-0.8zM287.0 1403.0h4.5v5.0h-4.5zM293.0 1403.0h0.8v5.0h-0.8zM294.5 1403.0h0.8v5.0h-0.8zM296.0 1403.0h2.2v5.0h-2.2zM299.0 1403.0h0.8v5.0h-0.8zM300.5 1403.0h1.5v5.0h-1.5zM305.8 1403.0h0.8v5.0h-0.8zM307.2 1403.0h4.5v5.0h-4.5zM313.2 1403.0h1.5v5.0h-1.5zM316.2 1403.0h1.5v5.0h-1.5zM318.5 1403.0h3.0v5.0h-3.0zM322.2 1403.0h3.8v5.0h-3.8zM326.8 1403.0h0.8v5.0h-0.8zM329.0 1403.0h1.5v5.0h-1.5zM331.2 1403.0h0.8v5.0h-0.8zM334.2 1403.0h0.8v5.0h-0.8zM335.8 1403.0h1.5v5.0h-1.5zM338.0 1403.0h1.5v5.0h-1.5zM341.0 1403.0h0.8v5.0h-0.8zM344.0 1403.0h3.8v5.0h-3.8zM349.2 1403.0h1.5v5.0h-1.5zM352.2 1403.0h1.5v5.0h-1.5zM354.5 1403.0h1.5v5.0h-1.5zM357.5 1403.0h2.2v5.0h-2.2zM362.0 1403.0h0.8v5.0h-0.8zM363.5 1403.0h0.8v5.0h-0.8zM365.0 1403.0h1.5v5.0h-1.5zM367.2 1403.0h0.8v5.0h-0.8zM369.5 1403.0h3.0v5.0h-3.0zM373.2 1403.0h2.2v5.0h-2.2zM376.2 1403.0h0.8v5.0h-0.8zM378.5 1403.0h0.8v5.0h-0.8zM380.0 1403.0h2.2v5.0h-2.2zM383.8 1403.0h0.8v5.0h-0.8zM385.2 1403.0h1.5v5.0h-1.5zM387.5 1403.0h0.8v5.0h-0.8zM389.0 1403.0h5.2v5.0h-5.2zM395.0 1403.0h3.8v5.0h-3.8zM399.5 1403.0h0.8v5.0h-0.8zM401.8 1403.0h0.8v5.0h-0.8zM404.0 1403.0h0.8v5.0h-0.8zM405.5 1403.0h0.8v5.0h-0.8zM407.8 1403.0h0.8v5.0h-0.8zM413.0 1403.0h5.2v5.0h-5.2zM419.0 1403.0h0.8v5.0h-0.8zM421.2 1403.0h0.8v5.0h-0.8zM422.8 1403.0h0.8v5.0h-0.8zM424.2 1403.0h2.2v5.0h-2.2zM428.8 1403.0h4.5v5.0h-4.5zM434.0 1403.0h3.0v5.0h-3.0zM437.8 1403.0h2.2v5.0h-2.2zM442.2 1403.0h0.8v5.0h-0.8zM443.8 1403.0h6.0v5.0h-6.0zM451.2 1403.0h2.2v5.0h-2.2zM456.5 1403.0h0.8v5.0h-0.8zM458.0 1403.0h1.5v5.0h-1.5zM460.2 1403.0h0.8v5.0h-0.8zM462.5 1403.0h1.5v5.0h-1.5zM465.5 1403.0h2.2v5.0h-2.2zM468.5 1403.0h3.0v5.0h-3.0zM472.2 1403.0h0.8v5.0h-0.8zM476.8 1403.0h0.8v5.0h-0.8zM479.0 1403.0h1.5v5.0h-1.5zM481.2 1403.0h3.8v5.0h-3.8zM486.5 1403.0h0.8v5.0h-0.8zM488.0 1403.0h1.5v5.0h-1.5zM490.2 1403.0h0.8v5.0h-0.8zM492.5 1403.0h3.8v5.0h-3.8zM497.8 1403.0h0.8v5.0h-0.8zM500.0 1403.0h3.8v5.0h-3.8zM505.2 1403.0h0.8v5.0h-0.8zM506.8 1403.0h0.8v5.0h-0.8zM508.2 1403.0h0.8v5.0h-0.8zM509.8 1403.0h1.5v5.0h-1.5zM512.0 1403.0h2.2v5.0h-2.2zM515.0 1403.0h2.2v5.0h-2.2zM519.5 1403.0h3.0v5.0h-3.0zM525.5 1403.0h0.8v5.0h-0.8zM527.0 1403.0h2.2v5.0h-2.2zM530.8 1403.0h0.8v5.0h-0.8zM533.0 1403.0h0.8v5.0h-0.8zM534.5 1403.0h8.2v5.0h-8.2zM543.5 1403.0h0.8v5.0h-0.8zM547.2 1403.0h0.8v5.0h-0.8zM550.2 1403.0h1.5v5.0h-1.5zM552.5 1403.0h4.5v5.0h-4.5zM557.8 1403.0h2.2v5.0h-2.2zM560.8 1403.0h1.5v5.0h-1.5zM563.0 1403.0h2.2v5.0h-2.2zM566.0 1403.0h0.8v5.0h-0.8zM569.8 1403.0h0.8v5.0h-0.8zM572.0 1403.0h8.2v5.0h-8.2zM583.2 1403.0h1.5v5.0h-1.5zM585.5 1403.0h0.8v5.0h-0.8zM587.0 1403.0h2.2v5.0h-2.2zM590.8 1403.0h0.8v5.0h-0.8zM593.0 1403.0h0.8v5.0h-0.8zM594.5 1403.0h2.2v5.0h-2.2zM597.5 1403.0h0.8v5.0h-0.8zM599.0 1403.0h3.0v5.0h-3.0zM602.8 1403.0h0.8v5.0h-0.8zM604.2 1403.0h3.0v5.0h-3.0zM608.0 1403.0h3.0v5.0h-3.0zM611.8 1403.0h0.8v5.0h-0.8zM614.0 1403.0h2.2v5.0h-2.2zM617.0 1403.0h2.2v5.0h-2.2zM620.0 1403.0h0.8v5.0h-0.8zM621.5 1403.0h6.8v5.0h-6.8zM629.0 1403.0h1.5v5.0h-1.5zM631.2 1403.0h0.8v5.0h-0.8zM633.5 1403.0h1.5v5.0h-1.5zM636.5 1403.0h0.8v5.0h-0.8zM638.0 1403.0h3.8v5.0h-3.8zM643.2 1403.0h5.2v5.0h-5.2zM650.0 1403.0h0.8v5.0h-0.8zM652.2 1403.0h3.0v5.0h-3.0zM656.0 1403.0h0.8v5.0h-0.8zM657.5 1403.0h3.0v5.0h-3.0zM661.2 1403.0h1.5v5.0h-1.5zM663.5 1403.0h1.5v5.0h-1.5zM666.5 1403.0h2.2v5.0h-2.2zM669.5 1403.0h3.0v5.0h-3.0zM673.2 1403.0h1.5v5.0h-1.5zM675.5 1403.0h0.8v5.0h-0.8zM678.5 1403.0h4.5v5.0h-4.5zM683.8 1403.0h1.5v5.0h-1.5zM686.8 1403.0h1.5v5.0h-1.5zM689.0 1403.0h3.0v5.0h-3.0zM693.5 1403.0h2.2v5.0h-2.2zM696.5 1403.0h1.5v5.0h-1.5zM698.8 1403.0h2.2v5.0h-2.2zM702.5 1403.0h3.0v5.0h-3.0zM710.0 1403.0h0.8v5.0h-0.8zM711.5 1403.0h1.5v5.0h-1.5zM713.8 1403.0h1.5v5.0h-1.5zM717.5 1403.0h5.2v5.0h-5.2zM723.5 1403.0h4.5v5.0h-4.5zM728.8 1403.0h0.8v5.0h-0.8zM731.0 1403.0h1.5v5.0h-1.5zM734.0 1403.0h3.0v5.0h-3.0zM739.2 1403.0h0.8v5.0h-0.8zM740.8 1403.0h2.2v5.0h-2.2zM743.8 1403.0h2.2v5.0h-2.2zM746.8 1403.0h4.5v5.0h-4.5zM752.0 1403.0h3.8v5.0h-3.8zM756.5 1403.0h0.8v5.0h-0.8zM758.8 1403.0h0.8v5.0h-0.8zM761.0 1403.0h1.5v5.0h-1.5zM764.0 1403.0h2.2v5.0h-2.2zM769.2 1403.0h3.0v5.0h-3.0zM773.0 1403.0h0.8v5.0h-0.8zM774.5 1403.0h0.8v5.0h-0.8zM776.0 1403.0h1.5v5.0h-1.5zM778.2 1403.0h1.5v5.0h-1.5zM783.5 1403.0h8.2v5.0h-8.2zM792.5 1403.0h0.8v5.0h-0.8zM794.8 1403.0h1.5v5.0h-1.5zM797.8 1403.0h0.8v5.0h-0.8zM799.2 1403.0h1.5v5.0h-1.5zM801.5 1403.0h0.8v5.0h-0.8zM803.8 1403.0h0.8v5.0h-0.8zM806.8 1403.0h0.8v5.0h-0.8zM810.5 1403.0h0.8v5.0h-0.8zM813.5 1403.0h1.5v5.0h-1.5zM815.8 1403.0h1.5v5.0h-1.5zM819.5 1403.0h1.5v5.0h-1.5zM821.8 1403.0h1.5v5.0h-1.5zM824.0 1403.0h3.8v5.0h-3.8zM828.5 1403.0h2.2v5.0h-2.2zM831.5 1403.0h1.5v5.0h-1.5zM836.8 1403.0h0.8v5.0h-0.8zM839.0 1403.0h6.8v5.0h-6.8zM846.5 1403.0h2.2v5.0h-2.2zM849.5 1403.0h4.5v5.0h-4.5zM854.8 1403.0h1.5v5.0h-1.5zM857.0 1403.0h3.8v5.0h-3.8zM863.8 1403.0h0.8v5.0h-0.8zM866.8 1403.0h1.5v5.0h-1.5zM870.5 1403.0h3.0v5.0h-3.0zM874.2 1403.0h1.5v5.0h-1.5zM880.2 1403.0h0.8v5.0h-0.8zM882.5 1403.0h1.5v5.0h-1.5zM884.8 1403.0h1.5v5.0h-1.5zM887.0 1403.0h0.8v5.0h-0.8zM888.5 1403.0h0.8v5.0h-0.8zM890.0 1403.0h2.2v5.0h-2.2zM893.0 1403.0h4.5v5.0h-4.5zM898.2 1403.0h1.5v5.0h-1.5zM901.2 1403.0h4.5v5.0h-4.5zM906.5 1403.0h2.2v5.0h-2.2zM909.5 1403.0h1.5v5.0h-1.5zM911.8 1403.0h3.0v5.0h-3.0zM915.5 1403.0h3.0v5.0h-3.0zM919.2 1403.0h2.2v5.0h-2.2zM922.2 1403.0h0.8v5.0h-0.8zM923.8 1403.0h0.8v5.0h-0.8zM925.2 1403.0h1.5v5.0h-1.5zM927.5 1403.0h0.8v5.0h-0.8zM929.8 1403.0h2.2v5.0h-2.2zM932.8 1403.0h1.5v5.0h-1.5zM935.0 1403.0h1.5v5.0h-1.5zM937.2 1403.0h0.8v5.0h-0.8zM939.5 1403.0h0.8v5.0h-0.8zM944.0 1403.0h0.8v5.0h-0.8zM946.2 1403.0h3.0v5.0h-3.0zM950.8 1403.0h1.5v5.0h-1.5zM956.0 1403.0h0.8v5.0h-0.8zM957.5 1403.0h0.8v5.0h-0.8zM959.0 1403.0h2.2v5.0h-2.2zM962.8 1403.0h0.8v5.0h-0.8zM964.2 1403.0h1.5v5.0h-1.5zM966.5 1403.0h3.0v5.0h-3.0zM970.2 1403.0h0.8v5.0h-0.8zM971.8 1403.0h1.5v5.0h-1.5zM974.0 1403.0h1.5v5.0h-1.5zM977.0 1403.0h0.8v5.0h-0.8zM978.5 1403.0h3.0v5.0h-3.0zM982.2 1403.0h1.5v5.0h-1.5zM984.5 1403.0h9.0v5.0h-9.0zM995.0 1403.0h0.8v5.0h-0.8zM997.2 1403.0h0.8v5.0h-0.8zM999.5 1403.0h1.5v5.0h-1.5zM1001.8 1403.0h0.8v5.0h-0.8zM1003.2 1403.0h0.8v5.0h-0.8zM1004.8 1403.0h0.8v5.0h-0.8zM1007.0 1403.0h1.5v5.0h-1.5zM1009.2 1403.0h0.8v5.0h-0.8zM1013.8 1403.0h1.5v5.0h-1.5zM1017.5 1403.0h3.0v5.0h-3.0zM1021.2 1403.0h0.8v5.0h-0.8zM1025.0 1403.0h0.8v5.0h-0.8zM1027.2 1403.0h0.8v5.0h-0.8zM1029.5 1403.0h1.5v5.0h-1.5zM1032.5 1403.0h1.5v5.0h-1.5zM1034.8 1403.0h0.8v5.0h-0.8zM1039.2 1403.0h0.8v5.0h-0.8zM1040.8 1403.0h0.8v5.0h-0.8zM1043.0 1403.0h3.0v5.0h-3.0zM1046.8 1403.0h1.5v5.0h-1.5zM1049.0 1403.0h2.2v5.0h-2.2zM1052.0 1403.0h3.8v5.0h-3.8zM1057.2 1403.0h3.0v5.0h-3.0zM1061.0 1403.0h0.8v5.0h-0.8zM1062.5 1403.0h0.8v5.0h-0.8zM1064.8 1403.0h5.2v5.0h-5.2zM1070.8 1403.0h0.8v5.0h-0.8zM1073.0 1403.0h2.2v5.0h-2.2zM1076.8 1403.0h2.2v5.0h-2.2zM1079.8 1403.0h2.2v5.0h-2.2zM1082.8 1403.0h3.0v5.0h-3.0zM1086.5 1403.0h1.5v5.0h-1.5zM1089.5 1403.0h1.5v5.0h-1.5zM1091.8 1403.0h0.8v5.0h-0.8zM1094.8 1403.0h3.0v5.0h-3.0zM1099.2 1403.0h0.8v5.0h-0.8zM1100.8 1403.0h3.0v5.0h-3.0zM1104.5 1403.0h1.5v5.0h-1.5zM1106.8 1403.0h0.8v5.0h-0.8zM1109.0 1403.0h3.0v5.0h-3.0zM1113.5 1403.0h2.2v5.0h-2.2zM1116.5 1403.0h3.0v5.0h-3.0zM1121.8 1403.0h0.8v5.0h-0.8zM1123.2 1403.0h2.2v5.0h-2.2zM1126.2 1403.0h3.0v5.0h-3.0zM1130.8 1403.0h0.8v5.0h-0.8zM1132.2 1403.0h1.5v5.0h-1.5zM1134.5 1403.0h3.0v5.0h-3.0zM1138.2 1403.0h0.8v5.0h-0.8zM1139.8 1403.0h0.8v5.0h-0.8zM1141.2 1403.0h0.8v5.0h-0.8zM1143.5 1403.0h3.8v5.0h-3.8zM1148.0 1403.0h1.5v5.0h-1.5zM1151.0 1403.0h0.8v5.0h-0.8zM1153.2 1403.0h0.8v5.0h-0.8z" fill="#00ff00"/>
<rect x="165.5" y="1384" width="1.2" height="36" fill="#00ff00"/>
<rect x="165.5" y="1391.2" width="989" height="12.3" fill="#ffff00"/>
<path d="M165.5 1384.0h3.0v7.7h-3.0zM173.0 1384.0h3.0v7.7h-3.0zM177.5 1384.0h7.5v7.7h-7.5zM186.5 1384.0h1.5v7.7h-1.5zM189.5 1384.0h3.0v7.7h-3.0zM194.0 1384.0h4.5v7.7h-4.5zM200.0 1384.0h10.5v7.7h-10.5zM213.5 1384.0h1.5v7.7h-1.5zM216.5 1384.0h1.5v7.7h-1.5zM221.0 1384.0h1.5v7.7h-1.5zM225.5 1384.0h7.5v7.7h-7.5zM234.5 1384.0h1.5v7.7h-1.5zM237.5 1384.0h7.5v7.7h-7.5zM246.5 1384.0h4.5v7.7h-4.5zM254.0 1384.0h1.5v7.7h-1.5zM257.0 1384.0h3.0v7.7h-3.0zM261.5 1384.0h6.0v7.7h-6.0zM269.0 1384.0h3.0v7.7h-3.0zM276.5 1384.0h4.5v7.7h-4.5zM284.0 1384.0h4.5v7.7h-4.5zM290.0 1384.0h3.0v7.7h-3.0zM294.5 1384.0h3.0v7.7h-3.0zM299.0 1384.0h1.5v7.7h-1.5zM306.5 1384.0h3.0v7.7h-3.0zM311.0 1384.0h6.0v7.7h-6.0zM318.5 1384.0h1.5v7.7h-1.5zM321.5 1384.0h1.5v7.7h-1.5zM324.5 1384.0h1.5v7.7h-1.5zM327.5 1384.0h6.0v7.7h-6.0zM335.0 1384.0h6.0v7.7h-6.0zM342.5 1384.0h1.5v7.7h-1.5zM347.0 1384.0h1.5v7.7h-1.5zM353.0 1384.0h1.5v7.7h-1.5zM356.0 1384.0h3.0v7.7h-3.0zM360.5 1384.0h1.5v7.7h-1.5zM363.5 1384.0h1.5v7.7h-1.5zM366.5 1384.0h3.0v7.7h-3.0zM372.5 1384.0h9.0v7.7h-9.0zM384.5 1384.0h7.5v7.7h-7.5zM393.5 1384.0h1.5v7.7h-1.5zM396.5 1384.0h4.5v7.7h-4.5zM404.0 1384.0h3.0v7.7h-3.0zM408.5 1384.0h7.5v7.7h-7.5zM417.5 1384.0h1.5v7.7h-1.5zM422.0 1384.0h7.5v7.7h-7.5zM432.5 1384.0h1.5v7.7h-1.5zM435.5 1384.0h6.0v7.7h-6.0zM443.0 1384.0h1.5v7.7h-1.5zM452.0 1384.0h1.5v7.7h-1.5zM455.0 1384.0h4.5v7.7h-4.5zM465.5 1384.0h3.0v7.7h-3.0zM470.0 1384.0h7.5v7.7h-7.5zM479.0 1384.0h7.5v7.7h-7.5zM488.0 1384.0h1.5v7.7h-1.5zM492.5 1384.0h3.0v7.7h-3.0zM500.0 1384.0h3.0v7.7h-3.0zM504.5 1384.0h3.0v7.7h-3.0zM510.5 1384.0h1.5v7.7h-1.5zM518.0 1384.0h1.5v7.7h-1.5zM521.0 1384.0h4.5v7.7h-4.5zM528.5 1384.0h7.5v7.7h-7.5zM539.0 1384.0h4.5v7.7h-4.5zM552.5 1384.0h3.0v7.7h-3.0zM557.0 1384.0h1.5v7.7h-1.5zM561.5 1384.0h1.5v7.7h-1.5zM566.0 1384.0h1.5v7.7h-1.5zM569.0 1384.0h3.0v7.7h-3.0zM576.5 1384.0h3.0v7.7h-3.0zM581.0 1384.0h3.0v7.7h-3.0zM585.5 1384.0h1.5v7.7h-1.5zM594.5 1384.0h3.0v7.7h-3.0zM599.0 1384.0h3.0v7.7h-3.0zM603.5 1384.0h1.5v7.7h-1.5zM606.5 1384.0h3.0v7.7h-3.0zM611.0 1384.0h3.0v7.7h-3.0zM617.0 1384.0h1.5v7.7h-1.5zM620.0 1384.0h3.0v7.7h-3.0zM627.5 1384.0h4.5v7.7h-4.5zM633.5 1384.0h3.0v7.7h-3.0zM638.0 1384.0h3.0v7.7h-3.0z" fill="#ffff00"/>
<path d="M640.0 1384.0h103.0v7.7h-103.0zM744.0 1384.0h12.0v7.7h-12.0zM757.0 1384.0h2.0v7.7h-2.0zM760.0 1384.0h4.0v7.7h-4.0zM765.0 1384.0h35.0v7.7h-35.0zM802.0 1384.0h28.0v7.7h-28.0zM832.0 1384.0h3.0v7.7h-3.0zM836.0 1384.0h2.0v7.7h-2.0zM839.0 1384.0h6.0v7.7h-6.0zM848.0 1384.0h16.0v7.7h-16.0zM866.0 1384.0h6.0v7.7h-6.0zM873.0 1384.0h27.0v7.7h-27.0zM901.0 1384.0h2.0v7.7h-2.0zM904.0 1384.0h9.0v7.7h-9.0zM914.0 1384.0h18.0v7.7h-18.0zM933.0 1384.0h12.0v7.7h-12.0zM946.0 1384.0h11.0v7.7h-11.0zM959.0 1384.0h19.0v7.7h-19.0zM979.0 1384.0h7.0v7.7h-7.0zM987.0 1384.0h28.0v7.7h-28.0zM1016.0 1384.0h11.0v7.7h-11.0zM1028.0 1384.0h2.0v7.7h-2.0zM1031.0 1384.0h26.0v7.7h-26.0zM1058.0 1384.0h17.0v7.7h-17.0zM1076.0 1384.0h15.0v7.7h-15.0zM1092.0 1384.0h1.0v7.7h-1.0zM1094.0 1384.0h4.0v7.7h-4.0zM1099.0 1384.0h1.0v7.7h-1.0zM1101.0 1384.0h4.0v7.7h-4.0zM1106.0 1384.0h34.0v7.7h-34.0zM1141.0 1384.0h14.0v7.7h-14.0z" fill="#ffff00"/>
<path d="M165.5 1403.0h7.2v7.6h-7.2zM175.1 1403.0h4.8v7.6h-4.8zM181.1 1403.0h1.2v7.6h-1.2zM183.5 1403.0h3.6v7.6h-3.6zM188.3 1403.0h1.2v7.6h-1.2zM191.9 1403.0h4.8v7.6h-4.8zM199.1 1403.0h1.2v7.6h-1.2zM201.5 1403.0h30.0v7.6h-30.0zM232.7 1403.0h6.0v7.6h-6.0zM239.9 1403.0h6.0v7.6h-6.0zM248.3 1403.0h9.6v7.6h-9.6zM260.3 1403.0h7.2v7.6h-7.2zM268.7 1403.0h3.6v7.6h-3.6zM275.9 1403.0h2.4v7.6h-2.4zM279.5 1403.0h1.2v7.6h-1.2zM281.9 1403.0h14.4v7.6h-14.4zM298.7 1403.0h3.6v7.6h-3.6zM303.5 1403.0h19.2v7.6h-19.2zM323.9 1403.0h7.2v7.6h-7.2zM332.3 1403.0h3.6v7.6h-3.6zM337.1 1403.0h12.0v7.6h-12.0zM350.3 1403.0h13.2v7.6h-13.2zM364.7 1403.0h10.8v7.6h-10.8zM376.7 1403.0h1.2v7.6h-1.2zM379.1 1403.0h1.2v7.6h-1.2zM381.5 1403.0h8.4v7.6h-8.4zM391.1 1403.0h8.4v7.6h-8.4zM401.9 1403.0h1.2v7.6h-1.2zM404.3 1403.0h12.0v7.6h-12.0zM417.5 1403.0h1.2v7.6h-1.2zM419.9 1403.0h1.2v7.6h-1.2zM422.3 1403.0h7.2v7.6h-7.2zM430.7 1403.0h6.0v7.6h-6.0zM437.9 1403.0h14.4v7.6h-14.4zM453.5 1403.0h10.8v7.6h-10.8zM465.5 1403.0h1.2v7.6h-1.2zM467.9 1403.0h7.2v7.6h-7.2zM476.3 1403.0h2.4v7.6h-2.4zM481.1 1403.0h3.6v7.6h-3.6zM485.9 1403.0h9.6v7.6h-9.6zM496.7 1403.0h4.8v7.6h-4.8zM502.7 1403.0h8.4v7.6h-8.4zM512.3 1403.0h6.0v7.6h-6.0zM519.5 1403.0h2.4v7.6h-2.4zM523.1 1403.0h4.8v7.6h-4.8zM530.3 1403.0h2.4v7.6h-2.4zM533.9 1403.0h28.8v7.6h-28.8zM563.9 1403.0h9.6v7.6h-9.6zM575.9 1403.0h1.2v7.6h-1.2zM578.3 1403.0h4.8v7.6h-4.8zM584.3 1403.0h3.6v7.6h-3.6zM589.1 1403.0h1.2v7.6h-1.2zM592.7 1403.0h24.0v7.6h-24.0zM617.9 1403.0h8.4v7.6h-8.4zM629.9 1403.0h4.8v7.6h-4.8zM635.9 1403.0h4.8v7.6h-4.8z" fill="#ffff00"/>
<path d="M648.4 1403.0h2.4v7.6h-2.4zM654.4 1403.0h4.8v7.6h-4.8zM673.6 1403.0h3.6v7.6h-3.6zM678.4 1403.0h1.2v7.6h-1.2zM686.8 1403.0h1.2v7.6h-1.2zM691.6 1403.0h1.2v7.6h-1.2zM708.4 1403.0h2.4v7.6h-2.4zM712.0 1403.0h2.4v7.6h-2.4zM716.8 1403.0h1.2v7.6h-1.2zM721.6 1403.0h1.2v7.6h-1.2zM726.4 1403.0h1.2v7.6h-1.2zM731.2 1403.0h2.4v7.6h-2.4zM734.8 1403.0h1.2v7.6h-1.2zM749.2 1403.0h2.4v7.6h-2.4zM752.8 1403.0h1.2v7.6h-1.2zM757.6 1403.0h4.8v7.6h-4.8zM766.0 1403.0h2.4v7.6h-2.4zM775.6 1403.0h1.2v7.6h-1.2zM780.4 1403.0h2.4v7.6h-2.4zM790.0 1403.0h2.4v7.6h-2.4zM794.8 1403.0h3.6v7.6h-3.6zM799.6 1403.0h2.4v7.6h-2.4zM804.4 1403.0h3.6v7.6h-3.6zM810.4 1403.0h1.2v7.6h-1.2zM812.8 1403.0h1.2v7.6h-1.2zM817.6 1403.0h2.4v7.6h-2.4zM821.2 1403.0h1.2v7.6h-1.2zM823.6 1403.0h2.4v7.6h-2.4zM832.0 1403.0h3.6v7.6h-3.6zM846.4 1403.0h1.2v7.6h-1.2zM856.0 1403.0h1.2v7.6h-1.2zM863.2 1403.0h1.2v7.6h-1.2zM866.8 1403.0h2.4v7.6h-2.4zM872.8 1403.0h1.2v7.6h-1.2zM876.4 1403.0h1.2v7.6h-1.2zM890.8 1403.0h3.6v7.6h-3.6zM896.8 1403.0h1.2v7.6h-1.2zM899.2 1403.0h1.2v7.6h-1.2zM902.8 1403.0h1.2v7.6h-1.2zM910.0 1403.0h2.4v7.6h-2.4zM916.0 1403.0h1.2v7.6h-1.2zM919.6 1403.0h1.2v7.6h-1.2zM923.2 1403.0h1.2v7.6h-1.2zM925.6 1403.0h1.2v7.6h-1.2zM929.2 1403.0h1.2v7.6h-1.2zM931.6 1403.0h1.2v7.6h-1.2zM942.4 1403.0h1.2v7.6h-1.2zM947.2 1403.0h1.2v7.6h-1.2zM950.8 1403.0h2.4v7.6h-2.4zM954.4 1403.0h1.2v7.6h-1.2zM956.8 1403.0h1.2v7.6h-1.2zM960.4 1403.0h1.2v7.6h-1.2zM965.2 1403.0h2.4v7.6h-2.4zM968.8 1403.0h2.4v7.6h-2.4zM974.8 1403.0h1.2v7.6h-1.2zM986.8 1403.0h1.2v7.6h-1.2zM989.2 1403.0h4.8v7.6h-4.8zM997.6 1403.0h1.2v7.6h-1.2zM1003.6 1403.0h1.2v7.6h-1.2zM1007.2 1403.0h1.2v7.6h-1.2zM1009.6 1403.0h1.2v7.6h-1.2zM1012.0 1403.0h1.2v7.6h-1.2zM1014.4 1403.0h1.2v7.6h-1.2zM1018.0 1403.0h1.2v7.6h-1.2zM1020.4 1403.0h1.2v7.6h-1.2zM1025.2 1403.0h2.4v7.6h-2.4zM1030.0 1403.0h2.4v7.6h-2.4zM1039.6 1403.0h2.4v7.6h-2.4zM1043.2 1403.0h1.2v7.6h-1.2zM1045.6 1403.0h1.2v7.6h-1.2zM1048.0 1403.0h1.2v7.6h-1.2zM1052.8 1403.0h1.2v7.6h-1.2zM1056.4 1403.0h2.4v7.6h-2.4zM1061.2 1403.0h2.4v7.6h-2.4zM1069.6 1403.0h1.2v7.6h-1.2zM1072.0 1403.0h1.2v7.6h-1.2zM1074.4 1403.0h2.4v7.6h-2.4zM1084.0 1403.0h2.4v7.6h-2.4zM1090.0 1403.0h4.8v7.6h-4.8zM1097.2 1403.0h1.2v7.6h-1.2zM1106.8 1403.0h1.2v7.6h-1.2zM1112.8 1403.0h1.2v7.6h-1.2zM1116.4 1403.0h1.2v7.6h-1.2zM1122.4 1403.0h2.4v7.6h-2.4zM1126.0 1403.0h4.8v7.6h-4.8zM1132.0 1403.0h2.4v7.6h-2.4zM1136.8 1403.0h1.2v7.6h-1.2zM1140.4 1403.0h1.2v7.6h-1.2zM1145.2 1403.0h1.2v7.6h-1.2zM1147.6 1403.0h1.2v7.6h-1.2z" fill="#ffff00"/>
<path d="M237.5 1410.6h1.8v8.0h-1.8zM266.3 1410.6h3.6v8.0h-3.6zM282.5 1410.6h1.8v8.0h-1.8zM320.3 1410.6h1.8v8.0h-1.8zM341.9 1410.6h1.8v8.0h-1.8zM349.1 1410.6h1.8v8.0h-1.8zM367.1 1410.6h1.8v8.0h-1.8zM388.7 1410.6h1.8v8.0h-1.8zM419.3 1410.6h1.8v8.0h-1.8zM444.5 1410.6h3.6v8.0h-3.6zM455.3 1410.6h1.8v8.0h-1.8zM482.3 1410.6h1.8v8.0h-1.8zM500.3 1410.6h1.8v8.0h-1.8zM503.9 1410.6h1.8v8.0h-1.8zM507.5 1410.6h1.8v8.0h-1.8zM525.5 1410.6h1.8v8.0h-1.8zM532.7 1410.6h1.8v8.0h-1.8zM574.1 1410.6h1.8v8.0h-1.8zM579.5 1410.6h1.8v8.0h-1.8zM606.5 1410.6h1.8v8.0h-1.8zM615.5 1410.6h1.8v8.0h-1.8zM626.3 1410.6h1.8v8.0h-1.8z" fill="#ffff00"/>
<path d="M805.6 1410.6h1.8v8.0h-1.8zM924.4 1410.6h1.8v8.0h-1.8z" fill="#ffff00"/>
<rect x="165.8" y="1384" width="1.3" height="60" fill="#ffff00"/>
<rect x="165.5" y="1308.5" width="989" height="161" fill="none" stroke="#262626" stroke-width="1" shape-rendering="crispEdges"/>
<line x1="412.5" y1="1469.5" x2="412.5" y2="1459" stroke="#262626" stroke-width="1" shape-rendering="crispEdges"/>
<line x1="412.5" y1="1308.5" x2="412.5" y2="1319" stroke="#262626" stroke-width="1" shape-rendering="crispEdges"/>
<line x1="660.5" y1="1469.5" x2="660.5" y2="1459" stroke="#262626" stroke-width="1" shape-rendering="crispEdges"/>
<line x1="660.5" y1="1308.5" x2="660.5" y2="1319" stroke="#262626" stroke-width="1" shape-rendering="crispEdges"/>
<line x1="907.5" y1="1469.5" x2="907.5" y2="1459" stroke="#262626" stroke-width="1" shape-rendering="crispEdges"/>
<line x1="907.5" y1="1308.5" x2="907.5" y2="1319" stroke="#262626" stroke-width="1" shape-rendering="crispEdges"/>
<text x="155.6" y="1315.4" font-family="'DejaVu Sans', 'Liberation Sans', sans-serif" font-size="21.2" font-weight="normal" text-anchor="end" fill="#262626">100</text>
<text x="155.6" y="1395.7" font-family="'DejaVu Sans', 'Liberation Sans', sans-serif" font-size="21.2" font-weight="normal" text-anchor="end" fill="#262626">0</text>
<text x="155.6" y="1476.2" font-family="'DejaVu Sans', 'Liberation Sans', sans-serif" font-size="21.2" font-weight="normal" text-anchor="end" fill="#262626">-100</text>
<text x="73" y="1388" font-family="'DejaVu Sans', 'Liberation Sans', sans-serif" font-size="18.75" font-weight="bold" text-anchor="middle" fill="#262626" transform="rotate(-90 73 1388)">Voltage</text>
<text x="98" y="1388" font-family="'DejaVu Sans', 'Liberation Sans', sans-serif" font-size="18.75" font-weight="bold" text-anchor="middle" fill="#262626" transform="rotate(-90 98 1388)">(mV)</text>
<text x="1170" y="1439.8" font-family="'DejaVu Sans', 'Liberation Sans', sans-serif" font-size="14.58" font-weight="bold" text-anchor="start" fill="#000" transform="rotate(-90 1170 1439.8)">Inboard VMon1</text>
<text x="1182.3" y="1439.8" font-family="'DejaVu Sans', 'Liberation Sans', sans-serif" font-size="14.58" font-weight="bold" text-anchor="start" fill="#000" transform="rotate(-90 1182.3 1439.8)">Inboard VMon2</text>
<text x="1193.6" y="1447.4" font-family="'DejaVu Sans', 'Liberation Sans', sans-serif" font-size="14.58" font-weight="bold" text-anchor="start" fill="#000" transform="rotate(-90 1193.6 1447.4)">Outboard VMon1</text>
<text x="1205.3" y="1447.4" font-family="'DejaVu Sans', 'Liberation Sans', sans-serif" font-size="14.58" font-weight="bold" text-anchor="start" fill="#000" transform="rotate(-90 1205.3 1447.4)">Outboard VMon2</text>
<line x1="1167.9" y1="1462.4" x2="1167.9" y2="1478" stroke="#0000ff" stroke-width="1.6"/>
<line x1="1179.6" y1="1462.4" x2="1179.6" y2="1478" stroke="#00ffff" stroke-width="1.6"/>
<line x1="1191.7" y1="1462.4" x2="1191.7" y2="1478" stroke="#00ff00" stroke-width="1.6"/>
<line x1="1203" y1="1462.4" x2="1203" y2="1478" stroke="#ffff00" stroke-width="1.6"/>
<text x="41" y="1498.9" font-family="'DejaVu Sans', 'Liberation Sans', sans-serif" font-size="14.58" font-weight="bold" text-anchor="start" fill="#000">Time:</text>
<text x="165.2" y="1498.9" font-family="'DejaVu Sans', 'Liberation Sans', sans-serif" font-size="14.58" font-weight="bold" text-anchor="middle" fill="#000">21:49:10</text>
<text x="412.6" y="1498.9" font-family="'DejaVu Sans', 'Liberation Sans', sans-serif" font-size="14.58" font-weight="bold" text-anchor="middle" fill="#000">22:14:60</text>
<text x="660.2" y="1498.9" font-family="'DejaVu Sans', 'Liberation Sans', sans-serif" font-size="14.58" font-weight="bold" text-anchor="middle" fill="#000">22:40:50</text>
<text x="907.6" y="1498.9" font-family="'DejaVu Sans', 'Liberation Sans', sans-serif" font-size="14.58" font-weight="bold" text-anchor="middle" fill="#000">23:06:40</text>
<text x="1155" y="1498.9" font-family="'DejaVu Sans', 'Liberation Sans', sans-serif" font-size="14.58" font-weight="bold" text-anchor="middle" fill="#000">23:32:30</text>
<text x="41" y="1518.9" font-family="'DejaVu Sans', 'Liberation Sans', sans-serif" font-size="14.58" font-weight="bold" text-anchor="start" fill="#000">Rad(km):</text>
<text x="165.2" y="1518.9" font-family="'DejaVu Sans', 'Liberation Sans', sans-serif" font-size="14.58" font-weight="bold" text-anchor="middle" fill="#000">6708.1</text>
<text x="412.6" y="1518.9" font-family="'DejaVu Sans', 'Liberation Sans', sans-serif" font-size="14.58" font-weight="bold" text-anchor="middle" fill="#000">7188.8</text>
<text x="660.2" y="1518.9" font-family="'DejaVu Sans', 'Liberation Sans', sans-serif" font-size="14.58" font-weight="bold" text-anchor="middle" fill="#000">7650.1</text>
<text x="907.6" y="1518.9" font-family="'DejaVu Sans', 'Liberation Sans', sans-serif" font-size="14.58" font-weight="bold" text-anchor="middle" fill="#000">7199.2</text>
<text x="1155" y="1518.9" font-family="'DejaVu Sans', 'Liberation Sans', sans-serif" font-size="14.58" font-weight="bold" text-anchor="middle" fill="#000">6707.2</text>
<text x="41" y="1539.5" font-family="'DejaVu Sans', 'Liberation Sans', sans-serif" font-size="14.58" font-weight="bold" text-anchor="start" fill="#000">Lat:</text>
<text x="165.2" y="1539.5" font-family="'DejaVu Sans', 'Liberation Sans', sans-serif" font-size="14.58" font-weight="bold" text-anchor="middle" fill="#000">-80.4</text>
<text x="412.6" y="1539.5" font-family="'DejaVu Sans', 'Liberation Sans', sans-serif" font-size="14.58" font-weight="bold" text-anchor="middle" fill="#000">7.0</text>
<text x="660.2" y="1539.5" font-family="'DejaVu Sans', 'Liberation Sans', sans-serif" font-size="14.58" font-weight="bold" text-anchor="middle" fill="#000">80.8</text>
<text x="907.6" y="1539.5" font-family="'DejaVu Sans', 'Liberation Sans', sans-serif" font-size="14.58" font-weight="bold" text-anchor="middle" fill="#000">3.6</text>
<text x="1155" y="1539.5" font-family="'DejaVu Sans', 'Liberation Sans', sans-serif" font-size="14.58" font-weight="bold" text-anchor="middle" fill="#000">-78.8</text>
<text x="41" y="1560.4" font-family="'DejaVu Sans', 'Liberation Sans', sans-serif" font-size="14.58" font-weight="bold" text-anchor="start" fill="#000">Lon:</text>
<text x="165.2" y="1560.4" font-family="'DejaVu Sans', 'Liberation Sans', sans-serif" font-size="14.58" font-weight="bold" text-anchor="middle" fill="#000">-19.3</text>
<text x="412.6" y="1560.4" font-family="'DejaVu Sans', 'Liberation Sans', sans-serif" font-size="14.58" font-weight="bold" text-anchor="middle" fill="#000">85.3</text>
<text x="660.2" y="1560.4" font-family="'DejaVu Sans', 'Liberation Sans', sans-serif" font-size="14.58" font-weight="bold" text-anchor="middle" fill="#000">179.1</text>
<text x="907.6" y="1560.4" font-family="'DejaVu Sans', 'Liberation Sans', sans-serif" font-size="14.58" font-weight="bold" text-anchor="middle" fill="#000">-109.4</text>
<text x="1155" y="1560.4" font-family="'DejaVu Sans', 'Liberation Sans', sans-serif" font-size="14.58" font-weight="bold" text-anchor="middle" fill="#000">10.9</text>
<text x="41" y="1580.4" font-family="'DejaVu Sans', 'Liberation Sans', sans-serif" font-size="14.58" font-weight="bold" text-anchor="start" fill="#000">Mlat:</text>
<text x="165.2" y="1580.4" font-family="'DejaVu Sans', 'Liberation Sans', sans-serif" font-size="14.58" font-weight="bold" text-anchor="middle" fill="#000">-73.0</text>
<text x="412.6" y="1580.4" font-family="'DejaVu Sans', 'Liberation Sans', sans-serif" font-size="14.58" font-weight="bold" text-anchor="middle" fill="#000">-1.7</text>
<text x="660.2" y="1580.4" font-family="'DejaVu Sans', 'Liberation Sans', sans-serif" font-size="14.58" font-weight="bold" text-anchor="middle" fill="#000">74.9</text>
<text x="907.6" y="1580.4" font-family="'DejaVu Sans', 'Liberation Sans', sans-serif" font-size="14.58" font-weight="bold" text-anchor="middle" fill="#000">11.1</text>
<text x="1155" y="1580.4" font-family="'DejaVu Sans', 'Liberation Sans', sans-serif" font-size="14.58" font-weight="bold" text-anchor="middle" fill="#000">-74.6</text>
<text x="41" y="1601.5" font-family="'DejaVu Sans', 'Liberation Sans', sans-serif" font-size="14.58" font-weight="bold" text-anchor="start" fill="#000">Mlt:</text>
<text x="165.2" y="1601.5" font-family="'DejaVu Sans', 'Liberation Sans', sans-serif" font-size="14.58" font-weight="bold" text-anchor="middle" fill="#000">19.035</text>
<text x="412.6" y="1601.5" font-family="'DejaVu Sans', 'Liberation Sans', sans-serif" font-size="14.58" font-weight="bold" text-anchor="middle" fill="#000">4.188</text>
<text x="660.2" y="1601.5" font-family="'DejaVu Sans', 'Liberation Sans', sans-serif" font-size="14.58" font-weight="bold" text-anchor="middle" fill="#000">8.455</text>
<text x="907.6" y="1601.5" font-family="'DejaVu Sans', 'Liberation Sans', sans-serif" font-size="14.58" font-weight="bold" text-anchor="middle" fill="#000">15.997</text>
<text x="1155" y="1601.5" font-family="'DejaVu Sans', 'Liberation Sans', sans-serif" font-size="14.58" font-weight="bold" text-anchor="middle" fill="#000">22.015</text>
<text x="22" y="1639.4" font-family="'DejaVu Sans', 'Liberation Sans', sans-serif" font-size="14.58" font-weight="bold" text-anchor="start" fill="#000">MGF Quicklook using MGF_20190623_214909_233229_v2.1.0.lv2 on 23-Nov-2021 20:37:06 (calibration from cas_mgf_7day_cal_2019_06_21_v2.1.mat )</text>
</svg>
</body></html>
